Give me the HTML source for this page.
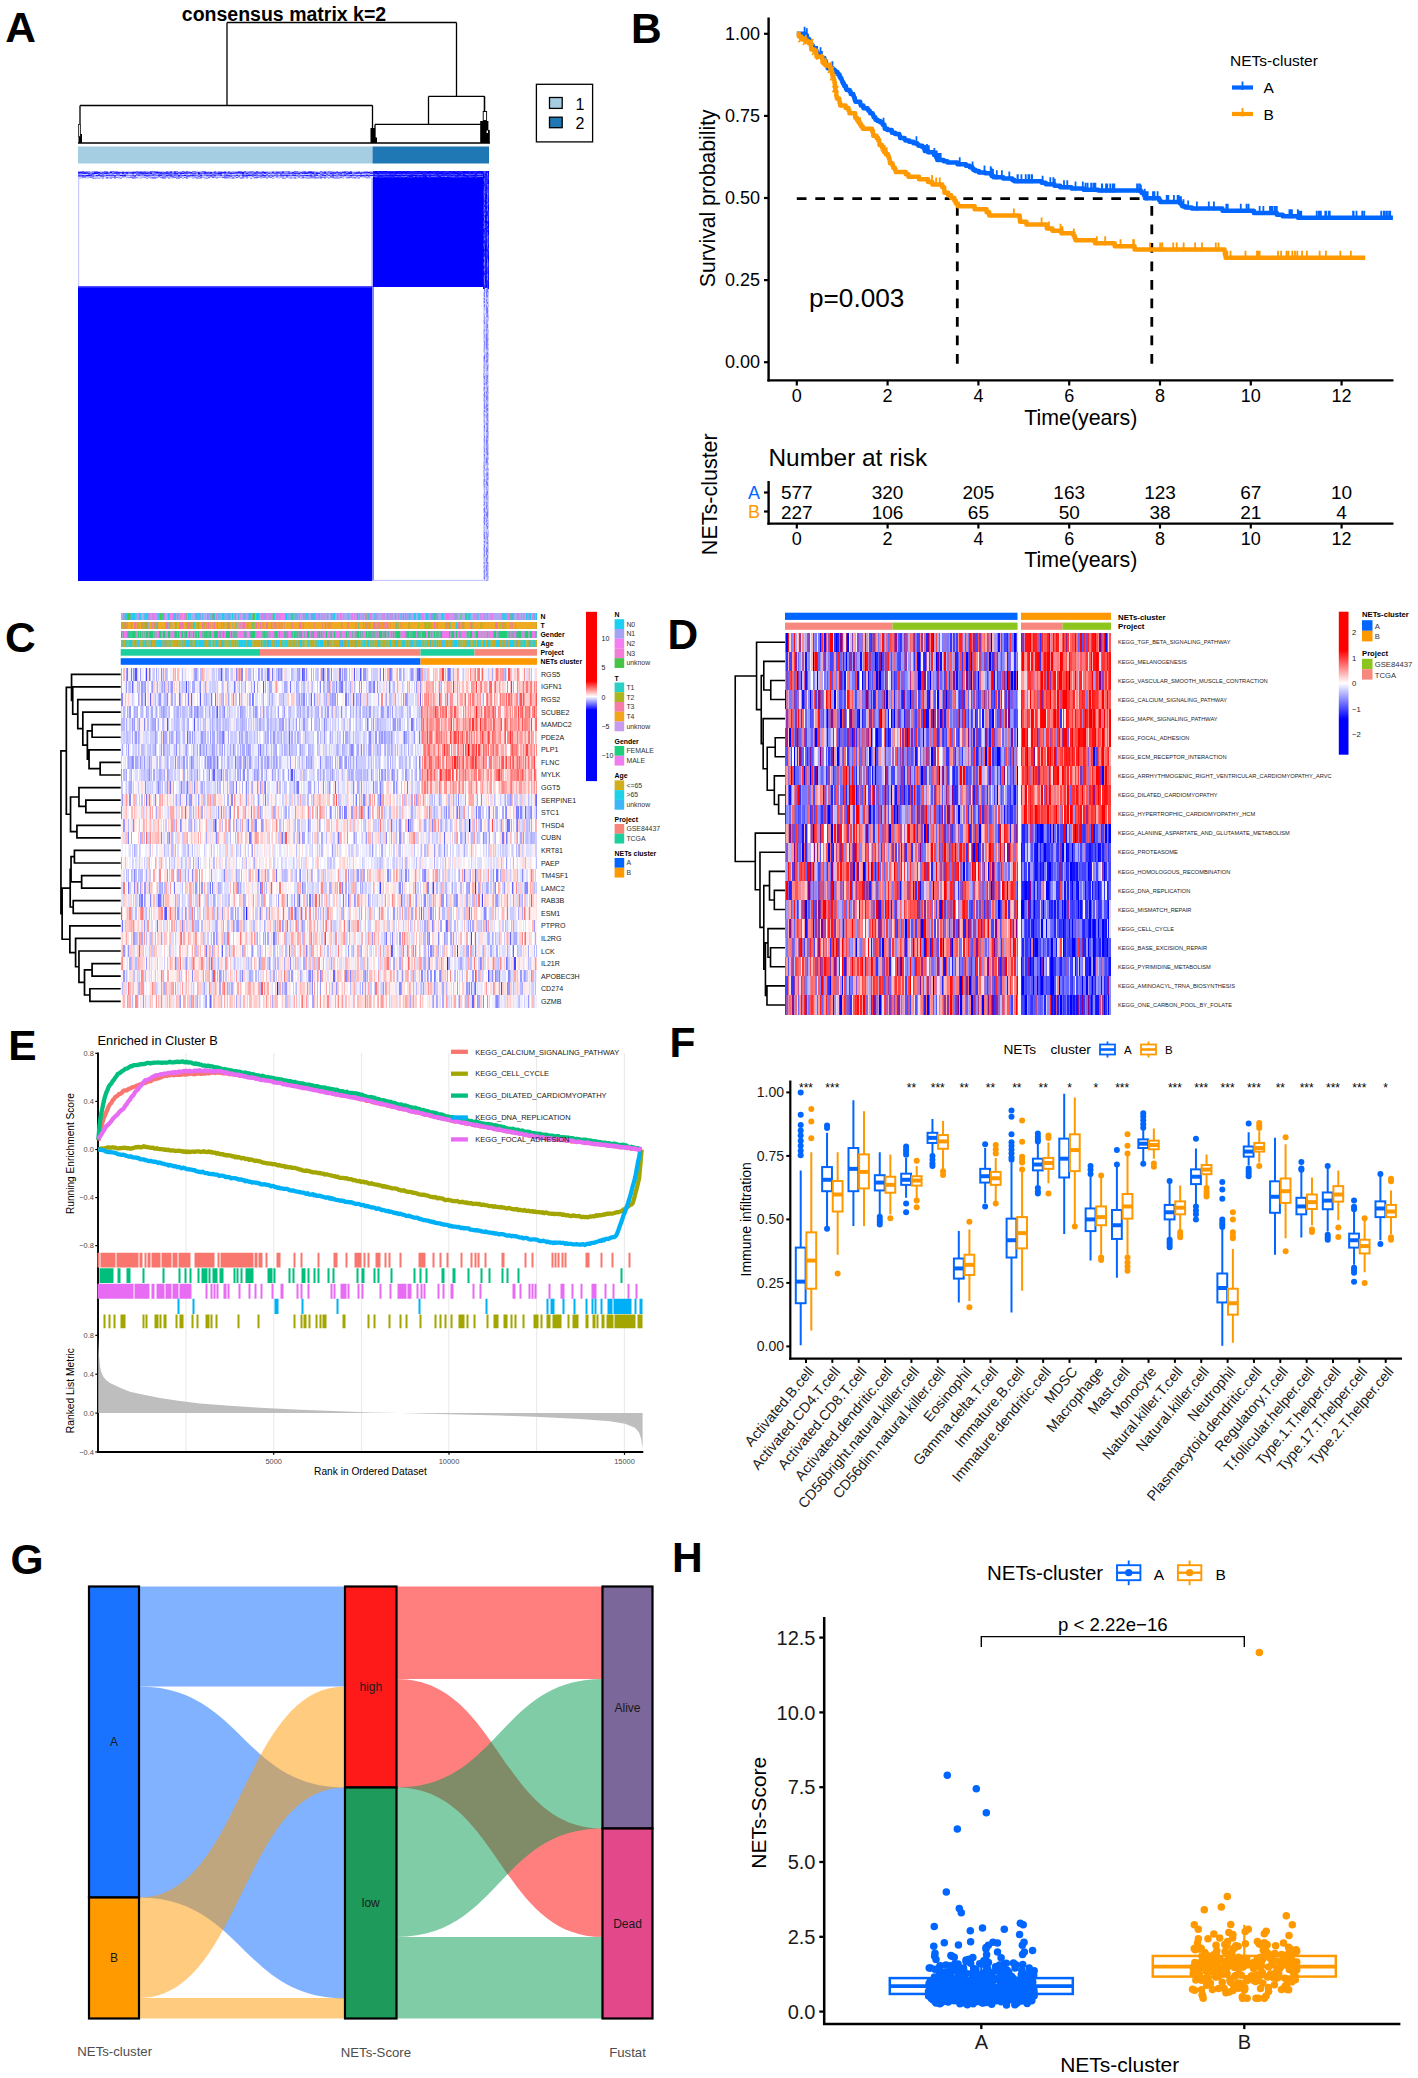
<!DOCTYPE html>
<html><head><meta charset="utf-8"><title>Figure</title><style>
html,body{margin:0;padding:0;background:#fff}
body{width:1418px;height:2078px;overflow:hidden;position:relative;font-family:"Liberation Sans",sans-serif}
.h{position:absolute}
svg{position:absolute;left:0;top:0}
</style></head><body>
<div class="h" style="left:78px;top:170.5px;width:294.5px;height:1px;background:linear-gradient(90deg,#aaf 0 2px,#99f 0 4.01px,#66f 0 6.01px,#aaf 0 8.01px,#99f 0 12.02px,#ccf 0 14.02px,#99f 0 16.03px,#88f 0 18.03px,#77f 0 20.03px,#ccf 0 22.04px,#bbf 0 24.04px,#ccf 0 26.04px,#77f 0 28.05px,#88f 0 30.05px,#ddf 0 32.05px,#66f 0 36.06px,#88f 0 40.07px,#ccf 0 42.07px,#ddf 0 44.07px,#99f 0 46.08px,#ddf 0 48.08px,#ccf 0 50.09px,#bbf 0 52.09px,#ddf 0 54.09px,#aaf 0 58.1px,#77f 0 60.1px,#99f 0 62.11px,#88f 0 64.11px,#99f 0 66.11px,#88f 0 68.12px,#aaf 0 70.12px,#bbf 0 72.12px,#66f 0 76.13px,#77f 0 78.13px,#88f 0 80.14px,#bbf 0 86.15px,#ddf 0 88.15px,#77f 0 90.15px,#aaf 0 92.16px,#77f 0 94.16px,#aaf 0 96.16px,#66f 0 98.17px,#77f 0 100.17px,#ddf 0 102.17px,#bbf 0 104.18px,#66f 0 106.18px,#aaf 0 108.18px,#66f 0 110.19px,#aaf 0 112.19px,#ddf 0 114.19px,#88f 0 116.2px,#77f 0 118.2px,#bbf 0 120.2px,#ccf 0 122.21px,#bbf 0 124.21px,#66f 0 126.21px,#77f 0 128.22px,#ccf 0 130.22px,#bbf 0 132.22px,#ccf 0 134.23px,#ddf 0 136.23px,#77f 0 138.23px,#ccf 0 140.24px,#99f 0 142.24px,#aaf 0 144.24px,#ccf 0 146.25px,#88f 0 148.25px,#ccf 0 150.26px,#88f 0 152.26px,#ccf 0 154.26px,#aaf 0 156.27px,#bbf 0 160.27px,#66f 0 162.28px,#77f 0 164.28px,#bbf 0 166.28px,#66f 0 168.29px,#bbf 0 170.29px,#aaf 0 172.29px,#77f 0 174.3px,#88f 0 176.3px,#ccf 0 178.3px,#66f 0 180.31px,#bbf 0 184.31px,#77f 0 186.32px,#bbf 0 190.32px,#ccf 0 194.33px,#99f 0 196.33px,#bbf 0 198.34px,#99f 0 200.34px,#aaf 0 204.35px,#66f 0 206.35px,#99f 0 210.36px,#77f 0 212.36px,#ccf 0 216.37px,#66f 0 218.37px,#77f 0 220.37px,#bbf 0 222.38px,#ccf 0 224.38px,#88f 0 226.38px,#66f 0 228.39px,#ccf 0 230.39px,#66f 0 234.4px,#99f 0 236.4px,#aaf 0 238.4px,#ccf 0 240.41px,#ddf 0 242.41px,#66f 0 244.41px,#bbf 0 246.42px,#88f 0 248.42px,#bbf 0 250.43px,#77f 0 252.43px,#99f 0 254.43px,#bbf 0 256.44px,#ccf 0 258.44px,#88f 0 260.44px,#ddf 0 262.45px,#bbf 0 264.45px,#99f 0 266.45px,#77f 0 268.46px,#88f 0 270.46px,#bbf 0 272.46px,#66f 0 274.47px,#ccf 0 276.47px,#ddf 0 278.47px,#bbf 0 280.48px,#aaf 0 282.48px,#ddf 0 284.48px,#ccf 0 286.49px,#aaf 0 288.49px,#99f 0 290.49px,#ccf 0 292.5px,#aaf 0 294.5px)"></div>
<div class="h" style="left:78px;top:171.5px;width:294.5px;height:1px;background:linear-gradient(90deg,#22f 0 2px,#11f 0 4.01px,#44f 0 6.01px,#33f 0 8.01px,#44f 0 10.02px,#77f 0 12.02px,#88f 0 16.03px,#22f 0 18.03px,#33f 0 20.03px,#11f 0 22.04px,#88f 0 24.04px,#44f 0 26.04px,#55f 0 28.05px,#33f 0 30.05px,#66f 0 32.05px,#11f 0 34.06px,#88f 0 36.06px,#44f 0 38.06px,#33f 0 40.07px,#22f 0 42.07px,#33f 0 48.08px,#22f 0 50.09px,#66f 0 52.09px,#33f 0 54.09px,#22f 0 58.1px,#55f 0 60.1px,#33f 0 62.11px,#22f 0 64.11px,#44f 0 68.12px,#66f 0 70.12px,#44f 0 74.13px,#88f 0 76.13px,#44f 0 78.13px,#11f 0 80.14px,#22f 0 82.14px,#33f 0 84.14px,#66f 0 86.15px,#33f 0 88.15px,#44f 0 90.15px,#55f 0 92.16px,#22f 0 94.16px,#88f 0 96.16px,#33f 0 98.17px,#88f 0 100.17px,#44f 0 102.17px,#55f 0 104.18px,#77f 0 106.18px,#33f 0 108.18px,#55f 0 110.19px,#44f 0 112.19px,#22f 0 114.19px,#77f 0 116.2px,#88f 0 118.2px,#66f 0 120.2px,#33f 0 122.21px,#77f 0 126.21px,#22f 0 128.22px,#44f 0 130.22px,#55f 0 132.22px,#22f 0 134.23px,#66f 0 136.23px,#44f 0 138.23px,#77f 0 140.24px,#55f 0 142.24px,#33f 0 144.24px,#22f 0 148.25px,#66f 0 150.26px,#44f 0 152.26px,#66f 0 154.26px,#88f 0 156.27px,#55f 0 158.27px,#22f 0 162.28px,#33f 0 164.28px,#11f 0 166.28px,#66f 0 168.29px,#77f 0 170.29px,#55f 0 172.29px,#66f 0 174.3px,#77f 0 176.3px,#55f 0 178.3px,#44f 0 180.31px,#55f 0 182.31px,#66f 0 184.31px,#22f 0 186.32px,#11f 0 188.32px,#55f 0 190.32px,#88f 0 194.33px,#22f 0 196.33px,#88f 0 198.34px,#33f 0 200.34px,#44f 0 202.34px,#66f 0 204.35px,#33f 0 206.35px,#88f 0 210.36px,#55f 0 212.36px,#88f 0 214.36px,#22f 0 216.37px,#77f 0 220.37px,#88f 0 222.38px,#44f 0 224.38px,#55f 0 226.38px,#44f 0 230.39px,#22f 0 232.39px,#11f 0 234.4px,#33f 0 236.4px,#77f 0 238.4px,#55f 0 240.41px,#77f 0 242.41px,#88f 0 244.41px,#55f 0 246.42px,#33f 0 248.42px,#77f 0 252.43px,#66f 0 254.43px,#33f 0 256.44px,#55f 0 258.44px,#44f 0 260.44px,#33f 0 262.45px,#66f 0 264.45px,#33f 0 266.45px,#22f 0 268.46px,#88f 0 270.46px,#22f 0 272.46px,#33f 0 274.47px,#88f 0 276.47px,#55f 0 278.47px,#44f 0 280.48px,#22f 0 282.48px,#66f 0 284.48px,#44f 0 286.49px,#22f 0 288.49px,#33f 0 290.49px,#11f 0 292.5px,#55f 0 294.5px)"></div>
<div class="h" style="left:78px;top:172.5px;width:294.5px;height:1px;background:linear-gradient(90deg,#44f 0 2px,#77f 0 4.01px,#33f 0 6.01px,#22f 0 8.01px,#44f 0 10.02px,#33f 0 12.02px,#77f 0 14.02px,#22f 0 16.03px,#11f 0 20.03px,#55f 0 22.04px,#33f 0 24.04px,#66f 0 26.04px,#22f 0 30.05px,#66f 0 32.05px,#88f 0 34.06px,#55f 0 36.06px,#44f 0 38.06px,#33f 0 40.07px,#55f 0 42.07px,#88f 0 44.07px,#22f 0 46.08px,#88f 0 48.08px,#33f 0 50.09px,#77f 0 52.09px,#66f 0 54.09px,#33f 0 56.1px,#77f 0 60.1px,#55f 0 62.11px,#33f 0 64.11px,#22f 0 66.11px,#33f 0 68.12px,#11f 0 70.12px,#55f 0 72.12px,#11f 0 74.13px,#88f 0 76.13px,#77f 0 78.13px,#55f 0 80.14px,#66f 0 82.14px,#33f 0 84.14px,#44f 0 86.15px,#55f 0 88.15px,#22f 0 90.15px,#44f 0 92.16px,#66f 0 96.16px,#22f 0 100.17px,#77f 0 102.17px,#22f 0 104.18px,#11f 0 106.18px,#55f 0 108.18px,#44f 0 110.19px,#77f 0 112.19px,#55f 0 116.2px,#44f 0 118.2px,#88f 0 120.2px,#11f 0 122.21px,#55f 0 124.21px,#66f 0 126.21px,#33f 0 128.22px,#44f 0 130.22px,#55f 0 132.22px,#33f 0 134.23px,#88f 0 136.23px,#55f 0 140.24px,#11f 0 142.24px,#22f 0 144.24px,#77f 0 146.25px,#55f 0 148.25px,#88f 0 150.26px,#55f 0 152.26px,#22f 0 156.27px,#55f 0 158.27px,#66f 0 160.27px,#77f 0 162.28px,#44f 0 164.28px,#22f 0 166.28px,#88f 0 168.29px,#33f 0 170.29px,#88f 0 172.29px,#77f 0 176.3px,#33f 0 178.3px,#66f 0 182.31px,#44f 0 184.31px,#88f 0 186.32px,#33f 0 188.32px,#88f 0 190.32px,#55f 0 192.33px,#77f 0 196.33px,#55f 0 200.34px,#66f 0 202.34px,#55f 0 206.35px,#77f 0 210.36px,#44f 0 214.36px,#55f 0 216.37px,#22f 0 218.37px,#44f 0 220.37px,#22f 0 222.38px,#77f 0 224.38px,#33f 0 226.38px,#22f 0 230.39px,#66f 0 234.4px,#22f 0 236.4px,#77f 0 238.4px,#11f 0 240.41px,#22f 0 242.41px,#88f 0 244.41px,#77f 0 246.42px,#33f 0 248.42px,#77f 0 250.43px,#88f 0 252.43px,#22f 0 254.43px,#55f 0 256.44px,#33f 0 258.44px,#88f 0 260.44px,#66f 0 262.45px,#33f 0 264.45px,#88f 0 266.45px,#77f 0 268.46px,#33f 0 270.46px,#22f 0 272.46px,#11f 0 274.47px,#88f 0 276.47px,#55f 0 278.47px,#33f 0 280.48px,#55f 0 282.48px,#33f 0 284.48px,#77f 0 286.49px,#88f 0 292.5px,#44f 0 294.5px)"></div>
<div class="h" style="left:78px;top:173.5px;width:294.5px;height:1px;background:linear-gradient(90deg,#99f 0 4.01px,#ccf 0 10.02px,#77f 0 12.02px,#66f 0 16.03px,#ccf 0 18.03px,#ddf 0 20.03px,#66f 0 22.04px,#aaf 0 24.04px,#77f 0 26.04px,#bbf 0 28.05px,#aaf 0 30.05px,#99f 0 32.05px,#aaf 0 34.06px,#99f 0 36.06px,#ddf 0 38.06px,#88f 0 40.07px,#77f 0 42.07px,#ccf 0 44.07px,#aaf 0 46.08px,#88f 0 48.08px,#aaf 0 50.09px,#ccf 0 54.09px,#99f 0 56.1px,#ddf 0 58.1px,#66f 0 60.1px,#77f 0 62.11px,#88f 0 64.11px,#77f 0 66.11px,#88f 0 68.12px,#aaf 0 70.12px,#99f 0 74.13px,#66f 0 76.13px,#77f 0 78.13px,#bbf 0 80.14px,#66f 0 82.14px,#77f 0 88.15px,#aaf 0 90.15px,#66f 0 94.16px,#88f 0 96.16px,#77f 0 100.17px,#aaf 0 102.17px,#88f 0 104.18px,#ddf 0 106.18px,#aaf 0 110.19px,#ddf 0 112.19px,#aaf 0 114.19px,#88f 0 118.2px,#bbf 0 120.2px,#66f 0 122.21px,#88f 0 124.21px,#bbf 0 126.21px,#88f 0 128.22px,#99f 0 132.22px,#aaf 0 134.23px,#66f 0 136.23px,#88f 0 140.24px,#77f 0 142.24px,#66f 0 144.24px,#ddf 0 146.25px,#88f 0 150.26px,#bbf 0 152.26px,#aaf 0 154.26px,#ddf 0 156.27px,#ccf 0 158.27px,#aaf 0 160.27px,#ccf 0 162.28px,#bbf 0 164.28px,#66f 0 166.28px,#99f 0 170.29px,#66f 0 172.29px,#99f 0 174.3px,#66f 0 176.3px,#88f 0 178.3px,#77f 0 180.31px,#ccf 0 182.31px,#99f 0 184.31px,#77f 0 186.32px,#ddf 0 188.32px,#66f 0 190.32px,#ccf 0 192.33px,#aaf 0 194.33px,#ccf 0 196.33px,#99f 0 198.34px,#88f 0 200.34px,#ddf 0 202.34px,#66f 0 204.35px,#aaf 0 206.35px,#99f 0 210.36px,#aaf 0 212.36px,#bbf 0 214.36px,#88f 0 216.37px,#99f 0 218.37px,#bbf 0 220.37px,#88f 0 222.38px,#bbf 0 224.38px,#ddf 0 226.38px,#bbf 0 228.39px,#ddf 0 230.39px,#ccf 0 232.39px,#77f 0 234.4px,#aaf 0 236.4px,#66f 0 238.4px,#77f 0 240.41px,#ddf 0 242.41px,#66f 0 246.42px,#ccf 0 248.42px,#66f 0 250.43px,#aaf 0 252.43px,#99f 0 254.43px,#66f 0 256.44px,#bbf 0 258.44px,#99f 0 260.44px,#66f 0 262.45px,#88f 0 264.45px,#aaf 0 266.45px,#66f 0 268.46px,#77f 0 270.46px,#99f 0 272.46px,#ccf 0 274.47px,#88f 0 276.47px,#aaf 0 278.47px,#ccf 0 280.48px,#ddf 0 282.48px,#99f 0 284.48px,#ccf 0 286.49px,#aaf 0 288.49px,#88f 0 290.49px,#aaf 0 292.5px,#bbf 0 294.5px)"></div>
<div class="h" style="left:78px;top:174.5px;width:294.5px;height:1px;background:linear-gradient(90deg,#44f 0 2px,#55f 0 4.01px,#33f 0 6.01px,#55f 0 8.01px,#11f 0 12.02px,#33f 0 14.02px,#77f 0 16.03px,#88f 0 18.03px,#22f 0 20.03px,#33f 0 22.04px,#44f 0 24.04px,#66f 0 26.04px,#77f 0 28.05px,#33f 0 30.05px,#44f 0 36.06px,#33f 0 38.06px,#77f 0 42.07px,#11f 0 44.07px,#22f 0 48.08px,#88f 0 52.09px,#77f 0 54.09px,#55f 0 56.1px,#44f 0 58.1px,#88f 0 60.1px,#44f 0 62.11px,#88f 0 66.11px,#33f 0 68.12px,#44f 0 72.12px,#66f 0 74.13px,#55f 0 76.13px,#77f 0 78.13px,#66f 0 80.14px,#33f 0 82.14px,#22f 0 84.14px,#88f 0 88.15px,#22f 0 90.15px,#44f 0 92.16px,#33f 0 94.16px,#77f 0 96.16px,#55f 0 98.17px,#77f 0 100.17px,#22f 0 102.17px,#66f 0 104.18px,#44f 0 106.18px,#11f 0 108.18px,#66f 0 110.19px,#44f 0 112.19px,#33f 0 114.19px,#22f 0 116.2px,#55f 0 118.2px,#66f 0 120.2px,#88f 0 122.21px,#22f 0 124.21px,#88f 0 128.22px,#44f 0 130.22px,#55f 0 132.22px,#33f 0 134.23px,#66f 0 136.23px,#33f 0 138.23px,#88f 0 140.24px,#77f 0 142.24px,#44f 0 144.24px,#88f 0 146.25px,#66f 0 148.25px,#33f 0 152.26px,#66f 0 154.26px,#77f 0 156.27px,#66f 0 158.27px,#33f 0 160.27px,#66f 0 162.28px,#88f 0 164.28px,#33f 0 166.28px,#44f 0 168.29px,#22f 0 174.3px,#55f 0 176.3px,#33f 0 178.3px,#66f 0 184.31px,#22f 0 188.32px,#77f 0 190.32px,#66f 0 200.34px,#77f 0 202.34px,#44f 0 204.35px,#33f 0 206.35px,#44f 0 208.35px,#22f 0 210.36px,#44f 0 212.36px,#77f 0 214.36px,#33f 0 216.37px,#22f 0 218.37px,#66f 0 220.37px,#88f 0 222.38px,#55f 0 224.38px,#44f 0 228.39px,#11f 0 230.39px,#44f 0 232.39px,#33f 0 234.4px,#88f 0 236.4px,#44f 0 238.4px,#33f 0 240.41px,#88f 0 244.41px,#33f 0 246.42px,#22f 0 248.42px,#88f 0 250.43px,#44f 0 252.43px,#77f 0 254.43px,#33f 0 256.44px,#44f 0 258.44px,#77f 0 262.45px,#33f 0 264.45px,#55f 0 266.45px,#33f 0 268.46px,#66f 0 272.46px,#11f 0 274.47px,#44f 0 276.47px,#55f 0 280.48px,#33f 0 284.48px,#22f 0 286.49px,#55f 0 288.49px,#22f 0 290.49px,#44f 0 292.5px,#22f 0 294.5px)"></div>
<div class="h" style="left:78px;top:175.5px;width:294.5px;height:1px;background:linear-gradient(90deg,#77f 0 4.01px,#66f 0 8.01px,#88f 0 10.02px,#99f 0 12.02px,#88f 0 14.02px,#77f 0 16.03px,#aaf 0 20.03px,#ccf 0 22.04px,#77f 0 24.04px,#66f 0 26.04px,#aaf 0 28.05px,#ccf 0 32.05px,#aaf 0 34.06px,#bbf 0 36.06px,#66f 0 38.06px,#ddf 0 40.07px,#bbf 0 42.07px,#ccf 0 44.07px,#88f 0 46.08px,#77f 0 48.08px,#ccf 0 50.09px,#ddf 0 52.09px,#aaf 0 54.09px,#99f 0 56.1px,#66f 0 58.1px,#ddf 0 60.1px,#ccf 0 64.11px,#bbf 0 68.12px,#88f 0 70.12px,#99f 0 72.12px,#bbf 0 74.13px,#ccf 0 76.13px,#bbf 0 78.13px,#ccf 0 80.14px,#77f 0 82.14px,#bbf 0 84.14px,#99f 0 86.15px,#77f 0 88.15px,#99f 0 90.15px,#bbf 0 92.16px,#66f 0 96.16px,#aaf 0 98.17px,#99f 0 100.17px,#66f 0 102.17px,#99f 0 104.18px,#bbf 0 106.18px,#ddf 0 108.18px,#66f 0 110.19px,#77f 0 112.19px,#aaf 0 114.19px,#99f 0 118.2px,#bbf 0 120.2px,#66f 0 122.21px,#88f 0 124.21px,#bbf 0 126.21px,#ddf 0 128.22px,#aaf 0 132.22px,#77f 0 134.23px,#88f 0 136.23px,#99f 0 138.23px,#ccf 0 142.24px,#bbf 0 146.25px,#77f 0 148.25px,#99f 0 150.26px,#88f 0 152.26px,#66f 0 154.26px,#bbf 0 156.27px,#99f 0 158.27px,#ccf 0 160.27px,#77f 0 162.28px,#ddf 0 164.28px,#77f 0 170.29px,#ccf 0 172.29px,#bbf 0 174.3px,#88f 0 176.3px,#ccf 0 178.3px,#99f 0 180.31px,#aaf 0 182.31px,#66f 0 184.31px,#99f 0 186.32px,#77f 0 188.32px,#bbf 0 190.32px,#77f 0 192.33px,#aaf 0 194.33px,#66f 0 196.33px,#ccf 0 198.34px,#77f 0 200.34px,#bbf 0 202.34px,#99f 0 206.35px,#ccf 0 208.35px,#77f 0 210.36px,#bbf 0 214.36px,#ccf 0 216.37px,#bbf 0 218.37px,#aaf 0 220.37px,#88f 0 222.38px,#aaf 0 224.38px,#88f 0 226.38px,#ccf 0 228.39px,#aaf 0 232.39px,#66f 0 234.4px,#77f 0 236.4px,#88f 0 238.4px,#ddf 0 240.41px,#aaf 0 242.41px,#88f 0 244.41px,#bbf 0 246.42px,#99f 0 248.42px,#aaf 0 250.43px,#ddf 0 252.43px,#66f 0 254.43px,#77f 0 256.44px,#bbf 0 258.44px,#88f 0 260.44px,#bbf 0 262.45px,#aaf 0 264.45px,#99f 0 266.45px,#bbf 0 270.46px,#aaf 0 272.46px,#88f 0 274.47px,#bbf 0 276.47px,#ccf 0 278.47px,#88f 0 280.48px,#bbf 0 282.48px,#66f 0 284.48px,#99f 0 286.49px,#88f 0 288.49px,#bbf 0 290.49px,#77f 0 292.5px,#ccf 0 294.5px)"></div>
<div class="h" style="left:78px;top:176.5px;width:294.5px;height:1px;background:linear-gradient(90deg,#ccf 0 4.01px,#88f 0 8.01px,#ccf 0 10.02px,#aaf 0 12.02px,#77f 0 14.02px,#99f 0 16.03px,#ccf 0 18.03px,#bbf 0 20.03px,#ccf 0 24.04px,#aaf 0 26.04px,#ddf 0 28.05px,#66f 0 30.05px,#aaf 0 32.05px,#99f 0 34.06px,#88f 0 36.06px,#77f 0 40.07px,#aaf 0 42.07px,#bbf 0 44.07px,#aaf 0 46.08px,#ddf 0 48.08px,#aaf 0 50.09px,#88f 0 52.09px,#66f 0 54.09px,#77f 0 56.1px,#88f 0 60.1px,#ddf 0 62.11px,#bbf 0 64.11px,#aaf 0 66.11px,#88f 0 68.12px,#ccf 0 70.12px,#aaf 0 72.12px,#99f 0 74.13px,#77f 0 78.13px,#88f 0 80.14px,#ccf 0 82.14px,#77f 0 84.14px,#66f 0 86.15px,#99f 0 88.15px,#aaf 0 90.15px,#99f 0 92.16px,#ccf 0 94.16px,#88f 0 96.16px,#66f 0 98.17px,#99f 0 100.17px,#88f 0 102.17px,#77f 0 104.18px,#ccf 0 106.18px,#66f 0 108.18px,#88f 0 110.19px,#ccf 0 114.19px,#bbf 0 116.2px,#99f 0 118.2px,#88f 0 120.2px,#bbf 0 122.21px,#66f 0 124.21px,#aaf 0 128.22px,#ccf 0 130.22px,#66f 0 132.22px,#ccf 0 134.23px,#66f 0 136.23px,#99f 0 142.24px,#bbf 0 144.24px,#66f 0 148.25px,#77f 0 150.26px,#99f 0 152.26px,#ccf 0 154.26px,#77f 0 156.27px,#bbf 0 158.27px,#66f 0 160.27px,#bbf 0 162.28px,#99f 0 164.28px,#77f 0 166.28px,#ccf 0 168.29px,#99f 0 170.29px,#ccf 0 172.29px,#ddf 0 174.3px,#ccf 0 176.3px,#66f 0 180.31px,#88f 0 182.31px,#bbf 0 184.31px,#88f 0 188.32px,#aaf 0 190.32px,#99f 0 192.33px,#77f 0 194.33px,#ddf 0 196.33px,#ccf 0 198.34px,#aaf 0 200.34px,#ccf 0 202.34px,#aaf 0 204.35px,#99f 0 206.35px,#ccf 0 208.35px,#99f 0 210.36px,#bbf 0 212.36px,#99f 0 214.36px,#bbf 0 216.37px,#88f 0 218.37px,#ddf 0 220.37px,#88f 0 222.38px,#ccf 0 224.38px,#66f 0 226.38px,#99f 0 228.39px,#aaf 0 232.39px,#88f 0 236.4px,#77f 0 240.41px,#99f 0 242.41px,#66f 0 244.41px,#77f 0 248.42px,#aaf 0 252.43px,#99f 0 254.43px,#66f 0 256.44px,#99f 0 260.44px,#aaf 0 262.45px,#66f 0 264.45px,#bbf 0 266.45px,#ddf 0 268.46px,#88f 0 270.46px,#66f 0 272.46px,#88f 0 274.47px,#99f 0 276.47px,#77f 0 278.47px,#bbf 0 280.48px,#99f 0 282.48px,#ddf 0 284.48px,#ccf 0 286.49px,#aaf 0 288.49px,#99f 0 290.49px,#aaf 0 292.5px,#ddf 0 294.5px)"></div>
<div class="h" style="left:78px;top:177.5px;width:294.5px;height:1px;background:linear-gradient(90deg,#bbf 0 2px,#ccf 0 4.01px,#eef 0 8.01px,#ddf 0 10.02px,#eef 0 12.02px,#fff 0 14.02px,#99f 0 18.03px,#bbf 0 20.03px,#aaf 0 22.04px,#ddf 0 24.04px,#aaf 0 26.04px,#eef 0 28.05px,#aaf 0 30.05px,#ccf 0 32.05px,#99f 0 34.06px,#fff 0 36.06px,#aaf 0 38.06px,#fff 0 40.07px,#ccf 0 42.07px,#99f 0 44.07px,#fff 0 46.08px,#eef 0 52.09px,#fff 0 54.09px,#99f 0 56.1px,#aaf 0 58.1px,#ddf 0 62.11px,#ccf 0 64.11px,#fff 0 68.12px,#99f 0 70.12px,#eef 0 72.12px,#ccf 0 74.13px,#99f 0 78.13px,#ddf 0 80.14px,#fff 0 82.14px,#eef 0 84.14px,#99f 0 88.15px,#fff 0 90.15px,#aaf 0 92.16px,#ddf 0 96.16px,#fff 0 98.17px,#99f 0 102.17px,#fff 0 104.18px,#bbf 0 106.18px,#fff 0 108.18px,#99f 0 110.19px,#fff 0 114.19px,#bbf 0 116.2px,#eef 0 118.2px,#99f 0 120.2px,#aaf 0 122.21px,#bbf 0 124.21px,#fff 0 126.21px,#bbf 0 128.22px,#99f 0 130.22px,#ddf 0 132.22px,#fff 0 134.23px,#eef 0 138.23px,#bbf 0 140.24px,#fff 0 144.24px,#eef 0 146.25px,#bbf 0 148.25px,#aaf 0 150.26px,#ddf 0 152.26px,#bbf 0 154.26px,#99f 0 156.27px,#ccf 0 158.27px,#eef 0 162.28px,#99f 0 164.28px,#bbf 0 166.28px,#eef 0 168.29px,#bbf 0 170.29px,#fff 0 172.29px,#99f 0 174.3px,#ddf 0 176.3px,#ccf 0 180.31px,#fff 0 182.31px,#ccf 0 184.31px,#eef 0 188.32px,#aaf 0 190.32px,#fff 0 192.33px,#eef 0 194.33px,#aaf 0 196.33px,#eef 0 200.34px,#ccf 0 202.34px,#fff 0 204.35px,#99f 0 208.35px,#fff 0 210.36px,#ddf 0 212.36px,#aaf 0 214.36px,#ddf 0 216.37px,#99f 0 218.37px,#ccf 0 220.37px,#fff 0 222.38px,#ccf 0 224.38px,#bbf 0 226.38px,#ddf 0 228.39px,#bbf 0 230.39px,#aaf 0 232.39px,#ccf 0 236.4px,#aaf 0 238.4px,#bbf 0 240.41px,#ccf 0 242.41px,#99f 0 244.41px,#fff 0 246.42px,#aaf 0 248.42px,#fff 0 250.43px,#bbf 0 252.43px,#eef 0 254.43px,#ddf 0 256.44px,#aaf 0 262.45px,#eef 0 264.45px,#ccf 0 266.45px,#eef 0 268.46px,#ccf 0 272.46px,#fff 0 274.47px,#ccf 0 276.47px,#bbf 0 278.47px,#ccf 0 280.48px,#aaf 0 282.48px,#fff 0 288.49px,#ccf 0 290.49px,#ddf 0 294.5px)"></div>
<div class="h" style="left:372.5px;top:170.5px;width:110.5px;height:1px;background:linear-gradient(90deg,#22f 0 2.01px,#00f 0 4.02px,#22f 0 6.03px,#00f 0 8.04px,#11f 0 12.05px,#00f 0 14.06px,#22f 0 24.11px,#11f 0 28.13px,#22f 0 30.14px,#11f 0 32.15px,#22f 0 34.15px,#00f 0 36.16px,#22f 0 42.19px,#11f 0 44.2px,#00f 0 48.22px,#22f 0 50.23px,#11f 0 54.25px,#22f 0 56.25px,#00f 0 58.26px,#22f 0 60.27px,#11f 0 64.29px,#00f 0 66.3px,#22f 0 68.31px,#11f 0 72.33px,#22f 0 76.35px,#00f 0 78.35px,#22f 0 80.36px,#11f 0 82.37px,#22f 0 84.38px,#11f 0 86.39px,#22f 0 90.41px,#00f 0 92.42px,#11f 0 96.44px,#22f 0 100.45px,#11f 0 102.46px,#22f 0 104.47px,#11f 0 106.48px,#00f 0 108.49px,#11f 0 110.5px)"></div>
<div class="h" style="left:372.5px;top:171.5px;width:110.5px;height:1px;background:linear-gradient(90deg,#11f 0 2.01px,#00f 0 4.02px,#11f 0 6.03px,#22f 0 8.04px,#11f 0 12.05px,#22f 0 14.06px,#11f 0 18.08px,#00f 0 20.09px,#11f 0 22.1px,#00f 0 24.11px,#11f 0 28.13px,#00f 0 30.14px,#11f 0 32.15px,#00f 0 34.15px,#22f 0 36.16px,#11f 0 38.17px,#22f 0 40.18px,#11f 0 42.19px,#22f 0 48.22px,#11f 0 50.23px,#22f 0 52.24px,#11f 0 54.25px,#00f 0 56.25px,#11f 0 58.26px,#00f 0 60.27px,#22f 0 62.28px,#11f 0 64.29px,#22f 0 66.3px,#11f 0 70.32px,#22f 0 78.35px,#11f 0 80.36px,#00f 0 82.37px,#11f 0 84.38px,#22f 0 86.39px,#11f 0 88.4px,#22f 0 90.41px,#00f 0 92.42px,#11f 0 98.45px,#00f 0 100.45px,#22f 0 104.47px,#11f 0 106.48px,#22f 0 108.49px,#00f 0 110.5px)"></div>
<div class="h" style="left:372.5px;top:172.5px;width:110.5px;height:1px;background:linear-gradient(90deg,#22f 0 2.01px,#11f 0 6.03px,#22f 0 8.04px,#11f 0 10.05px,#22f 0 16.07px,#11f 0 18.08px,#22f 0 22.1px,#11f 0 26.12px,#22f 0 28.13px,#11f 0 30.14px,#22f 0 32.15px,#11f 0 36.16px,#22f 0 42.19px,#11f 0 48.22px,#00f 0 50.23px,#22f 0 54.25px,#11f 0 56.25px,#22f 0 62.28px,#11f 0 66.3px,#00f 0 70.32px,#22f 0 72.33px,#11f 0 74.34px,#00f 0 76.35px,#22f 0 78.35px,#11f 0 82.37px,#00f 0 86.39px,#22f 0 88.4px,#11f 0 90.41px,#22f 0 92.42px,#11f 0 96.44px,#22f 0 98.45px,#11f 0 100.45px,#22f 0 102.46px,#11f 0 104.47px,#22f 0 108.49px,#11f 0 110.5px)"></div>
<div class="h" style="left:372.5px;top:173.5px;width:110.5px;height:1px;background:linear-gradient(90deg,#44f 0 2.01px,#66f 0 4.02px,#33f 0 6.03px,#55f 0 8.04px,#66f 0 10.05px,#55f 0 12.05px,#44f 0 14.06px,#66f 0 16.07px,#33f 0 24.11px,#77f 0 26.12px,#44f 0 28.13px,#55f 0 30.14px,#66f 0 32.15px,#44f 0 34.15px,#66f 0 36.16px,#44f 0 38.17px,#33f 0 40.18px,#44f 0 42.19px,#55f 0 46.21px,#77f 0 48.22px,#55f 0 50.23px,#11f 0 52.24px,#33f 0 54.25px,#55f 0 56.25px,#33f 0 58.26px,#66f 0 60.27px,#44f 0 62.28px,#33f 0 64.29px,#11f 0 66.3px,#55f 0 68.31px,#33f 0 70.32px,#11f 0 72.33px,#22f 0 74.34px,#33f 0 78.35px,#44f 0 82.37px,#55f 0 84.38px,#22f 0 86.39px,#11f 0 88.4px,#44f 0 90.41px,#11f 0 92.42px,#77f 0 94.43px,#66f 0 96.44px,#44f 0 98.45px,#55f 0 102.46px,#11f 0 104.47px,#66f 0 108.49px,#55f 0 110.5px)"></div>
<div class="h" style="left:372.5px;top:174.5px;width:110.5px;height:1px;background:linear-gradient(90deg,#11f 0 2.01px,#22f 0 6.03px,#11f 0 10.05px,#22f 0 12.05px,#11f 0 22.1px,#00f 0 26.12px,#11f 0 30.14px,#00f 0 32.15px,#22f 0 34.15px,#11f 0 40.18px,#00f 0 44.2px,#22f 0 46.21px,#11f 0 54.25px,#22f 0 56.25px,#11f 0 60.27px,#22f 0 68.31px,#11f 0 70.32px,#22f 0 78.35px,#11f 0 80.36px,#22f 0 82.37px,#11f 0 88.4px,#22f 0 90.41px,#00f 0 94.43px,#22f 0 98.45px,#11f 0 100.45px,#00f 0 102.46px,#11f 0 106.48px,#22f 0 108.49px,#11f 0 110.5px)"></div>
<div class="h" style="left:372.5px;top:175.5px;width:110.5px;height:1px;background:linear-gradient(90deg,#55f 0 4.02px,#22f 0 10.05px,#33f 0 12.05px,#44f 0 14.06px,#33f 0 18.08px,#22f 0 22.1px,#66f 0 24.11px,#44f 0 26.12px,#33f 0 28.13px,#55f 0 30.14px,#66f 0 32.15px,#77f 0 34.15px,#33f 0 36.16px,#11f 0 40.18px,#66f 0 42.19px,#33f 0 44.2px,#44f 0 46.21px,#33f 0 48.22px,#44f 0 50.23px,#11f 0 54.25px,#66f 0 56.25px,#22f 0 58.26px,#66f 0 62.28px,#55f 0 64.29px,#22f 0 66.3px,#11f 0 68.31px,#66f 0 70.32px,#55f 0 72.33px,#77f 0 74.34px,#33f 0 76.35px,#44f 0 78.35px,#55f 0 82.37px,#22f 0 86.39px,#55f 0 88.4px,#44f 0 90.41px,#33f 0 92.42px,#22f 0 94.43px,#11f 0 96.44px,#44f 0 98.45px,#33f 0 102.46px,#22f 0 104.47px,#66f 0 110.5px)"></div>
<div class="h" style="left:372.5px;top:176.5px;width:110.5px;height:1px;background:linear-gradient(90deg,#00f 0 2.01px,#22f 0 4.02px,#11f 0 6.03px,#22f 0 12.05px,#11f 0 14.06px,#22f 0 16.07px,#11f 0 18.08px,#22f 0 22.1px,#11f 0 26.12px,#22f 0 32.15px,#00f 0 34.15px,#22f 0 40.18px,#11f 0 42.19px,#00f 0 44.2px,#22f 0 46.21px,#00f 0 48.22px,#11f 0 52.24px,#00f 0 54.25px,#11f 0 56.25px,#22f 0 58.26px,#11f 0 64.29px,#22f 0 66.3px,#00f 0 72.33px,#11f 0 74.34px,#00f 0 76.35px,#11f 0 78.35px,#22f 0 88.4px,#11f 0 92.42px,#22f 0 94.43px,#11f 0 96.44px,#22f 0 100.45px,#00f 0 102.46px,#22f 0 104.47px,#11f 0 106.48px,#00f 0 110.5px)"></div>
<div class="h" style="left:372.5px;top:177.5px;width:110.5px;height:1px;background:linear-gradient(90deg,#11f 0 4.02px,#00f 0 8.04px,#11f 0 10.05px,#00f 0 12.05px,#22f 0 14.06px,#00f 0 16.07px,#11f 0 20.09px,#22f 0 22.1px,#00f 0 24.11px,#22f 0 26.12px,#11f 0 28.13px,#22f 0 30.14px,#11f 0 36.16px,#00f 0 38.17px,#11f 0 44.2px,#22f 0 46.21px,#00f 0 48.22px,#22f 0 52.24px,#11f 0 56.25px,#22f 0 58.26px,#11f 0 64.29px,#22f 0 70.32px,#11f 0 74.34px,#22f 0 76.35px,#11f 0 80.36px,#22f 0 82.37px,#11f 0 84.38px,#00f 0 86.39px,#22f 0 88.4px,#00f 0 90.41px,#22f 0 92.42px,#11f 0 94.43px,#22f 0 96.44px,#00f 0 98.45px,#11f 0 100.45px,#00f 0 102.46px,#22f 0 104.47px,#11f 0 108.49px,#22f 0 110.5px)"></div>
<div class="h" style="left:483px;top:170.5px;width:1px;height:410.5px;background:linear-gradient(180deg,#33f 0 2px,#00f 0 7px,#11f 0 9px,#33f 0 10px,#00f 0 13px,#22f 0 14px,#00f 0 16px,#11f 0 19px,#33f 0 20px,#22f 0 26px,#11f 0 34px,#22f 0 37px,#11f 0 38px,#33f 0 40px,#22f 0 43px,#11f 0 45px,#22f 0 47px,#00f 0 50px,#33f 0 53px,#11f 0 55px,#33f 0 58px,#00f 0 60px,#11f 0 63px,#33f 0 65px,#11f 0 68px,#22f 0 70px,#00f 0 71px,#22f 0 73px,#33f 0 75px,#11f 0 78px,#00f 0 81px,#11f 0 86px,#33f 0 88px,#00f 0 91px,#22f 0 92px,#33f 0 95px,#00f 0 98px,#33f 0 99px,#11f 0 101px,#00f 0 103px,#11f 0 105px,#22f 0 108px,#11f 0 118px,#eef 0 121px,#ddf 0 123px,#ccf 0 125px,#ddf 0 127px,#bbf 0 128px,#ccf 0 130px,#bbf 0 132px,#ddf 0 135px,#ccf 0 136px,#ddf 0 142px,#ccf 0 144px,#ddf 0 149px,#bbf 0 151px,#ccf 0 152px,#ddf 0 158px,#ccf 0 164px,#ddf 0 166px,#ccf 0 168px,#ddf 0 170px,#ccf 0 171px,#eef 0 173px,#ddf 0 179px,#ccf 0 181px,#eef 0 185px,#ccf 0 186px,#bbf 0 188px,#ccf 0 191px,#ddf 0 193px,#ccf 0 195px,#bbf 0 197px,#ccf 0 202px,#bbf 0 207px,#ccf 0 214px,#eef 0 215px,#ccf 0 217px,#bbf 0 220px,#ddf 0 221px,#eef 0 223px,#bbf 0 225px,#ddf 0 226px,#ccf 0 229px,#bbf 0 230px,#ddf 0 231px,#eef 0 232px,#ddf 0 234px,#ccf 0 235px,#ddf 0 239px,#ccf 0 246px,#ddf 0 249px,#bbf 0 250px,#ddf 0 256px,#ccf 0 257px,#ddf 0 265px,#eef 0 267px,#ccf 0 269px,#ddf 0 275px,#ccf 0 277px,#ddf 0 289px,#eef 0 290px,#ddf 0 291px,#ccf 0 294px,#bbf 0 297px,#ccf 0 298px,#ddf 0 299px,#bbf 0 302px,#ccf 0 305px,#ddf 0 307px,#eef 0 308px,#bbf 0 314px,#ccf 0 316px,#ddf 0 320px,#eef 0 322px,#ddf 0 323px,#bbf 0 325px,#ccf 0 328px,#ddf 0 330px,#ccf 0 332px,#eef 0 333px,#bbf 0 335px,#eef 0 337px,#bbf 0 339px,#ccf 0 341px,#bbf 0 342px,#eef 0 345px,#ccf 0 351px,#bbf 0 352px,#ddf 0 356px,#ccf 0 357px,#ddf 0 359px,#ccf 0 363px,#bbf 0 364px,#ccf 0 367px,#ddf 0 370px,#bbf 0 371px,#eef 0 373px,#ccf 0 375px,#ddf 0 376px,#ccf 0 378px,#bbf 0 379px,#ddf 0 382px,#ccf 0 388px,#ddf 0 391px,#bbf 0 393px,#ddf 0 395px,#bbf 0 397px,#ddf 0 399px,#ccf 0 402px,#ddf 0 405px,#ccf 0 407px,#ddf 0 413px)"></div>
<div class="h" style="left:484px;top:170.5px;width:1px;height:410.5px;background:linear-gradient(180deg,#55f 0 2px,#44f 0 5px,#22f 0 7px,#55f 0 11px,#44f 0 12px,#22f 0 15px,#55f 0 18px,#66f 0 19px,#33f 0 20px,#77f 0 22px,#44f 0 24px,#66f 0 27px,#55f 0 29px,#33f 0 31px,#66f 0 34px,#22f 0 36px,#77f 0 38px,#44f 0 40px,#33f 0 42px,#77f 0 44px,#44f 0 46px,#77f 0 50px,#33f 0 52px,#66f 0 57px,#33f 0 59px,#22f 0 61px,#33f 0 63px,#44f 0 67px,#66f 0 69px,#22f 0 72px,#44f 0 74px,#55f 0 78px,#22f 0 80px,#44f 0 82px,#22f 0 85px,#44f 0 86px,#66f 0 87px,#77f 0 88px,#66f 0 91px,#77f 0 94px,#44f 0 97px,#55f 0 98px,#77f 0 100px,#44f 0 102px,#22f 0 104px,#55f 0 105px,#66f 0 108px,#77f 0 112px,#66f 0 114px,#33f 0 116px,#22f 0 118px,#77f 0 120px,#99f 0 121px,#77f 0 123px,#88f 0 124px,#77f 0 126px,#bbf 0 127px,#77f 0 129px,#aaf 0 130px,#77f 0 132px,#ccf 0 133px,#77f 0 136px,#aaf 0 138px,#bbf 0 140px,#ccf 0 143px,#aaf 0 145px,#99f 0 151px,#77f 0 153px,#bbf 0 158px,#99f 0 161px,#bbf 0 163px,#99f 0 167px,#bbf 0 170px,#88f 0 174px,#99f 0 176px,#88f 0 177px,#99f 0 179px,#aaf 0 182px,#bbf 0 184px,#77f 0 185px,#66f 0 188px,#88f 0 191px,#aaf 0 195px,#99f 0 198px,#bbf 0 199px,#aaf 0 200px,#99f 0 201px,#bbf 0 205px,#77f 0 208px,#aaf 0 210px,#bbf 0 212px,#77f 0 214px,#aaf 0 216px,#77f 0 218px,#aaf 0 221px,#77f 0 225px,#88f 0 227px,#aaf 0 228px,#99f 0 232px,#88f 0 235px,#77f 0 237px,#88f 0 238px,#bbf 0 239px,#77f 0 241px,#bbf 0 243px,#88f 0 245px,#aaf 0 249px,#99f 0 252px,#bbf 0 254px,#77f 0 257px,#99f 0 261px,#bbf 0 263px,#aaf 0 265px,#77f 0 267px,#bbf 0 268px,#88f 0 271px,#99f 0 272px,#aaf 0 277px,#88f 0 281px,#bbf 0 283px,#77f 0 285px,#99f 0 288px,#aaf 0 294px,#99f 0 296px,#88f 0 298px,#aaf 0 300px,#bbf 0 303px,#aaf 0 305px,#88f 0 306px,#aaf 0 307px,#99f 0 308px,#88f 0 311px,#aaf 0 314px,#99f 0 317px,#bbf 0 320px,#99f 0 322px,#bbf 0 325px,#77f 0 327px,#99f 0 329px,#bbf 0 330px,#aaf 0 331px,#88f 0 334px,#bbf 0 336px,#99f 0 337px,#77f 0 341px,#aaf 0 343px,#77f 0 345px,#88f 0 347px,#77f 0 350px,#88f 0 352px,#77f 0 354px,#bbf 0 356px,#aaf 0 359px,#bbf 0 361px,#77f 0 362px,#99f 0 364px,#77f 0 368px,#bbf 0 370px,#77f 0 372px,#aaf 0 374px,#77f 0 376px,#88f 0 378px,#99f 0 379px,#88f 0 382px,#99f 0 383px,#88f 0 386px,#bbf 0 391px,#99f 0 393px,#aaf 0 395px,#88f 0 396px,#aaf 0 399px,#88f 0 402px,#aaf 0 403px,#77f 0 404px,#99f 0 406px,#77f 0 408px,#aaf 0 409px,#bbf 0 411px)"></div>
<div class="h" style="left:485px;top:170.5px;width:1px;height:410.5px;background:linear-gradient(180deg,#33f 0 3px,#00f 0 4px,#22f 0 11px,#33f 0 13px,#22f 0 18px,#11f 0 20px,#33f 0 21px,#22f 0 24px,#11f 0 29px,#00f 0 32px,#22f 0 33px,#11f 0 38px,#22f 0 40px,#11f 0 41px,#33f 0 44px,#00f 0 47px,#11f 0 48px,#22f 0 49px,#00f 0 52px,#22f 0 57px,#11f 0 59px,#33f 0 62px,#22f 0 67px,#33f 0 70px,#11f 0 73px,#22f 0 74px,#00f 0 81px,#22f 0 83px,#11f 0 86px,#22f 0 88px,#11f 0 89px,#22f 0 99px,#11f 0 101px,#22f 0 102px,#11f 0 108px,#00f 0 111px,#11f 0 112px,#22f 0 117px,#ddf 0 119px,#ccf 0 122px,#eef 0 125px,#ddf 0 137px,#ccf 0 139px,#eef 0 142px,#bbf 0 143px,#eef 0 146px,#ccf 0 148px,#ddf 0 151px,#ccf 0 154px,#ddf 0 155px,#bbf 0 157px,#ddf 0 158px,#ccf 0 160px,#ddf 0 163px,#ccf 0 166px,#bbf 0 168px,#ccf 0 178px,#ddf 0 180px,#eef 0 181px,#ccf 0 185px,#ddf 0 189px,#ccf 0 193px,#bbf 0 195px,#ddf 0 198px,#ccf 0 200px,#eef 0 202px,#ccf 0 204px,#bbf 0 206px,#ccf 0 210px,#bbf 0 214px,#eef 0 216px,#ccf 0 218px,#ddf 0 220px,#ccf 0 222px,#ddf 0 224px,#bbf 0 226px,#ddf 0 229px,#bbf 0 231px,#ccf 0 233px,#ddf 0 235px,#bbf 0 237px,#ccf 0 239px,#ddf 0 240px,#bbf 0 241px,#ccf 0 242px,#eef 0 243px,#ccf 0 247px,#eef 0 250px,#ddf 0 251px,#ccf 0 254px,#eef 0 256px,#ddf 0 259px,#eef 0 261px,#ddf 0 263px,#eef 0 264px,#ddf 0 269px,#ccf 0 270px,#ddf 0 272px,#ccf 0 275px,#ddf 0 280px,#ccf 0 282px,#ddf 0 286px,#ccf 0 290px,#bbf 0 292px,#ccf 0 295px,#eef 0 298px,#bbf 0 300px,#eef 0 302px,#ccf 0 306px,#eef 0 308px,#ccf 0 311px,#eef 0 312px,#bbf 0 314px,#ccf 0 319px,#eef 0 321px,#ccf 0 323px,#bbf 0 327px,#eef 0 328px,#ccf 0 332px,#ddf 0 334px,#bbf 0 335px,#ddf 0 337px,#ccf 0 339px,#ddf 0 340px,#bbf 0 342px,#ccf 0 346px,#bbf 0 348px,#ddf 0 350px,#ccf 0 351px,#bbf 0 352px,#ddf 0 361px,#ccf 0 363px,#ddf 0 366px,#bbf 0 370px,#ccf 0 372px,#ddf 0 376px,#eef 0 378px,#ddf 0 379px,#ccf 0 381px,#ddf 0 386px,#ccf 0 393px,#ddf 0 394px,#ccf 0 402px,#ddf 0 404px,#ccf 0 406px,#ddf 0 411px)"></div>
<div class="h" style="left:486px;top:170.5px;width:1px;height:410.5px;background:linear-gradient(180deg,#11f 0 3px,#22f 0 10px,#33f 0 12px,#22f 0 15px,#11f 0 18px,#22f 0 23px,#00f 0 28px,#22f 0 31px,#00f 0 33px,#33f 0 35px,#00f 0 38px,#22f 0 41px,#11f 0 50px,#00f 0 52px,#11f 0 55px,#22f 0 57px,#11f 0 62px,#22f 0 68px,#11f 0 71px,#22f 0 72px,#11f 0 76px,#22f 0 78px,#11f 0 80px,#33f 0 81px,#11f 0 82px,#22f 0 84px,#33f 0 85px,#11f 0 89px,#00f 0 92px,#22f 0 98px,#11f 0 101px,#00f 0 103px,#33f 0 105px,#11f 0 107px,#22f 0 110px,#11f 0 114px,#00f 0 116px,#22f 0 117px,#bbf 0 118px,#88f 0 120px,#77f 0 125px,#88f 0 126px,#99f 0 127px,#ccf 0 128px,#77f 0 130px,#99f 0 132px,#bbf 0 134px,#77f 0 136px,#88f 0 138px,#77f 0 142px,#aaf 0 144px,#88f 0 146px,#bbf 0 149px,#99f 0 159px,#66f 0 160px,#bbf 0 162px,#77f 0 174px,#66f 0 175px,#88f 0 176px,#77f 0 177px,#99f 0 179px,#bbf 0 182px,#88f 0 187px,#aaf 0 189px,#88f 0 191px,#77f 0 192px,#bbf 0 197px,#99f 0 198px,#bbf 0 203px,#aaf 0 205px,#99f 0 207px,#bbf 0 208px,#77f 0 209px,#99f 0 211px,#77f 0 213px,#99f 0 215px,#aaf 0 217px,#bbf 0 220px,#99f 0 221px,#77f 0 223px,#aaf 0 225px,#77f 0 229px,#bbf 0 231px,#aaf 0 233px,#77f 0 235px,#88f 0 239px,#99f 0 242px,#bbf 0 244px,#99f 0 247px,#aaf 0 250px,#bbf 0 252px,#77f 0 254px,#bbf 0 256px,#aaf 0 259px,#77f 0 261px,#bbf 0 263px,#aaf 0 265px,#99f 0 267px,#88f 0 269px,#77f 0 271px,#88f 0 274px,#aaf 0 275px,#99f 0 277px,#77f 0 279px,#99f 0 281px,#88f 0 282px,#99f 0 283px,#bbf 0 286px,#aaf 0 287px,#77f 0 292px,#aaf 0 294px,#ccf 0 297px,#99f 0 299px,#bbf 0 301px,#aaf 0 302px,#99f 0 305px,#aaf 0 307px,#99f 0 310px,#77f 0 312px,#88f 0 314px,#bbf 0 316px,#99f 0 317px,#aaf 0 321px,#99f 0 323px,#77f 0 325px,#88f 0 328px,#bbf 0 331px,#88f 0 333px,#99f 0 335px,#77f 0 338px,#bbf 0 341px,#88f 0 343px,#77f 0 345px,#bbf 0 347px,#99f 0 349px,#88f 0 351px,#bbf 0 353px,#77f 0 355px,#99f 0 356px,#bbf 0 361px,#88f 0 363px,#aaf 0 365px,#99f 0 367px,#aaf 0 368px,#bbf 0 371px,#99f 0 373px,#ccf 0 376px,#77f 0 378px,#88f 0 381px,#77f 0 384px,#bbf 0 387px,#77f 0 390px,#88f 0 392px,#bbf 0 394px,#77f 0 400px,#bbf 0 402px,#88f 0 404px,#99f 0 406px,#ccf 0 409px,#88f 0 411px)"></div>
<div class="h" style="left:487px;top:170.5px;width:1px;height:410.5px;background:linear-gradient(180deg,#22f 0 2px,#77f 0 4px,#44f 0 8px,#33f 0 11px,#22f 0 13px,#77f 0 14px,#55f 0 16px,#33f 0 18px,#44f 0 19px,#55f 0 22px,#77f 0 24px,#55f 0 25px,#66f 0 31px,#33f 0 32px,#77f 0 34px,#55f 0 37px,#77f 0 40px,#22f 0 45px,#66f 0 48px,#77f 0 50px,#22f 0 53px,#66f 0 55px,#22f 0 58px,#77f 0 59px,#22f 0 61px,#55f 0 64px,#44f 0 65px,#77f 0 68px,#55f 0 72px,#77f 0 75px,#66f 0 76px,#44f 0 78px,#22f 0 81px,#55f 0 83px,#33f 0 86px,#44f 0 88px,#77f 0 96px,#44f 0 99px,#55f 0 100px,#44f 0 103px,#77f 0 105px,#55f 0 106px,#77f 0 109px,#33f 0 117px,#77f 0 121px,#99f 0 122px,#aaf 0 124px,#77f 0 126px,#bbf 0 131px,#77f 0 133px,#ccf 0 136px,#77f 0 143px,#88f 0 146px,#99f 0 147px,#ccf 0 148px,#aaf 0 151px,#bbf 0 153px,#77f 0 157px,#aaf 0 159px,#bbf 0 160px,#aaf 0 163px,#99f 0 168px,#77f 0 169px,#88f 0 171px,#99f 0 176px,#88f 0 178px,#aaf 0 180px,#bbf 0 181px,#77f 0 183px,#88f 0 184px,#aaf 0 185px,#77f 0 186px,#99f 0 188px,#77f 0 191px,#bbf 0 194px,#88f 0 196px,#77f 0 198px,#88f 0 200px,#bbf 0 204px,#77f 0 208px,#99f 0 210px,#77f 0 211px,#bbf 0 212px,#99f 0 213px,#bbf 0 216px,#77f 0 219px,#88f 0 221px,#aaf 0 224px,#88f 0 228px,#99f 0 231px,#bbf 0 233px,#88f 0 236px,#bbf 0 237px,#77f 0 240px,#bbf 0 242px,#77f 0 245px,#88f 0 250px,#aaf 0 252px,#88f 0 256px,#77f 0 257px,#88f 0 258px,#77f 0 261px,#99f 0 265px,#77f 0 267px,#aaf 0 269px,#88f 0 272px,#99f 0 275px,#88f 0 276px,#99f 0 278px,#88f 0 281px,#77f 0 283px,#66f 0 284px,#aaf 0 287px,#88f 0 288px,#99f 0 289px,#88f 0 292px,#99f 0 293px,#aaf 0 297px,#99f 0 299px,#bbf 0 301px,#99f 0 302px,#77f 0 305px,#aaf 0 307px,#88f 0 309px,#bbf 0 311px,#77f 0 315px,#bbf 0 318px,#aaf 0 320px,#77f 0 323px,#88f 0 324px,#bbf 0 327px,#99f 0 329px,#bbf 0 331px,#aaf 0 334px,#88f 0 335px,#aaf 0 336px,#bbf 0 338px,#99f 0 341px,#77f 0 347px,#bbf 0 349px,#99f 0 350px,#bbf 0 352px,#77f 0 353px,#bbf 0 355px,#77f 0 358px,#ccf 0 361px,#bbf 0 363px,#77f 0 364px,#aaf 0 365px,#88f 0 369px,#aaf 0 371px,#77f 0 373px,#aaf 0 378px,#77f 0 381px,#bbf 0 384px,#77f 0 386px,#88f 0 388px,#aaf 0 390px,#bbf 0 391px,#77f 0 393px,#99f 0 395px,#aaf 0 400px,#99f 0 405px,#aaf 0 410px,#99f 0 412px)"></div>
<div class="h" style="left:488px;top:170.5px;width:1px;height:410.5px;background:linear-gradient(180deg,#00f 0 3px,#11f 0 6px,#33f 0 8px,#11f 0 10px,#00f 0 13px,#33f 0 15px,#22f 0 18px,#33f 0 25px,#22f 0 28px,#11f 0 31px,#33f 0 33px,#11f 0 36px,#00f 0 39px,#22f 0 42px,#33f 0 44px,#22f 0 46px,#11f 0 47px,#22f 0 49px,#11f 0 50px,#00f 0 57px,#22f 0 59px,#00f 0 64px,#33f 0 66px,#22f 0 70px,#33f 0 73px,#11f 0 77px,#33f 0 80px,#11f 0 85px,#00f 0 90px,#22f 0 92px,#33f 0 94px,#22f 0 99px,#11f 0 104px,#22f 0 106px,#00f 0 107px,#11f 0 109px,#22f 0 110px,#11f 0 114px,#00f 0 115px,#11f 0 118px,#bbf 0 119px,#ccf 0 120px,#bbf 0 123px,#ccf 0 126px,#ddf 0 128px,#ccf 0 129px,#ddf 0 130px,#ccf 0 134px,#bbf 0 136px,#eef 0 137px,#ddf 0 139px,#ccf 0 141px,#ddf 0 143px,#ccf 0 145px,#bbf 0 148px,#ccf 0 150px,#eef 0 153px,#ddf 0 159px,#bbf 0 161px,#ccf 0 163px,#ddf 0 167px,#bbf 0 169px,#ddf 0 173px,#bbf 0 174px,#ddf 0 177px,#bbf 0 179px,#ddf 0 182px,#bbf 0 185px,#ccf 0 189px,#ddf 0 193px,#bbf 0 196px,#ccf 0 198px,#ddf 0 203px,#ccf 0 206px,#ddf 0 211px,#bbf 0 212px,#eef 0 214px,#ccf 0 221px,#bbf 0 223px,#ddf 0 225px,#ccf 0 230px,#ddf 0 232px,#ccf 0 235px,#ddf 0 237px,#ccf 0 240px,#ddf 0 242px,#ccf 0 247px,#ddf 0 249px,#bbf 0 251px,#ccf 0 259px,#eef 0 260px,#bbf 0 265px,#ccf 0 270px,#eef 0 272px,#ddf 0 273px,#ccf 0 279px,#ddf 0 281px,#bbf 0 284px,#ddf 0 286px,#bbf 0 288px,#ccf 0 289px,#eef 0 292px,#bbf 0 294px,#eef 0 297px,#bbf 0 300px,#ddf 0 302px,#bbf 0 304px,#ccf 0 305px,#bbf 0 309px,#ddf 0 314px,#bbf 0 315px,#ccf 0 319px,#ddf 0 325px,#ccf 0 332px,#ddf 0 336px,#ccf 0 344px,#ddf 0 349px,#ccf 0 357px,#ddf 0 358px,#eef 0 359px,#bbf 0 366px,#eef 0 368px,#ddf 0 369px,#ccf 0 379px,#ddf 0 380px,#ccf 0 383px,#ddf 0 388px,#eef 0 391px,#ccf 0 393px,#ddf 0 394px,#ccf 0 396px,#ddf 0 397px,#ccf 0 400px,#ddf 0 402px,#bbf 0 403px,#eef 0 404px,#ddf 0 405px,#bbf 0 407px,#ddf 0 410px,#ccf 0 413px)"></div>
<div class="h" style="left:120.7px;top:613.1px;width:416.3px;height:6.6px;background:linear-gradient(90deg,#aae 0 2.4px,#7b9 0 3.2px,#8ac 0 4px,#2ce 0 6.4px,#3c9 0 7.2px,#4c4 0 8.8px,#7aa 0 10.4px,#8ac 0 11.2px,#2ce 0 14.4px,#6be 0 16px,#aae 0 16.8px,#c8e 0 17.6px,#6ae 0 18.4px,#2ce 0 20px,#aae 0 23.2px,#5be 0 24px,#3ce 0 25.6px,#7be 0 26.4px,#4be 0 27.2px,#a9d 0 28px,#a9e 0 28.8px,#c8e 0 29.6px,#e7e 0 30.4px,#aae 0 31.2px,#c8d 0 32px,#e7e 0 33.6px,#7ae 0 34.4px,#b9e 0 36px,#6be 0 36.8px,#4be 0 37.6px,#3ce 0 39.2px,#4c4 0 40px,#3ca 0 41.6px,#2cc 0 43.2px,#e7e 0 44px,#aae 0 47.2px,#2ce 0 48px,#e7e 0 49.6px,#c9e 0 50.4px,#d8d 0 51.2px,#e7e 0 52px,#7ae 0 52.8px,#4be 0 53.6px,#3ce 0 54.4px,#2ce 0 55.2px,#aae 0 56px,#2ce 0 56.8px,#9ae 0 58.4px,#c8e 0 59.2px,#d8d 0 60.8px,#e8d 0 61.6px,#e7e 0 62.4px,#aae 0 63.2px,#e7e 0 64px,#9a9 0 65.6px,#aae 0 67.2px,#2ce 0 68px,#6be 0 68.8px,#4ce 0 70.4px,#aae 0 74.4px,#5be 0 76px,#3ce 0 77.6px,#99e 0 80px,#aae 0 80.8px,#5be 0 81.6px,#e7e 0 82.4px,#aae 0 86.4px,#5be 0 87.2px,#a9e 0 88.8px,#6be 0 89.6px,#a9e 0 91.2px,#7a9 0 92px,#4bc 0 93.6px,#aae 0 95.2px,#c8d 0 96px,#b9e 0 96.8px,#6be 0 98.4px,#8ae 0 100px,#b9e 0 100.8px,#2ce 0 103.2px,#6be 0 104px,#8ae 0 105.6px,#4be 0 106.4px,#7ae 0 108px,#2ce 0 108.8px,#6be 0 110.4px,#aae 0 111.2px,#2ce 0 112px,#9ad 0 113.6px,#2ce 0 115.2px,#aae 0 116.8px,#5be 0 117.6px,#8ae 0 118.4px,#b9e 0 119.2px,#d8e 0 120px,#b9e 0 120.8px,#aae 0 122.4px,#5be 0 124px,#8ae 0 124.8px,#b9e 0 125.6px,#a9e 0 126.4px,#d8e 0 127.2px,#7ae 0 128px,#2ce 0 129.6px,#9ad 0 130.4px,#c8e 0 131.2px,#8a9 0 132px,#4c4 0 133.6px,#a99 0 134.4px,#aae 0 135.2px,#2ce 0 137.6px,#e7e 0 138.4px,#e7d 0 139.2px,#c9e 0 139.3px,#aae 0 140.1px,#e7d 0 141.7px,#e7e 0 142.5px,#e7d 0 143.3px,#7ae 0 144.1px,#e7e 0 145.7px,#c9e 0 146.5px,#b9e 0 148.1px,#a9e 0 148.9px,#c8e 0 149.7px,#e7e 0 151.3px,#9a9 0 152.1px,#2ce 0 153.7px,#aae 0 155.3px,#c8e 0 156.9px,#b9e 0 157.7px,#a9e 0 159.3px,#e7d 0 160.1px,#aae 0 160.9px,#e7e 0 162.5px,#c9e 0 163.3px,#d8e 0 164.1px,#2ce 0 165.7px,#6be 0 166.5px,#8ae 0 168.1px,#b9d 0 168.9px,#6be 0 169.7px,#aae 0 170.5px,#2ce 0 171.3px,#3c9 0 172.1px,#7bc 0 173.7px,#8ad 0 174.5px,#5be 0 175.3px,#7ae 0 176.9px,#9ae 0 177.7px,#e7d 0 179.3px,#c9e 0 180.1px,#d8e 0 180.9px,#aae 0 181.7px,#5be 0 183.3px,#a9d 0 184.1px,#5be 0 184.9px,#3ce 0 186.5px,#7ae 0 187.3px,#8ae 0 188.1px,#9ae 0 188.9px,#aae 0 189.7px,#c8d 0 190.5px,#6ae 0 192.1px,#2ce 0 193.7px,#9ae 0 194.5px,#c8e 0 196.1px,#b9e 0 196.9px,#a9e 0 198.5px,#5be 0 199.3px,#aae 0 200.1px,#c8e 0 200.9px,#b9e 0 201.7px,#d8d 0 203.3px,#b9e 0 204.9px,#aae 0 206.5px,#5be 0 207.3px,#aae 0 209.7px,#2ce 0 210.5px,#6be 0 212.1px,#2ce 0 213.7px,#9ae 0 214.5px,#aae 0 216.1px,#c8d 0 216.9px,#b9e 0 217.7px,#d8e 0 218.5px,#e8d 0 219.3px,#e7e 0 220.9px,#c9e 0 222.5px,#d8d 0 223.3px,#aae 0 225.7px,#c8e 0 226.5px,#d8e 0 227.3px,#7ae 0 228.1px,#aae 0 230.5px,#e7e 0 232.1px,#aae 0 232.9px,#c8d 0 233.7px,#b9e 0 234.5px,#aae 0 235.3px,#c8e 0 236.1px,#2ce 0 236.9px,#6be 0 237.7px,#4ce 0 238.5px,#e7d 0 239.3px,#c9e 0 240.1px,#d8d 0 240.9px,#aae 0 241.7px,#e7e 0 243.3px,#c9e 0 244.1px,#e7e 0 244.9px,#9a9 0 245.7px,#9ac 0 247.3px,#5bd 0 248.1px,#e7d 0 249.7px,#e7e 0 251.3px,#aae 0 252.9px,#5be 0 254.5px,#a9e 0 256.1px,#6be 0 256.9px,#aae 0 257.7px,#5be 0 258.5px,#aae 0 260.9px,#c8d 0 261.7px,#b9e 0 262.5px,#a9e 0 263.3px,#c8e 0 264.1px,#aae 0 266.5px,#2ce 0 267.3px,#9ae 0 268.9px,#c8d 0 269.7px,#b9e 0 270.5px,#a9e 0 272.1px,#aae 0 273.7px,#2ce 0 275.3px,#aae 0 276.9px,#c8d 0 277.7px,#b9e 0 279.3px,#6be 0 280.1px,#a9d 0 280.9px,#a9e 0 281.7px,#c8d 0 282.5px,#6ae 0 283.3px,#aae 0 284.1px,#5be 0 284.9px,#a9e 0 286.5px,#6be 0 287.3px,#8ae 0 288.1px,#2ce 0 288.9px,#6be 0 290.5px,#b9e 0 292.1px,#d8e 0 292.9px,#2ce 0 294.5px,#aae 0 296.9px,#2ce 0 299.3px,#6be 0 299.8px,#8ae 0 301.4px,#e7e 0 303px,#c9e 0 303.8px,#e7e 0 304.6px,#c9e 0 305.4px,#2ce 0 307px,#6be 0 308.6px,#aae 0 309.4px,#c8e 0 310.2px,#6ae 0 311.8px,#4be 0 312.6px,#4b9 0 314.2px,#7ac 0 315.8px,#2ce 0 316.6px,#aae 0 319.8px,#5be 0 320.6px,#2ce 0 322.2px,#6be 0 323px,#8ae 0 323.8px,#9ae 0 324.6px,#aae 0 325.4px,#e7d 0 327px,#e7e 0 327.8px,#e7d 0 328.6px,#c9e 0 330.2px,#d8e 0 331.8px,#b9e 0 332.6px,#a9e 0 334.2px,#7b9 0 335px,#8ac 0 335.8px,#9ad 0 336.6px,#c8e 0 337.4px,#aae 0 339px,#7b9 0 339.8px,#b9c 0 340.6px,#aae 0 343.8px,#2ce 0 344.6px,#3c9 0 346.2px,#7bc 0 347px,#4bd 0 347.8px,#2ce 0 348.6px,#6be 0 349.4px,#4ce 0 350.2px,#aae 0 353.4px,#c8d 0 353.8px,#d8d 0 354.6px,#b9e 0 355.4px,#a9e 0 357px,#6be 0 357.8px,#aae 0 359.4px,#c8e 0 360.2px,#d8e 0 361.8px,#b9e 0 362.6px,#a9e 0 365px,#aae 0 365.8px,#5be 0 366.6px,#aae 0 369px,#c8e 0 369.8px,#d8e 0 370.6px,#b9e 0 371.4px,#e7e 0 372.2px,#aae 0 378.6px,#e7e 0 379.4px,#c9e 0 380.2px,#6be 0 381.8px,#4be 0 383.4px,#3ce 0 385px,#6be 0 386.6px,#e7e 0 388.2px,#7ae 0 389px,#6b9 0 389.8px,#3cc 0 390.6px,#7ad 0 391.4px,#4be 0 393px,#aae 0 396.2px,#c8d 0 397.8px,#b9e 0 398.6px,#a9e 0 399.4px,#aae 0 400.2px,#c8d 0 401px,#aae 0 401.8px,#e7d 0 402.6px,#e7e 0 403.4px,#c9e 0 405px,#2ce 0 405.8px,#6be 0 406.6px,#8ae 0 408.2px,#2ce 0 409.8px,#aae 0 411.4px,#c8d 0 413px,#6ae 0 413.8px,#b9d 0 415.4px,#2ce 0 416.3px)"></div>
<div class="h" style="left:120.7px;top:622px;width:416.3px;height:6.6px;background:linear-gradient(90deg,#ab2 0 0.8px,#ca2 0 2.4px,#ab2 0 3.2px,#c96 0 4.8px,#d94 0 5.6px,#ea2 0 6.4px,#ca2 0 7.2px,#ea2 0 9.6px,#3cc 0 11.2px,#ea2 0 12.8px,#e7a 0 15.2px,#e95 0 16px,#ab2 0 16.8px,#ca2 0 17.6px,#da2 0 19.2px,#ea2 0 20px,#e7a 0 20.8px,#c95 0 22.4px,#ba3 0 24px,#aa3 0 25.6px,#d97 0 26.4px,#3cc 0 27.2px,#9ab 0 28px,#ea2 0 29.6px,#e86 0 30.4px,#e88 0 31.2px,#e89 0 32.8px,#c95 0 33.6px,#d93 0 34.4px,#e87 0 35.2px,#8a9 0 36px,#3cc 0 36.8px,#ea2 0 44px,#ca2 0 44.8px,#e7a 0 45.6px,#3cc 0 47.2px,#9ab 0 48px,#aa6 0 48.8px,#ca3 0 50.4px,#c99 0 51.2px,#da5 0 52.8px,#ea3 0 53.6px,#3cc 0 55.2px,#ab2 0 56px,#ea2 0 57.6px,#ca2 0 58.4px,#e7a 0 61.6px,#ea2 0 62.4px,#e86 0 63.2px,#ea2 0 64.8px,#ca2 0 65.6px,#da2 0 66.4px,#e7a 0 68px,#c95 0 68.8px,#d93 0 70.4px,#e87 0 71.2px,#ca4 0 72px,#3cc 0 73.6px,#7b6 0 74.4px,#ea2 0 75.2px,#ca2 0 76.8px,#ba2 0 77.6px,#da2 0 79.2px,#ea2 0 80.8px,#e7a 0 81.6px,#ab2 0 83.2px,#ca2 0 84px,#da2 0 84.8px,#e86 0 85.6px,#e94 0 87.2px,#e7a 0 88px,#e95 0 89.6px,#d9a 0 91.2px,#e95 0 92.8px,#e7a 0 93.6px,#ea2 0 96px,#8b7 0 96.8px,#ea2 0 100px,#e7a 0 100.8px,#ea2 0 102.4px,#e86 0 103.2px,#ca4 0 104px,#da3 0 105.6px,#ea2 0 106.4px,#e7a 0 107.2px,#c95 0 108px,#d93 0 108.8px,#ea2 0 110.4px,#c9e 0 111.2px,#ba7 0 112px,#ea2 0 113.6px,#e86 0 114.4px,#e94 0 115.2px,#8b8 0 116px,#ea2 0 116.8px,#d98 0 117.6px,#c9c 0 119.2px,#d8b 0 120px,#e8a 0 121.6px,#e95 0 122.4px,#e7a 0 124px,#e95 0 125.6px,#ea2 0 126.4px,#ca2 0 127.2px,#da2 0 128.8px,#ea2 0 129.6px,#ab2 0 130.4px,#ca2 0 131.2px,#7b7 0 132px,#9b4 0 133.6px,#ca3 0 135.2px,#e7a 0 136px,#e95 0 136.8px,#e93 0 137.6px,#e92 0 138.4px,#ea2 0 139.3px,#e7a 0 140.1px,#e95 0 141.7px,#e93 0 142.5px,#e92 0 143.3px,#ea2 0 144.9px,#e7a 0 147.3px,#ea2 0 149.7px,#e7a 0 150.5px,#e95 0 152.1px,#e88 0 153.7px,#e94 0 154.5px,#e7a 0 155.3px,#e95 0 156.9px,#e93 0 158.5px,#e87 0 159.3px,#e94 0 160.1px,#e93 0 161.7px,#c9e 0 163.3px,#d97 0 164.1px,#ea4 0 164.9px,#ea2 0 169.7px,#c9e 0 170.5px,#d97 0 171.3px,#e89 0 172.1px,#e95 0 172.9px,#ea2 0 178.5px,#e7a 0 180.1px,#e95 0 180.9px,#e93 0 182.5px,#e92 0 183.3px,#ea2 0 188.1px,#d98 0 188.9px,#ea2 0 192.9px,#e86 0 193.7px,#d9b 0 195.3px,#ea2 0 200.9px,#e86 0 201.7px,#ca4 0 202.5px,#ea2 0 204.1px,#e7a 0 204.9px,#e95 0 205.7px,#e93 0 207.3px,#e92 0 208.1px,#e86 0 208.9px,#e94 0 209.7px,#e93 0 210.5px,#ea2 0 220.1px,#e86 0 220.9px,#e94 0 221.7px,#ea2 0 226.5px,#e86 0 228.1px,#ea2 0 233.7px,#e86 0 234.5px,#e94 0 235.3px,#e92 0 236.1px,#ea2 0 236.9px,#8b7 0 237.7px,#ba4 0 238.5px,#da3 0 239.3px,#ea2 0 241.7px,#e7a 0 243.3px,#ea2 0 244.1px,#ab2 0 244.9px,#c96 0 245.7px,#d94 0 247.3px,#e92 0 248.1px,#ca2 0 249.7px,#ea2 0 252.1px,#e7a 0 253.7px,#ea2 0 254.5px,#ca2 0 255.3px,#d96 0 256.9px,#e88 0 257.7px,#e7a 0 259.3px,#e95 0 260.1px,#e93 0 260.9px,#e92 0 262.5px,#e86 0 263.3px,#e88 0 264.9px,#e89 0 266.5px,#e7a 0 267.3px,#e95 0 268.9px,#e93 0 269.7px,#ea2 0 274.5px,#8b7 0 276.1px,#ba4 0 277.7px,#da3 0 278.5px,#e97 0 279.3px,#e94 0 280.9px,#ea2 0 287.3px,#ca2 0 288.9px,#da2 0 289.7px,#ea2 0 296.9px,#ab2 0 298.5px,#ea2 0 303px,#ca2 0 303.8px,#ba2 0 304.6px,#ea2 0 305.4px,#ab2 0 307.8px,#c96 0 308.6px,#ea2 0 309.4px,#ca2 0 310.2px,#d96 0 311px,#ea2 0 311.8px,#d98 0 312.6px,#e7a 0 314.2px,#e95 0 315px,#e93 0 315.8px,#e87 0 316.6px,#e89 0 317.4px,#ea2 0 323.8px,#ab2 0 325.4px,#c96 0 326.2px,#d94 0 327px,#e92 0 327.8px,#e7a 0 328.6px,#ea2 0 329.4px,#8b7 0 330.2px,#ea2 0 335px,#3cc 0 335.8px,#9ab 0 336.6px,#aa6 0 337.4px,#e7a 0 339px,#e95 0 340.6px,#e88 0 341.4px,#c94 0 342.2px,#ba3 0 343px,#da2 0 343.8px,#ea2 0 349.4px,#e86 0 350.2px,#8a9 0 351px,#ba5 0 351.8px,#d98 0 352.6px,#ea2 0 356.2px,#d98 0 357px,#ea2 0 358.6px,#ab2 0 359.4px,#ca2 0 361px,#da2 0 362.6px,#ea2 0 373.8px,#e86 0 375.4px,#e7a 0 377px,#ea2 0 379.4px,#ab2 0 380.2px,#ea2 0 381px,#e86 0 381.8px,#ab2 0 382.6px,#ca2 0 384.2px,#da2 0 385.8px,#ea2 0 389px,#e86 0 389.8px,#e94 0 391.4px,#e87 0 392.2px,#ea2 0 393.8px,#ca2 0 394.6px,#ea2 0 402.6px,#e86 0 403.4px,#ea2 0 406.6px,#ca2 0 407.4px,#ea2 0 415.4px,#ca2 0 416.2px,#da2 0 416.3px)"></div>
<div class="h" style="left:120.7px;top:631.1px;width:416.3px;height:6.6px;background:linear-gradient(90deg,#2c7 0 0.8px,#9ab 0 1.6px,#e7e 0 2.4px,#7aa 0 3.2px,#e7e 0 5.6px,#7aa 0 7.2px,#4b9 0 8.8px,#3c8 0 10.4px,#99b 0 11.2px,#2c7 0 13.6px,#e7e 0 14.4px,#7aa 0 15.2px,#b9c 0 16.8px,#2c7 0 18.4px,#9ab 0 19.2px,#2c7 0 20px,#e7e 0 20.8px,#7aa 0 21.6px,#e7e 0 23.2px,#7aa 0 24px,#b9c 0 24.8px,#2c7 0 27.2px,#9ab 0 28px,#2c7 0 29.6px,#e7e 0 30.4px,#2c7 0 32px,#e7e 0 32.8px,#7aa 0 34.4px,#b9c 0 36px,#d8d 0 36.8px,#e7e 0 37.6px,#7aa 0 38.4px,#2c7 0 40px,#9ab 0 41.6px,#c8d 0 42.4px,#2c7 0 44px,#9ab 0 44.8px,#c8d 0 45.6px,#d8d 0 47.2px,#2c7 0 48.8px,#9ab 0 50.4px,#e7e 0 52.8px,#7aa 0 53.6px,#b9c 0 54.4px,#2c7 0 56px,#9ab 0 56.8px,#2c7 0 57.6px,#9ab 0 58.4px,#e7e 0 60px,#7aa 0 60.8px,#2c7 0 62.4px,#e7e 0 63.2px,#7aa 0 64px,#4b9 0 64.8px,#2c7 0 65.6px,#e7e 0 68px,#2c7 0 68.8px,#9ab 0 69.6px,#c8d 0 71.2px,#d8d 0 72px,#2c7 0 72.8px,#9ab 0 74.4px,#5b9 0 75.2px,#3c8 0 76px,#e7e 0 76.8px,#2c7 0 77.6px,#9ab 0 79.2px,#e7e 0 80.8px,#7aa 0 81.6px,#b9c 0 82.4px,#6ba 0 83.2px,#4b8 0 84px,#3c8 0 84.8px,#2c7 0 85.6px,#99b 0 86.4px,#5b9 0 88px,#3c8 0 88.8px,#2c7 0 89.6px,#e7e 0 92.8px,#2c7 0 96.8px,#e7e 0 98.4px,#7aa 0 100px,#e7e 0 101.6px,#7aa 0 102.4px,#4b9 0 103.2px,#e7e 0 104.8px,#2c7 0 108.8px,#e7e 0 110.4px,#2c7 0 111.2px,#9ab 0 112px,#5b9 0 113.6px,#e7e 0 114.4px,#7aa 0 116px,#b9c 0 116.8px,#d8d 0 117.6px,#d8e 0 119.2px,#e7e 0 123.2px,#7aa 0 124px,#4b9 0 124.8px,#a9c 0 125.6px,#c8d 0 126.4px,#d8e 0 127.2px,#e8e 0 128px,#e7e 0 128.8px,#7aa 0 129.6px,#2c7 0 134.4px,#9ab 0 135.2px,#c8d 0 136.8px,#e7e 0 137.6px,#7aa 0 138.4px,#b9c 0 139.3px,#d8d 0 140.1px,#d8e 0 140.9px,#7aa 0 141.7px,#4b9 0 142.5px,#3c8 0 143.3px,#2c7 0 144.1px,#99b 0 144.9px,#5b9 0 145.7px,#a9c 0 146.5px,#5b9 0 147.3px,#a9c 0 148.9px,#c8d 0 149.7px,#d8e 0 150.5px,#e7e 0 152.9px,#7aa 0 153.7px,#4b9 0 154.5px,#3c8 0 155.3px,#2c7 0 156.1px,#99b 0 156.9px,#c8d 0 157.7px,#6aa 0 159.3px,#e7e 0 161.7px,#2c7 0 162.5px,#9ab 0 163.3px,#5b9 0 164.1px,#3c8 0 164.9px,#99b 0 165.7px,#5b9 0 167.3px,#e7e 0 170.5px,#7aa 0 171.3px,#4b9 0 172.1px,#e7e 0 172.9px,#2c7 0 173.7px,#9ab 0 174.5px,#5b9 0 176.1px,#3c8 0 176.9px,#99b 0 177.7px,#c8d 0 178.5px,#6aa 0 180.1px,#4b8 0 180.9px,#e7e 0 183.3px,#7aa 0 184.1px,#e7e 0 186.5px,#2c7 0 188.1px,#9ab 0 188.9px,#c8d 0 189.7px,#d8d 0 190.5px,#7aa 0 192.1px,#4b8 0 192.9px,#e7e 0 196.1px,#7aa 0 197.7px,#b9c 0 198.5px,#2c7 0 199.3px,#9ab 0 200.1px,#5b9 0 200.9px,#a9c 0 201.7px,#e7e 0 204.9px,#2c7 0 205.7px,#e7e 0 208.9px,#7aa 0 210.5px,#b9c 0 211.3px,#d8d 0 212.1px,#e7e 0 212.9px,#2c7 0 214.5px,#e7e 0 219.3px,#7aa 0 220.1px,#b9c 0 220.9px,#d8d 0 222.5px,#d8e 0 223.3px,#e7e 0 224.9px,#2c7 0 225.7px,#9ab 0 226.5px,#e7e 0 227.3px,#7aa 0 228.1px,#e7e 0 231.3px,#7aa 0 232.1px,#b9c 0 233.7px,#d8d 0 234.5px,#7aa 0 236.1px,#2c7 0 237.7px,#9ab 0 238.5px,#c8d 0 239.3px,#6aa 0 240.1px,#e7e 0 240.9px,#7aa 0 241.7px,#b9c 0 243.3px,#e7e 0 244.9px,#2c7 0 245.7px,#9ab 0 247.3px,#5b9 0 248.9px,#3c8 0 250.5px,#99b 0 252.1px,#5b9 0 253.7px,#a9c 0 255.3px,#c8d 0 256.1px,#7aa 0 256.9px,#b9c 0 257.7px,#2c7 0 260.9px,#9ab 0 261.7px,#5b9 0 262.5px,#e7e 0 263.3px,#7aa 0 264.1px,#2c7 0 264.9px,#9ab 0 265.7px,#c8d 0 267.3px,#6aa 0 268.1px,#b9c 0 268.9px,#d8d 0 270.5px,#7aa 0 271.3px,#b9c 0 272.1px,#2c7 0 272.9px,#9ab 0 273.7px,#c8d 0 274.5px,#6aa 0 275.3px,#2c7 0 279.3px,#9ab 0 280.9px,#e7e 0 284.1px,#7aa 0 285.7px,#4b9 0 286.5px,#2c7 0 288.1px,#9ab 0 288.9px,#5b9 0 290.5px,#3c8 0 292.1px,#2c7 0 294.5px,#9ab 0 295.3px,#c8d 0 296.1px,#6aa 0 296.9px,#4b8 0 297.7px,#99b 0 299.3px,#5b9 0 299.8px,#a9c 0 300.6px,#6b9 0 301.4px,#2c7 0 304.6px,#e7e 0 307px,#2c7 0 308.6px,#9ab 0 310.2px,#5b9 0 311px,#a9c 0 311.8px,#c8d 0 312.6px,#2c7 0 314.2px,#9ab 0 315px,#5b9 0 315.8px,#3c8 0 316.6px,#99b 0 317.4px,#5b9 0 318.2px,#a9c 0 319px,#5b9 0 319.8px,#2c7 0 321.4px,#e7e 0 327.8px,#2c7 0 329.4px,#9ab 0 330.2px,#5b9 0 331px,#2c7 0 332.6px,#9ab 0 333.4px,#c8d 0 334.2px,#d8d 0 335px,#2c7 0 335.8px,#e7e 0 338.2px,#7aa 0 339.8px,#e7e 0 344.6px,#2c7 0 345.4px,#9ab 0 346.2px,#5b9 0 347.8px,#a9c 0 348.6px,#2c7 0 351px,#e7e 0 352.6px,#2c7 0 353.4px,#9ab 0 353.8px,#c8d 0 354.6px,#2c7 0 357px,#e7e 0 358.6px,#7aa 0 359.4px,#b9c 0 361px,#d8d 0 362.6px,#7aa 0 363.4px,#b9c 0 364.2px,#d8d 0 365.8px,#7aa 0 366.6px,#b9c 0 368.2px,#e7e 0 372.2px,#7aa 0 373px,#2c7 0 374.6px,#9ab 0 376.2px,#c8d 0 377px,#6aa 0 378.6px,#2c7 0 385.8px,#e7e 0 387.4px,#7aa 0 389px,#b9c 0 389.8px,#6ba 0 390.6px,#4b8 0 391.4px,#99b 0 393px,#c8d 0 394.6px,#6aa 0 396.2px,#4b8 0 397.8px,#2c7 0 400.2px,#9ab 0 401px,#c8d 0 402.6px,#2c7 0 403.4px,#9ab 0 404.2px,#2c7 0 407.4px,#9ab 0 408.2px,#c8d 0 409px,#2c7 0 411.4px,#e7e 0 413.8px,#7aa 0 414.6px,#b9c 0 415.4px,#6ba 0 416.2px,#4b8 0 416.3px)"></div>
<div class="h" style="left:120.7px;top:640.2px;width:416.3px;height:6.6px;background:linear-gradient(90deg,#ca2 0 0.8px,#7b8 0 1.6px,#ca2 0 4px,#7b8 0 4.8px,#4cb 0 5.6px,#9b6 0 6.4px,#5ca 0 8px,#3cc 0 8.8px,#2cd 0 11.2px,#8b7 0 12px,#ab4 0 12.8px,#ba3 0 13.6px,#6b9 0 14.4px,#4cb 0 15.2px,#8b6 0 16px,#ca2 0 16.8px,#4be 0 17.6px,#2ce 0 18.4px,#8b7 0 19.2px,#ab4 0 20px,#6c9 0 20.8px,#9b5 0 21.6px,#bb3 0 22.4px,#6b9 0 23.2px,#4cc 0 24px,#4bd 0 24.8px,#8b7 0 25.6px,#5cb 0 27.2px,#9b6 0 28.8px,#6bb 0 30.4px,#2ce 0 31.2px,#ca2 0 33.6px,#7b8 0 34.4px,#4cb 0 36px,#3cd 0 36.8px,#2ce 0 40.8px,#8b7 0 41.6px,#ca2 0 43.2px,#8a9 0 44px,#aa5 0 45.6px,#6ba 0 46.4px,#9b5 0 48px,#ca2 0 48.8px,#7b8 0 49.6px,#4cb 0 50.4px,#9b6 0 51.2px,#bb4 0 52px,#ca2 0 56px,#7b8 0 56.8px,#ab5 0 57.6px,#5ca 0 59.2px,#9b5 0 60px,#bb3 0 60.8px,#6b9 0 61.6px,#9b5 0 63.2px,#ba3 0 64.8px,#2ce 0 68.8px,#8b7 0 69.6px,#ab4 0 70.4px,#2ce 0 71.2px,#8b7 0 72px,#ab4 0 73.6px,#2ce 0 76px,#8b7 0 76.8px,#4cb 0 77.6px,#3cc 0 79.2px,#2ce 0 83.2px,#8b7 0 84px,#4cb 0 84.8px,#ca2 0 85.6px,#8a9 0 86.4px,#ca2 0 87.2px,#7b8 0 88px,#4cb 0 89.6px,#9b6 0 90.4px,#bb4 0 91.2px,#6c9 0 92px,#5bc 0 92.8px,#9b6 0 93.6px,#ba4 0 94.4px,#7ba 0 95.2px,#2ce 0 96.8px,#8b7 0 97.6px,#ca2 0 100px,#8a9 0 100.8px,#4bb 0 102.4px,#3cd 0 103.2px,#8b7 0 104px,#ab4 0 105.6px,#6c9 0 107.2px,#9b5 0 108.8px,#5ca 0 110.4px,#9b5 0 111.2px,#ca2 0 112px,#7b8 0 112.8px,#ab5 0 113.6px,#ba3 0 114.4px,#6b9 0 115.2px,#9b5 0 116.8px,#5ca 0 117.6px,#9b5 0 118.4px,#2ce 0 121.6px,#4be 0 122.4px,#3ce 0 123.2px,#2ce 0 124.8px,#8b7 0 125.6px,#2ce 0 129.6px,#ca2 0 130.4px,#7b8 0 131.2px,#ab5 0 132.8px,#ba3 0 133.6px,#2ce 0 134.4px,#8b7 0 135.2px,#ca2 0 139.2px,#7b8 0 139.3px,#ab5 0 140.1px,#2ce 0 140.9px,#8b7 0 142.5px,#4cb 0 143.3px,#3cc 0 144.1px,#2cd 0 144.9px,#8b7 0 145.7px,#2ce 0 146.5px,#3be 0 148.1px,#2ce 0 149.7px,#8b7 0 150.5px,#4cb 0 151.3px,#ca2 0 152.9px,#7b8 0 153.7px,#2ce 0 154.5px,#8b7 0 155.3px,#4be 0 156.1px,#3ce 0 156.9px,#2ce 0 158.5px,#ca2 0 160.1px,#7b8 0 160.9px,#4cb 0 162.5px,#9b6 0 163.3px,#5ca 0 164.1px,#ca2 0 164.9px,#2ce 0 165.7px,#8b7 0 167.3px,#ab4 0 168.1px,#ba3 0 169.7px,#6b9 0 170.5px,#9b5 0 172.1px,#ba3 0 173.7px,#ca2 0 175.3px,#7b8 0 176.1px,#ab5 0 176.9px,#ba3 0 177.7px,#6b9 0 178.5px,#2ce 0 180.9px,#8b7 0 182.5px,#4cb 0 183.3px,#9b6 0 184.1px,#bb4 0 185.7px,#6c9 0 186.5px,#4cc 0 187.3px,#3cd 0 188.1px,#8b7 0 188.9px,#ab4 0 189.7px,#6c9 0 190.5px,#5bc 0 191.3px,#ca2 0 192.1px,#7b8 0 192.9px,#ab5 0 193.7px,#ba3 0 194.5px,#ca2 0 195.3px,#6b9 0 196.1px,#4cb 0 196.9px,#3cd 0 197.7px,#8b7 0 199.3px,#2ce 0 201.7px,#ca2 0 204.1px,#7b8 0 204.9px,#ab5 0 205.7px,#4be 0 206.5px,#8a7 0 208.1px,#ba4 0 209.7px,#ca3 0 210.5px,#6b9 0 211.3px,#ab5 0 212.9px,#ba3 0 214.5px,#ca2 0 217.7px,#6b8 0 219.3px,#4be 0 220.1px,#2ce 0 220.9px,#3be 0 222.5px,#8b7 0 223.3px,#aa4 0 224.9px,#ba3 0 226.5px,#ca2 0 227.3px,#2ce 0 228.1px,#8b7 0 228.9px,#ca2 0 229.7px,#8a9 0 230.5px,#aa5 0 231.3px,#ba3 0 232.9px,#ca2 0 234.5px,#6b8 0 236.1px,#4cb 0 236.9px,#ca2 0 238.5px,#7b8 0 239.3px,#ab5 0 240.1px,#5ca 0 241.7px,#9b5 0 242.5px,#bb3 0 243.3px,#2ce 0 244.1px,#8b7 0 244.9px,#ab4 0 245.7px,#2ce 0 248.1px,#8b7 0 249.7px,#ca2 0 251.3px,#7b8 0 252.9px,#ab5 0 254.5px,#ba3 0 255.3px,#ca2 0 256.1px,#7b8 0 256.9px,#2ce 0 259.3px,#8b7 0 260.9px,#ab4 0 261.7px,#ba3 0 262.5px,#ca2 0 264.9px,#7b8 0 265.7px,#2ce 0 266.5px,#8b7 0 267.3px,#ab4 0 268.1px,#ba3 0 268.9px,#2ce 0 270.5px,#8b7 0 271.3px,#ab4 0 272.1px,#ba3 0 272.9px,#ca2 0 273.7px,#2ce 0 276.9px,#ca2 0 277.7px,#2ce 0 278.5px,#8b7 0 279.3px,#ab4 0 280.1px,#6c9 0 280.9px,#3cc 0 282.5px,#4bd 0 283.3px,#3cd 0 284.1px,#8b7 0 284.9px,#ab4 0 285.7px,#ba3 0 286.5px,#6b9 0 287.3px,#ab5 0 288.1px,#6ba 0 289.7px,#2ce 0 292.1px,#8b7 0 293.7px,#ab4 0 294.5px,#ba3 0 295.3px,#6b9 0 296.9px,#2ce 0 299.8px,#8b7 0 300.6px,#2ce 0 301.4px,#8b7 0 302.2px,#4cb 0 303px,#9b6 0 304.6px,#5ca 0 306.2px,#3cc 0 307px,#ca2 0 308.6px,#8a9 0 309.4px,#4bb 0 310.2px,#9b6 0 311px,#ba4 0 312.6px,#6b9 0 313.4px,#4cc 0 314.2px,#3cd 0 315px,#8b7 0 315.8px,#2ce 0 316.6px,#8b7 0 317.4px,#ab4 0 318.2px,#ba3 0 319px,#ca2 0 320.6px,#4be 0 322.2px,#3ce 0 323.8px,#8b7 0 324.6px,#ca2 0 326.2px,#7b8 0 327px,#ab5 0 327.8px,#ca2 0 331px,#7b8 0 332.6px,#ca2 0 333.4px,#2ce 0 335.8px,#ca2 0 337.4px,#7b8 0 338.2px,#4cb 0 339px,#9b6 0 339.8px,#ca2 0 340.6px,#7b8 0 341.4px,#ab5 0 342.2px,#5ca 0 343px,#ca2 0 345.4px,#7b8 0 346.2px,#4cb 0 347px,#3cd 0 347.8px,#2ce 0 348.6px,#8b7 0 350.2px,#ab4 0 351.8px,#ba3 0 352.6px,#6b9 0 353.4px,#4cb 0 353.8px,#8b6 0 354.6px,#bb4 0 356.2px,#2ce 0 357.8px,#8b7 0 358.6px,#4cb 0 360.2px,#9b6 0 361px,#bb4 0 361.8px,#2ce 0 362.6px,#8b7 0 363.4px,#2ce 0 364.2px,#ca2 0 365.8px,#7b8 0 366.6px,#ca2 0 367.4px,#2ce 0 368.2px,#ca2 0 369px,#7b8 0 369.8px,#ab5 0 370.6px,#ca2 0 374.6px,#7b8 0 375.4px,#2ce 0 378.6px,#ca2 0 381px,#7b8 0 382.6px,#ab5 0 383.4px,#ba3 0 384.2px,#ca2 0 385px,#4be 0 386.6px,#8a7 0 387.4px,#ba4 0 388.2px,#ca2 0 389px,#2ce 0 393px,#8b7 0 393.8px,#ca2 0 395.4px,#8a9 0 397px,#ca2 0 399.4px,#7b8 0 401px,#4cb 0 402.6px,#3cd 0 403.4px,#2cd 0 404.2px,#8b7 0 405px,#ab4 0 406.6px,#7ba 0 407.4px,#aa5 0 409px,#5ba 0 409.8px,#9b5 0 411.4px,#5ca 0 412.2px,#3cc 0 413.8px,#ca2 0 416.3px)"></div>
<div class="h" style="left:120.7px;top:668.1px;width:416.3px;height:12.62px;background:linear-gradient(90deg,#aaf 0 1.2px,#fff 0 2.4px,#fbb 0 3.6px,#eef 0 4.8px,#99f 0 6px,#77f 0 7.2px,#eef 0 9.6px,#77f 0 10.8px,#eef 0 12px,#99f 0 13.2px,#aaf 0 14.4px,#55f 0 15.6px,#ccf 0 16.8px,#eef 0 18px,#fff 0 19.2px,#99f 0 20.4px,#eef 0 22.8px,#fff 0 24px,#ccf 0 25.2px,#44f 0 26.4px,#fdd 0 27.6px,#77f 0 28.8px,#bbf 0 30px,#fff 0 31.2px,#ddf 0 32.4px,#ccf 0 33.6px,#fff 0 34.8px,#aaf 0 36px,#fee 0 37.2px,#ccf 0 38.4px,#fee 0 39.6px,#88f 0 40.8px,#ddf 0 42px,#aaf 0 43.2px,#fdd 0 44.4px,#bbf 0 45.6px,#fbb 0 46.8px,#fff 0 49.2px,#eef 0 50.4px,#fee 0 51.6px,#bbf 0 52.8px,#fcc 0 54px,#bbf 0 55.2px,#fff 0 56.4px,#fbb 0 57.6px,#eef 0 58.8px,#fff 0 60px,#eef 0 61.2px,#bbf 0 62.4px,#eef 0 63.6px,#ddf 0 64.8px,#fee 0 66px,#fff 0 67.2px,#eef 0 68.4px,#fff 0 69.6px,#fee 0 72px,#fcc 0 73.2px,#aaf 0 74.4px,#99f 0 75.6px,#ccf 0 76.8px,#ddf 0 78px,#fff 0 79.2px,#bbf 0 80.4px,#faa 0 81.6px,#ccf 0 82.8px,#fcc 0 84px,#fee 0 85.2px,#ddf 0 86.4px,#fdd 0 87.6px,#eef 0 90px,#fdd 0 91.2px,#ccf 0 93.6px,#eef 0 94.8px,#ccf 0 96px,#fee 0 97.2px,#bbf 0 99.6px,#55f 0 100.8px,#bbf 0 102px,#fdd 0 103.2px,#eef 0 104.4px,#aaf 0 105.6px,#faa 0 106.8px,#bbf 0 108px,#fff 0 109.2px,#ddf 0 110.4px,#ccf 0 111.6px,#fee 0 112.8px,#fdd 0 114px,#eef 0 115.2px,#88f 0 116.4px,#faa 0 117.6px,#99f 0 118.8px,#faa 0 120px,#88f 0 122.4px,#fff 0 123.6px,#ccf 0 124.8px,#fbb 0 126px,#ddf 0 127.2px,#bbf 0 129.6px,#ddf 0 130.8px,#eef 0 132px,#f99 0 133.2px,#fff 0 134.4px,#eef 0 135.6px,#fff 0 136.8px,#99f 0 138px,#aaf 0 139.2px,#eef 0 140.4px,#aaf 0 141.6px,#eef 0 142.8px,#ddf 0 144px,#ccf 0 145.2px,#ddf 0 146.4px,#66f 0 147.6px,#99f 0 148.8px,#fdd 0 150px,#fee 0 151.2px,#77f 0 152.4px,#ddf 0 153.6px,#eef 0 154.8px,#bbf 0 156px,#ccf 0 157.2px,#88f 0 158.4px,#aaf 0 159.6px,#88f 0 160.8px,#ccf 0 162px,#fee 0 163.2px,#fdd 0 164.4px,#ddf 0 165.6px,#eef 0 168px,#fee 0 169.2px,#fff 0 170.4px,#bbf 0 171.6px,#ccf 0 172.8px,#ddf 0 176.4px,#aaf 0 177.6px,#99f 0 178.8px,#ddf 0 180px,#eef 0 181.2px,#55f 0 182.4px,#77f 0 183.6px,#fdd 0 184.8px,#99f 0 186px,#fdd 0 187.2px,#fee 0 188.4px,#fff 0 189.6px,#aaf 0 190.8px,#fff 0 192px,#bbf 0 193.2px,#fff 0 194.4px,#ccf 0 195.6px,#faa 0 196.8px,#ccf 0 198px,#fff 0 199.2px,#fcc 0 200.4px,#99f 0 201.6px,#55f 0 202.8px,#bbf 0 204px,#fcc 0 205.2px,#fee 0 206.4px,#88f 0 207.6px,#bbf 0 208.8px,#eef 0 210px,#88f 0 211.2px,#fff 0 212.4px,#ddf 0 213.6px,#fcc 0 214.8px,#ddf 0 217.2px,#fdd 0 218.4px,#77f 0 219.6px,#fdd 0 220.8px,#99f 0 222px,#ddf 0 223.2px,#99f 0 224.4px,#aaf 0 225.6px,#fdd 0 226.8px,#fff 0 228px,#bbf 0 229.2px,#fff 0 230.4px,#fdd 0 232.8px,#55f 0 234px,#fff 0 235.2px,#ccf 0 236.4px,#ddf 0 237.6px,#fdd 0 238.8px,#55f 0 240px,#aaf 0 241.2px,#fff 0 242.4px,#99f 0 244.8px,#ccf 0 247.2px,#fee 0 248.4px,#fff 0 249.6px,#ccf 0 250.8px,#ddf 0 252px,#ccf 0 256.8px,#fee 0 258px,#fcc 0 259.2px,#88f 0 260.4px,#fff 0 261.6px,#66f 0 262.8px,#fee 0 264px,#fcc 0 265.2px,#fee 0 266.4px,#faa 0 267.6px,#99f 0 268.8px,#77f 0 270px,#99f 0 271.2px,#ccf 0 272.4px,#fee 0 274.8px,#fcc 0 276px,#bbf 0 277.2px,#fff 0 278.4px,#aaf 0 279.6px,#ccf 0 280.8px,#fff 0 282px,#aaf 0 283.2px,#ccf 0 284.4px,#eef 0 286.8px,#fff 0 288px,#fdd 0 289.2px,#bbf 0 290.4px,#99f 0 291.6px,#bbf 0 292.8px,#eef 0 294px,#ddf 0 295.2px,#ccf 0 296.4px,#77f 0 297.6px,#55f 0 298.8px,#99f 0 299.8px,#f99 0 302.2px,#fcc 0 303.4px,#ccf 0 304.6px,#ddf 0 305.8px,#fbb 0 308.2px,#fdd 0 309.4px,#fff 0 311.8px,#fbb 0 313px,#fdd 0 314.2px,#ccf 0 315.4px,#fcc 0 316.6px,#fff 0 317.8px,#fbb 0 319px,#faa 0 321.4px,#f44 0 322.6px,#fee 0 323.8px,#faa 0 325px,#fee 0 326.2px,#f99 0 327.4px,#77f 0 328.6px,#99f 0 329.8px,#fdd 0 331px,#ddf 0 332.2px,#f99 0 333.4px,#fdd 0 335.8px,#f99 0 337px,#faa 0 338.2px,#fee 0 339.4px,#fff 0 340.6px,#ddf 0 341.8px,#fbb 0 343px,#eef 0 344.2px,#fdd 0 346.6px,#fcc 0 347.8px,#fff 0 349px,#f88 0 350.2px,#fcc 0 352.6px,#faa 0 353.8px,#99f 0 355px,#fee 0 356.2px,#aaf 0 357.4px,#f77 0 358.6px,#fff 0 359.8px,#ccf 0 361px,#f66 0 362.2px,#ddf 0 363.4px,#fee 0 364.6px,#eef 0 367px,#ccf 0 368.2px,#fdd 0 370.6px,#aaf 0 371.8px,#fdd 0 373px,#fee 0 374.2px,#ccf 0 375.4px,#f77 0 376.6px,#faa 0 377.8px,#fcc 0 379px,#f99 0 380.2px,#faa 0 381.4px,#f99 0 382.6px,#bbf 0 383.8px,#f88 0 385px,#ddf 0 386.2px,#fee 0 387.4px,#f55 0 388.6px,#faa 0 389.8px,#fbb 0 391px,#eef 0 393.4px,#fcc 0 394.6px,#fdd 0 395.8px,#f88 0 397px,#f99 0 398.2px,#ddf 0 399.4px,#fff 0 400.6px,#fee 0 403px,#f88 0 404.2px,#fee 0 405.4px,#ddf 0 406.6px,#fcc 0 407.8px,#faa 0 409px,#eef 0 410.2px,#faa 0 411.4px,#fff 0 412.6px,#eef 0 413.8px,#fdd 0 416.2px,#fcc 0 416.3px)"></div>
<div class="h" style="left:120.7px;top:680.67px;width:416.3px;height:12.62px;background:linear-gradient(90deg,#aaf 0 1.2px,#fff 0 2.4px,#fee 0 3.6px,#fdd 0 4.8px,#99f 0 6px,#fee 0 7.2px,#ccf 0 8.4px,#bbf 0 9.6px,#fdd 0 10.8px,#66f 0 12px,#bbf 0 13.2px,#eef 0 14.4px,#fee 0 15.6px,#bbf 0 16.8px,#ccf 0 18px,#bbf 0 19.2px,#eef 0 20.4px,#99f 0 21.6px,#bbf 0 22.8px,#aaf 0 24px,#99f 0 25.2px,#fee 0 26.4px,#ddf 0 27.6px,#fff 0 30px,#faa 0 31.2px,#99f 0 32.4px,#fcc 0 33.6px,#fee 0 34.8px,#ddf 0 36px,#aaf 0 37.2px,#fee 0 38.4px,#ddf 0 39.6px,#bbf 0 40.8px,#aaf 0 42px,#ccf 0 43.2px,#99f 0 44.4px,#fcc 0 45.6px,#ddf 0 46.8px,#aaf 0 48px,#fdd 0 49.2px,#bbf 0 50.4px,#99f 0 51.6px,#eef 0 52.8px,#fcc 0 54px,#fff 0 55.2px,#fdd 0 56.4px,#fee 0 57.6px,#aaf 0 58.8px,#ddf 0 60px,#fcc 0 61.2px,#bbf 0 62.4px,#ccf 0 64.8px,#55f 0 66px,#fdd 0 67.2px,#aaf 0 68.4px,#ddf 0 69.6px,#fff 0 70.8px,#aaf 0 74.4px,#eef 0 75.6px,#fdd 0 76.8px,#eef 0 78px,#bbf 0 79.2px,#88f 0 80.4px,#fee 0 81.6px,#ddf 0 84px,#aaf 0 85.2px,#fcc 0 86.4px,#eef 0 87.6px,#fcc 0 88.8px,#ccf 0 90px,#ddf 0 91.2px,#ccf 0 94.8px,#ddf 0 96px,#ccf 0 97.2px,#fee 0 98.4px,#fff 0 99.6px,#ddf 0 100.8px,#bbf 0 102px,#ccf 0 103.2px,#fee 0 105.6px,#f99 0 106.8px,#ccf 0 108px,#fdd 0 109.2px,#eef 0 111.6px,#fdd 0 112.8px,#77f 0 114px,#bbf 0 115.2px,#fee 0 116.4px,#ddf 0 117.6px,#faa 0 118.8px,#fff 0 120px,#bbf 0 121.2px,#ddf 0 123.6px,#aaf 0 124.8px,#fff 0 127.2px,#fee 0 128.4px,#eef 0 129.6px,#bbf 0 130.8px,#eef 0 132px,#ddf 0 133.2px,#77f 0 134.4px,#fff 0 135.6px,#f99 0 136.8px,#eef 0 138px,#fee 0 140.4px,#fff 0 141.6px,#55f 0 142.8px,#eef 0 144px,#aaf 0 145.2px,#fff 0 146.4px,#ddf 0 147.6px,#aaf 0 150px,#f99 0 151.2px,#eef 0 152.4px,#fee 0 153.6px,#ccf 0 154.8px,#f99 0 156px,#ddf 0 157.2px,#eef 0 158.4px,#fff 0 159.6px,#fee 0 160.8px,#ddf 0 162px,#eef 0 163.2px,#aaf 0 165.6px,#ccf 0 166.8px,#fee 0 169.2px,#77f 0 170.4px,#eef 0 171.6px,#fee 0 172.8px,#ddf 0 174px,#fee 0 175.2px,#aaf 0 176.4px,#bbf 0 177.6px,#fdd 0 178.8px,#fff 0 180px,#ccf 0 181.2px,#ddf 0 182.4px,#bbf 0 183.6px,#ddf 0 184.8px,#fee 0 186px,#ddf 0 187.2px,#ccf 0 188.4px,#fee 0 189.6px,#ccf 0 190.8px,#bbf 0 192px,#eef 0 194.4px,#fff 0 195.6px,#ccf 0 196.8px,#fff 0 198px,#ddf 0 199.2px,#88f 0 200.4px,#fff 0 201.6px,#aaf 0 202.8px,#bbf 0 204px,#ddf 0 206.4px,#aaf 0 207.6px,#99f 0 208.8px,#fbb 0 210px,#eef 0 211.2px,#bbf 0 213.6px,#fdd 0 214.8px,#88f 0 216px,#ddf 0 218.4px,#99f 0 219.6px,#77f 0 222px,#ddf 0 223.2px,#eef 0 224.4px,#bbf 0 225.6px,#fee 0 226.8px,#ddf 0 229.2px,#aaf 0 230.4px,#fcc 0 231.6px,#eef 0 232.8px,#bbf 0 234px,#fdd 0 235.2px,#fff 0 237.6px,#99f 0 238.8px,#fee 0 240px,#99f 0 241.2px,#fff 0 242.4px,#fee 0 243.6px,#fff 0 244.8px,#ccf 0 246px,#eef 0 247.2px,#ccf 0 248.4px,#99f 0 249.6px,#bbf 0 250.8px,#ccf 0 252px,#88f 0 253.2px,#77f 0 254.4px,#fee 0 255.6px,#99f 0 256.8px,#eef 0 258px,#ddf 0 260.4px,#eef 0 261.6px,#ddf 0 262.8px,#fdd 0 264px,#fee 0 265.2px,#ccf 0 266.4px,#eef 0 267.6px,#77f 0 268.8px,#ccf 0 270px,#fee 0 271.2px,#ddf 0 272.4px,#bbf 0 273.6px,#fee 0 276px,#bbf 0 277.2px,#fdd 0 278.4px,#fee 0 279.6px,#eef 0 280.8px,#ccf 0 282px,#ddf 0 283.2px,#eef 0 284.4px,#fff 0 285.6px,#bbf 0 286.8px,#fdd 0 288px,#faa 0 289.2px,#fff 0 290.4px,#eef 0 291.6px,#fff 0 292.8px,#ccf 0 294px,#fee 0 295.2px,#99f 0 296.4px,#fcc 0 297.6px,#fdd 0 298.8px,#99f 0 299.8px,#ccf 0 301px,#fdd 0 302.2px,#fee 0 303.4px,#fdd 0 304.6px,#f99 0 305.8px,#faa 0 309.4px,#fbb 0 310.6px,#faa 0 311.8px,#f99 0 313px,#fff 0 314.2px,#fbb 0 315.4px,#fee 0 316.6px,#fcc 0 317.8px,#f88 0 319px,#ccf 0 320.2px,#f99 0 321.4px,#fff 0 322.6px,#fcc 0 323.8px,#eef 0 325px,#fcc 0 326.2px,#f99 0 327.4px,#faa 0 328.6px,#fbb 0 331px,#fee 0 332.2px,#f33 0 333.4px,#fcc 0 334.6px,#fdd 0 335.8px,#f99 0 337px,#fdd 0 338.2px,#fbb 0 339.4px,#fee 0 340.6px,#fbb 0 343px,#fee 0 345.4px,#fbb 0 346.6px,#fdd 0 347.8px,#eef 0 349px,#fff 0 350.2px,#aaf 0 351.4px,#f99 0 352.6px,#faa 0 353.8px,#ccf 0 355px,#f44 0 356.2px,#eef 0 357.4px,#fcc 0 358.6px,#f88 0 359.8px,#f77 0 361px,#fdd 0 363.4px,#faa 0 365.8px,#fcc 0 367px,#eef 0 368.2px,#f77 0 369.4px,#f66 0 370.6px,#fee 0 371.8px,#eef 0 373px,#f99 0 374.2px,#f66 0 375.4px,#fcc 0 376.6px,#fdd 0 377.8px,#f99 0 379px,#fcc 0 380.2px,#eef 0 381.4px,#fcc 0 382.6px,#fdd 0 385px,#fff 0 386.2px,#f77 0 387.4px,#fff 0 388.6px,#fbb 0 389.8px,#f33 0 391px,#eef 0 392.2px,#f99 0 393.4px,#fff 0 394.6px,#fee 0 395.8px,#f88 0 397px,#fcc 0 398.2px,#fbb 0 399.4px,#fcc 0 400.6px,#fbb 0 401.8px,#f77 0 403px,#fcc 0 404.2px,#fbb 0 405.4px,#f77 0 406.6px,#fbb 0 407.8px,#ccf 0 409px,#f88 0 410.2px,#f77 0 411.4px,#fdd 0 412.6px,#f88 0 413.8px,#ccf 0 415px,#f88 0 416.2px,#fdd 0 416.3px)"></div>
<div class="h" style="left:120.7px;top:693.25px;width:416.3px;height:12.62px;background:linear-gradient(90deg,#88f 0 2.4px,#fee 0 3.6px,#ccf 0 4.8px,#fee 0 7.2px,#fcc 0 8.4px,#eef 0 10.8px,#ccf 0 12px,#ddf 0 13.2px,#eef 0 14.4px,#fff 0 16.8px,#aaf 0 18px,#fbb 0 19.2px,#fee 0 20.4px,#99f 0 21.6px,#ddf 0 22.8px,#ccf 0 24px,#66f 0 25.2px,#fff 0 26.4px,#fdd 0 27.6px,#fee 0 28.8px,#66f 0 30px,#ddf 0 31.2px,#fdd 0 32.4px,#ddf 0 33.6px,#bbf 0 34.8px,#eef 0 36px,#fdd 0 37.2px,#bbf 0 38.4px,#99f 0 39.6px,#ddf 0 40.8px,#eef 0 42px,#ddf 0 43.2px,#bbf 0 45.6px,#88f 0 46.8px,#eef 0 48px,#fff 0 49.2px,#fdd 0 50.4px,#aaf 0 51.6px,#fee 0 52.8px,#ccf 0 54px,#bbf 0 55.2px,#fff 0 56.4px,#fee 0 57.6px,#77f 0 58.8px,#aaf 0 60px,#ddf 0 61.2px,#fdd 0 62.4px,#fff 0 63.6px,#bbf 0 64.8px,#fee 0 66px,#ddf 0 67.2px,#77f 0 68.4px,#fdd 0 69.6px,#66f 0 70.8px,#ddf 0 72px,#eef 0 73.2px,#fee 0 74.4px,#fff 0 75.6px,#ddf 0 76.8px,#fff 0 78px,#ddf 0 79.2px,#55f 0 80.4px,#fee 0 81.6px,#ddf 0 82.8px,#bbf 0 84px,#ccf 0 85.2px,#aaf 0 86.4px,#ccf 0 87.6px,#fcc 0 88.8px,#ddf 0 90px,#77f 0 91.2px,#ddf 0 92.4px,#fff 0 93.6px,#77f 0 94.8px,#fdd 0 96px,#ccf 0 97.2px,#eef 0 98.4px,#fcc 0 99.6px,#bbf 0 102px,#aaf 0 103.2px,#fff 0 104.4px,#fcc 0 105.6px,#ddf 0 106.8px,#aaf 0 108px,#fcc 0 109.2px,#fff 0 110.4px,#fcc 0 111.6px,#99f 0 112.8px,#fdd 0 114px,#ccf 0 116.4px,#fff 0 117.6px,#88f 0 118.8px,#fdd 0 120px,#faa 0 121.2px,#ddf 0 122.4px,#fee 0 123.6px,#eef 0 124.8px,#fee 0 126px,#ccf 0 127.2px,#eef 0 128.4px,#aaf 0 129.6px,#fff 0 130.8px,#77f 0 132px,#88f 0 133.2px,#fff 0 134.4px,#ddf 0 136.8px,#fff 0 138px,#eef 0 139.2px,#fff 0 140.4px,#ddf 0 141.6px,#aaf 0 142.8px,#fff 0 144px,#fee 0 145.2px,#fff 0 146.4px,#ddf 0 147.6px,#aaf 0 148.8px,#ddf 0 150px,#ccf 0 151.2px,#aaf 0 152.4px,#ddf 0 153.6px,#eef 0 156px,#fff 0 157.2px,#fee 0 158.4px,#ccf 0 159.6px,#fbb 0 160.8px,#ccf 0 162px,#aaf 0 163.2px,#ddf 0 166.8px,#fcc 0 168px,#fff 0 170.4px,#fcc 0 172.8px,#fdd 0 174px,#fee 0 175.2px,#bbf 0 177.6px,#99f 0 178.8px,#ddf 0 180px,#aaf 0 181.2px,#bbf 0 182.4px,#88f 0 183.6px,#eef 0 184.8px,#bbf 0 186px,#fff 0 187.2px,#ddf 0 188.4px,#ccf 0 189.6px,#66f 0 190.8px,#fff 0 192px,#eef 0 193.2px,#88f 0 194.4px,#ddf 0 195.6px,#ccf 0 196.8px,#fdd 0 198px,#ccf 0 199.2px,#ddf 0 200.4px,#fee 0 201.6px,#ddf 0 202.8px,#bbf 0 204px,#ccf 0 205.2px,#aaf 0 206.4px,#fcc 0 207.6px,#ccf 0 208.8px,#aaf 0 210px,#faa 0 211.2px,#99f 0 212.4px,#aaf 0 213.6px,#99f 0 214.8px,#fee 0 216px,#aaf 0 217.2px,#fff 0 220.8px,#fee 0 223.2px,#fff 0 224.4px,#77f 0 225.6px,#ddf 0 226.8px,#aaf 0 228px,#fdd 0 229.2px,#ccf 0 230.4px,#fdd 0 231.6px,#66f 0 232.8px,#ccf 0 234px,#eef 0 235.2px,#99f 0 236.4px,#bbf 0 237.6px,#ccf 0 238.8px,#88f 0 240px,#ddf 0 241.2px,#fdd 0 242.4px,#ddf 0 244.8px,#fcc 0 246px,#aaf 0 247.2px,#ddf 0 249.6px,#fee 0 250.8px,#fff 0 252px,#eef 0 254.4px,#fee 0 256.8px,#aaf 0 258px,#eef 0 259.2px,#fff 0 260.4px,#f88 0 261.6px,#fff 0 262.8px,#fee 0 264px,#ccf 0 265.2px,#aaf 0 266.4px,#fee 0 267.6px,#bbf 0 270px,#ccf 0 271.2px,#ddf 0 272.4px,#fcc 0 273.6px,#aaf 0 274.8px,#eef 0 277.2px,#ddf 0 278.4px,#fee 0 279.6px,#ccf 0 280.8px,#fff 0 282px,#99f 0 283.2px,#fdd 0 284.4px,#99f 0 285.6px,#aaf 0 286.8px,#ddf 0 292.8px,#fff 0 294px,#fcc 0 295.2px,#ddf 0 296.4px,#fbb 0 297.6px,#fdd 0 298.8px,#66f 0 299.8px,#fff 0 301px,#fbb 0 302.2px,#fff 0 303.4px,#f99 0 304.6px,#f88 0 305.8px,#faa 0 307px,#f77 0 308.2px,#fcc 0 309.4px,#faa 0 310.6px,#fcc 0 311.8px,#f99 0 313px,#faa 0 314.2px,#fcc 0 315.4px,#fdd 0 316.6px,#eef 0 317.8px,#f44 0 319px,#f88 0 320.2px,#f99 0 321.4px,#fee 0 322.6px,#eef 0 323.8px,#f99 0 325px,#fbb 0 326.2px,#f66 0 327.4px,#ddf 0 328.6px,#f88 0 329.8px,#f99 0 332.2px,#fdd 0 333.4px,#eef 0 334.6px,#fee 0 335.8px,#f99 0 337px,#fdd 0 338.2px,#fcc 0 339.4px,#faa 0 341.8px,#fdd 0 343px,#faa 0 344.2px,#f66 0 345.4px,#fee 0 346.6px,#f99 0 347.8px,#fbb 0 349px,#f77 0 350.2px,#fdd 0 351.4px,#f77 0 352.6px,#faa 0 353.8px,#fcc 0 356.2px,#f99 0 357.4px,#fbb 0 358.6px,#f99 0 359.8px,#fee 0 361px,#ddf 0 362.2px,#f99 0 363.4px,#fff 0 364.6px,#f88 0 365.8px,#88f 0 367px,#fbb 0 369.4px,#f88 0 370.6px,#fdd 0 371.8px,#fff 0 373px,#f99 0 374.2px,#fcc 0 376.6px,#fff 0 377.8px,#fcc 0 379px,#f77 0 380.2px,#fbb 0 381.4px,#f99 0 383.8px,#fbb 0 385px,#f66 0 386.2px,#fcc 0 387.4px,#f66 0 388.6px,#f99 0 389.8px,#f77 0 391px,#fbb 0 392.2px,#fdd 0 393.4px,#fbb 0 394.6px,#f88 0 397px,#ddf 0 398.2px,#f99 0 399.4px,#f55 0 400.6px,#fbb 0 401.8px,#f55 0 403px,#f99 0 404.2px,#fcc 0 407.8px,#fbb 0 409px,#f66 0 410.2px,#f88 0 411.4px,#fbb 0 413.8px,#f99 0 415px,#f55 0 416.2px,#ddf 0 416.3px)"></div>
<div class="h" style="left:120.7px;top:705.82px;width:416.3px;height:12.62px;background:linear-gradient(90deg,#ccf 0 1.2px,#eef 0 2.4px,#bbf 0 3.6px,#ddf 0 4.8px,#fff 0 6px,#aaf 0 7.2px,#ddf 0 8.4px,#99f 0 9.6px,#fff 0 12px,#ddf 0 13.2px,#aaf 0 14.4px,#bbf 0 15.6px,#aaf 0 16.8px,#fff 0 19.2px,#ccf 0 20.4px,#bbf 0 21.6px,#ddf 0 22.8px,#fff 0 24px,#eef 0 25.2px,#aaf 0 26.4px,#bbf 0 27.6px,#eef 0 28.8px,#ddf 0 30px,#aaf 0 32.4px,#eef 0 33.6px,#ccf 0 34.8px,#aaf 0 36px,#ddf 0 37.2px,#fff 0 38.4px,#ccf 0 39.6px,#aaf 0 40.8px,#bbf 0 42px,#99f 0 43.2px,#aaf 0 44.4px,#bbf 0 45.6px,#ddf 0 46.8px,#ccf 0 48px,#bbf 0 49.2px,#fff 0 51.6px,#ddf 0 52.8px,#bbf 0 54px,#ccf 0 55.2px,#bbf 0 56.4px,#aaf 0 57.6px,#ddf 0 58.8px,#bbf 0 60px,#ddf 0 61.2px,#bbf 0 63.6px,#ccf 0 67.2px,#eef 0 68.4px,#bbf 0 69.6px,#99f 0 70.8px,#ccf 0 72px,#eef 0 73.2px,#99f 0 74.4px,#aaf 0 75.6px,#88f 0 76.8px,#aaf 0 78px,#ccf 0 79.2px,#bbf 0 81.6px,#ddf 0 82.8px,#fff 0 84px,#bbf 0 85.2px,#ddf 0 87.6px,#aaf 0 88.8px,#ccf 0 90px,#eef 0 91.2px,#aaf 0 92.4px,#bbf 0 93.6px,#ddf 0 94.8px,#99f 0 96px,#55f 0 97.2px,#eef 0 98.4px,#bbf 0 99.6px,#ddf 0 100.8px,#bbf 0 102px,#aaf 0 103.2px,#88f 0 104.4px,#eef 0 105.6px,#ccf 0 106.8px,#ddf 0 108px,#bbf 0 109.2px,#ddf 0 111.6px,#eef 0 112.8px,#ddf 0 115.2px,#fff 0 116.4px,#ccf 0 117.6px,#fee 0 118.8px,#99f 0 120px,#aaf 0 122.4px,#bbf 0 123.6px,#ccf 0 124.8px,#eef 0 126px,#ddf 0 127.2px,#fff 0 128.4px,#ccf 0 129.6px,#fdd 0 130.8px,#eef 0 132px,#aaf 0 133.2px,#ccf 0 134.4px,#99f 0 135.6px,#bbf 0 136.8px,#eef 0 138px,#fff 0 139.2px,#bbf 0 140.4px,#fdd 0 141.6px,#99f 0 142.8px,#ccf 0 144px,#eef 0 145.2px,#bbf 0 147.6px,#eef 0 148.8px,#ccf 0 150px,#bbf 0 151.2px,#ddf 0 153.6px,#ccf 0 154.8px,#fff 0 156px,#ddf 0 157.2px,#99f 0 158.4px,#fff 0 160.8px,#ccf 0 163.2px,#99f 0 164.4px,#eef 0 165.6px,#fff 0 166.8px,#ccf 0 168px,#bbf 0 170.4px,#ddf 0 174px,#fff 0 175.2px,#ddf 0 176.4px,#bbf 0 177.6px,#ccf 0 178.8px,#aaf 0 180px,#ddf 0 181.2px,#ccf 0 182.4px,#bbf 0 183.6px,#ddf 0 186px,#aaf 0 188.4px,#ddf 0 189.6px,#bbf 0 190.8px,#ccf 0 192px,#eef 0 193.2px,#ddf 0 194.4px,#bbf 0 196.8px,#aaf 0 198px,#eef 0 199.2px,#fee 0 200.4px,#bbf 0 201.6px,#eef 0 202.8px,#ddf 0 204px,#aaf 0 205.2px,#ddf 0 206.4px,#99f 0 207.6px,#eef 0 210px,#ccf 0 211.2px,#aaf 0 212.4px,#fdd 0 213.6px,#ccf 0 214.8px,#bbf 0 216px,#ddf 0 217.2px,#ccf 0 218.4px,#eef 0 219.6px,#88f 0 220.8px,#ddf 0 222px,#fee 0 223.2px,#eef 0 224.4px,#ccf 0 225.6px,#fff 0 229.2px,#aaf 0 230.4px,#ddf 0 231.6px,#bbf 0 232.8px,#eef 0 234px,#ddf 0 235.2px,#aaf 0 236.4px,#ddf 0 237.6px,#bbf 0 238.8px,#aaf 0 240px,#fff 0 241.2px,#ccf 0 242.4px,#bbf 0 243.6px,#ccf 0 244.8px,#aaf 0 246px,#ccf 0 248.4px,#99f 0 249.6px,#fdd 0 250.8px,#eef 0 252px,#bbf 0 253.2px,#ccf 0 254.4px,#ddf 0 255.6px,#ccf 0 256.8px,#ddf 0 258px,#fff 0 259.2px,#ddf 0 260.4px,#99f 0 261.6px,#aaf 0 262.8px,#ddf 0 266.4px,#99f 0 267.6px,#ddf 0 268.8px,#bbf 0 270px,#eef 0 271.2px,#99f 0 272.4px,#eef 0 273.6px,#ccf 0 276px,#ddf 0 278.4px,#ccf 0 279.6px,#bbf 0 282px,#ddf 0 283.2px,#eef 0 285.6px,#bbf 0 286.8px,#ddf 0 288px,#bbf 0 290.4px,#fff 0 291.6px,#eef 0 294px,#fee 0 295.2px,#eef 0 296.4px,#ccf 0 297.6px,#bbf 0 298.8px,#ccf 0 299.8px,#f66 0 301px,#f88 0 302.2px,#fbb 0 303.4px,#faa 0 305.8px,#f77 0 307px,#fbb 0 308.2px,#faa 0 309.4px,#f99 0 310.6px,#faa 0 311.8px,#f88 0 313px,#f99 0 314.2px,#f44 0 315.4px,#f77 0 316.6px,#faa 0 317.8px,#fcc 0 319px,#f77 0 320.2px,#faa 0 321.4px,#f77 0 322.6px,#f99 0 323.8px,#f77 0 325px,#f55 0 326.2px,#fee 0 327.4px,#fcc 0 328.6px,#f77 0 331px,#f99 0 332.2px,#fcc 0 333.4px,#f55 0 334.6px,#faa 0 337px,#fbb 0 338.2px,#fee 0 339.4px,#fdd 0 340.6px,#fff 0 341.8px,#f88 0 343px,#fdd 0 344.2px,#f88 0 345.4px,#fcc 0 346.6px,#f99 0 347.8px,#fcc 0 349px,#f99 0 350.2px,#fcc 0 352.6px,#f99 0 355px,#f22 0 356.2px,#f99 0 357.4px,#faa 0 358.6px,#fbb 0 359.8px,#f77 0 361px,#fcc 0 362.2px,#fee 0 363.4px,#f66 0 364.6px,#f99 0 365.8px,#f88 0 367px,#f77 0 369.4px,#faa 0 370.6px,#f77 0 371.8px,#f55 0 373px,#f99 0 374.2px,#f77 0 375.4px,#eef 0 376.6px,#f88 0 377.8px,#f99 0 380.2px,#fff 0 381.4px,#eef 0 382.6px,#fbb 0 383.8px,#faa 0 385px,#f88 0 386.2px,#f99 0 387.4px,#fbb 0 388.6px,#f88 0 389.8px,#fdd 0 391px,#f99 0 392.2px,#fee 0 393.4px,#f88 0 395.8px,#fcc 0 397px,#f44 0 398.2px,#fbb 0 399.4px,#f77 0 400.6px,#f55 0 401.8px,#fbb 0 403px,#fcc 0 404.2px,#f77 0 405.4px,#f88 0 407.8px,#f66 0 409px,#fbb 0 410.2px,#fee 0 411.4px,#f88 0 412.6px,#f55 0 413.8px,#faa 0 415px,#f88 0 416.2px,#f66 0 416.3px)"></div>
<div class="h" style="left:120.7px;top:718.4px;width:416.3px;height:12.62px;background:linear-gradient(90deg,#bbf 0 3.6px,#eef 0 4.8px,#aaf 0 6px,#fdd 0 7.2px,#eef 0 8.4px,#ccf 0 9.6px,#ddf 0 10.8px,#99f 0 12px,#bbf 0 13.2px,#99f 0 14.4px,#fee 0 15.6px,#ccf 0 18px,#99f 0 19.2px,#fee 0 21.6px,#eef 0 22.8px,#88f 0 24px,#ddf 0 25.2px,#fee 0 26.4px,#bbf 0 27.6px,#eef 0 28.8px,#ccf 0 30px,#bbf 0 31.2px,#aaf 0 33.6px,#99f 0 34.8px,#fff 0 36px,#ddf 0 37.2px,#aaf 0 38.4px,#fee 0 39.6px,#fff 0 40.8px,#bbf 0 43.2px,#ddf 0 44.4px,#fee 0 45.6px,#55f 0 46.8px,#bbf 0 48px,#fee 0 49.2px,#fff 0 50.4px,#ddf 0 52.8px,#bbf 0 54px,#ccf 0 55.2px,#bbf 0 57.6px,#ccf 0 58.8px,#eef 0 60px,#ddf 0 61.2px,#ccf 0 62.4px,#bbf 0 63.6px,#eef 0 64.8px,#ddf 0 66px,#bbf 0 67.2px,#aaf 0 68.4px,#fff 0 70.8px,#eef 0 72px,#ddf 0 73.2px,#55f 0 74.4px,#eef 0 75.6px,#ccf 0 76.8px,#bbf 0 78px,#eef 0 79.2px,#ccf 0 80.4px,#eef 0 81.6px,#bbf 0 82.8px,#ccf 0 84px,#bbf 0 85.2px,#fee 0 86.4px,#eef 0 87.6px,#ddf 0 88.8px,#bbf 0 90px,#ddf 0 91.2px,#aaf 0 92.4px,#ccf 0 93.6px,#ddf 0 94.8px,#bbf 0 96px,#aaf 0 97.2px,#ccf 0 98.4px,#bbf 0 99.6px,#eef 0 100.8px,#ccf 0 102px,#bbf 0 103.2px,#ccf 0 104.4px,#bbf 0 105.6px,#ccf 0 106.8px,#bbf 0 108px,#ddf 0 110.4px,#fee 0 111.6px,#eef 0 112.8px,#ddf 0 114px,#eef 0 115.2px,#bbf 0 116.4px,#ccf 0 117.6px,#ddf 0 118.8px,#bbf 0 121.2px,#aaf 0 122.4px,#bbf 0 123.6px,#ccf 0 124.8px,#bbf 0 126px,#fff 0 127.2px,#ccf 0 128.4px,#ddf 0 129.6px,#ccf 0 130.8px,#fee 0 132px,#ccf 0 133.2px,#eef 0 134.4px,#ccf 0 135.6px,#bbf 0 136.8px,#ddf 0 138px,#aaf 0 140.4px,#ccf 0 141.6px,#bbf 0 142.8px,#ccf 0 144px,#fee 0 145.2px,#ddf 0 146.4px,#aaf 0 147.6px,#ddf 0 148.8px,#bbf 0 151.2px,#ccf 0 153.6px,#bbf 0 154.8px,#ccf 0 156px,#ddf 0 158.4px,#aaf 0 159.6px,#bbf 0 160.8px,#99f 0 163.2px,#fee 0 164.4px,#ccf 0 165.6px,#fee 0 166.8px,#ccf 0 168px,#99f 0 169.2px,#ddf 0 171.6px,#bbf 0 172.8px,#eef 0 174px,#ddf 0 175.2px,#99f 0 176.4px,#fff 0 177.6px,#aaf 0 178.8px,#eef 0 180px,#ddf 0 182.4px,#99f 0 183.6px,#ccf 0 187.2px,#eef 0 188.4px,#fff 0 189.6px,#99f 0 190.8px,#fff 0 193.2px,#ccf 0 194.4px,#bbf 0 195.6px,#ccf 0 198px,#aaf 0 199.2px,#fff 0 200.4px,#ddf 0 202.8px,#88f 0 204px,#ccf 0 205.2px,#aaf 0 206.4px,#ddf 0 207.6px,#eef 0 208.8px,#ccf 0 210px,#fff 0 211.2px,#ccf 0 212.4px,#ddf 0 213.6px,#ccf 0 214.8px,#eef 0 217.2px,#ccf 0 218.4px,#fff 0 219.6px,#ddf 0 222px,#ccf 0 223.2px,#bbf 0 224.4px,#eef 0 225.6px,#ddf 0 226.8px,#fee 0 228px,#bbf 0 230.4px,#fff 0 231.6px,#ddf 0 232.8px,#fff 0 234px,#ddf 0 235.2px,#bbf 0 236.4px,#ddf 0 237.6px,#ccf 0 238.8px,#bbf 0 240px,#ddf 0 242.4px,#fff 0 243.6px,#ccf 0 244.8px,#ddf 0 246px,#77f 0 247.2px,#bbf 0 248.4px,#fff 0 249.6px,#bbf 0 250.8px,#ddf 0 252px,#99f 0 253.2px,#fee 0 254.4px,#ccf 0 255.6px,#aaf 0 256.8px,#bbf 0 258px,#ccf 0 259.2px,#bbf 0 260.4px,#ccf 0 265.2px,#ddf 0 267.6px,#eef 0 268.8px,#ccf 0 270px,#fff 0 271.2px,#ccf 0 272.4px,#99f 0 274.8px,#eef 0 276px,#aaf 0 277.2px,#ccf 0 278.4px,#aaf 0 279.6px,#fee 0 280.8px,#ddf 0 282px,#eef 0 283.2px,#ddf 0 284.4px,#fff 0 285.6px,#bbf 0 286.8px,#ccf 0 288px,#eef 0 290.4px,#77f 0 291.6px,#aaf 0 292.8px,#ddf 0 294px,#fff 0 295.2px,#bbf 0 296.4px,#ddf 0 297.6px,#ccf 0 298.8px,#ddf 0 299.8px,#f77 0 301px,#f99 0 302.2px,#f66 0 303.4px,#fbb 0 304.6px,#f99 0 305.8px,#f66 0 307px,#fbb 0 308.2px,#f99 0 309.4px,#f88 0 310.6px,#f99 0 313px,#fbb 0 314.2px,#faa 0 315.4px,#f77 0 317.8px,#f88 0 319px,#fdd 0 320.2px,#f99 0 321.4px,#fbb 0 322.6px,#faa 0 323.8px,#f99 0 325px,#faa 0 326.2px,#fdd 0 327.4px,#f99 0 328.6px,#f88 0 329.8px,#f44 0 331px,#fee 0 332.2px,#f88 0 333.4px,#fcc 0 334.6px,#f88 0 335.8px,#f77 0 337px,#faa 0 339.4px,#fcc 0 340.6px,#fbb 0 341.8px,#f88 0 343px,#faa 0 344.2px,#f88 0 345.4px,#faa 0 347.8px,#f66 0 349px,#f77 0 350.2px,#fcc 0 351.4px,#f33 0 352.6px,#faa 0 353.8px,#f88 0 355px,#f55 0 356.2px,#f99 0 357.4px,#fcc 0 358.6px,#f33 0 359.8px,#f99 0 363.4px,#f66 0 364.6px,#f88 0 365.8px,#fbb 0 367px,#f99 0 368.2px,#faa 0 369.4px,#f88 0 370.6px,#fcc 0 371.8px,#f55 0 373px,#f66 0 374.2px,#faa 0 375.4px,#fbb 0 376.6px,#faa 0 379px,#f88 0 380.2px,#f55 0 381.4px,#fee 0 382.6px,#f88 0 383.8px,#f55 0 385px,#f88 0 387.4px,#fcc 0 388.6px,#f77 0 389.8px,#f99 0 392.2px,#faa 0 393.4px,#f99 0 395.8px,#fbb 0 397px,#f66 0 398.2px,#f99 0 399.4px,#fbb 0 400.6px,#f55 0 401.8px,#faa 0 403px,#f88 0 404.2px,#f77 0 405.4px,#f88 0 406.6px,#f99 0 409px,#fdd 0 410.2px,#f44 0 411.4px,#fee 0 412.6px,#fdd 0 413.8px,#f77 0 415px,#f66 0 416.2px,#f44 0 416.3px)"></div>
<div class="h" style="left:120.7px;top:730.97px;width:416.3px;height:12.62px;background:linear-gradient(90deg,#ccf 0 1.2px,#ddf 0 2.4px,#ccf 0 3.6px,#ddf 0 4.8px,#bbf 0 7.2px,#ccf 0 9.6px,#fee 0 10.8px,#aaf 0 12px,#eef 0 13.2px,#ccf 0 14.4px,#99f 0 15.6px,#ddf 0 16.8px,#aaf 0 18px,#bbf 0 19.2px,#eef 0 20.4px,#fee 0 21.6px,#ddf 0 25.2px,#ccf 0 26.4px,#ddf 0 27.6px,#eef 0 28.8px,#ccf 0 33.6px,#99f 0 34.8px,#bbf 0 36px,#ccf 0 37.2px,#fff 0 38.4px,#eef 0 39.6px,#aaf 0 40.8px,#fdd 0 42px,#88f 0 43.2px,#aaf 0 45.6px,#ddf 0 46.8px,#fee 0 48px,#aaf 0 49.2px,#ccf 0 50.4px,#aaf 0 51.6px,#ccf 0 52.8px,#eef 0 55.2px,#99f 0 56.4px,#bbf 0 58.8px,#ddf 0 60px,#fee 0 61.2px,#ddf 0 62.4px,#bbf 0 63.6px,#eef 0 64.8px,#fee 0 66px,#66f 0 67.2px,#ccf 0 68.4px,#aaf 0 69.6px,#eef 0 70.8px,#99f 0 72px,#fdd 0 73.2px,#aaf 0 74.4px,#ddf 0 75.6px,#eef 0 76.8px,#ddf 0 78px,#eef 0 79.2px,#ccf 0 80.4px,#99f 0 81.6px,#bbf 0 84px,#aaf 0 85.2px,#eef 0 86.4px,#ccf 0 87.6px,#fff 0 88.8px,#99f 0 90px,#eef 0 91.2px,#aaf 0 93.6px,#fee 0 94.8px,#ddf 0 96px,#aaf 0 97.2px,#ccf 0 98.4px,#aaf 0 99.6px,#bbf 0 100.8px,#88f 0 102px,#77f 0 103.2px,#bbf 0 104.4px,#fee 0 105.6px,#eef 0 106.8px,#aaf 0 108px,#fff 0 109.2px,#ccf 0 111.6px,#ddf 0 112.8px,#ccf 0 116.4px,#eef 0 117.6px,#99f 0 118.8px,#ccf 0 120px,#aaf 0 122.4px,#ddf 0 123.6px,#bbf 0 124.8px,#aaf 0 127.2px,#ddf 0 128.4px,#ccf 0 130.8px,#ddf 0 133.2px,#bbf 0 134.4px,#ddf 0 135.6px,#bbf 0 136.8px,#fff 0 138px,#ddf 0 139.2px,#eef 0 140.4px,#fff 0 141.6px,#ddf 0 142.8px,#ccf 0 144px,#aaf 0 145.2px,#ccf 0 146.4px,#aaf 0 147.6px,#fff 0 148.8px,#aaf 0 150px,#ccf 0 151.2px,#ddf 0 152.4px,#99f 0 153.6px,#ccf 0 154.8px,#ddf 0 156px,#bbf 0 158.4px,#ccf 0 159.6px,#aaf 0 160.8px,#eef 0 162px,#ccf 0 163.2px,#bbf 0 164.4px,#ccf 0 165.6px,#ddf 0 166.8px,#ccf 0 168px,#66f 0 169.2px,#ddf 0 170.4px,#aaf 0 171.6px,#eef 0 172.8px,#ccf 0 174px,#bbf 0 175.2px,#eef 0 176.4px,#aaf 0 177.6px,#ccf 0 180px,#fff 0 181.2px,#fee 0 182.4px,#ddf 0 183.6px,#aaf 0 184.8px,#ccf 0 188.4px,#ddf 0 192px,#ccf 0 193.2px,#fff 0 195.6px,#aaf 0 196.8px,#bbf 0 198px,#fee 0 199.2px,#bbf 0 200.4px,#ddf 0 201.6px,#fdd 0 202.8px,#99f 0 204px,#ddf 0 206.4px,#fff 0 207.6px,#ddf 0 208.8px,#aaf 0 210px,#ddf 0 211.2px,#bbf 0 212.4px,#eef 0 213.6px,#ddf 0 214.8px,#eef 0 216px,#bbf 0 217.2px,#ddf 0 218.4px,#ccf 0 219.6px,#fff 0 220.8px,#eef 0 222px,#99f 0 223.2px,#fff 0 224.4px,#aaf 0 226.8px,#ccf 0 228px,#bbf 0 229.2px,#ddf 0 230.4px,#eef 0 231.6px,#bbf 0 232.8px,#eef 0 234px,#ccf 0 237.6px,#ddf 0 240px,#eef 0 242.4px,#ccf 0 243.6px,#ddf 0 246px,#fff 0 247.2px,#ccf 0 248.4px,#88f 0 249.6px,#ccf 0 250.8px,#ddf 0 252px,#fcc 0 253.2px,#eef 0 254.4px,#99f 0 255.6px,#fff 0 256.8px,#ddf 0 258px,#99f 0 259.2px,#bbf 0 260.4px,#99f 0 261.6px,#ccf 0 262.8px,#99f 0 264px,#aaf 0 265.2px,#bbf 0 267.6px,#aaf 0 268.8px,#ccf 0 270px,#99f 0 271.2px,#bbf 0 272.4px,#ddf 0 273.6px,#fff 0 274.8px,#ddf 0 278.4px,#fee 0 280.8px,#eef 0 282px,#bbf 0 283.2px,#77f 0 284.4px,#aaf 0 285.6px,#ccf 0 286.8px,#bbf 0 288px,#ddf 0 289.2px,#eef 0 290.4px,#ddf 0 291.6px,#ccf 0 292.8px,#99f 0 294px,#eef 0 295.2px,#fff 0 296.4px,#eef 0 297.6px,#77f 0 298.8px,#ddf 0 299.8px,#faa 0 301px,#f77 0 302.2px,#f88 0 303.4px,#f99 0 304.6px,#faa 0 305.8px,#f44 0 307px,#fbb 0 308.2px,#f77 0 309.4px,#f66 0 310.6px,#faa 0 311.8px,#eef 0 313px,#fcc 0 314.2px,#faa 0 315.4px,#f66 0 316.6px,#f88 0 317.8px,#f77 0 319px,#f99 0 320.2px,#f77 0 321.4px,#faa 0 322.6px,#f99 0 323.8px,#fbb 0 325px,#f88 0 326.2px,#fcc 0 327.4px,#fdd 0 328.6px,#f44 0 329.8px,#f88 0 331px,#fbb 0 332.2px,#f88 0 333.4px,#f44 0 334.6px,#f66 0 335.8px,#f99 0 337px,#f44 0 338.2px,#fbb 0 339.4px,#f88 0 340.6px,#f55 0 341.8px,#faa 0 344.2px,#fcc 0 345.4px,#f66 0 346.6px,#fbb 0 347.8px,#f77 0 349px,#fbb 0 350.2px,#f77 0 351.4px,#fbb 0 352.6px,#f88 0 353.8px,#eef 0 355px,#f88 0 356.2px,#faa 0 357.4px,#fcc 0 358.6px,#f77 0 359.8px,#f99 0 361px,#f44 0 362.2px,#f88 0 363.4px,#faa 0 364.6px,#fbb 0 365.8px,#f88 0 367px,#f44 0 368.2px,#f66 0 369.4px,#fcc 0 370.6px,#f66 0 371.8px,#f77 0 373px,#f88 0 375.4px,#fbb 0 376.6px,#faa 0 377.8px,#f99 0 379px,#f88 0 380.2px,#fdd 0 382.6px,#f88 0 383.8px,#f55 0 385px,#fff 0 386.2px,#f88 0 388.6px,#f33 0 389.8px,#f88 0 391px,#f66 0 392.2px,#fbb 0 395.8px,#f77 0 397px,#fbb 0 398.2px,#faa 0 399.4px,#f99 0 400.6px,#faa 0 401.8px,#ddf 0 403px,#fbb 0 404.2px,#f99 0 405.4px,#fcc 0 406.6px,#f77 0 407.8px,#f66 0 409px,#fdd 0 410.2px,#f88 0 411.4px,#faa 0 412.6px,#fff 0 413.8px,#fbb 0 415px,#fcc 0 416.2px,#faa 0 416.3px)"></div>
<div class="h" style="left:120.7px;top:743.54px;width:416.3px;height:12.62px;background:linear-gradient(90deg,#ddf 0 1.2px,#aaf 0 2.4px,#eef 0 3.6px,#fff 0 4.8px,#bbf 0 6px,#eef 0 7.2px,#99f 0 8.4px,#eef 0 9.6px,#fff 0 10.8px,#ddf 0 12px,#ccf 0 13.2px,#ddf 0 14.4px,#ccf 0 15.6px,#fee 0 16.8px,#bbf 0 18px,#fcc 0 19.2px,#fee 0 20.4px,#bbf 0 22.8px,#ccf 0 24px,#ddf 0 25.2px,#eef 0 26.4px,#ccf 0 28.8px,#bbf 0 30px,#ddf 0 31.2px,#ccf 0 32.4px,#bbf 0 33.6px,#99f 0 34.8px,#ddf 0 36px,#fff 0 38.4px,#ddf 0 39.6px,#99f 0 40.8px,#fee 0 42px,#99f 0 43.2px,#aaf 0 44.4px,#ccf 0 45.6px,#bbf 0 46.8px,#ccf 0 48px,#bbf 0 49.2px,#eef 0 51.6px,#ddf 0 52.8px,#bbf 0 54px,#ccf 0 55.2px,#88f 0 56.4px,#eef 0 57.6px,#bbf 0 58.8px,#ddf 0 60px,#eef 0 61.2px,#fee 0 62.4px,#ddf 0 63.6px,#bbf 0 64.8px,#99f 0 66px,#ccf 0 67.2px,#ddf 0 68.4px,#fff 0 69.6px,#ddf 0 70.8px,#eef 0 72px,#aaf 0 73.2px,#ccf 0 74.4px,#ddf 0 75.6px,#aaf 0 76.8px,#fff 0 78px,#bbf 0 79.2px,#88f 0 80.4px,#ccf 0 81.6px,#aaf 0 82.8px,#bbf 0 84px,#ddf 0 85.2px,#99f 0 86.4px,#ddf 0 87.6px,#ccf 0 91.2px,#99f 0 92.4px,#aaf 0 93.6px,#ddf 0 94.8px,#bbf 0 96px,#ddf 0 97.2px,#eef 0 98.4px,#bbf 0 99.6px,#ccf 0 100.8px,#99f 0 102px,#fff 0 103.2px,#aaf 0 104.4px,#eef 0 105.6px,#ccf 0 106.8px,#ddf 0 109.2px,#aaf 0 110.4px,#ddf 0 111.6px,#99f 0 112.8px,#bbf 0 114px,#ccf 0 115.2px,#fff 0 116.4px,#ccf 0 117.6px,#eef 0 118.8px,#aaf 0 120px,#ddf 0 121.2px,#aaf 0 123.6px,#eef 0 124.8px,#aaf 0 126px,#bbf 0 127.2px,#99f 0 128.4px,#aaf 0 129.6px,#eef 0 130.8px,#ddf 0 133.2px,#eef 0 135.6px,#fee 0 136.8px,#99f 0 138px,#ccf 0 139.2px,#77f 0 140.4px,#ccf 0 141.6px,#bbf 0 142.8px,#ddf 0 144px,#eef 0 145.2px,#aaf 0 146.4px,#ddf 0 147.6px,#eef 0 150px,#bbf 0 151.2px,#eef 0 152.4px,#bbf 0 153.6px,#aaf 0 156px,#fff 0 158.4px,#ddf 0 159.6px,#ccf 0 160.8px,#bbf 0 162px,#eef 0 163.2px,#aaf 0 164.4px,#bbf 0 165.6px,#ccf 0 166.8px,#ddf 0 168px,#88f 0 169.2px,#ccf 0 170.4px,#bbf 0 171.6px,#ccf 0 175.2px,#bbf 0 176.4px,#fff 0 177.6px,#ccf 0 178.8px,#99f 0 180px,#ccf 0 181.2px,#bbf 0 182.4px,#ccf 0 183.6px,#eef 0 186px,#fff 0 187.2px,#aaf 0 188.4px,#bbf 0 189.6px,#ccf 0 190.8px,#bbf 0 192px,#ccf 0 193.2px,#eef 0 194.4px,#fff 0 195.6px,#bbf 0 196.8px,#ccf 0 199.2px,#eef 0 200.4px,#fee 0 201.6px,#ccf 0 202.8px,#ddf 0 204px,#ccf 0 206.4px,#eef 0 207.6px,#ccf 0 208.8px,#eef 0 210px,#ddf 0 211.2px,#eef 0 212.4px,#ddf 0 214.8px,#bbf 0 216px,#aaf 0 217.2px,#bbf 0 218.4px,#ddf 0 219.6px,#eef 0 220.8px,#aaf 0 222px,#bbf 0 224.4px,#ccf 0 225.6px,#ddf 0 226.8px,#eef 0 228px,#bbf 0 229.2px,#aaf 0 230.4px,#88f 0 231.6px,#aaf 0 232.8px,#eef 0 234px,#fff 0 235.2px,#ccf 0 236.4px,#aaf 0 237.6px,#eef 0 238.8px,#ddf 0 240px,#88f 0 241.2px,#fee 0 242.4px,#bbf 0 243.6px,#eef 0 244.8px,#ccf 0 246px,#eef 0 247.2px,#aaf 0 248.4px,#99f 0 249.6px,#ccf 0 250.8px,#fee 0 252px,#ccf 0 253.2px,#ddf 0 254.4px,#ccf 0 255.6px,#aaf 0 256.8px,#bbf 0 258px,#ccf 0 259.2px,#aaf 0 260.4px,#fee 0 261.6px,#fff 0 262.8px,#bbf 0 264px,#aaf 0 265.2px,#eef 0 266.4px,#bbf 0 268.8px,#ddf 0 270px,#aaf 0 271.2px,#bbf 0 272.4px,#ddf 0 273.6px,#bbf 0 274.8px,#fee 0 276px,#bbf 0 277.2px,#eef 0 278.4px,#ddf 0 279.6px,#bbf 0 280.8px,#ddf 0 282px,#eef 0 283.2px,#bbf 0 284.4px,#ddf 0 285.6px,#fff 0 286.8px,#aaf 0 288px,#eef 0 289.2px,#ddf 0 290.4px,#ccf 0 291.6px,#fee 0 292.8px,#fff 0 294px,#ccf 0 295.2px,#eef 0 296.4px,#ddf 0 297.6px,#fee 0 298.8px,#ddf 0 299.8px,#eef 0 301px,#fee 0 302.2px,#f99 0 303.4px,#f77 0 304.6px,#faa 0 305.8px,#f88 0 307px,#f66 0 309.4px,#faa 0 310.6px,#fbb 0 311.8px,#f99 0 313px,#f88 0 314.2px,#fbb 0 315.4px,#fcc 0 316.6px,#f66 0 317.8px,#fbb 0 320.2px,#fdd 0 321.4px,#f88 0 322.6px,#f33 0 323.8px,#f99 0 325px,#f77 0 326.2px,#f66 0 327.4px,#f88 0 328.6px,#fff 0 329.8px,#f88 0 331px,#fdd 0 332.2px,#faa 0 334.6px,#eef 0 335.8px,#f88 0 337px,#f77 0 338.2px,#fcc 0 339.4px,#faa 0 341.8px,#f55 0 343px,#fee 0 344.2px,#f55 0 345.4px,#f88 0 346.6px,#f00 0 347.8px,#f66 0 349px,#fbb 0 350.2px,#f99 0 351.4px,#f55 0 352.6px,#f77 0 353.8px,#f88 0 355px,#f33 0 356.2px,#fcc 0 357.4px,#f44 0 358.6px,#f99 0 359.8px,#fbb 0 361px,#fcc 0 362.2px,#f66 0 363.4px,#f88 0 364.6px,#f77 0 365.8px,#fbb 0 367px,#f66 0 368.2px,#eef 0 369.4px,#f99 0 370.6px,#f88 0 371.8px,#f66 0 373px,#fbb 0 374.2px,#f99 0 375.4px,#f77 0 376.6px,#faa 0 377.8px,#fdd 0 379px,#fcc 0 380.2px,#faa 0 382.6px,#fdd 0 383.8px,#faa 0 385px,#fbb 0 386.2px,#fff 0 388.6px,#faa 0 389.8px,#f77 0 391px,#f55 0 392.2px,#f88 0 394.6px,#f77 0 395.8px,#f88 0 397px,#fbb 0 398.2px,#eef 0 399.4px,#faa 0 400.6px,#fcc 0 401.8px,#f88 0 403px,#fbb 0 404.2px,#f99 0 405.4px,#f44 0 406.6px,#faa 0 407.8px,#fbb 0 409px,#f99 0 410.2px,#f88 0 411.4px,#fbb 0 412.6px,#f88 0 413.8px,#fee 0 415px,#f88 0 416.2px,#fcc 0 416.3px)"></div>
<div class="h" style="left:120.7px;top:756.12px;width:416.3px;height:12.62px;background:linear-gradient(90deg,#ccf 0 1.2px,#fff 0 2.4px,#eef 0 3.6px,#ddf 0 4.8px,#fff 0 6px,#ccf 0 7.2px,#aaf 0 8.4px,#bbf 0 9.6px,#aaf 0 10.8px,#88f 0 12px,#99f 0 13.2px,#eef 0 14.4px,#aaf 0 16.8px,#ccf 0 18px,#ddf 0 19.2px,#99f 0 20.4px,#ccf 0 21.6px,#ddf 0 22.8px,#99f 0 24px,#ddf 0 26.4px,#ccf 0 27.6px,#99f 0 28.8px,#ccf 0 30px,#bbf 0 31.2px,#fee 0 32.4px,#eef 0 34.8px,#ccf 0 36px,#bbf 0 37.2px,#fff 0 38.4px,#bbf 0 39.6px,#ddf 0 40.8px,#fee 0 42px,#eef 0 43.2px,#ddf 0 44.4px,#ccf 0 45.6px,#aaf 0 46.8px,#ccf 0 48px,#fff 0 49.2px,#ccf 0 52.8px,#eef 0 54px,#88f 0 55.2px,#fee 0 56.4px,#bbf 0 57.6px,#aaf 0 58.8px,#ddf 0 60px,#ccf 0 62.4px,#99f 0 63.6px,#fee 0 64.8px,#bbf 0 66px,#aaf 0 67.2px,#fff 0 68.4px,#ccf 0 69.6px,#88f 0 70.8px,#aaf 0 73.2px,#ddf 0 75.6px,#fbb 0 76.8px,#eef 0 78px,#ccf 0 79.2px,#fff 0 80.4px,#eef 0 81.6px,#fff 0 82.8px,#ccf 0 84px,#99f 0 85.2px,#ddf 0 86.4px,#99f 0 87.6px,#aaf 0 88.8px,#88f 0 90px,#aaf 0 91.2px,#ccf 0 92.4px,#99f 0 93.6px,#bbf 0 94.8px,#ccf 0 96px,#77f 0 97.2px,#ccf 0 98.4px,#fff 0 99.6px,#bbf 0 100.8px,#ccf 0 102px,#eef 0 103.2px,#ccf 0 104.4px,#eef 0 105.6px,#bbf 0 106.8px,#aaf 0 108px,#ccf 0 109.2px,#ddf 0 110.4px,#ccf 0 111.6px,#eef 0 114px,#77f 0 115.2px,#ccf 0 116.4px,#bbf 0 117.6px,#aaf 0 118.8px,#99f 0 120px,#bbf 0 121.2px,#fee 0 122.4px,#aaf 0 123.6px,#88f 0 124.8px,#ddf 0 126px,#bbf 0 127.2px,#ddf 0 128.4px,#99f 0 129.6px,#ccf 0 130.8px,#ddf 0 132px,#eef 0 133.2px,#ddf 0 134.4px,#ccf 0 135.6px,#ddf 0 136.8px,#99f 0 138px,#eef 0 139.2px,#ddf 0 140.4px,#aaf 0 141.6px,#eef 0 142.8px,#bbf 0 144px,#aaf 0 145.2px,#ccf 0 146.4px,#99f 0 147.6px,#ccf 0 148.8px,#ddf 0 150px,#bbf 0 151.2px,#ddf 0 152.4px,#aaf 0 153.6px,#ccf 0 154.8px,#99f 0 156px,#bbf 0 157.2px,#eef 0 158.4px,#bbf 0 159.6px,#ddf 0 160.8px,#eef 0 165.6px,#ccf 0 166.8px,#eef 0 168px,#fee 0 169.2px,#99f 0 170.4px,#fee 0 174px,#bbf 0 175.2px,#fff 0 176.4px,#ddf 0 177.6px,#bbf 0 178.8px,#eef 0 180px,#ddf 0 181.2px,#bbf 0 182.4px,#ddf 0 183.6px,#fee 0 184.8px,#99f 0 186px,#ccf 0 187.2px,#aaf 0 188.4px,#bbf 0 189.6px,#99f 0 190.8px,#ccf 0 193.2px,#eef 0 194.4px,#fee 0 195.6px,#fff 0 196.8px,#eef 0 199.2px,#88f 0 200.4px,#ddf 0 201.6px,#fdd 0 202.8px,#ddf 0 204px,#bbf 0 205.2px,#aaf 0 206.4px,#bbf 0 207.6px,#ccf 0 208.8px,#aaf 0 210px,#ddf 0 211.2px,#bbf 0 212.4px,#fff 0 213.6px,#aaf 0 214.8px,#eef 0 216px,#ccf 0 217.2px,#fee 0 218.4px,#99f 0 219.6px,#aaf 0 220.8px,#ccf 0 222px,#fff 0 223.2px,#bbf 0 224.4px,#99f 0 225.6px,#fee 0 226.8px,#aaf 0 228px,#ddf 0 229.2px,#aaf 0 230.4px,#ddf 0 231.6px,#aaf 0 232.8px,#ddf 0 234px,#eef 0 235.2px,#99f 0 236.4px,#ccf 0 244.8px,#eef 0 247.2px,#bbf 0 248.4px,#ddf 0 249.6px,#bbf 0 250.8px,#eef 0 252px,#ccf 0 253.2px,#fff 0 254.4px,#ccf 0 255.6px,#ddf 0 256.8px,#ccf 0 258px,#bbf 0 259.2px,#ddf 0 260.4px,#fff 0 261.6px,#fee 0 262.8px,#ddf 0 265.2px,#eef 0 266.4px,#bbf 0 267.6px,#fff 0 268.8px,#aaf 0 270px,#fee 0 271.2px,#bbf 0 272.4px,#ddf 0 273.6px,#ccf 0 274.8px,#fff 0 277.2px,#eef 0 278.4px,#bbf 0 279.6px,#ccf 0 280.8px,#bbf 0 282px,#ddf 0 284.4px,#bbf 0 285.6px,#eef 0 288px,#bbf 0 289.2px,#ccf 0 290.4px,#fff 0 291.6px,#ddf 0 294px,#ccf 0 295.2px,#aaf 0 296.4px,#fff 0 297.6px,#77f 0 298.8px,#bbf 0 299.8px,#fee 0 301px,#f88 0 302.2px,#fdd 0 303.4px,#f66 0 304.6px,#f99 0 305.8px,#faa 0 308.2px,#f55 0 309.4px,#f66 0 310.6px,#faa 0 313px,#fbb 0 314.2px,#f88 0 316.6px,#f55 0 317.8px,#f99 0 320.2px,#fee 0 321.4px,#f88 0 322.6px,#fcc 0 323.8px,#fee 0 325px,#f66 0 326.2px,#faa 0 327.4px,#f99 0 331px,#f55 0 332.2px,#f99 0 333.4px,#f22 0 334.6px,#f77 0 335.8px,#f44 0 337px,#f99 0 338.2px,#f66 0 339.4px,#faa 0 340.6px,#f77 0 341.8px,#f55 0 343px,#fcc 0 344.2px,#fbb 0 345.4px,#f77 0 346.6px,#faa 0 349px,#f77 0 350.2px,#f66 0 351.4px,#f44 0 352.6px,#f99 0 353.8px,#f33 0 355px,#f55 0 356.2px,#faa 0 357.4px,#f99 0 358.6px,#fbb 0 359.8px,#faa 0 362.2px,#f55 0 363.4px,#f99 0 364.6px,#f88 0 365.8px,#fff 0 367px,#ddf 0 368.2px,#f77 0 370.6px,#fdd 0 371.8px,#faa 0 374.2px,#f99 0 375.4px,#faa 0 376.6px,#fcc 0 377.8px,#f88 0 379px,#fcc 0 380.2px,#f77 0 381.4px,#f55 0 382.6px,#fcc 0 383.8px,#f88 0 385px,#f44 0 386.2px,#fcc 0 387.4px,#faa 0 388.6px,#f55 0 389.8px,#fcc 0 391px,#f77 0 392.2px,#f55 0 393.4px,#fbb 0 394.6px,#f99 0 395.8px,#f66 0 397px,#f99 0 398.2px,#f66 0 399.4px,#f99 0 400.6px,#fbb 0 401.8px,#f88 0 403px,#fcc 0 404.2px,#f66 0 405.4px,#fbb 0 406.6px,#f66 0 407.8px,#faa 0 409px,#fdd 0 410.2px,#f99 0 412.6px,#f44 0 413.8px,#fdd 0 415px,#fee 0 416.2px,#f77 0 416.3px)"></div>
<div class="h" style="left:120.7px;top:768.69px;width:416.3px;height:12.62px;background:linear-gradient(90deg,#99f 0 1.2px,#fff 0 2.4px,#bbf 0 3.6px,#ccf 0 4.8px,#aaf 0 6px,#fff 0 8.4px,#ccf 0 9.6px,#aaf 0 10.8px,#fff 0 12px,#eef 0 14.4px,#ddf 0 16.8px,#fff 0 18px,#ddf 0 20.4px,#ccf 0 22.8px,#bbf 0 24px,#ccf 0 26.4px,#bbf 0 27.6px,#88f 0 28.8px,#ccf 0 30px,#bbf 0 31.2px,#fff 0 32.4px,#aaf 0 33.6px,#eef 0 34.8px,#ccf 0 38.4px,#aaf 0 39.6px,#bbf 0 40.8px,#ccf 0 43.2px,#aaf 0 44.4px,#fee 0 45.6px,#99f 0 46.8px,#aaf 0 48px,#ccf 0 51.6px,#eef 0 52.8px,#ccf 0 55.2px,#eef 0 56.4px,#ddf 0 57.6px,#ccf 0 58.8px,#fff 0 61.2px,#fdd 0 62.4px,#aaf 0 63.6px,#eef 0 64.8px,#fff 0 66px,#bbf 0 67.2px,#eef 0 68.4px,#ccf 0 69.6px,#aaf 0 70.8px,#ccf 0 72px,#ddf 0 73.2px,#bbf 0 74.4px,#ccf 0 75.6px,#99f 0 76.8px,#eef 0 78px,#ccf 0 79.2px,#eef 0 80.4px,#fff 0 81.6px,#bbf 0 82.8px,#eef 0 84px,#fff 0 85.2px,#ddf 0 86.4px,#ccf 0 87.6px,#88f 0 88.8px,#fff 0 90px,#ddf 0 91.2px,#aaf 0 92.4px,#66f 0 93.6px,#ddf 0 96px,#bbf 0 99.6px,#77f 0 100.8px,#ddf 0 102px,#bbf 0 103.2px,#fee 0 104.4px,#bbf 0 105.6px,#aaf 0 106.8px,#eef 0 108px,#ccf 0 110.4px,#eef 0 111.6px,#ddf 0 114px,#bbf 0 115.2px,#fff 0 116.4px,#aaf 0 117.6px,#ccf 0 118.8px,#99f 0 120px,#fff 0 121.2px,#ddf 0 122.4px,#88f 0 123.6px,#fff 0 124.8px,#eef 0 126px,#aaf 0 127.2px,#bbf 0 128.4px,#eef 0 129.6px,#fee 0 130.8px,#ddf 0 133.2px,#99f 0 134.4px,#bbf 0 135.6px,#99f 0 136.8px,#aaf 0 138px,#ddf 0 139.2px,#eef 0 140.4px,#aaf 0 141.6px,#fff 0 142.8px,#ddf 0 145.2px,#aaf 0 146.4px,#eef 0 147.6px,#fff 0 148.8px,#fee 0 150px,#eef 0 151.2px,#99f 0 152.4px,#ccf 0 153.6px,#bbf 0 154.8px,#fff 0 156px,#ddf 0 157.2px,#aaf 0 158.4px,#ddf 0 159.6px,#fff 0 160.8px,#ccf 0 162px,#aaf 0 163.2px,#ddf 0 164.4px,#fff 0 165.6px,#eef 0 166.8px,#99f 0 168px,#eef 0 169.2px,#bbf 0 170.4px,#55f 0 171.6px,#ddf 0 172.8px,#99f 0 174px,#eef 0 175.2px,#ddf 0 176.4px,#eef 0 177.6px,#fdd 0 178.8px,#ccf 0 181.2px,#fdd 0 182.4px,#bbf 0 183.6px,#ccf 0 186px,#eef 0 187.2px,#fff 0 188.4px,#ddf 0 192px,#ccf 0 193.2px,#ddf 0 194.4px,#fff 0 195.6px,#bbf 0 198px,#ddf 0 199.2px,#aaf 0 200.4px,#ddf 0 201.6px,#aaf 0 202.8px,#bbf 0 204px,#fee 0 205.2px,#ccf 0 207.6px,#ddf 0 208.8px,#aaf 0 210px,#ccf 0 211.2px,#99f 0 212.4px,#ccf 0 213.6px,#fee 0 214.8px,#ccf 0 216px,#ddf 0 217.2px,#ccf 0 218.4px,#fee 0 219.6px,#ddf 0 220.8px,#bbf 0 222px,#ddf 0 224.4px,#fee 0 225.6px,#ccf 0 226.8px,#bbf 0 228px,#aaf 0 229.2px,#ccf 0 230.4px,#aaf 0 231.6px,#bbf 0 232.8px,#eef 0 234px,#ccf 0 235.2px,#bbf 0 240px,#aaf 0 241.2px,#ddf 0 242.4px,#bbf 0 244.8px,#ccf 0 246px,#aaf 0 247.2px,#ddf 0 248.4px,#eef 0 249.6px,#99f 0 250.8px,#ccf 0 253.2px,#fff 0 254.4px,#ddf 0 255.6px,#ccf 0 256.8px,#fff 0 258px,#99f 0 259.2px,#eef 0 260.4px,#99f 0 261.6px,#ccf 0 262.8px,#bbf 0 264px,#99f 0 265.2px,#eef 0 266.4px,#bbf 0 267.6px,#ccf 0 268.8px,#fee 0 270px,#bbf 0 271.2px,#88f 0 272.4px,#aaf 0 273.6px,#eef 0 274.8px,#ddf 0 276px,#aaf 0 277.2px,#eef 0 278.4px,#fff 0 279.6px,#eef 0 280.8px,#ccf 0 283.2px,#fff 0 284.4px,#99f 0 285.6px,#ccf 0 288px,#ddf 0 289.2px,#fff 0 290.4px,#ccf 0 291.6px,#fff 0 292.8px,#ddf 0 294px,#bbf 0 295.2px,#aaf 0 296.4px,#fff 0 297.6px,#aaf 0 299.8px,#fbb 0 301px,#f77 0 302.2px,#fbb 0 303.4px,#faa 0 305.8px,#f44 0 307px,#f88 0 308.2px,#faa 0 309.4px,#f66 0 310.6px,#faa 0 313px,#f66 0 314.2px,#faa 0 315.4px,#fbb 0 316.6px,#eef 0 317.8px,#f99 0 319px,#f33 0 320.2px,#f55 0 321.4px,#f99 0 323.8px,#f77 0 325px,#f44 0 326.2px,#f88 0 327.4px,#f55 0 328.6px,#f66 0 329.8px,#fee 0 331px,#f44 0 332.2px,#f77 0 333.4px,#fee 0 334.6px,#f55 0 335.8px,#f99 0 337px,#fdd 0 338.2px,#f77 0 339.4px,#faa 0 340.6px,#f99 0 341.8px,#f77 0 343px,#faa 0 344.2px,#f66 0 345.4px,#faa 0 346.6px,#f99 0 347.8px,#fbb 0 349px,#fcc 0 350.2px,#f99 0 351.4px,#faa 0 352.6px,#f77 0 353.8px,#f88 0 355px,#f77 0 356.2px,#fff 0 357.4px,#f77 0 358.6px,#f88 0 359.8px,#faa 0 361px,#fbb 0 362.2px,#f99 0 363.4px,#fdd 0 364.6px,#fbb 0 365.8px,#f99 0 367px,#f88 0 368.2px,#fdd 0 369.4px,#f99 0 370.6px,#fee 0 371.8px,#fdd 0 373px,#faa 0 374.2px,#f99 0 375.4px,#f77 0 376.6px,#f44 0 377.8px,#f33 0 379px,#f99 0 380.2px,#f77 0 381.4px,#faa 0 382.6px,#fee 0 383.8px,#fcc 0 385px,#fdd 0 386.2px,#fbb 0 387.4px,#fcc 0 388.6px,#f99 0 389.8px,#f77 0 391px,#f88 0 392.2px,#f99 0 393.4px,#f88 0 395.8px,#f66 0 398.2px,#faa 0 399.4px,#f88 0 400.6px,#f55 0 401.8px,#f88 0 403px,#fbb 0 404.2px,#f99 0 405.4px,#fdd 0 406.6px,#faa 0 407.8px,#f99 0 409px,#faa 0 410.2px,#f88 0 411.4px,#fdd 0 412.6px,#f55 0 413.8px,#f77 0 415px,#fcc 0 416.2px,#f88 0 416.3px)"></div>
<div class="h" style="left:120.7px;top:781.27px;width:416.3px;height:12.62px;background:linear-gradient(90deg,#bbf 0 1.2px,#ccf 0 2.4px,#fff 0 3.6px,#fdd 0 4.8px,#ccf 0 6px,#eef 0 7.2px,#ccf 0 8.4px,#aaf 0 10.8px,#eef 0 12px,#ccf 0 13.2px,#fff 0 14.4px,#fee 0 16.8px,#ccf 0 18px,#fee 0 20.4px,#fdd 0 21.6px,#fee 0 22.8px,#eef 0 24px,#88f 0 25.2px,#ddf 0 26.4px,#ccf 0 27.6px,#ddf 0 28.8px,#ccf 0 30px,#ddf 0 31.2px,#ccf 0 32.4px,#eef 0 34.8px,#ccf 0 36px,#bbf 0 37.2px,#88f 0 38.4px,#bbf 0 39.6px,#ddf 0 40.8px,#bbf 0 42px,#fff 0 43.2px,#ddf 0 44.4px,#ccf 0 45.6px,#99f 0 46.8px,#fcc 0 48px,#bbf 0 49.2px,#77f 0 50.4px,#fdd 0 51.6px,#bbf 0 52.8px,#fff 0 55.2px,#eef 0 57.6px,#ccf 0 60px,#88f 0 61.2px,#ccf 0 62.4px,#bbf 0 63.6px,#ddf 0 64.8px,#bbf 0 66px,#77f 0 67.2px,#ccf 0 68.4px,#fcc 0 69.6px,#ddf 0 70.8px,#ccf 0 72px,#fee 0 73.2px,#88f 0 74.4px,#fcc 0 75.6px,#ccf 0 76.8px,#fee 0 78px,#eef 0 79.2px,#ccf 0 80.4px,#aaf 0 81.6px,#ddf 0 82.8px,#bbf 0 84px,#fee 0 85.2px,#ddf 0 86.4px,#ccf 0 88.8px,#ddf 0 91.2px,#eef 0 92.4px,#ddf 0 93.6px,#ccf 0 94.8px,#eef 0 96px,#aaf 0 97.2px,#ddf 0 98.4px,#bbf 0 99.6px,#fff 0 102px,#bbf 0 103.2px,#fee 0 104.4px,#eef 0 105.6px,#bbf 0 106.8px,#fee 0 108px,#fbb 0 109.2px,#bbf 0 111.6px,#99f 0 112.8px,#fee 0 114px,#eef 0 115.2px,#77f 0 116.4px,#fff 0 117.6px,#fcc 0 118.8px,#fee 0 120px,#fff 0 121.2px,#aaf 0 122.4px,#fff 0 123.6px,#ddf 0 124.8px,#88f 0 126px,#ddf 0 127.2px,#bbf 0 128.4px,#fee 0 129.6px,#bbf 0 130.8px,#aaf 0 132px,#eef 0 133.2px,#fee 0 135.6px,#99f 0 136.8px,#fcc 0 138px,#eef 0 139.2px,#99f 0 140.4px,#fbb 0 141.6px,#ddf 0 142.8px,#99f 0 144px,#77f 0 145.2px,#fff 0 146.4px,#ddf 0 148.8px,#fff 0 150px,#fee 0 151.2px,#eef 0 153.6px,#fee 0 154.8px,#ccf 0 156px,#99f 0 157.2px,#fdd 0 158.4px,#bbf 0 159.6px,#fff 0 160.8px,#ddf 0 162px,#eef 0 163.2px,#bbf 0 164.4px,#ccf 0 165.6px,#fff 0 168px,#fcc 0 169.2px,#ccf 0 170.4px,#ddf 0 171.6px,#ccf 0 172.8px,#aaf 0 174px,#ddf 0 175.2px,#aaf 0 176.4px,#77f 0 177.6px,#eef 0 178.8px,#fff 0 180px,#ddf 0 181.2px,#fff 0 182.4px,#ddf 0 183.6px,#fee 0 184.8px,#eef 0 186px,#fdd 0 187.2px,#aaf 0 189.6px,#ddf 0 190.8px,#fff 0 192px,#fee 0 193.2px,#aaf 0 194.4px,#eef 0 195.6px,#fff 0 196.8px,#aaf 0 198px,#fff 0 199.2px,#fee 0 200.4px,#eef 0 201.6px,#88f 0 202.8px,#fff 0 204px,#fcc 0 205.2px,#eef 0 206.4px,#ccf 0 207.6px,#99f 0 208.8px,#ccf 0 210px,#fff 0 212.4px,#fdd 0 213.6px,#66f 0 214.8px,#eef 0 217.2px,#bbf 0 218.4px,#eef 0 219.6px,#fee 0 220.8px,#ddf 0 224.4px,#fee 0 225.6px,#ccf 0 226.8px,#fdd 0 228px,#fee 0 229.2px,#eef 0 230.4px,#ddf 0 231.6px,#88f 0 232.8px,#ddf 0 234px,#fff 0 235.2px,#fee 0 236.4px,#aaf 0 237.6px,#fbb 0 238.8px,#eef 0 240px,#99f 0 241.2px,#fee 0 242.4px,#ddf 0 243.6px,#eef 0 244.8px,#ccf 0 246px,#eef 0 247.2px,#ddf 0 248.4px,#eef 0 249.6px,#fee 0 250.8px,#eef 0 252px,#88f 0 253.2px,#ddf 0 254.4px,#bbf 0 256.8px,#fff 0 258px,#ccf 0 259.2px,#88f 0 260.4px,#bbf 0 261.6px,#fcc 0 262.8px,#fff 0 265.2px,#fdd 0 266.4px,#fcc 0 267.6px,#eef 0 270px,#fee 0 271.2px,#fff 0 272.4px,#99f 0 273.6px,#eef 0 274.8px,#99f 0 276px,#ccf 0 277.2px,#fee 0 278.4px,#fff 0 279.6px,#bbf 0 280.8px,#fff 0 283.2px,#fcc 0 284.4px,#fee 0 285.6px,#77f 0 286.8px,#eef 0 289.2px,#fee 0 290.4px,#ccf 0 291.6px,#eef 0 294px,#ddf 0 296.4px,#ccf 0 298.8px,#fff 0 299.8px,#fbb 0 301px,#f99 0 302.2px,#fbb 0 303.4px,#f77 0 304.6px,#fbb 0 305.8px,#f77 0 307px,#fcc 0 308.2px,#fdd 0 309.4px,#f88 0 310.6px,#fdd 0 311.8px,#ddf 0 313px,#fdd 0 314.2px,#fbb 0 316.6px,#fdd 0 317.8px,#f77 0 319px,#f99 0 320.2px,#fbb 0 321.4px,#fee 0 322.6px,#f99 0 325px,#f88 0 326.2px,#eef 0 327.4px,#fdd 0 328.6px,#f99 0 329.8px,#fcc 0 331px,#faa 0 332.2px,#f88 0 333.4px,#faa 0 335.8px,#fee 0 337px,#faa 0 338.2px,#f77 0 339.4px,#fcc 0 340.6px,#f99 0 341.8px,#f88 0 343px,#fee 0 344.2px,#fbb 0 345.4px,#fee 0 346.6px,#fbb 0 347.8px,#f99 0 349px,#faa 0 350.2px,#f88 0 351.4px,#fcc 0 352.6px,#fdd 0 353.8px,#fcc 0 355px,#f77 0 356.2px,#fcc 0 357.4px,#fff 0 358.6px,#fbb 0 361px,#f99 0 362.2px,#fcc 0 363.4px,#fdd 0 365.8px,#faa 0 367px,#fdd 0 368.2px,#fbb 0 369.4px,#f99 0 370.6px,#fff 0 371.8px,#fcc 0 374.2px,#fdd 0 375.4px,#fff 0 376.6px,#fdd 0 377.8px,#fbb 0 379px,#fcc 0 380.2px,#faa 0 381.4px,#f88 0 382.6px,#f99 0 383.8px,#faa 0 386.2px,#fcc 0 388.6px,#f88 0 389.8px,#f77 0 391px,#fbb 0 393.4px,#fdd 0 394.6px,#faa 0 395.8px,#fdd 0 397px,#fcc 0 398.2px,#f99 0 400.6px,#fcc 0 401.8px,#fbb 0 405.4px,#fdd 0 406.6px,#faa 0 407.8px,#fcc 0 409px,#fee 0 410.2px,#faa 0 411.4px,#fcc 0 412.6px,#f99 0 413.8px,#fdd 0 415px,#f99 0 416.2px,#faa 0 416.3px)"></div>
<div class="h" style="left:120.7px;top:793.84px;width:416.3px;height:12.62px;background:linear-gradient(90deg,#ccf 0 1.2px,#99f 0 2.4px,#fdd 0 3.6px,#fcc 0 4.8px,#f99 0 6px,#fcc 0 7.2px,#fee 0 8.4px,#88f 0 9.6px,#fff 0 10.8px,#fee 0 12px,#ccf 0 13.2px,#faa 0 14.4px,#ccf 0 15.6px,#fee 0 16.8px,#fff 0 18px,#fbb 0 19.2px,#fff 0 20.4px,#bbf 0 21.6px,#fff 0 22.8px,#fbb 0 24px,#fee 0 25.2px,#77f 0 26.4px,#fcc 0 27.6px,#88f 0 28.8px,#fcc 0 30px,#fdd 0 31.2px,#fff 0 32.4px,#ddf 0 33.6px,#88f 0 34.8px,#fdd 0 36px,#fff 0 38.4px,#faa 0 39.6px,#fcc 0 40.8px,#faa 0 42px,#eef 0 43.2px,#fdd 0 44.4px,#fee 0 45.6px,#fbb 0 46.8px,#fee 0 49.2px,#fdd 0 50.4px,#eef 0 51.6px,#ccf 0 52.8px,#fee 0 54px,#fcc 0 55.2px,#aaf 0 56.4px,#ddf 0 57.6px,#ccf 0 58.8px,#99f 0 60px,#eef 0 61.2px,#fdd 0 62.4px,#eef 0 64.8px,#88f 0 66px,#fcc 0 67.2px,#ddf 0 68.4px,#99f 0 69.6px,#f77 0 70.8px,#fdd 0 72px,#fee 0 73.2px,#eef 0 74.4px,#ddf 0 75.6px,#fff 0 76.8px,#99f 0 78px,#ddf 0 79.2px,#fee 0 80.4px,#fcc 0 81.6px,#faa 0 82.8px,#bbf 0 84px,#fcc 0 85.2px,#eef 0 86.4px,#faa 0 87.6px,#fcc 0 88.8px,#f99 0 90px,#fcc 0 91.2px,#ccf 0 92.4px,#faa 0 94.8px,#fee 0 97.2px,#fdd 0 100.8px,#fee 0 103.2px,#ccf 0 104.4px,#fff 0 105.6px,#f99 0 106.8px,#aaf 0 108px,#fee 0 109.2px,#fdd 0 110.4px,#88f 0 111.6px,#fee 0 112.8px,#f99 0 114px,#fcc 0 115.2px,#fee 0 116.4px,#eef 0 117.6px,#fdd 0 118.8px,#faa 0 120px,#fdd 0 122.4px,#fee 0 123.6px,#ddf 0 124.8px,#99f 0 126px,#ddf 0 127.2px,#fbb 0 128.4px,#eef 0 129.6px,#fcc 0 130.8px,#fdd 0 132px,#ccf 0 133.2px,#ddf 0 134.4px,#fff 0 135.6px,#ddf 0 136.8px,#99f 0 138px,#fcc 0 139.2px,#eef 0 140.4px,#fee 0 141.6px,#fbb 0 142.8px,#eef 0 144px,#77f 0 145.2px,#eef 0 146.4px,#ccf 0 147.6px,#fee 0 150px,#ddf 0 151.2px,#fee 0 153.6px,#ccf 0 154.8px,#ddf 0 156px,#fff 0 158.4px,#eef 0 159.6px,#fff 0 160.8px,#ccf 0 162px,#fcc 0 163.2px,#eef 0 164.4px,#fcc 0 165.6px,#fee 0 166.8px,#eef 0 168px,#ccf 0 170.4px,#fcc 0 171.6px,#fee 0 172.8px,#ccf 0 174px,#fdd 0 175.2px,#fee 0 176.4px,#ccf 0 177.6px,#fdd 0 178.8px,#faa 0 180px,#ddf 0 181.2px,#ccf 0 183.6px,#fcc 0 184.8px,#fee 0 186px,#bbf 0 188.4px,#fff 0 189.6px,#ccf 0 190.8px,#ddf 0 192px,#f99 0 193.2px,#fcc 0 194.4px,#fdd 0 195.6px,#fcc 0 198px,#bbf 0 199.2px,#fbb 0 200.4px,#fdd 0 201.6px,#fcc 0 202.8px,#fdd 0 205.2px,#fee 0 206.4px,#fcc 0 207.6px,#ccf 0 208.8px,#fff 0 211.2px,#eef 0 212.4px,#f99 0 213.6px,#eef 0 214.8px,#f55 0 216px,#fee 0 217.2px,#bbf 0 218.4px,#ccf 0 219.6px,#ddf 0 220.8px,#fee 0 222px,#fdd 0 223.2px,#eef 0 224.4px,#ddf 0 225.6px,#fcc 0 226.8px,#fdd 0 228px,#fff 0 229.2px,#fee 0 230.4px,#eef 0 231.6px,#f99 0 232.8px,#fff 0 234px,#ccf 0 235.2px,#77f 0 236.4px,#fff 0 237.6px,#aaf 0 238.8px,#fdd 0 240px,#faa 0 241.2px,#ddf 0 242.4px,#88f 0 243.6px,#bbf 0 244.8px,#fcc 0 246px,#eef 0 247.2px,#ddf 0 248.4px,#f99 0 249.6px,#fee 0 250.8px,#fbb 0 252px,#fee 0 253.2px,#f99 0 254.4px,#fff 0 255.6px,#ccf 0 256.8px,#aaf 0 258px,#f99 0 259.2px,#66f 0 260.4px,#faa 0 261.6px,#aaf 0 262.8px,#fee 0 264px,#fdd 0 267.6px,#ddf 0 268.8px,#fbb 0 270px,#fff 0 271.2px,#fee 0 272.4px,#fdd 0 273.6px,#fff 0 274.8px,#ddf 0 276px,#fcc 0 277.2px,#fee 0 278.4px,#ddf 0 279.6px,#fff 0 280.8px,#faa 0 282px,#ccf 0 283.2px,#bbf 0 284.4px,#fbb 0 285.6px,#fee 0 286.8px,#ddf 0 289.2px,#fdd 0 290.4px,#aaf 0 291.6px,#fff 0 292.8px,#f99 0 294px,#ccf 0 295.2px,#99f 0 296.4px,#faa 0 297.6px,#fdd 0 298.8px,#fbb 0 299.8px,#fee 0 301px,#fdd 0 302.2px,#aaf 0 303.4px,#fcc 0 304.6px,#fff 0 305.8px,#fdd 0 307px,#fee 0 308.2px,#ccf 0 310.6px,#bbf 0 311.8px,#fee 0 313px,#bbf 0 314.2px,#fee 0 315.4px,#eef 0 316.6px,#ddf 0 317.8px,#aaf 0 319px,#bbf 0 320.2px,#ccf 0 321.4px,#fee 0 322.6px,#fff 0 323.8px,#fee 0 325px,#fcc 0 326.2px,#ddf 0 327.4px,#bbf 0 328.6px,#fdd 0 329.8px,#fcc 0 331px,#fdd 0 332.2px,#f99 0 333.4px,#ddf 0 334.6px,#bbf 0 335.8px,#fee 0 337px,#88f 0 338.2px,#fee 0 339.4px,#ddf 0 340.6px,#eef 0 341.8px,#fdd 0 343px,#eef 0 344.2px,#aaf 0 345.4px,#fff 0 346.6px,#fcc 0 347.8px,#bbf 0 349px,#faa 0 350.2px,#bbf 0 351.4px,#faa 0 352.6px,#fee 0 355px,#ddf 0 356.2px,#aaf 0 357.4px,#fff 0 358.6px,#fee 0 359.8px,#88f 0 361px,#eef 0 364.6px,#fdd 0 365.8px,#fee 0 367px,#fcc 0 368.2px,#fff 0 369.4px,#ddf 0 370.6px,#fdd 0 371.8px,#fee 0 373px,#bbf 0 374.2px,#ddf 0 375.4px,#fff 0 376.6px,#fee 0 379px,#ccf 0 380.2px,#fdd 0 381.4px,#eef 0 382.6px,#ccf 0 383.8px,#aaf 0 385px,#eef 0 386.2px,#bbf 0 388.6px,#99f 0 389.8px,#aaf 0 391px,#fbb 0 392.2px,#fff 0 393.4px,#ccf 0 397px,#fee 0 398.2px,#ddf 0 399.4px,#ccf 0 400.6px,#fcc 0 401.8px,#ddf 0 404.2px,#fdd 0 405.4px,#fee 0 406.6px,#bbf 0 407.8px,#ddf 0 409px,#eef 0 410.2px,#ccf 0 411.4px,#eef 0 412.6px,#fdd 0 413.8px,#88f 0 415px,#66f 0 416.2px,#fff 0 416.3px)"></div>
<div class="h" style="left:120.7px;top:806.41px;width:416.3px;height:12.62px;background:linear-gradient(90deg,#88f 0 1.2px,#eef 0 2.4px,#fdd 0 3.6px,#ddf 0 4.8px,#fbb 0 6px,#eef 0 8.4px,#fff 0 9.6px,#fbb 0 12px,#eef 0 13.2px,#fbb 0 14.4px,#fdd 0 15.6px,#eef 0 16.8px,#fee 0 19.2px,#eef 0 20.4px,#fcc 0 21.6px,#fbb 0 22.8px,#ddf 0 24px,#eef 0 25.2px,#fbb 0 26.4px,#eef 0 27.6px,#ddf 0 28.8px,#f99 0 30px,#eef 0 31.2px,#faa 0 32.4px,#fff 0 33.6px,#fdd 0 34.8px,#aaf 0 36px,#ddf 0 37.2px,#fcc 0 38.4px,#fbb 0 39.6px,#fee 0 40.8px,#fdd 0 42px,#fff 0 43.2px,#eef 0 45.6px,#ddf 0 46.8px,#ccf 0 48px,#fdd 0 49.2px,#faa 0 52.8px,#fdd 0 54px,#fee 0 55.2px,#ccf 0 56.4px,#fdd 0 57.6px,#fcc 0 58.8px,#fff 0 60px,#bbf 0 61.2px,#fbb 0 62.4px,#fdd 0 63.6px,#77f 0 64.8px,#fcc 0 66px,#fee 0 68.4px,#bbf 0 69.6px,#fbb 0 70.8px,#eef 0 72px,#f99 0 73.2px,#eef 0 74.4px,#fcc 0 75.6px,#eef 0 76.8px,#f99 0 78px,#fdd 0 79.2px,#fcc 0 80.4px,#aaf 0 81.6px,#fff 0 82.8px,#fcc 0 84px,#eef 0 85.2px,#ddf 0 86.4px,#fdd 0 88.8px,#fbb 0 90px,#ddf 0 93.6px,#eef 0 94.8px,#ccf 0 96px,#eef 0 97.2px,#99f 0 98.4px,#fdd 0 99.6px,#88f 0 100.8px,#fee 0 102px,#bbf 0 103.2px,#fcc 0 104.4px,#ccf 0 105.6px,#eef 0 106.8px,#ddf 0 108px,#f99 0 109.2px,#77f 0 110.4px,#fff 0 111.6px,#ddf 0 112.8px,#f99 0 114px,#fff 0 116.4px,#f99 0 117.6px,#fee 0 118.8px,#eef 0 120px,#fee 0 121.2px,#fdd 0 122.4px,#fbb 0 123.6px,#aaf 0 124.8px,#eef 0 126px,#fee 0 127.2px,#fdd 0 128.4px,#fee 0 129.6px,#f66 0 130.8px,#fee 0 132px,#ccf 0 133.2px,#faa 0 134.4px,#ddf 0 135.6px,#bbf 0 136.8px,#f99 0 138px,#ccf 0 139.2px,#99f 0 140.4px,#ccf 0 141.6px,#fff 0 142.8px,#fee 0 144px,#fdd 0 145.2px,#fee 0 146.4px,#eef 0 147.6px,#fee 0 148.8px,#eef 0 150px,#fcc 0 151.2px,#fbb 0 152.4px,#aaf 0 153.6px,#bbf 0 154.8px,#fdd 0 156px,#eef 0 157.2px,#fbb 0 158.4px,#eef 0 159.6px,#fcc 0 160.8px,#fff 0 162px,#fcc 0 163.2px,#ccf 0 164.4px,#aaf 0 165.6px,#fff 0 166.8px,#bbf 0 168px,#ccf 0 169.2px,#fff 0 170.4px,#eef 0 172.8px,#fee 0 174px,#f88 0 175.2px,#fdd 0 177.6px,#eef 0 178.8px,#fdd 0 181.2px,#fbb 0 182.4px,#fdd 0 183.6px,#fff 0 186px,#fdd 0 187.2px,#f88 0 188.4px,#ccf 0 189.6px,#fee 0 190.8px,#f99 0 192px,#fcc 0 193.2px,#fff 0 194.4px,#fcc 0 195.6px,#99f 0 196.8px,#fff 0 198px,#bbf 0 199.2px,#f88 0 200.4px,#fbb 0 201.6px,#ccf 0 202.8px,#fcc 0 204px,#eef 0 205.2px,#ccf 0 206.4px,#fff 0 207.6px,#fcc 0 208.8px,#88f 0 210px,#aaf 0 211.2px,#fff 0 212.4px,#eef 0 213.6px,#bbf 0 214.8px,#fff 0 216px,#faa 0 217.2px,#fee 0 218.4px,#99f 0 219.6px,#eef 0 220.8px,#aaf 0 222px,#fff 0 223.2px,#77f 0 224.4px,#88f 0 225.6px,#eef 0 226.8px,#fdd 0 228px,#eef 0 229.2px,#fee 0 230.4px,#99f 0 231.6px,#ccf 0 232.8px,#fbb 0 235.2px,#f99 0 236.4px,#ddf 0 237.6px,#aaf 0 238.8px,#faa 0 240px,#f55 0 241.2px,#f88 0 242.4px,#bbf 0 243.6px,#eef 0 244.8px,#fee 0 246px,#fcc 0 247.2px,#77f 0 248.4px,#ccf 0 249.6px,#fff 0 250.8px,#faa 0 252px,#fbb 0 253.2px,#fff 0 254.4px,#fee 0 255.6px,#bbf 0 256.8px,#fbb 0 258px,#99f 0 259.2px,#fee 0 260.4px,#f99 0 261.6px,#ddf 0 262.8px,#bbf 0 264px,#ddf 0 266.4px,#eef 0 267.6px,#bbf 0 270px,#fdd 0 272.4px,#fcc 0 273.6px,#fee 0 274.8px,#fbb 0 276px,#ccf 0 277.2px,#eef 0 278.4px,#ccf 0 279.6px,#ddf 0 280.8px,#fbb 0 282px,#ddf 0 283.2px,#fee 0 284.4px,#eef 0 285.6px,#fff 0 286.8px,#fee 0 288px,#eef 0 289.2px,#ddf 0 290.4px,#aaf 0 291.6px,#ddf 0 294px,#ccf 0 295.2px,#fee 0 296.4px,#fdd 0 297.6px,#fcc 0 298.8px,#fee 0 299.8px,#eef 0 301px,#fff 0 302.2px,#fee 0 303.4px,#fcc 0 304.6px,#fbb 0 305.8px,#bbf 0 307px,#eef 0 308.2px,#88f 0 309.4px,#fbb 0 310.6px,#ddf 0 311.8px,#fbb 0 313px,#aaf 0 314.2px,#fcc 0 315.4px,#ccf 0 316.6px,#eef 0 317.8px,#fee 0 319px,#fdd 0 320.2px,#bbf 0 321.4px,#ddf 0 322.6px,#aaf 0 323.8px,#ccf 0 325px,#88f 0 326.2px,#eef 0 327.4px,#aaf 0 328.6px,#fdd 0 331px,#fee 0 332.2px,#bbf 0 333.4px,#fee 0 334.6px,#aaf 0 335.8px,#77f 0 337px,#fdd 0 338.2px,#88f 0 339.4px,#ccf 0 341.8px,#faa 0 343px,#f99 0 344.2px,#eef 0 346.6px,#bbf 0 347.8px,#fff 0 350.2px,#fcc 0 352.6px,#ddf 0 353.8px,#fdd 0 355px,#77f 0 356.2px,#fee 0 357.4px,#99f 0 359.8px,#fdd 0 361px,#ccf 0 363.4px,#fff 0 364.6px,#ccf 0 365.8px,#fee 0 367px,#aaf 0 368.2px,#77f 0 369.4px,#fee 0 371.8px,#aaf 0 373px,#fee 0 374.2px,#bbf 0 375.4px,#aaf 0 376.6px,#fff 0 377.8px,#eef 0 379px,#fff 0 381.4px,#aaf 0 382.6px,#fff 0 383.8px,#99f 0 385px,#88f 0 386.2px,#fee 0 388.6px,#fdd 0 389.8px,#fff 0 392.2px,#ccf 0 393.4px,#fdd 0 394.6px,#77f 0 395.8px,#88f 0 397px,#77f 0 398.2px,#ddf 0 399.4px,#88f 0 400.6px,#ccf 0 401.8px,#fdd 0 403px,#eef 0 404.2px,#66f 0 405.4px,#ccf 0 406.6px,#bbf 0 409px,#99f 0 410.2px,#88f 0 411.4px,#fee 0 412.6px,#ddf 0 413.8px,#fcc 0 415px,#88f 0 416.2px,#bbf 0 416.3px)"></div>
<div class="h" style="left:120.7px;top:818.99px;width:416.3px;height:12.62px;background:linear-gradient(90deg,#fee 0 2.4px,#99f 0 3.6px,#eef 0 4.8px,#fdd 0 6px,#eef 0 7.2px,#bbf 0 8.4px,#fee 0 9.6px,#fdd 0 10.8px,#ddf 0 12px,#88f 0 13.2px,#fcc 0 14.4px,#fee 0 15.6px,#fff 0 16.8px,#fee 0 18px,#ccf 0 19.2px,#fff 0 20.4px,#fee 0 21.6px,#faa 0 22.8px,#fbb 0 24px,#eef 0 25.2px,#fbb 0 26.4px,#fee 0 27.6px,#ddf 0 28.8px,#fbb 0 30px,#fdd 0 31.2px,#eef 0 32.4px,#fcc 0 33.6px,#ddf 0 34.8px,#fdd 0 36px,#ddf 0 37.2px,#faa 0 38.4px,#fee 0 39.6px,#ddf 0 40.8px,#fff 0 42px,#fcc 0 43.2px,#fee 0 44.4px,#ccf 0 45.6px,#fff 0 46.8px,#fcc 0 48px,#eef 0 49.2px,#fdd 0 50.4px,#f99 0 51.6px,#faa 0 52.8px,#bbf 0 54px,#ddf 0 55.2px,#f99 0 56.4px,#fee 0 58.8px,#88f 0 60px,#aaf 0 61.2px,#fee 0 63.6px,#fdd 0 64.8px,#fee 0 66px,#fff 0 67.2px,#ccf 0 68.4px,#bbf 0 69.6px,#aaf 0 70.8px,#fdd 0 72px,#fff 0 73.2px,#aaf 0 74.4px,#ddf 0 75.6px,#eef 0 76.8px,#fff 0 78px,#faa 0 79.2px,#fdd 0 80.4px,#fee 0 81.6px,#fff 0 84px,#fdd 0 85.2px,#faa 0 86.4px,#ddf 0 90px,#fcc 0 91.2px,#fdd 0 92.4px,#aaf 0 93.6px,#55f 0 94.8px,#aaf 0 96px,#fff 0 97.2px,#fee 0 98.4px,#fbb 0 99.6px,#fdd 0 100.8px,#bbf 0 102px,#fff 0 103.2px,#fee 0 104.4px,#faa 0 105.6px,#fff 0 106.8px,#faa 0 108px,#f88 0 109.2px,#bbf 0 110.4px,#fff 0 111.6px,#aaf 0 112.8px,#fcc 0 114px,#fee 0 115.2px,#99f 0 116.4px,#ddf 0 117.6px,#eef 0 118.8px,#bbf 0 120px,#fdd 0 121.2px,#f99 0 122.4px,#fee 0 123.6px,#fdd 0 124.8px,#ccf 0 126px,#faa 0 127.2px,#77f 0 128.4px,#eef 0 129.6px,#bbf 0 130.8px,#faa 0 132px,#fbb 0 133.2px,#bbf 0 134.4px,#88f 0 135.6px,#fff 0 136.8px,#fee 0 138px,#fff 0 139.2px,#fee 0 140.4px,#99f 0 141.6px,#bbf 0 142.8px,#fee 0 144px,#ddf 0 145.2px,#fbb 0 146.4px,#fdd 0 148.8px,#eef 0 150px,#fff 0 151.2px,#fcc 0 152.4px,#fdd 0 154.8px,#f88 0 156px,#fcc 0 157.2px,#fff 0 158.4px,#bbf 0 159.6px,#fdd 0 160.8px,#fee 0 162px,#bbf 0 163.2px,#fff 0 164.4px,#fee 0 165.6px,#ddf 0 166.8px,#fdd 0 168px,#fbb 0 169.2px,#fee 0 171.6px,#ddf 0 172.8px,#ccf 0 174px,#bbf 0 175.2px,#fff 0 176.4px,#bbf 0 178.8px,#fee 0 180px,#fcc 0 181.2px,#ddf 0 184.8px,#fff 0 186px,#fdd 0 187.2px,#88f 0 188.4px,#bbf 0 189.6px,#fff 0 190.8px,#eef 0 192px,#fee 0 193.2px,#eef 0 194.4px,#fee 0 195.6px,#fbb 0 196.8px,#fdd 0 198px,#f88 0 199.2px,#ccf 0 200.4px,#fff 0 202.8px,#ddf 0 204px,#fee 0 205.2px,#fcc 0 206.4px,#fbb 0 207.6px,#ccf 0 208.8px,#fff 0 210px,#fbb 0 211.2px,#fee 0 212.4px,#eef 0 213.6px,#fee 0 214.8px,#fbb 0 217.2px,#fdd 0 218.4px,#eef 0 219.6px,#fdd 0 220.8px,#fee 0 222px,#ddf 0 223.2px,#fcc 0 224.4px,#fdd 0 225.6px,#faa 0 226.8px,#eef 0 228px,#fdd 0 229.2px,#fbb 0 230.4px,#ddf 0 231.6px,#fbb 0 234px,#fdd 0 235.2px,#eef 0 236.4px,#fdd 0 237.6px,#fff 0 240px,#fcc 0 241.2px,#fff 0 242.4px,#ccf 0 243.6px,#bbf 0 244.8px,#eef 0 246px,#fee 0 247.2px,#fcc 0 248.4px,#fdd 0 249.6px,#fff 0 250.8px,#fee 0 252px,#ccf 0 255.6px,#fdd 0 256.8px,#bbf 0 258px,#ddf 0 259.2px,#f77 0 260.4px,#fdd 0 261.6px,#ccf 0 262.8px,#ddf 0 265.2px,#fff 0 266.4px,#ccf 0 267.6px,#fdd 0 268.8px,#fcc 0 270px,#77f 0 271.2px,#ccf 0 272.4px,#ddf 0 273.6px,#eef 0 274.8px,#aaf 0 276px,#fee 0 277.2px,#ddf 0 278.4px,#99f 0 279.6px,#fcc 0 280.8px,#fee 0 282px,#fff 0 284.4px,#fbb 0 285.6px,#fcc 0 286.8px,#44f 0 288px,#bbf 0 289.2px,#99f 0 290.4px,#bbf 0 291.6px,#fcc 0 292.8px,#fee 0 294px,#fff 0 296.4px,#fee 0 297.6px,#fbb 0 299.8px,#fdd 0 301px,#eef 0 302.2px,#ddf 0 303.4px,#aaf 0 304.6px,#ccf 0 305.8px,#fee 0 307px,#ddf 0 308.2px,#faa 0 309.4px,#fcc 0 310.6px,#88f 0 311.8px,#bbf 0 313px,#f99 0 315.4px,#fdd 0 316.6px,#f99 0 317.8px,#fee 0 319px,#bbf 0 320.2px,#aaf 0 321.4px,#ddf 0 322.6px,#eef 0 323.8px,#faa 0 325px,#bbf 0 326.2px,#fcc 0 327.4px,#eef 0 328.6px,#bbf 0 329.8px,#ccf 0 331px,#ddf 0 332.2px,#fff 0 333.4px,#fdd 0 334.6px,#fbb 0 335.8px,#fee 0 337px,#fff 0 338.2px,#fbb 0 339.4px,#ccf 0 340.6px,#fdd 0 343px,#ccf 0 344.2px,#bbf 0 345.4px,#ddf 0 347.8px,#00f 0 349px,#aaf 0 350.2px,#eef 0 351.4px,#fbb 0 352.6px,#bbf 0 353.8px,#eef 0 355px,#f99 0 356.2px,#fff 0 357.4px,#ccf 0 358.6px,#99f 0 361px,#fff 0 362.2px,#fee 0 363.4px,#fdd 0 364.6px,#fee 0 365.8px,#fcc 0 367px,#99f 0 368.2px,#bbf 0 369.4px,#fee 0 370.6px,#f44 0 371.8px,#ddf 0 373px,#ccf 0 374.2px,#eef 0 375.4px,#ccf 0 376.6px,#fee 0 377.8px,#fdd 0 379px,#ccf 0 380.2px,#99f 0 381.4px,#fcc 0 382.6px,#fff 0 383.8px,#ddf 0 385px,#ccf 0 386.2px,#66f 0 387.4px,#77f 0 388.6px,#eef 0 389.8px,#aaf 0 391px,#fff 0 392.2px,#fcc 0 393.4px,#fee 0 394.6px,#99f 0 395.8px,#77f 0 397px,#fcc 0 398.2px,#ccf 0 399.4px,#ddf 0 400.6px,#ccf 0 401.8px,#fbb 0 404.2px,#ddf 0 405.4px,#bbf 0 406.6px,#ccf 0 407.8px,#f99 0 409px,#eef 0 410.2px,#f99 0 411.4px,#fee 0 412.6px,#fff 0 413.8px,#bbf 0 415px,#fbb 0 416.2px,#fcc 0 416.3px)"></div>
<div class="h" style="left:120.7px;top:831.56px;width:416.3px;height:12.62px;background:linear-gradient(90deg,#fee 0 1.2px,#fdd 0 2.4px,#ddf 0 3.6px,#fcc 0 4.8px,#fbb 0 6px,#ccf 0 7.2px,#88f 0 8.4px,#fff 0 9.6px,#aaf 0 10.8px,#fff 0 16.8px,#fcc 0 18px,#fee 0 19.2px,#aaf 0 20.4px,#faa 0 21.6px,#fcc 0 22.8px,#bbf 0 24px,#fff 0 25.2px,#f66 0 26.4px,#ccf 0 28.8px,#f88 0 30px,#fee 0 31.2px,#fcc 0 33.6px,#ccf 0 34.8px,#fbb 0 37.2px,#faa 0 38.4px,#fdd 0 39.6px,#88f 0 40.8px,#eef 0 42px,#ddf 0 44.4px,#fee 0 45.6px,#aaf 0 46.8px,#bbf 0 48px,#88f 0 49.2px,#fdd 0 50.4px,#bbf 0 51.6px,#ddf 0 52.8px,#fff 0 54px,#ddf 0 56.4px,#fcc 0 57.6px,#ddf 0 58.8px,#fee 0 61.2px,#ccf 0 62.4px,#fbb 0 63.6px,#fcc 0 64.8px,#fbb 0 66px,#bbf 0 67.2px,#fff 0 68.4px,#fee 0 69.6px,#ccf 0 70.8px,#fdd 0 72px,#fee 0 73.2px,#fcc 0 74.4px,#fdd 0 75.6px,#eef 0 76.8px,#faa 0 78px,#fff 0 79.2px,#fbb 0 80.4px,#fee 0 81.6px,#fff 0 82.8px,#fee 0 84px,#ddf 0 85.2px,#aaf 0 86.4px,#fdd 0 87.6px,#eef 0 88.8px,#ddf 0 90px,#eef 0 91.2px,#fdd 0 92.4px,#eef 0 93.6px,#fcc 0 94.8px,#88f 0 96px,#faa 0 98.4px,#fee 0 102px,#fdd 0 103.2px,#fbb 0 104.4px,#ccf 0 105.6px,#fbb 0 106.8px,#eef 0 109.2px,#bbf 0 110.4px,#fff 0 111.6px,#eef 0 112.8px,#fff 0 114px,#bbf 0 115.2px,#eef 0 116.4px,#faa 0 117.6px,#eef 0 118.8px,#fdd 0 120px,#ccf 0 121.2px,#fdd 0 122.4px,#fff 0 123.6px,#ccf 0 124.8px,#fcc 0 126px,#fdd 0 127.2px,#fee 0 128.4px,#77f 0 129.6px,#aaf 0 130.8px,#fdd 0 132px,#fee 0 133.2px,#fcc 0 134.4px,#f99 0 135.6px,#faa 0 136.8px,#fbb 0 138px,#fff 0 139.2px,#fdd 0 140.4px,#fcc 0 141.6px,#eef 0 142.8px,#fdd 0 144px,#eef 0 146.4px,#fcc 0 147.6px,#ccf 0 148.8px,#fff 0 150px,#fdd 0 151.2px,#fcc 0 152.4px,#fff 0 153.6px,#fdd 0 154.8px,#fcc 0 156px,#fdd 0 157.2px,#ccf 0 158.4px,#fbb 0 159.6px,#aaf 0 160.8px,#77f 0 162px,#fcc 0 163.2px,#ccf 0 164.4px,#f55 0 165.6px,#eef 0 166.8px,#fdd 0 169.2px,#fee 0 171.6px,#fbb 0 172.8px,#bbf 0 174px,#fee 0 175.2px,#fdd 0 176.4px,#ccf 0 177.6px,#88f 0 178.8px,#fdd 0 180px,#fee 0 181.2px,#99f 0 182.4px,#aaf 0 183.6px,#fff 0 186px,#fdd 0 187.2px,#bbf 0 188.4px,#ddf 0 189.6px,#fff 0 190.8px,#ccf 0 192px,#fee 0 193.2px,#fcc 0 195.6px,#bbf 0 196.8px,#ccf 0 198px,#fee 0 199.2px,#fff 0 200.4px,#aaf 0 201.6px,#eef 0 204px,#fee 0 205.2px,#bbf 0 206.4px,#fee 0 207.6px,#eef 0 208.8px,#fdd 0 210px,#ddf 0 212.4px,#ccf 0 213.6px,#fee 0 216px,#fbb 0 217.2px,#77f 0 218.4px,#faa 0 219.6px,#fbb 0 220.8px,#fff 0 222px,#eef 0 223.2px,#fcc 0 224.4px,#fee 0 225.6px,#f88 0 226.8px,#fff 0 231.6px,#fbb 0 232.8px,#99f 0 234px,#fcc 0 235.2px,#bbf 0 236.4px,#fff 0 237.6px,#fee 0 238.8px,#fff 0 240px,#ddf 0 241.2px,#ccf 0 242.4px,#eef 0 243.6px,#fcc 0 244.8px,#99f 0 246px,#fdd 0 247.2px,#faa 0 248.4px,#fbb 0 249.6px,#fdd 0 250.8px,#bbf 0 252px,#eef 0 253.2px,#fee 0 254.4px,#fdd 0 256.8px,#fcc 0 258px,#ddf 0 259.2px,#bbf 0 260.4px,#ddf 0 261.6px,#fcc 0 264px,#ccf 0 265.2px,#88f 0 266.4px,#fff 0 267.6px,#fdd 0 268.8px,#fee 0 270px,#aaf 0 271.2px,#fee 0 272.4px,#fcc 0 274.8px,#bbf 0 276px,#fee 0 277.2px,#fff 0 278.4px,#88f 0 279.6px,#ccf 0 280.8px,#fdd 0 282px,#fbb 0 283.2px,#ccf 0 284.4px,#fff 0 285.6px,#eef 0 286.8px,#fee 0 288px,#ccf 0 289.2px,#fcc 0 290.4px,#fbb 0 291.6px,#aaf 0 292.8px,#f88 0 294px,#fcc 0 295.2px,#ccf 0 296.4px,#fcc 0 297.6px,#fff 0 298.8px,#eef 0 299.8px,#ddf 0 301px,#eef 0 302.2px,#fdd 0 303.4px,#fee 0 304.6px,#ddf 0 305.8px,#fdd 0 307px,#ccf 0 309.4px,#fee 0 310.6px,#ccf 0 311.8px,#ddf 0 314.2px,#fdd 0 315.4px,#ccf 0 316.6px,#eef 0 317.8px,#ddf 0 319px,#fcc 0 320.2px,#fee 0 322.6px,#66f 0 323.8px,#fee 0 328.6px,#ddf 0 329.8px,#fff 0 331px,#fcc 0 332.2px,#fff 0 333.4px,#ccf 0 334.6px,#faa 0 335.8px,#aaf 0 337px,#fff 0 339.4px,#aaf 0 340.6px,#ccf 0 341.8px,#ddf 0 343px,#ccf 0 344.2px,#88f 0 345.4px,#eef 0 346.6px,#fcc 0 347.8px,#fff 0 349px,#ddf 0 350.2px,#bbf 0 352.6px,#f99 0 353.8px,#fee 0 355px,#ddf 0 356.2px,#bbf 0 357.4px,#ccf 0 358.6px,#eef 0 359.8px,#fff 0 361px,#eef 0 362.2px,#88f 0 363.4px,#bbf 0 364.6px,#aaf 0 365.8px,#fee 0 367px,#ddf 0 368.2px,#99f 0 369.4px,#fff 0 370.6px,#fee 0 371.8px,#fdd 0 373px,#ccf 0 374.2px,#bbf 0 375.4px,#fff 0 377.8px,#fee 0 379px,#fdd 0 380.2px,#ddf 0 381.4px,#77f 0 382.6px,#fcc 0 383.8px,#fee 0 385px,#77f 0 386.2px,#bbf 0 387.4px,#eef 0 388.6px,#fbb 0 389.8px,#fcc 0 391px,#fff 0 393.4px,#ddf 0 394.6px,#fbb 0 395.8px,#aaf 0 397px,#fff 0 398.2px,#fdd 0 399.4px,#aaf 0 400.6px,#fcc 0 401.8px,#99f 0 403px,#eef 0 404.2px,#ccf 0 405.4px,#bbf 0 406.6px,#ccf 0 407.8px,#fcc 0 409px,#bbf 0 410.2px,#aaf 0 411.4px,#bbf 0 413.8px,#ccf 0 416.2px,#bbf 0 416.3px)"></div>
<div class="h" style="left:120.7px;top:844.14px;width:416.3px;height:12.62px;background:linear-gradient(90deg,#fee 0 1.2px,#eef 0 2.4px,#fff 0 3.6px,#eef 0 4.8px,#fff 0 7.2px,#eef 0 8.4px,#ddf 0 9.6px,#fff 0 10.8px,#ccf 0 12px,#fee 0 13.2px,#aaf 0 14.4px,#ccf 0 15.6px,#fdd 0 16.8px,#fff 0 18px,#ccf 0 19.2px,#ddf 0 20.4px,#fff 0 24px,#eef 0 26.4px,#fee 0 27.6px,#ddf 0 28.8px,#bbf 0 30px,#fff 0 31.2px,#fdd 0 32.4px,#fff 0 34.8px,#ddf 0 36px,#fdd 0 37.2px,#fff 0 38.4px,#fee 0 39.6px,#eef 0 40.8px,#fee 0 42px,#eef 0 43.2px,#bbf 0 44.4px,#ddf 0 46.8px,#ccf 0 48px,#eef 0 49.2px,#fee 0 50.4px,#bbf 0 51.6px,#ccf 0 52.8px,#fdd 0 54px,#bbf 0 55.2px,#fff 0 56.4px,#ddf 0 57.6px,#fff 0 60px,#eef 0 61.2px,#ddf 0 62.4px,#ccf 0 64.8px,#eef 0 66px,#ccf 0 67.2px,#aaf 0 68.4px,#eef 0 70.8px,#bbf 0 72px,#fff 0 73.2px,#ddf 0 74.4px,#eef 0 75.6px,#ddf 0 76.8px,#fee 0 78px,#fdd 0 79.2px,#fff 0 82.8px,#ccf 0 84px,#eef 0 86.4px,#fff 0 87.6px,#eef 0 88.8px,#fee 0 90px,#bbf 0 91.2px,#fff 0 92.4px,#ddf 0 93.6px,#fff 0 96px,#ddf 0 97.2px,#fff 0 98.4px,#ddf 0 99.6px,#fee 0 100.8px,#eef 0 102px,#fdd 0 103.2px,#eef 0 104.4px,#fcc 0 105.6px,#ccf 0 106.8px,#eef 0 108px,#fee 0 109.2px,#ddf 0 110.4px,#fcc 0 111.6px,#eef 0 114px,#fff 0 115.2px,#bbf 0 116.4px,#ddf 0 117.6px,#eef 0 118.8px,#bbf 0 120px,#fee 0 121.2px,#fff 0 122.4px,#fee 0 123.6px,#ccf 0 124.8px,#fff 0 126px,#fee 0 127.2px,#ccf 0 128.4px,#fff 0 129.6px,#ccf 0 130.8px,#99f 0 132px,#fff 0 133.2px,#fcc 0 134.4px,#eef 0 135.6px,#ddf 0 136.8px,#eef 0 138px,#fee 0 139.2px,#eef 0 140.4px,#fee 0 141.6px,#fff 0 142.8px,#fdd 0 144px,#eef 0 146.4px,#fee 0 147.6px,#fdd 0 148.8px,#eef 0 150px,#fff 0 151.2px,#fdd 0 152.4px,#ddf 0 153.6px,#eef 0 154.8px,#fff 0 156px,#fee 0 157.2px,#fff 0 158.4px,#ddf 0 159.6px,#eef 0 160.8px,#fff 0 162px,#fee 0 163.2px,#eef 0 164.4px,#fee 0 165.6px,#ddf 0 166.8px,#fff 0 168px,#eef 0 169.2px,#fee 0 171.6px,#fff 0 172.8px,#fee 0 174px,#fff 0 175.2px,#bbf 0 176.4px,#fee 0 177.6px,#ddf 0 178.8px,#fff 0 181.2px,#fdd 0 182.4px,#fff 0 183.6px,#eef 0 184.8px,#ddf 0 186px,#eef 0 187.2px,#fff 0 188.4px,#ddf 0 189.6px,#fdd 0 190.8px,#ccf 0 192px,#fff 0 194.4px,#fee 0 195.6px,#ccf 0 196.8px,#eef 0 198px,#fbb 0 199.2px,#eef 0 200.4px,#bbf 0 201.6px,#eef 0 202.8px,#fff 0 205.2px,#fee 0 206.4px,#eef 0 207.6px,#fff 0 210px,#eef 0 211.2px,#99f 0 212.4px,#ddf 0 213.6px,#ccf 0 214.8px,#fee 0 216px,#ccf 0 217.2px,#fee 0 218.4px,#ddf 0 219.6px,#eef 0 220.8px,#fff 0 224.4px,#fee 0 225.6px,#fff 0 226.8px,#ddf 0 228px,#ccf 0 229.2px,#eef 0 230.4px,#ccf 0 231.6px,#ddf 0 232.8px,#fee 0 234px,#eef 0 235.2px,#ccf 0 236.4px,#ddf 0 237.6px,#fff 0 238.8px,#eef 0 240px,#fff 0 241.2px,#eef 0 243.6px,#fee 0 244.8px,#ddf 0 246px,#eef 0 248.4px,#ccf 0 249.6px,#eef 0 250.8px,#99f 0 252px,#ddf 0 253.2px,#fff 0 254.4px,#ddf 0 255.6px,#fff 0 258px,#ddf 0 259.2px,#fff 0 260.4px,#aaf 0 261.6px,#eef 0 264px,#ddf 0 265.2px,#fff 0 267.6px,#fcc 0 268.8px,#fff 0 270px,#fdd 0 271.2px,#fff 0 272.4px,#ccf 0 273.6px,#fff 0 274.8px,#fdd 0 276px,#eef 0 277.2px,#ccf 0 278.4px,#bbf 0 279.6px,#fff 0 280.8px,#ddf 0 282px,#fff 0 283.2px,#fee 0 284.4px,#eef 0 285.6px,#fee 0 286.8px,#eef 0 290.4px,#fdd 0 291.6px,#eef 0 292.8px,#bbf 0 294px,#fff 0 296.4px,#eef 0 297.6px,#fff 0 298.8px,#ddf 0 299.8px,#bbf 0 301px,#fee 0 302.2px,#fff 0 303.4px,#bbf 0 304.6px,#ddf 0 305.8px,#bbf 0 307px,#fcc 0 308.2px,#fee 0 313px,#99f 0 314.2px,#ddf 0 315.4px,#fee 0 316.6px,#ccf 0 317.8px,#bbf 0 319px,#ccf 0 320.2px,#ddf 0 321.4px,#eef 0 322.6px,#88f 0 323.8px,#eef 0 325px,#ddf 0 326.2px,#ccf 0 327.4px,#fff 0 328.6px,#ccf 0 329.8px,#fff 0 331px,#ddf 0 333.4px,#fff 0 334.6px,#ddf 0 335.8px,#fdd 0 337px,#ccf 0 338.2px,#ddf 0 339.4px,#fee 0 340.6px,#eef 0 341.8px,#ddf 0 343px,#aaf 0 344.2px,#fdd 0 345.4px,#ddf 0 346.6px,#fff 0 347.8px,#fee 0 350.2px,#bbf 0 351.4px,#fdd 0 352.6px,#fff 0 353.8px,#ddf 0 355px,#fee 0 356.2px,#fff 0 358.6px,#eef 0 359.8px,#fff 0 362.2px,#fcc 0 363.4px,#eef 0 364.6px,#ccf 0 365.8px,#fff 0 367px,#ccf 0 369.4px,#fcc 0 370.6px,#fee 0 371.8px,#ccf 0 373px,#fdd 0 374.2px,#ccf 0 375.4px,#eef 0 376.6px,#ddf 0 377.8px,#eef 0 379px,#ccf 0 380.2px,#eef 0 381.4px,#ccf 0 382.6px,#ddf 0 383.8px,#ccf 0 386.2px,#fcc 0 387.4px,#eef 0 388.6px,#fff 0 389.8px,#ddf 0 391px,#ccf 0 392.2px,#ddf 0 393.4px,#fff 0 394.6px,#bbf 0 395.8px,#fdd 0 397px,#bbf 0 398.2px,#aaf 0 399.4px,#fdd 0 400.6px,#ccf 0 401.8px,#ddf 0 403px,#fee 0 405.4px,#ddf 0 407.8px,#fdd 0 409px,#ddf 0 410.2px,#fdd 0 411.4px,#eef 0 412.6px,#fee 0 413.8px,#ccf 0 416.2px,#fee 0 416.3px)"></div>
<div class="h" style="left:120.7px;top:856.71px;width:416.3px;height:12.62px;background:linear-gradient(90deg,#aaf 0 1.2px,#fff 0 2.4px,#fee 0 3.6px,#ccf 0 4.8px,#fee 0 7.2px,#fff 0 8.4px,#eef 0 9.6px,#fff 0 10.8px,#ccf 0 12px,#ddf 0 13.2px,#fff 0 14.4px,#ddf 0 15.6px,#eef 0 18px,#ccf 0 19.2px,#fee 0 20.4px,#eef 0 21.6px,#fff 0 22.8px,#ccf 0 24px,#fee 0 25.2px,#ddf 0 26.4px,#fcc 0 27.6px,#bbf 0 28.8px,#fff 0 30px,#eef 0 31.2px,#fff 0 33.6px,#bbf 0 34.8px,#fcc 0 36px,#fff 0 37.2px,#eef 0 38.4px,#fcc 0 39.6px,#bbf 0 40.8px,#fdd 0 42px,#eef 0 43.2px,#fff 0 44.4px,#ddf 0 45.6px,#fff 0 48px,#bbf 0 49.2px,#eef 0 50.4px,#ddf 0 51.6px,#fdd 0 52.8px,#bbf 0 54px,#fee 0 56.4px,#fdd 0 57.6px,#eef 0 60px,#bbf 0 61.2px,#ddf 0 62.4px,#eef 0 63.6px,#ccf 0 66px,#eef 0 67.2px,#fdd 0 68.4px,#ccf 0 69.6px,#fff 0 72px,#aaf 0 73.2px,#fee 0 74.4px,#ddf 0 76.8px,#99f 0 78px,#fff 0 79.2px,#ddf 0 80.4px,#fff 0 81.6px,#eef 0 84px,#fdd 0 85.2px,#fee 0 86.4px,#fff 0 87.6px,#ccf 0 88.8px,#fee 0 91.2px,#eef 0 92.4px,#bbf 0 93.6px,#fff 0 94.8px,#fcc 0 96px,#fee 0 98.4px,#ddf 0 99.6px,#fee 0 100.8px,#fdd 0 102px,#fff 0 104.4px,#ccf 0 105.6px,#fee 0 106.8px,#fdd 0 108px,#ddf 0 109.2px,#eef 0 110.4px,#fee 0 111.6px,#fdd 0 112.8px,#fee 0 115.2px,#ccf 0 116.4px,#fff 0 117.6px,#fee 0 118.8px,#fff 0 120px,#fee 0 121.2px,#ccf 0 122.4px,#fdd 0 123.6px,#ddf 0 124.8px,#bbf 0 126px,#fff 0 127.2px,#fee 0 128.4px,#eef 0 129.6px,#fff 0 130.8px,#fee 0 132px,#ccf 0 133.2px,#aaf 0 134.4px,#fdd 0 135.6px,#fee 0 136.8px,#fff 0 138px,#ddf 0 139.2px,#fee 0 140.4px,#eef 0 142.8px,#fff 0 144px,#eef 0 145.2px,#fdd 0 146.4px,#fff 0 147.6px,#ddf 0 148.8px,#fdd 0 150px,#eef 0 151.2px,#fff 0 152.4px,#ccf 0 153.6px,#eef 0 154.8px,#fff 0 156px,#fdd 0 157.2px,#eef 0 158.4px,#fff 0 159.6px,#ccf 0 160.8px,#ddf 0 162px,#fee 0 163.2px,#eef 0 164.4px,#ddf 0 165.6px,#fff 0 166.8px,#eef 0 168px,#fee 0 169.2px,#eef 0 171.6px,#fbb 0 172.8px,#ddf 0 174px,#fff 0 175.2px,#ddf 0 176.4px,#fdd 0 177.6px,#ddf 0 178.8px,#fff 0 180px,#ccf 0 181.2px,#eef 0 182.4px,#ddf 0 183.6px,#fcc 0 186px,#fee 0 188.4px,#fff 0 190.8px,#ddf 0 193.2px,#fff 0 194.4px,#fdd 0 195.6px,#ccf 0 196.8px,#fcc 0 198px,#fff 0 199.2px,#eef 0 200.4px,#fff 0 202.8px,#eef 0 204px,#fee 0 205.2px,#fff 0 206.4px,#ccf 0 207.6px,#ddf 0 208.8px,#bbf 0 210px,#ccf 0 211.2px,#eef 0 212.4px,#ccf 0 213.6px,#eef 0 214.8px,#fff 0 218.4px,#fdd 0 219.6px,#eef 0 220.8px,#fdd 0 222px,#ddf 0 223.2px,#fcc 0 224.4px,#fee 0 225.6px,#fcc 0 226.8px,#fff 0 228px,#ddf 0 229.2px,#eef 0 230.4px,#fee 0 231.6px,#ccf 0 232.8px,#fff 0 234px,#fee 0 236.4px,#fff 0 237.6px,#fee 0 238.8px,#eef 0 240px,#fff 0 241.2px,#ccf 0 242.4px,#ddf 0 243.6px,#fff 0 244.8px,#eef 0 246px,#fff 0 247.2px,#eef 0 248.4px,#fff 0 249.6px,#ddf 0 250.8px,#eef 0 252px,#fee 0 253.2px,#ddf 0 255.6px,#ccf 0 256.8px,#ddf 0 258px,#ccf 0 259.2px,#bbf 0 260.4px,#ccf 0 261.6px,#fdd 0 262.8px,#fee 0 264px,#fff 0 265.2px,#eef 0 266.4px,#ddf 0 267.6px,#fff 0 268.8px,#eef 0 270px,#fff 0 271.2px,#ddf 0 272.4px,#ccf 0 273.6px,#eef 0 274.8px,#ccf 0 276px,#ddf 0 277.2px,#fee 0 278.4px,#ddf 0 279.6px,#eef 0 280.8px,#bbf 0 282px,#fff 0 283.2px,#fdd 0 284.4px,#bbf 0 285.6px,#fcc 0 286.8px,#fee 0 288px,#eef 0 289.2px,#fff 0 290.4px,#eef 0 291.6px,#fdd 0 292.8px,#ddf 0 294px,#fee 0 295.2px,#bbf 0 296.4px,#fee 0 297.6px,#ddf 0 298.8px,#ccf 0 299.8px,#eef 0 301px,#fdd 0 302.2px,#fee 0 303.4px,#eef 0 305.8px,#fff 0 308.2px,#eef 0 310.6px,#fee 0 311.8px,#fff 0 313px,#aaf 0 314.2px,#fff 0 315.4px,#ddf 0 316.6px,#eef 0 317.8px,#fff 0 319px,#ddf 0 320.2px,#fee 0 321.4px,#ddf 0 322.6px,#fee 0 323.8px,#bbf 0 325px,#fee 0 326.2px,#fff 0 327.4px,#fdd 0 328.6px,#ddf 0 329.8px,#fff 0 331px,#ddf 0 332.2px,#eef 0 333.4px,#fdd 0 334.6px,#eef 0 337px,#fdd 0 338.2px,#eef 0 340.6px,#fff 0 341.8px,#eef 0 343px,#fee 0 344.2px,#fff 0 346.6px,#eef 0 349px,#fff 0 350.2px,#ccf 0 351.4px,#eef 0 353.8px,#ddf 0 355px,#fff 0 356.2px,#fdd 0 357.4px,#ddf 0 361px,#fff 0 363.4px,#fee 0 364.6px,#eef 0 367px,#ddf 0 368.2px,#eef 0 369.4px,#ddf 0 370.6px,#fee 0 371.8px,#ddf 0 374.2px,#fee 0 375.4px,#ddf 0 376.6px,#fdd 0 377.8px,#eef 0 379px,#fee 0 380.2px,#bbf 0 381.4px,#fdd 0 382.6px,#fff 0 385px,#99f 0 386.2px,#eef 0 387.4px,#fff 0 388.6px,#ddf 0 389.8px,#fff 0 391px,#fee 0 392.2px,#bbf 0 393.4px,#fff 0 394.6px,#fee 0 395.8px,#ddf 0 397px,#fff 0 398.2px,#fee 0 399.4px,#eef 0 400.6px,#fdd 0 401.8px,#ddf 0 403px,#fdd 0 404.2px,#bbf 0 405.4px,#fee 0 406.6px,#eef 0 409px,#fdd 0 410.2px,#eef 0 411.4px,#fff 0 413.8px,#fee 0 415px,#bbf 0 416.3px)"></div>
<div class="h" style="left:120.7px;top:869.28px;width:416.3px;height:12.62px;background:linear-gradient(90deg,#fdd 0 1.2px,#fee 0 2.4px,#ddf 0 3.6px,#fff 0 4.8px,#bbf 0 6px,#ddf 0 7.2px,#bbf 0 8.4px,#fff 0 9.6px,#faa 0 10.8px,#ccf 0 12px,#ddf 0 13.2px,#88f 0 14.4px,#bbf 0 15.6px,#fff 0 16.8px,#bbf 0 18px,#fbb 0 19.2px,#bbf 0 21.6px,#fff 0 22.8px,#eef 0 24px,#fdd 0 25.2px,#aaf 0 26.4px,#fdd 0 27.6px,#fbb 0 28.8px,#ccf 0 30px,#fff 0 32.4px,#faa 0 33.6px,#eef 0 34.8px,#fee 0 36px,#fff 0 37.2px,#eef 0 38.4px,#f88 0 39.6px,#fff 0 43.2px,#fdd 0 45.6px,#99f 0 46.8px,#fff 0 48px,#ccf 0 49.2px,#fee 0 50.4px,#faa 0 51.6px,#f99 0 52.8px,#eef 0 54px,#fff 0 55.2px,#fdd 0 56.4px,#aaf 0 57.6px,#bbf 0 58.8px,#f88 0 60px,#fdd 0 61.2px,#ddf 0 63.6px,#aaf 0 64.8px,#eef 0 66px,#fdd 0 67.2px,#aaf 0 68.4px,#fee 0 69.6px,#eef 0 70.8px,#88f 0 72px,#fcc 0 73.2px,#fdd 0 74.4px,#faa 0 75.6px,#bbf 0 76.8px,#fff 0 78px,#99f 0 79.2px,#fff 0 80.4px,#fbb 0 81.6px,#fff 0 84px,#eef 0 85.2px,#fff 0 87.6px,#ddf 0 88.8px,#fee 0 90px,#99f 0 91.2px,#eef 0 93.6px,#fdd 0 94.8px,#eef 0 96px,#fee 0 97.2px,#fff 0 98.4px,#eef 0 99.6px,#ddf 0 102px,#ccf 0 103.2px,#88f 0 104.4px,#fcc 0 105.6px,#ddf 0 108px,#fcc 0 109.2px,#ddf 0 110.4px,#fdd 0 111.6px,#fee 0 114px,#ddf 0 115.2px,#aaf 0 116.4px,#ccf 0 117.6px,#fbb 0 118.8px,#fff 0 120px,#bbf 0 121.2px,#fff 0 122.4px,#fee 0 124.8px,#fdd 0 126px,#fff 0 127.2px,#ddf 0 128.4px,#faa 0 129.6px,#fee 0 130.8px,#fcc 0 132px,#ddf 0 133.2px,#fff 0 134.4px,#fcc 0 135.6px,#ccf 0 136.8px,#55f 0 138px,#faa 0 139.2px,#eef 0 140.4px,#fcc 0 141.6px,#fdd 0 142.8px,#fcc 0 144px,#f88 0 145.2px,#fdd 0 146.4px,#bbf 0 147.6px,#fdd 0 148.8px,#fff 0 151.2px,#fcc 0 152.4px,#fbb 0 153.6px,#ddf 0 154.8px,#77f 0 156px,#fee 0 157.2px,#fff 0 158.4px,#fee 0 159.6px,#ddf 0 160.8px,#bbf 0 162px,#fbb 0 163.2px,#bbf 0 165.6px,#ccf 0 166.8px,#fee 0 168px,#fff 0 169.2px,#fdd 0 170.4px,#ccf 0 171.6px,#eef 0 172.8px,#ddf 0 174px,#fbb 0 175.2px,#aaf 0 176.4px,#fff 0 177.6px,#f99 0 178.8px,#88f 0 180px,#fff 0 181.2px,#ddf 0 184.8px,#fee 0 186px,#aaf 0 187.2px,#eef 0 188.4px,#fdd 0 189.6px,#aaf 0 190.8px,#bbf 0 192px,#fff 0 193.2px,#fee 0 194.4px,#fff 0 195.6px,#ccf 0 196.8px,#bbf 0 198px,#fcc 0 199.2px,#eef 0 200.4px,#fcc 0 201.6px,#bbf 0 202.8px,#ddf 0 204px,#fbb 0 205.2px,#fee 0 206.4px,#ddf 0 207.6px,#fdd 0 210px,#ddf 0 211.2px,#fee 0 212.4px,#eef 0 213.6px,#fee 0 214.8px,#fff 0 216px,#eef 0 217.2px,#f99 0 218.4px,#ddf 0 219.6px,#eef 0 222px,#fdd 0 223.2px,#fee 0 224.4px,#f99 0 225.6px,#fff 0 226.8px,#99f 0 228px,#fee 0 229.2px,#ccf 0 231.6px,#faa 0 232.8px,#fcc 0 234px,#fdd 0 235.2px,#ccf 0 236.4px,#99f 0 237.6px,#eef 0 238.8px,#bbf 0 240px,#f99 0 241.2px,#fbb 0 242.4px,#aaf 0 243.6px,#fff 0 246px,#bbf 0 247.2px,#fdd 0 248.4px,#fbb 0 249.6px,#eef 0 250.8px,#fee 0 252px,#fdd 0 253.2px,#eef 0 254.4px,#fdd 0 255.6px,#fcc 0 256.8px,#fbb 0 258px,#faa 0 259.2px,#fbb 0 260.4px,#fdd 0 261.6px,#ddf 0 262.8px,#fee 0 264px,#eef 0 265.2px,#fff 0 266.4px,#88f 0 267.6px,#fcc 0 268.8px,#bbf 0 270px,#eef 0 271.2px,#fff 0 272.4px,#fbb 0 273.6px,#fee 0 274.8px,#f99 0 276px,#fbb 0 277.2px,#fee 0 278.4px,#ccf 0 279.6px,#99f 0 280.8px,#ddf 0 282px,#fdd 0 283.2px,#eef 0 284.4px,#88f 0 285.6px,#eef 0 286.8px,#aaf 0 288px,#fdd 0 289.2px,#fff 0 290.4px,#fee 0 292.8px,#fdd 0 294px,#aaf 0 295.2px,#fcc 0 296.4px,#fee 0 297.6px,#fcc 0 298.8px,#eef 0 299.8px,#fff 0 301px,#aaf 0 303.4px,#88f 0 304.6px,#ddf 0 305.8px,#fdd 0 307px,#fcc 0 308.2px,#fee 0 309.4px,#fff 0 310.6px,#fdd 0 311.8px,#faa 0 313px,#fdd 0 314.2px,#bbf 0 315.4px,#f99 0 316.6px,#ddf 0 317.8px,#bbf 0 319px,#eef 0 320.2px,#fff 0 321.4px,#ccf 0 322.6px,#fdd 0 323.8px,#ccf 0 325px,#fdd 0 326.2px,#ddf 0 327.4px,#ccf 0 328.6px,#eef 0 331px,#ddf 0 332.2px,#fee 0 333.4px,#ddf 0 334.6px,#fff 0 337px,#ccf 0 338.2px,#f99 0 339.4px,#eef 0 340.6px,#f99 0 341.8px,#ddf 0 343px,#77f 0 344.2px,#fcc 0 345.4px,#fdd 0 346.6px,#ddf 0 347.8px,#fcc 0 349px,#aaf 0 350.2px,#fff 0 351.4px,#fcc 0 352.6px,#fdd 0 353.8px,#66f 0 355px,#bbf 0 356.2px,#fbb 0 357.4px,#fcc 0 358.6px,#faa 0 359.8px,#fdd 0 361px,#fff 0 362.2px,#fcc 0 363.4px,#fdd 0 364.6px,#ddf 0 367px,#f99 0 368.2px,#fff 0 369.4px,#ccf 0 370.6px,#ddf 0 371.8px,#99f 0 373px,#eef 0 374.2px,#fff 0 375.4px,#77f 0 376.6px,#ccf 0 377.8px,#fff 0 379px,#aaf 0 380.2px,#ccf 0 381.4px,#fbb 0 383.8px,#ddf 0 385px,#ccf 0 386.2px,#ddf 0 387.4px,#fdd 0 388.6px,#ccf 0 389.8px,#fdd 0 391px,#fee 0 392.2px,#ddf 0 393.4px,#fcc 0 394.6px,#fdd 0 395.8px,#bbf 0 397px,#eef 0 398.2px,#fee 0 399.4px,#ddf 0 400.6px,#88f 0 401.8px,#fcc 0 403px,#eef 0 404.2px,#fee 0 405.4px,#ddf 0 406.6px,#fff 0 407.8px,#fee 0 409px,#fcc 0 410.2px,#99f 0 411.4px,#fbb 0 412.6px,#fee 0 413.8px,#ccf 0 415px,#fff 0 416.2px,#eef 0 416.3px)"></div>
<div class="h" style="left:120.7px;top:881.86px;width:416.3px;height:12.62px;background:linear-gradient(90deg,#fcc 0 1.2px,#ddf 0 2.4px,#f77 0 3.6px,#fff 0 4.8px,#fee 0 6px,#fff 0 7.2px,#77f 0 8.4px,#ccf 0 9.6px,#eef 0 10.8px,#fee 0 13.2px,#88f 0 14.4px,#fcc 0 15.6px,#99f 0 16.8px,#ccf 0 18px,#fff 0 19.2px,#99f 0 20.4px,#fcc 0 21.6px,#fff 0 22.8px,#99f 0 25.2px,#fdd 0 26.4px,#ddf 0 27.6px,#99f 0 28.8px,#fcc 0 30px,#ccf 0 31.2px,#fdd 0 32.4px,#fff 0 34.8px,#fdd 0 36px,#fbb 0 37.2px,#ddf 0 38.4px,#aaf 0 39.6px,#faa 0 40.8px,#aaf 0 42px,#eef 0 43.2px,#bbf 0 44.4px,#faa 0 45.6px,#ddf 0 48px,#fee 0 49.2px,#f99 0 50.4px,#fff 0 51.6px,#eef 0 52.8px,#77f 0 54px,#fee 0 56.4px,#eef 0 57.6px,#fee 0 58.8px,#ddf 0 60px,#fee 0 61.2px,#bbf 0 62.4px,#fff 0 63.6px,#ccf 0 64.8px,#fcc 0 67.2px,#fee 0 68.4px,#faa 0 69.6px,#ccf 0 70.8px,#fdd 0 72px,#fbb 0 73.2px,#eef 0 74.4px,#99f 0 75.6px,#fcc 0 76.8px,#fff 0 78px,#99f 0 79.2px,#fee 0 80.4px,#99f 0 81.6px,#fee 0 82.8px,#faa 0 84px,#fee 0 86.4px,#ccf 0 88.8px,#77f 0 90px,#fff 0 91.2px,#77f 0 92.4px,#ddf 0 93.6px,#eef 0 94.8px,#fdd 0 96px,#ddf 0 97.2px,#aaf 0 98.4px,#bbf 0 99.6px,#ccf 0 100.8px,#ddf 0 102px,#fff 0 103.2px,#ddf 0 108px,#fee 0 109.2px,#fbb 0 110.4px,#fff 0 111.6px,#aaf 0 112.8px,#fcc 0 115.2px,#f99 0 116.4px,#99f 0 117.6px,#ccf 0 118.8px,#aaf 0 120px,#fcc 0 121.2px,#eef 0 122.4px,#ddf 0 123.6px,#fff 0 124.8px,#fdd 0 126px,#eef 0 127.2px,#fdd 0 128.4px,#fee 0 130.8px,#ddf 0 132px,#fee 0 135.6px,#fbb 0 136.8px,#ccf 0 138px,#fee 0 139.2px,#77f 0 140.4px,#f77 0 141.6px,#eef 0 142.8px,#bbf 0 144px,#eef 0 145.2px,#bbf 0 146.4px,#fee 0 147.6px,#fdd 0 148.8px,#fcc 0 150px,#77f 0 151.2px,#fdd 0 152.4px,#fff 0 154.8px,#fee 0 156px,#eef 0 157.2px,#fff 0 158.4px,#f77 0 159.6px,#fee 0 160.8px,#fdd 0 162px,#eef 0 163.2px,#fee 0 164.4px,#eef 0 165.6px,#fff 0 166.8px,#fee 0 168px,#fff 0 169.2px,#fee 0 170.4px,#fff 0 172.8px,#ddf 0 176.4px,#faa 0 177.6px,#fcc 0 178.8px,#faa 0 180px,#fee 0 181.2px,#88f 0 182.4px,#bbf 0 184.8px,#fff 0 186px,#fcc 0 187.2px,#ddf 0 190.8px,#ccf 0 193.2px,#eef 0 194.4px,#ddf 0 195.6px,#fcc 0 196.8px,#ccf 0 198px,#fff 0 199.2px,#fdd 0 200.4px,#f88 0 201.6px,#ccf 0 206.4px,#fee 0 207.6px,#f99 0 208.8px,#aaf 0 210px,#faa 0 211.2px,#fdd 0 213.6px,#bbf 0 214.8px,#fcc 0 216px,#bbf 0 217.2px,#fff 0 218.4px,#f77 0 219.6px,#bbf 0 220.8px,#88f 0 222px,#fdd 0 223.2px,#fee 0 224.4px,#aaf 0 225.6px,#fff 0 226.8px,#bbf 0 228px,#fcc 0 229.2px,#ddf 0 230.4px,#fbb 0 231.6px,#faa 0 232.8px,#fbb 0 234px,#faa 0 235.2px,#ccf 0 236.4px,#eef 0 237.6px,#fff 0 238.8px,#aaf 0 240px,#fcc 0 241.2px,#aaf 0 242.4px,#ddf 0 243.6px,#ccf 0 246px,#fee 0 247.2px,#ddf 0 249.6px,#fee 0 250.8px,#fff 0 252px,#faa 0 253.2px,#fcc 0 254.4px,#fff 0 255.6px,#eef 0 258px,#aaf 0 259.2px,#44f 0 260.4px,#fdd 0 261.6px,#ccf 0 262.8px,#fff 0 264px,#eef 0 265.2px,#fdd 0 267.6px,#fff 0 268.8px,#fee 0 272.4px,#fdd 0 274.8px,#eef 0 276px,#fee 0 277.2px,#ccf 0 278.4px,#88f 0 279.6px,#fee 0 280.8px,#99f 0 282px,#eef 0 283.2px,#fcc 0 284.4px,#eef 0 285.6px,#fff 0 288px,#fdd 0 289.2px,#fee 0 291.6px,#fbb 0 292.8px,#fcc 0 294px,#88f 0 295.2px,#ddf 0 296.4px,#ccf 0 297.6px,#fff 0 298.8px,#ccf 0 299.8px,#fff 0 302.2px,#fcc 0 303.4px,#fdd 0 304.6px,#faa 0 305.8px,#88f 0 308.2px,#eef 0 310.6px,#aaf 0 311.8px,#44f 0 313px,#fdd 0 314.2px,#fee 0 315.4px,#bbf 0 316.6px,#eef 0 317.8px,#ddf 0 319px,#ccf 0 320.2px,#bbf 0 321.4px,#fbb 0 322.6px,#ddf 0 323.8px,#bbf 0 326.2px,#fdd 0 327.4px,#eef 0 328.6px,#fff 0 329.8px,#fcc 0 331px,#aaf 0 332.2px,#eef 0 333.4px,#ccf 0 335.8px,#fff 0 337px,#fee 0 339.4px,#bbf 0 340.6px,#fee 0 341.8px,#ddf 0 343px,#fff 0 345.4px,#aaf 0 347.8px,#99f 0 349px,#fee 0 351.4px,#faa 0 352.6px,#fcc 0 353.8px,#33f 0 355px,#fdd 0 356.2px,#fee 0 357.4px,#aaf 0 358.6px,#fbb 0 359.8px,#fee 0 361px,#bbf 0 362.2px,#fdd 0 363.4px,#ddf 0 364.6px,#aaf 0 367px,#bbf 0 368.2px,#fee 0 369.4px,#ccf 0 370.6px,#fee 0 371.8px,#bbf 0 374.2px,#88f 0 375.4px,#fff 0 376.6px,#faa 0 377.8px,#ccf 0 379px,#fdd 0 380.2px,#fff 0 381.4px,#ccf 0 382.6px,#99f 0 383.8px,#fdd 0 385px,#fee 0 386.2px,#ddf 0 387.4px,#fdd 0 388.6px,#fff 0 389.8px,#eef 0 391px,#66f 0 392.2px,#bbf 0 393.4px,#fee 0 394.6px,#f88 0 395.8px,#fdd 0 397px,#ccf 0 398.2px,#ddf 0 399.4px,#fcc 0 400.6px,#ddf 0 401.8px,#fdd 0 403px,#bbf 0 404.2px,#88f 0 406.6px,#fee 0 409px,#faa 0 410.2px,#ddf 0 411.4px,#fbb 0 412.6px,#bbf 0 413.8px,#ddf 0 415px,#ccf 0 416.2px,#fdd 0 416.3px)"></div>
<div class="h" style="left:120.7px;top:894.43px;width:416.3px;height:12.62px;background:linear-gradient(90deg,#fdd 0 1.2px,#ddf 0 2.4px,#fcc 0 3.6px,#fdd 0 6px,#eef 0 7.2px,#ddf 0 8.4px,#fdd 0 9.6px,#fcc 0 10.8px,#fff 0 12px,#ccf 0 13.2px,#fee 0 14.4px,#ccf 0 15.6px,#fcc 0 16.8px,#eef 0 18px,#88f 0 19.2px,#aaf 0 20.4px,#77f 0 21.6px,#fee 0 22.8px,#99f 0 24px,#bbf 0 25.2px,#fee 0 26.4px,#eef 0 27.6px,#fee 0 28.8px,#88f 0 30px,#ddf 0 31.2px,#fee 0 32.4px,#fbb 0 33.6px,#eef 0 34.8px,#ccf 0 37.2px,#66f 0 38.4px,#77f 0 39.6px,#bbf 0 40.8px,#ddf 0 42px,#99f 0 43.2px,#fdd 0 44.4px,#fbb 0 48px,#fdd 0 49.2px,#fee 0 51.6px,#eef 0 54px,#aaf 0 55.2px,#fcc 0 56.4px,#ccf 0 57.6px,#bbf 0 58.8px,#fff 0 60px,#fee 0 61.2px,#ccf 0 62.4px,#ddf 0 63.6px,#fdd 0 64.8px,#fff 0 66px,#fdd 0 67.2px,#ccf 0 68.4px,#faa 0 69.6px,#bbf 0 70.8px,#eef 0 72px,#ddf 0 73.2px,#fee 0 74.4px,#ccf 0 76.8px,#fcc 0 78px,#88f 0 79.2px,#fcc 0 80.4px,#fff 0 81.6px,#eef 0 82.8px,#ddf 0 84px,#ccf 0 85.2px,#fbb 0 86.4px,#bbf 0 87.6px,#fee 0 88.8px,#ddf 0 91.2px,#eef 0 92.4px,#aaf 0 93.6px,#ccf 0 94.8px,#fff 0 96px,#fcc 0 97.2px,#ddf 0 98.4px,#fdd 0 99.6px,#fff 0 100.8px,#ccf 0 102px,#fdd 0 103.2px,#ddf 0 104.4px,#ccf 0 105.6px,#fdd 0 106.8px,#bbf 0 109.2px,#fff 0 110.4px,#fee 0 111.6px,#fcc 0 112.8px,#faa 0 114px,#fee 0 115.2px,#eef 0 116.4px,#fff 0 117.6px,#ccf 0 118.8px,#fcc 0 120px,#ddf 0 121.2px,#fdd 0 122.4px,#aaf 0 123.6px,#faa 0 124.8px,#fee 0 126px,#fff 0 127.2px,#fdd 0 128.4px,#fee 0 129.6px,#eef 0 130.8px,#fdd 0 132px,#aaf 0 133.2px,#fff 0 134.4px,#fdd 0 135.6px,#ccf 0 138px,#fcc 0 139.2px,#fee 0 140.4px,#bbf 0 142.8px,#f99 0 144px,#ccf 0 145.2px,#fff 0 147.6px,#ccf 0 151.2px,#eef 0 152.4px,#fee 0 153.6px,#fff 0 154.8px,#ccf 0 156px,#fff 0 157.2px,#99f 0 158.4px,#fee 0 159.6px,#fcc 0 160.8px,#f99 0 162px,#faa 0 163.2px,#fbb 0 164.4px,#ddf 0 165.6px,#88f 0 166.8px,#fff 0 168px,#fee 0 169.2px,#eef 0 170.4px,#ccf 0 171.6px,#fee 0 172.8px,#99f 0 174px,#fee 0 176.4px,#aaf 0 177.6px,#66f 0 178.8px,#ddf 0 180px,#eef 0 181.2px,#fff 0 182.4px,#fbb 0 183.6px,#fdd 0 184.8px,#ccf 0 186px,#aaf 0 187.2px,#fff 0 188.4px,#77f 0 189.6px,#fdd 0 190.8px,#aaf 0 192px,#ccf 0 193.2px,#fcc 0 194.4px,#f66 0 195.6px,#fee 0 196.8px,#fdd 0 198px,#88f 0 199.2px,#fee 0 200.4px,#ccf 0 201.6px,#fff 0 202.8px,#fcc 0 204px,#fdd 0 205.2px,#faa 0 206.4px,#ddf 0 207.6px,#fbb 0 208.8px,#fee 0 210px,#fff 0 211.2px,#eef 0 212.4px,#fcc 0 213.6px,#fff 0 214.8px,#fcc 0 216px,#fdd 0 217.2px,#eef 0 218.4px,#ddf 0 219.6px,#fff 0 220.8px,#eef 0 222px,#77f 0 223.2px,#fee 0 224.4px,#ccf 0 225.6px,#fff 0 226.8px,#77f 0 228px,#bbf 0 229.2px,#fbb 0 230.4px,#fee 0 232.8px,#99f 0 234px,#aaf 0 235.2px,#eef 0 236.4px,#f99 0 237.6px,#ccf 0 238.8px,#fdd 0 240px,#fbb 0 241.2px,#fdd 0 242.4px,#fee 0 243.6px,#fcc 0 244.8px,#fee 0 247.2px,#99f 0 248.4px,#ccf 0 249.6px,#fff 0 250.8px,#ccf 0 252px,#fdd 0 253.2px,#ddf 0 255.6px,#ccf 0 256.8px,#eef 0 258px,#fdd 0 259.2px,#fee 0 260.4px,#ddf 0 261.6px,#fee 0 262.8px,#fdd 0 264px,#aaf 0 265.2px,#fff 0 266.4px,#fdd 0 267.6px,#ddf 0 268.8px,#fff 0 270px,#eef 0 271.2px,#f88 0 272.4px,#fbb 0 273.6px,#eef 0 274.8px,#fff 0 276px,#fdd 0 278.4px,#fcc 0 279.6px,#77f 0 280.8px,#bbf 0 282px,#fcc 0 283.2px,#bbf 0 284.4px,#fdd 0 285.6px,#ccf 0 286.8px,#ddf 0 288px,#aaf 0 289.2px,#f88 0 290.4px,#fee 0 291.6px,#ddf 0 292.8px,#fff 0 294px,#bbf 0 295.2px,#99f 0 296.4px,#fdd 0 298.8px,#eef 0 299.8px,#ccf 0 301px,#fff 0 302.2px,#ccf 0 303.4px,#88f 0 304.6px,#fee 0 305.8px,#ccf 0 307px,#ddf 0 308.2px,#bbf 0 309.4px,#ccf 0 310.6px,#fdd 0 311.8px,#aaf 0 313px,#fcc 0 314.2px,#fbb 0 315.4px,#fee 0 317.8px,#ddf 0 319px,#fbb 0 320.2px,#99f 0 322.6px,#fff 0 325px,#99f 0 326.2px,#fbb 0 327.4px,#ddf 0 328.6px,#fcc 0 329.8px,#ddf 0 331px,#fee 0 332.2px,#ccf 0 333.4px,#aaf 0 334.6px,#88f 0 335.8px,#99f 0 337px,#fee 0 339.4px,#fdd 0 340.6px,#ddf 0 341.8px,#eef 0 343px,#fdd 0 344.2px,#ddf 0 345.4px,#aaf 0 346.6px,#fdd 0 347.8px,#fcc 0 349px,#ddf 0 350.2px,#fee 0 351.4px,#bbf 0 352.6px,#faa 0 353.8px,#fcc 0 355px,#bbf 0 356.2px,#ddf 0 357.4px,#f77 0 358.6px,#eef 0 359.8px,#ddf 0 361px,#44f 0 362.2px,#fff 0 363.4px,#fcc 0 364.6px,#fdd 0 365.8px,#ddf 0 367px,#fdd 0 368.2px,#fee 0 369.4px,#eef 0 370.6px,#fbb 0 371.8px,#f99 0 373px,#fee 0 374.2px,#aaf 0 375.4px,#99f 0 376.6px,#ccf 0 377.8px,#ddf 0 379px,#fee 0 380.2px,#ccf 0 381.4px,#fee 0 382.6px,#fcc 0 383.8px,#ddf 0 385px,#fcc 0 386.2px,#f88 0 387.4px,#fee 0 388.6px,#ddf 0 389.8px,#fee 0 392.2px,#aaf 0 393.4px,#fdd 0 394.6px,#ddf 0 395.8px,#fcc 0 398.2px,#99f 0 399.4px,#ccf 0 400.6px,#aaf 0 401.8px,#fff 0 403px,#fbb 0 404.2px,#ccf 0 405.4px,#ddf 0 406.6px,#fff 0 407.8px,#ccf 0 409px,#fdd 0 410.2px,#77f 0 411.4px,#fcc 0 412.6px,#fee 0 415px,#fdd 0 416.2px,#ccf 0 416.3px)"></div>
<div class="h" style="left:120.7px;top:907.01px;width:416.3px;height:12.62px;background:linear-gradient(90deg,#77f 0 1.2px,#fdd 0 2.4px,#fff 0 3.6px,#fee 0 4.8px,#fdd 0 6px,#fbb 0 7.2px,#fcc 0 8.4px,#f88 0 9.6px,#bbf 0 10.8px,#ccf 0 12px,#eef 0 14.4px,#bbf 0 15.6px,#fff 0 16.8px,#fdd 0 18px,#eef 0 19.2px,#f99 0 20.4px,#f77 0 21.6px,#faa 0 22.8px,#ddf 0 24px,#ccf 0 25.2px,#bbf 0 26.4px,#fee 0 27.6px,#bbf 0 28.8px,#fff 0 30px,#ccf 0 31.2px,#fff 0 32.4px,#fdd 0 33.6px,#eef 0 37.2px,#fbb 0 38.4px,#faa 0 39.6px,#f88 0 42px,#fee 0 43.2px,#88f 0 44.4px,#55f 0 45.6px,#fee 0 46.8px,#fdd 0 48px,#ccf 0 49.2px,#f77 0 50.4px,#fcc 0 51.6px,#ddf 0 52.8px,#fcc 0 54px,#f88 0 55.2px,#eef 0 56.4px,#99f 0 57.6px,#ccf 0 58.8px,#eef 0 60px,#ddf 0 61.2px,#bbf 0 62.4px,#fee 0 63.6px,#f77 0 64.8px,#bbf 0 66px,#fee 0 67.2px,#fcc 0 68.4px,#bbf 0 70.8px,#f77 0 72px,#fdd 0 73.2px,#aaf 0 74.4px,#fff 0 75.6px,#fbb 0 76.8px,#ddf 0 78px,#ccf 0 79.2px,#fcc 0 80.4px,#fff 0 81.6px,#bbf 0 82.8px,#ddf 0 84px,#fcc 0 86.4px,#faa 0 87.6px,#ddf 0 88.8px,#fdd 0 90px,#ddf 0 91.2px,#faa 0 92.4px,#bbf 0 93.6px,#fdd 0 96px,#f88 0 97.2px,#ccf 0 98.4px,#fdd 0 100.8px,#99f 0 102px,#ddf 0 103.2px,#fcc 0 104.4px,#fee 0 105.6px,#fcc 0 106.8px,#fbb 0 108px,#fff 0 109.2px,#ccf 0 110.4px,#aaf 0 111.6px,#ccf 0 112.8px,#fff 0 114px,#99f 0 115.2px,#eef 0 116.4px,#bbf 0 117.6px,#fee 0 120px,#ddf 0 121.2px,#fee 0 122.4px,#99f 0 123.6px,#fdd 0 124.8px,#22f 0 126px,#bbf 0 127.2px,#fdd 0 128.4px,#fee 0 129.6px,#fff 0 130.8px,#fdd 0 132px,#ccf 0 133.2px,#fff 0 134.4px,#ccf 0 136.8px,#fee 0 138px,#ccf 0 139.2px,#88f 0 140.4px,#fcc 0 141.6px,#fff 0 142.8px,#fee 0 145.2px,#aaf 0 146.4px,#fcc 0 147.6px,#99f 0 148.8px,#eef 0 150px,#fcc 0 152.4px,#fdd 0 153.6px,#eef 0 154.8px,#fee 0 156px,#ccf 0 157.2px,#fbb 0 158.4px,#eef 0 159.6px,#fff 0 160.8px,#fdd 0 162px,#88f 0 163.2px,#fdd 0 164.4px,#fee 0 166.8px,#bbf 0 168px,#aaf 0 169.2px,#fbb 0 170.4px,#f77 0 171.6px,#fee 0 172.8px,#aaf 0 174px,#77f 0 175.2px,#aaf 0 176.4px,#ccf 0 177.6px,#fdd 0 178.8px,#fbb 0 180px,#77f 0 181.2px,#ccf 0 182.4px,#fee 0 183.6px,#99f 0 184.8px,#faa 0 186px,#fff 0 187.2px,#eef 0 188.4px,#f88 0 189.6px,#fff 0 190.8px,#eef 0 192px,#fbb 0 193.2px,#eef 0 194.4px,#faa 0 195.6px,#fee 0 196.8px,#bbf 0 198px,#fee 0 199.2px,#bbf 0 200.4px,#fdd 0 201.6px,#aaf 0 202.8px,#eef 0 204px,#fcc 0 205.2px,#ccf 0 206.4px,#f88 0 207.6px,#fdd 0 208.8px,#fbb 0 210px,#ddf 0 211.2px,#fcc 0 212.4px,#fff 0 214.8px,#eef 0 216px,#ddf 0 217.2px,#eef 0 218.4px,#fdd 0 219.6px,#faa 0 220.8px,#bbf 0 222px,#aaf 0 223.2px,#fdd 0 224.4px,#fff 0 225.6px,#fee 0 226.8px,#ddf 0 228px,#ccf 0 229.2px,#fcc 0 230.4px,#fff 0 231.6px,#eef 0 232.8px,#fee 0 234px,#fdd 0 236.4px,#eef 0 237.6px,#bbf 0 238.8px,#eef 0 240px,#aaf 0 241.2px,#fee 0 242.4px,#fff 0 243.6px,#bbf 0 244.8px,#fee 0 246px,#fdd 0 247.2px,#ddf 0 248.4px,#faa 0 249.6px,#fcc 0 250.8px,#fdd 0 253.2px,#ccf 0 254.4px,#fff 0 255.6px,#fee 0 256.8px,#eef 0 258px,#99f 0 259.2px,#fdd 0 260.4px,#f99 0 261.6px,#ccf 0 262.8px,#fee 0 264px,#eef 0 265.2px,#fff 0 266.4px,#ccf 0 267.6px,#fff 0 268.8px,#eef 0 270px,#fff 0 271.2px,#fee 0 272.4px,#99f 0 273.6px,#fee 0 274.8px,#eef 0 276px,#faa 0 277.2px,#fee 0 278.4px,#ccf 0 279.6px,#fee 0 280.8px,#f99 0 282px,#fee 0 283.2px,#ccf 0 284.4px,#bbf 0 285.6px,#fcc 0 286.8px,#faa 0 288px,#fcc 0 289.2px,#fdd 0 290.4px,#aaf 0 291.6px,#ddf 0 292.8px,#fee 0 294px,#aaf 0 295.2px,#faa 0 296.4px,#fee 0 297.6px,#aaf 0 298.8px,#fee 0 299.8px,#66f 0 301px,#fee 0 302.2px,#99f 0 303.4px,#ddf 0 305.8px,#fdd 0 307px,#fbb 0 308.2px,#ccf 0 309.4px,#88f 0 310.6px,#ccf 0 311.8px,#f99 0 313px,#fff 0 314.2px,#bbf 0 315.4px,#fff 0 316.6px,#fdd 0 317.8px,#aaf 0 319px,#fee 0 320.2px,#eef 0 321.4px,#bbf 0 323.8px,#fdd 0 325px,#ddf 0 326.2px,#fbb 0 328.6px,#ccf 0 329.8px,#faa 0 331px,#fff 0 332.2px,#fcc 0 333.4px,#fff 0 334.6px,#fcc 0 335.8px,#ddf 0 337px,#ccf 0 338.2px,#ddf 0 339.4px,#eef 0 340.6px,#fdd 0 341.8px,#ddf 0 343px,#bbf 0 344.2px,#ccf 0 345.4px,#fbb 0 347.8px,#66f 0 349px,#eef 0 350.2px,#f88 0 351.4px,#fee 0 352.6px,#fbb 0 353.8px,#ddf 0 355px,#fbb 0 356.2px,#eef 0 357.4px,#fff 0 358.6px,#fee 0 359.8px,#fdd 0 361px,#eef 0 362.2px,#fbb 0 363.4px,#88f 0 364.6px,#bbf 0 365.8px,#fff 0 367px,#eef 0 368.2px,#fcc 0 369.4px,#ccf 0 370.6px,#fbb 0 371.8px,#ccf 0 373px,#eef 0 374.2px,#bbf 0 375.4px,#fee 0 376.6px,#ddf 0 377.8px,#fff 0 380.2px,#fdd 0 381.4px,#fbb 0 382.6px,#fdd 0 383.8px,#fff 0 385px,#fdd 0 386.2px,#88f 0 387.4px,#eef 0 388.6px,#ccf 0 393.4px,#ddf 0 394.6px,#fee 0 395.8px,#fff 0 397px,#aaf 0 398.2px,#fdd 0 400.6px,#aaf 0 401.8px,#fdd 0 403px,#f77 0 404.2px,#fbb 0 405.4px,#fee 0 406.6px,#fdd 0 407.8px,#99f 0 409px,#fdd 0 410.2px,#fee 0 415px,#fdd 0 416.2px,#fee 0 416.3px)"></div>
<div class="h" style="left:120.7px;top:919.58px;width:416.3px;height:12.62px;background:linear-gradient(90deg,#fcc 0 1.2px,#77f 0 2.4px,#eef 0 3.6px,#fbb 0 4.8px,#fcc 0 8.4px,#fbb 0 9.6px,#faa 0 10.8px,#fbb 0 12px,#aaf 0 13.2px,#fcc 0 14.4px,#fee 0 15.6px,#fdd 0 16.8px,#fcc 0 18px,#fee 0 19.2px,#eef 0 20.4px,#fcc 0 21.6px,#eef 0 22.8px,#99f 0 24px,#fdd 0 25.2px,#ddf 0 26.4px,#f99 0 27.6px,#fee 0 30px,#ddf 0 32.4px,#fff 0 33.6px,#fdd 0 34.8px,#ddf 0 36px,#77f 0 37.2px,#fee 0 38.4px,#fdd 0 39.6px,#ddf 0 40.8px,#fff 0 42px,#fcc 0 43.2px,#ddf 0 44.4px,#fdd 0 45.6px,#ccf 0 46.8px,#fff 0 48px,#ddf 0 49.2px,#fff 0 50.4px,#faa 0 51.6px,#ddf 0 52.8px,#faa 0 54px,#fdd 0 55.2px,#bbf 0 56.4px,#eef 0 57.6px,#ddf 0 58.8px,#fbb 0 60px,#fcc 0 61.2px,#88f 0 62.4px,#fbb 0 63.6px,#eef 0 64.8px,#ccf 0 66px,#fcc 0 67.2px,#fdd 0 68.4px,#ddf 0 69.6px,#fcc 0 70.8px,#f88 0 72px,#aaf 0 73.2px,#ccf 0 74.4px,#bbf 0 75.6px,#faa 0 76.8px,#aaf 0 78px,#eef 0 79.2px,#fff 0 80.4px,#bbf 0 81.6px,#fee 0 82.8px,#fdd 0 84px,#ddf 0 85.2px,#fee 0 86.4px,#fdd 0 87.6px,#fbb 0 88.8px,#fee 0 90px,#eef 0 91.2px,#ddf 0 93.6px,#bbf 0 94.8px,#aaf 0 96px,#bbf 0 97.2px,#fee 0 99.6px,#fcc 0 100.8px,#fdd 0 102px,#f99 0 103.2px,#fff 0 104.4px,#fee 0 105.6px,#faa 0 106.8px,#bbf 0 108px,#ddf 0 109.2px,#fee 0 110.4px,#fcc 0 111.6px,#99f 0 112.8px,#bbf 0 114px,#fdd 0 115.2px,#aaf 0 116.4px,#99f 0 117.6px,#fcc 0 118.8px,#fbb 0 121.2px,#fdd 0 122.4px,#bbf 0 123.6px,#ddf 0 126px,#fee 0 127.2px,#fff 0 128.4px,#fdd 0 129.6px,#fcc 0 130.8px,#ddf 0 132px,#bbf 0 134.4px,#fdd 0 135.6px,#eef 0 136.8px,#fff 0 138px,#fdd 0 139.2px,#ddf 0 140.4px,#fee 0 141.6px,#fff 0 142.8px,#aaf 0 144px,#fcc 0 145.2px,#fee 0 146.4px,#fdd 0 148.8px,#fbb 0 150px,#fee 0 152.4px,#ccf 0 153.6px,#aaf 0 154.8px,#fdd 0 156px,#bbf 0 157.2px,#fcc 0 158.4px,#f88 0 159.6px,#fee 0 160.8px,#99f 0 162px,#bbf 0 163.2px,#eef 0 164.4px,#fbb 0 165.6px,#88f 0 166.8px,#fee 0 168px,#fdd 0 169.2px,#bbf 0 170.4px,#fdd 0 172.8px,#fff 0 174px,#fbb 0 175.2px,#f88 0 176.4px,#bbf 0 177.6px,#eef 0 178.8px,#fdd 0 180px,#bbf 0 181.2px,#99f 0 182.4px,#bbf 0 183.6px,#eef 0 184.8px,#fff 0 186px,#fcc 0 187.2px,#fee 0 188.4px,#faa 0 189.6px,#ccf 0 190.8px,#fee 0 192px,#ddf 0 193.2px,#faa 0 194.4px,#eef 0 195.6px,#bbf 0 196.8px,#fee 0 199.2px,#ddf 0 200.4px,#fdd 0 201.6px,#aaf 0 202.8px,#fff 0 204px,#faa 0 205.2px,#f77 0 206.4px,#ddf 0 207.6px,#fee 0 208.8px,#fbb 0 210px,#aaf 0 211.2px,#ddf 0 212.4px,#ccf 0 213.6px,#fbb 0 214.8px,#ddf 0 216px,#fdd 0 217.2px,#eef 0 218.4px,#fcc 0 219.6px,#fdd 0 220.8px,#fff 0 222px,#fdd 0 223.2px,#f77 0 224.4px,#fee 0 225.6px,#fcc 0 226.8px,#bbf 0 228px,#f66 0 229.2px,#eef 0 230.4px,#fcc 0 231.6px,#fbb 0 232.8px,#fcc 0 234px,#ccf 0 235.2px,#fcc 0 236.4px,#f88 0 237.6px,#ddf 0 238.8px,#ccf 0 240px,#eef 0 241.2px,#fff 0 242.4px,#fee 0 243.6px,#fbb 0 244.8px,#fff 0 246px,#eef 0 247.2px,#ccf 0 249.6px,#fee 0 250.8px,#fff 0 252px,#fee 0 254.4px,#fbb 0 255.6px,#fdd 0 256.8px,#fcc 0 259.2px,#fee 0 260.4px,#eef 0 261.6px,#ddf 0 262.8px,#fcc 0 264px,#eef 0 265.2px,#fdd 0 266.4px,#ccf 0 267.6px,#fbb 0 268.8px,#fee 0 271.2px,#fdd 0 272.4px,#ccf 0 273.6px,#fff 0 274.8px,#ddf 0 276px,#fff 0 277.2px,#fcc 0 278.4px,#fee 0 280.8px,#eef 0 282px,#ccf 0 283.2px,#eef 0 284.4px,#fdd 0 285.6px,#fee 0 286.8px,#fbb 0 288px,#fff 0 289.2px,#bbf 0 290.4px,#ddf 0 291.6px,#fee 0 292.8px,#fbb 0 294px,#fee 0 295.2px,#fff 0 296.4px,#fcc 0 297.6px,#eef 0 298.8px,#ccf 0 299.8px,#eef 0 301px,#ccf 0 302.2px,#eef 0 303.4px,#aaf 0 304.6px,#ccf 0 305.8px,#aaf 0 307px,#fbb 0 308.2px,#ddf 0 309.4px,#eef 0 310.6px,#88f 0 311.8px,#f99 0 313px,#fcc 0 314.2px,#fff 0 315.4px,#eef 0 316.6px,#fcc 0 317.8px,#fee 0 319px,#aaf 0 321.4px,#fff 0 323.8px,#ccf 0 325px,#66f 0 326.2px,#77f 0 327.4px,#fbb 0 328.6px,#bbf 0 329.8px,#ccf 0 331px,#fff 0 332.2px,#fee 0 333.4px,#bbf 0 334.6px,#fee 0 335.8px,#ccf 0 337px,#eef 0 338.2px,#fff 0 339.4px,#eef 0 340.6px,#ddf 0 341.8px,#fff 0 343px,#fbb 0 344.2px,#fff 0 345.4px,#ddf 0 346.6px,#aaf 0 347.8px,#fdd 0 349px,#99f 0 350.2px,#fee 0 351.4px,#aaf 0 352.6px,#fdd 0 353.8px,#fee 0 355px,#fcc 0 356.2px,#ccf 0 359.8px,#faa 0 361px,#eef 0 362.2px,#bbf 0 363.4px,#fbb 0 364.6px,#88f 0 365.8px,#fcc 0 367px,#f99 0 368.2px,#fee 0 369.4px,#ddf 0 370.6px,#fdd 0 371.8px,#eef 0 373px,#ddf 0 374.2px,#fff 0 376.6px,#eef 0 377.8px,#fcc 0 379px,#fdd 0 380.2px,#eef 0 381.4px,#ccf 0 382.6px,#fff 0 383.8px,#bbf 0 385px,#ddf 0 386.2px,#ccf 0 387.4px,#eef 0 388.6px,#fff 0 389.8px,#bbf 0 391px,#fdd 0 392.2px,#aaf 0 393.4px,#ddf 0 395.8px,#eef 0 397px,#fff 0 398.2px,#fee 0 400.6px,#fff 0 401.8px,#fdd 0 403px,#fff 0 404.2px,#ddf 0 405.4px,#fff 0 406.6px,#fee 0 410.2px,#fff 0 411.4px,#fbb 0 412.6px,#99f 0 413.8px,#fee 0 416.2px,#eef 0 416.3px)"></div>
<div class="h" style="left:120.7px;top:932.15px;width:416.3px;height:12.62px;background:linear-gradient(90deg,#fdd 0 1.2px,#fcc 0 2.4px,#fee 0 3.6px,#fdd 0 4.8px,#faa 0 6px,#fdd 0 8.4px,#fff 0 9.6px,#ccf 0 10.8px,#fdd 0 12px,#99f 0 14.4px,#bbf 0 15.6px,#fbb 0 16.8px,#fdd 0 18px,#aaf 0 19.2px,#faa 0 20.4px,#aaf 0 21.6px,#fdd 0 22.8px,#f99 0 24px,#fee 0 25.2px,#bbf 0 26.4px,#fee 0 27.6px,#fcc 0 28.8px,#bbf 0 30px,#faa 0 31.2px,#fbb 0 32.4px,#eef 0 33.6px,#bbf 0 34.8px,#fff 0 36px,#fcc 0 38.4px,#fdd 0 39.6px,#f88 0 40.8px,#ddf 0 42px,#eef 0 43.2px,#fbb 0 44.4px,#fcc 0 45.6px,#fee 0 46.8px,#fff 0 48px,#fcc 0 49.2px,#fbb 0 50.4px,#ddf 0 52.8px,#fff 0 54px,#fbb 0 55.2px,#eef 0 56.4px,#fee 0 57.6px,#fdd 0 58.8px,#f88 0 60px,#88f 0 61.2px,#eef 0 62.4px,#faa 0 63.6px,#fdd 0 64.8px,#fee 0 66px,#eef 0 67.2px,#faa 0 68.4px,#fcc 0 69.6px,#eef 0 70.8px,#fee 0 72px,#fcc 0 74.4px,#f99 0 75.6px,#fee 0 78px,#fff 0 79.2px,#fdd 0 80.4px,#fcc 0 81.6px,#faa 0 82.8px,#ccf 0 84px,#ddf 0 85.2px,#fee 0 86.4px,#ccf 0 87.6px,#fff 0 88.8px,#eef 0 90px,#bbf 0 91.2px,#fff 0 92.4px,#99f 0 93.6px,#fee 0 94.8px,#99f 0 96px,#bbf 0 97.2px,#fdd 0 98.4px,#fee 0 99.6px,#fcc 0 100.8px,#fbb 0 102px,#ccf 0 103.2px,#aaf 0 104.4px,#ccf 0 105.6px,#99f 0 106.8px,#f77 0 108px,#fbb 0 109.2px,#eef 0 110.4px,#fff 0 111.6px,#fbb 0 112.8px,#fff 0 115.2px,#fee 0 117.6px,#eef 0 118.8px,#f77 0 120px,#ccf 0 121.2px,#fee 0 123.6px,#fcc 0 124.8px,#fbb 0 126px,#fdd 0 127.2px,#eef 0 128.4px,#fdd 0 129.6px,#bbf 0 130.8px,#fbb 0 132px,#fff 0 133.2px,#f99 0 134.4px,#ccf 0 135.6px,#aaf 0 136.8px,#fff 0 138px,#fcc 0 139.2px,#eef 0 140.4px,#fff 0 141.6px,#aaf 0 142.8px,#ddf 0 144px,#f88 0 145.2px,#fff 0 146.4px,#aaf 0 147.6px,#eef 0 148.8px,#fee 0 150px,#ddf 0 151.2px,#eef 0 152.4px,#77f 0 153.6px,#faa 0 154.8px,#bbf 0 156px,#fdd 0 157.2px,#fbb 0 158.4px,#fee 0 159.6px,#fff 0 160.8px,#fee 0 163.2px,#faa 0 164.4px,#bbf 0 165.6px,#ddf 0 169.2px,#fdd 0 170.4px,#faa 0 171.6px,#ccf 0 172.8px,#fdd 0 175.2px,#fee 0 176.4px,#faa 0 177.6px,#ccf 0 178.8px,#fbb 0 180px,#fee 0 181.2px,#bbf 0 182.4px,#faa 0 183.6px,#eef 0 186px,#fee 0 188.4px,#faa 0 189.6px,#99f 0 190.8px,#eef 0 192px,#ccf 0 193.2px,#fcc 0 194.4px,#fbb 0 195.6px,#ddf 0 196.8px,#fee 0 198px,#ddf 0 199.2px,#fee 0 200.4px,#ccf 0 201.6px,#fdd 0 202.8px,#f99 0 204px,#66f 0 205.2px,#fff 0 206.4px,#fee 0 207.6px,#ddf 0 208.8px,#fcc 0 210px,#fbb 0 211.2px,#fee 0 212.4px,#ddf 0 213.6px,#aaf 0 214.8px,#f99 0 216px,#fff 0 217.2px,#ddf 0 218.4px,#fdd 0 219.6px,#fcc 0 222px,#faa 0 223.2px,#f99 0 224.4px,#ccf 0 225.6px,#ddf 0 226.8px,#fff 0 228px,#faa 0 229.2px,#fee 0 230.4px,#eef 0 231.6px,#fdd 0 232.8px,#fcc 0 234px,#ddf 0 235.2px,#fff 0 236.4px,#eef 0 237.6px,#fdd 0 238.8px,#eef 0 240px,#fbb 0 241.2px,#faa 0 242.4px,#fff 0 243.6px,#fcc 0 244.8px,#ddf 0 247.2px,#f99 0 248.4px,#fcc 0 250.8px,#99f 0 252px,#ddf 0 253.2px,#f99 0 254.4px,#fdd 0 256.8px,#fbb 0 258px,#fee 0 259.2px,#eef 0 260.4px,#ddf 0 261.6px,#fdd 0 262.8px,#bbf 0 265.2px,#77f 0 266.4px,#fee 0 267.6px,#eef 0 268.8px,#bbf 0 270px,#fee 0 271.2px,#88f 0 272.4px,#fdd 0 273.6px,#fee 0 274.8px,#ddf 0 276px,#fcc 0 277.2px,#fff 0 278.4px,#99f 0 279.6px,#fee 0 280.8px,#f88 0 282px,#fcc 0 283.2px,#f88 0 284.4px,#fcc 0 285.6px,#ccf 0 286.8px,#fdd 0 288px,#ddf 0 289.2px,#eef 0 290.4px,#ddf 0 291.6px,#fcc 0 292.8px,#fdd 0 294px,#fff 0 295.2px,#fbb 0 296.4px,#fff 0 297.6px,#ccf 0 298.8px,#fdd 0 299.8px,#fcc 0 301px,#fee 0 302.2px,#bbf 0 304.6px,#fee 0 305.8px,#99f 0 307px,#aaf 0 308.2px,#88f 0 309.4px,#fff 0 310.6px,#fcc 0 311.8px,#ddf 0 313px,#eef 0 315.4px,#fee 0 316.6px,#88f 0 317.8px,#fcc 0 319px,#fff 0 321.4px,#fee 0 322.6px,#99f 0 323.8px,#bbf 0 327.4px,#fff 0 328.6px,#aaf 0 329.8px,#f88 0 331px,#fdd 0 332.2px,#f88 0 333.4px,#eef 0 334.6px,#ccf 0 335.8px,#fff 0 337px,#fdd 0 338.2px,#eef 0 339.4px,#fbb 0 340.6px,#fff 0 343px,#eef 0 345.4px,#faa 0 346.6px,#fff 0 347.8px,#fee 0 349px,#ddf 0 350.2px,#44f 0 351.4px,#fff 0 352.6px,#fdd 0 353.8px,#77f 0 355px,#eef 0 356.2px,#fee 0 357.4px,#ddf 0 358.6px,#fdd 0 362.2px,#fee 0 363.4px,#eef 0 365.8px,#faa 0 367px,#aaf 0 368.2px,#faa 0 369.4px,#eef 0 370.6px,#aaf 0 371.8px,#fbb 0 373px,#fff 0 374.2px,#faa 0 375.4px,#ddf 0 377.8px,#bbf 0 379px,#fcc 0 380.2px,#ddf 0 381.4px,#fff 0 382.6px,#ccf 0 383.8px,#eef 0 385px,#fcc 0 386.2px,#bbf 0 387.4px,#fcc 0 388.6px,#66f 0 389.8px,#fcc 0 391px,#ddf 0 392.2px,#bbf 0 393.4px,#aaf 0 395.8px,#ddf 0 397px,#eef 0 398.2px,#ddf 0 399.4px,#fcc 0 400.6px,#f88 0 401.8px,#fff 0 403px,#faa 0 404.2px,#88f 0 405.4px,#fee 0 407.8px,#fcc 0 409px,#fdd 0 411.4px,#fff 0 412.6px,#eef 0 413.8px,#aaf 0 415px,#fee 0 416.2px,#ddf 0 416.3px)"></div>
<div class="h" style="left:120.7px;top:944.73px;width:416.3px;height:12.62px;background:linear-gradient(90deg,#ddf 0 1.2px,#fbb 0 2.4px,#99f 0 3.6px,#ddf 0 4.8px,#fff 0 6px,#ddf 0 7.2px,#99f 0 8.4px,#fcc 0 10.8px,#fdd 0 12px,#fcc 0 13.2px,#ddf 0 14.4px,#fee 0 15.6px,#ddf 0 16.8px,#fcc 0 18px,#77f 0 19.2px,#fcc 0 21.6px,#fbb 0 22.8px,#fff 0 24px,#ddf 0 25.2px,#eef 0 27.6px,#ccf 0 28.8px,#fcc 0 30px,#fbb 0 31.2px,#ccf 0 32.4px,#fbb 0 33.6px,#ddf 0 34.8px,#fcc 0 36px,#fee 0 38.4px,#eef 0 40.8px,#fff 0 43.2px,#fcc 0 44.4px,#fff 0 45.6px,#fee 0 48px,#bbf 0 49.2px,#ccf 0 50.4px,#fdd 0 52.8px,#eef 0 54px,#fdd 0 55.2px,#eef 0 56.4px,#fff 0 57.6px,#bbf 0 58.8px,#faa 0 60px,#fff 0 61.2px,#fdd 0 62.4px,#fee 0 64.8px,#fdd 0 66px,#fbb 0 67.2px,#eef 0 68.4px,#fff 0 69.6px,#fee 0 70.8px,#faa 0 72px,#fff 0 73.2px,#fbb 0 74.4px,#bbf 0 75.6px,#ccf 0 76.8px,#fbb 0 78px,#fee 0 79.2px,#fbb 0 80.4px,#fee 0 81.6px,#fff 0 82.8px,#fbb 0 84px,#faa 0 85.2px,#77f 0 86.4px,#fdd 0 87.6px,#bbf 0 88.8px,#fbb 0 90px,#fdd 0 91.2px,#aaf 0 92.4px,#fbb 0 93.6px,#fee 0 96px,#fdd 0 97.2px,#fbb 0 98.4px,#fff 0 99.6px,#fbb 0 100.8px,#66f 0 102px,#fff 0 104.4px,#ccf 0 105.6px,#fcc 0 106.8px,#fdd 0 108px,#aaf 0 109.2px,#ddf 0 110.4px,#fcc 0 111.6px,#f99 0 112.8px,#faa 0 114px,#fff 0 115.2px,#fdd 0 116.4px,#fee 0 118.8px,#fdd 0 120px,#fee 0 121.2px,#aaf 0 122.4px,#faa 0 123.6px,#ccf 0 124.8px,#fff 0 126px,#fdd 0 127.2px,#fff 0 129.6px,#faa 0 130.8px,#99f 0 132px,#fcc 0 133.2px,#fff 0 135.6px,#fbb 0 136.8px,#ccf 0 138px,#fcc 0 139.2px,#aaf 0 140.4px,#fdd 0 141.6px,#fff 0 144px,#faa 0 145.2px,#fff 0 146.4px,#fee 0 147.6px,#fdd 0 151.2px,#fff 0 152.4px,#bbf 0 153.6px,#ddf 0 154.8px,#fff 0 156px,#ccf 0 157.2px,#fff 0 158.4px,#ddf 0 160.8px,#fcc 0 162px,#eef 0 163.2px,#fff 0 164.4px,#bbf 0 165.6px,#fdd 0 166.8px,#fee 0 168px,#f55 0 169.2px,#fdd 0 170.4px,#ccf 0 172.8px,#fbb 0 174px,#ccf 0 175.2px,#fff 0 176.4px,#eef 0 177.6px,#ddf 0 178.8px,#f99 0 180px,#fdd 0 181.2px,#eef 0 182.4px,#fbb 0 183.6px,#fcc 0 184.8px,#88f 0 186px,#fbb 0 187.2px,#fee 0 188.4px,#ccf 0 189.6px,#f99 0 190.8px,#faa 0 192px,#bbf 0 193.2px,#fee 0 195.6px,#fcc 0 196.8px,#fff 0 198px,#fee 0 199.2px,#f99 0 200.4px,#fdd 0 201.6px,#eef 0 202.8px,#ccf 0 204px,#fee 0 205.2px,#eef 0 206.4px,#bbf 0 207.6px,#fee 0 208.8px,#fbb 0 210px,#fee 0 211.2px,#ddf 0 212.4px,#eef 0 213.6px,#ddf 0 216px,#eef 0 217.2px,#f77 0 218.4px,#fee 0 219.6px,#ddf 0 220.8px,#fee 0 222px,#fff 0 224.4px,#ddf 0 225.6px,#fff 0 226.8px,#99f 0 228px,#fee 0 229.2px,#fff 0 230.4px,#ccf 0 231.6px,#f99 0 232.8px,#eef 0 234px,#fee 0 236.4px,#faa 0 237.6px,#ccf 0 238.8px,#bbf 0 240px,#aaf 0 241.2px,#fff 0 242.4px,#fee 0 243.6px,#fdd 0 246px,#fbb 0 247.2px,#fff 0 248.4px,#ddf 0 249.6px,#ccf 0 250.8px,#fff 0 252px,#ddf 0 253.2px,#fff 0 254.4px,#fcc 0 255.6px,#fee 0 256.8px,#ddf 0 258px,#fdd 0 259.2px,#f99 0 260.4px,#eef 0 261.6px,#faa 0 262.8px,#ddf 0 265.2px,#fcc 0 266.4px,#fbb 0 267.6px,#eef 0 268.8px,#fcc 0 270px,#55f 0 271.2px,#66f 0 272.4px,#ddf 0 273.6px,#fff 0 276px,#fdd 0 277.2px,#eef 0 278.4px,#ccf 0 279.6px,#fbb 0 282px,#99f 0 283.2px,#eef 0 285.6px,#99f 0 286.8px,#faa 0 288px,#fdd 0 289.2px,#fff 0 290.4px,#fbb 0 291.6px,#99f 0 292.8px,#eef 0 294px,#99f 0 295.2px,#fdd 0 296.4px,#fff 0 297.6px,#bbf 0 298.8px,#fdd 0 299.8px,#fff 0 302.2px,#fdd 0 303.4px,#bbf 0 304.6px,#fdd 0 305.8px,#fee 0 307px,#99f 0 308.2px,#fff 0 309.4px,#88f 0 310.6px,#bbf 0 311.8px,#f99 0 313px,#fdd 0 315.4px,#fbb 0 316.6px,#aaf 0 317.8px,#fee 0 319px,#ddf 0 320.2px,#fff 0 321.4px,#ccf 0 322.6px,#fbb 0 323.8px,#eef 0 325px,#fcc 0 326.2px,#fdd 0 327.4px,#fff 0 328.6px,#ddf 0 331px,#bbf 0 332.2px,#fdd 0 333.4px,#fbb 0 334.6px,#fff 0 335.8px,#44f 0 337px,#fee 0 338.2px,#eef 0 339.4px,#ddf 0 341.8px,#ccf 0 343px,#fcc 0 344.2px,#ddf 0 345.4px,#aaf 0 346.6px,#99f 0 347.8px,#fff 0 349px,#f99 0 351.4px,#ccf 0 352.6px,#eef 0 353.8px,#88f 0 355px,#ddf 0 356.2px,#eef 0 357.4px,#fdd 0 358.6px,#eef 0 361px,#ccf 0 362.2px,#f99 0 363.4px,#fcc 0 364.6px,#eef 0 367px,#ddf 0 368.2px,#fee 0 369.4px,#aaf 0 370.6px,#ddf 0 371.8px,#fcc 0 373px,#eef 0 374.2px,#fee 0 375.4px,#aaf 0 376.6px,#fff 0 377.8px,#fcc 0 379px,#eef 0 381.4px,#ddf 0 383.8px,#fdd 0 385px,#fee 0 386.2px,#aaf 0 387.4px,#ddf 0 388.6px,#eef 0 389.8px,#fff 0 391px,#ccf 0 392.2px,#66f 0 393.4px,#fff 0 395.8px,#bbf 0 397px,#ccf 0 398.2px,#fcc 0 399.4px,#ccf 0 400.6px,#fee 0 401.8px,#ddf 0 403px,#fee 0 404.2px,#fdd 0 405.4px,#fee 0 406.6px,#aaf 0 407.8px,#fff 0 409px,#fee 0 410.2px,#eef 0 412.6px,#bbf 0 413.8px,#fff 0 415px,#bbf 0 416.2px,#ccf 0 416.3px)"></div>
<div class="h" style="left:120.7px;top:957.3px;width:416.3px;height:12.62px;background:linear-gradient(90deg,#bbf 0 1.2px,#f88 0 2.4px,#fee 0 3.6px,#fff 0 4.8px,#eef 0 6px,#fdd 0 7.2px,#fff 0 8.4px,#aaf 0 9.6px,#faa 0 10.8px,#fcc 0 12px,#ddf 0 14.4px,#bbf 0 15.6px,#ccf 0 16.8px,#faa 0 18px,#ccf 0 19.2px,#fcc 0 21.6px,#fdd 0 24px,#fff 0 25.2px,#99f 0 26.4px,#fee 0 27.6px,#fbb 0 28.8px,#fee 0 30px,#ddf 0 31.2px,#eef 0 32.4px,#fee 0 33.6px,#fdd 0 34.8px,#fee 0 36px,#fbb 0 37.2px,#fff 0 38.4px,#fee 0 40.8px,#eef 0 42px,#fff 0 43.2px,#ccf 0 44.4px,#fff 0 45.6px,#fbb 0 46.8px,#fee 0 48px,#fdd 0 49.2px,#faa 0 50.4px,#fcc 0 51.6px,#fee 0 52.8px,#fdd 0 54px,#88f 0 55.2px,#bbf 0 56.4px,#fbb 0 57.6px,#fcc 0 58.8px,#f77 0 60px,#fff 0 61.2px,#fdd 0 62.4px,#ddf 0 63.6px,#faa 0 64.8px,#99f 0 66px,#fbb 0 67.2px,#fee 0 68.4px,#ddf 0 69.6px,#ccf 0 70.8px,#faa 0 72px,#f77 0 73.2px,#faa 0 74.4px,#fee 0 76.8px,#fdd 0 78px,#fcc 0 80.4px,#f88 0 81.6px,#ccf 0 82.8px,#fdd 0 84px,#fee 0 85.2px,#ccf 0 86.4px,#fcc 0 87.6px,#99f 0 88.8px,#ddf 0 90px,#77f 0 91.2px,#f99 0 92.4px,#ccf 0 93.6px,#fcc 0 94.8px,#eef 0 96px,#fcc 0 97.2px,#bbf 0 98.4px,#fdd 0 99.6px,#fcc 0 100.8px,#fdd 0 102px,#fee 0 103.2px,#eef 0 104.4px,#f99 0 105.6px,#ccf 0 106.8px,#eef 0 108px,#fff 0 109.2px,#fcc 0 110.4px,#eef 0 111.6px,#fdd 0 112.8px,#bbf 0 114px,#fcc 0 115.2px,#eef 0 116.4px,#ddf 0 117.6px,#fee 0 118.8px,#ddf 0 120px,#eef 0 122.4px,#fdd 0 124.8px,#ccf 0 126px,#ddf 0 127.2px,#bbf 0 128.4px,#ddf 0 129.6px,#bbf 0 130.8px,#fee 0 132px,#fff 0 133.2px,#fbb 0 134.4px,#fdd 0 135.6px,#fff 0 136.8px,#ddf 0 138px,#99f 0 139.2px,#bbf 0 140.4px,#faa 0 144px,#fcc 0 145.2px,#eef 0 146.4px,#ccf 0 147.6px,#99f 0 148.8px,#ccf 0 150px,#fff 0 151.2px,#eef 0 152.4px,#ccf 0 153.6px,#aaf 0 154.8px,#fee 0 156px,#bbf 0 158.4px,#fdd 0 159.6px,#fee 0 160.8px,#fdd 0 162px,#fee 0 163.2px,#aaf 0 164.4px,#fdd 0 166.8px,#fcc 0 168px,#fdd 0 169.2px,#88f 0 170.4px,#fee 0 171.6px,#fcc 0 172.8px,#eef 0 174px,#faa 0 175.2px,#fcc 0 176.4px,#ccf 0 177.6px,#ddf 0 180px,#fee 0 181.2px,#fff 0 182.4px,#aaf 0 183.6px,#bbf 0 184.8px,#faa 0 186px,#fee 0 187.2px,#ddf 0 188.4px,#fbb 0 189.6px,#fdd 0 190.8px,#ccf 0 192px,#fbb 0 193.2px,#faa 0 194.4px,#ccf 0 196.8px,#f99 0 198px,#f88 0 199.2px,#fff 0 200.4px,#fee 0 201.6px,#faa 0 202.8px,#fff 0 204px,#fee 0 205.2px,#ddf 0 206.4px,#fdd 0 207.6px,#fcc 0 208.8px,#ddf 0 210px,#aaf 0 211.2px,#ddf 0 212.4px,#fbb 0 213.6px,#fee 0 214.8px,#fff 0 216px,#ddf 0 217.2px,#fee 0 218.4px,#ddf 0 219.6px,#fcc 0 220.8px,#fee 0 222px,#fdd 0 223.2px,#eef 0 224.4px,#fbb 0 225.6px,#ccf 0 226.8px,#fdd 0 229.2px,#fee 0 230.4px,#eef 0 232.8px,#fee 0 234px,#ddf 0 235.2px,#fee 0 236.4px,#fbb 0 237.6px,#fee 0 238.8px,#ccf 0 242.4px,#fbb 0 243.6px,#fdd 0 244.8px,#fee 0 246px,#f99 0 247.2px,#ddf 0 248.4px,#fee 0 249.6px,#eef 0 250.8px,#fff 0 252px,#fdd 0 254.4px,#fff 0 256.8px,#ccf 0 258px,#fdd 0 259.2px,#fbb 0 260.4px,#ddf 0 261.6px,#fdd 0 262.8px,#fbb 0 265.2px,#faa 0 266.4px,#f77 0 267.6px,#fcc 0 268.8px,#ccf 0 270px,#fff 0 272.4px,#aaf 0 273.6px,#eef 0 274.8px,#fcc 0 276px,#eef 0 278.4px,#aaf 0 279.6px,#fbb 0 280.8px,#faa 0 282px,#fee 0 283.2px,#fff 0 284.4px,#fee 0 285.6px,#fdd 0 286.8px,#f66 0 288px,#faa 0 289.2px,#fee 0 290.4px,#fcc 0 291.6px,#fee 0 292.8px,#faa 0 294px,#ddf 0 296.4px,#fcc 0 297.6px,#faa 0 298.8px,#f99 0 299.8px,#bbf 0 301px,#ddf 0 302.2px,#faa 0 303.4px,#aaf 0 304.6px,#fdd 0 305.8px,#ddf 0 307px,#aaf 0 308.2px,#f66 0 309.4px,#fdd 0 311.8px,#fff 0 313px,#fee 0 314.2px,#ddf 0 315.4px,#bbf 0 316.6px,#fdd 0 317.8px,#fcc 0 319px,#fdd 0 320.2px,#aaf 0 321.4px,#fcc 0 322.6px,#fee 0 326.2px,#22f 0 327.4px,#aaf 0 328.6px,#eef 0 331px,#fee 0 332.2px,#fff 0 333.4px,#ddf 0 334.6px,#eef 0 337px,#ccf 0 338.2px,#fbb 0 339.4px,#aaf 0 340.6px,#ccf 0 341.8px,#ddf 0 343px,#eef 0 344.2px,#ddf 0 345.4px,#ccf 0 346.6px,#faa 0 347.8px,#ccf 0 349px,#bbf 0 350.2px,#faa 0 351.4px,#eef 0 352.6px,#f77 0 353.8px,#eef 0 355px,#fdd 0 356.2px,#fff 0 357.4px,#ccf 0 358.6px,#88f 0 359.8px,#99f 0 361px,#fcc 0 362.2px,#bbf 0 363.4px,#ddf 0 364.6px,#fff 0 365.8px,#ddf 0 367px,#fcc 0 368.2px,#fee 0 369.4px,#eef 0 370.6px,#fcc 0 371.8px,#99f 0 373px,#fbb 0 374.2px,#ccf 0 376.6px,#bbf 0 377.8px,#fcc 0 379px,#f88 0 380.2px,#ccf 0 381.4px,#eef 0 382.6px,#fcc 0 383.8px,#eef 0 385px,#77f 0 386.2px,#99f 0 387.4px,#ccf 0 388.6px,#eef 0 389.8px,#ddf 0 391px,#fdd 0 392.2px,#fbb 0 393.4px,#44f 0 394.6px,#fff 0 395.8px,#eef 0 397px,#fdd 0 398.2px,#ddf 0 399.4px,#fee 0 401.8px,#ddf 0 403px,#eef 0 404.2px,#fff 0 405.4px,#fee 0 406.6px,#bbf 0 407.8px,#ddf 0 409px,#ccf 0 410.2px,#fdd 0 411.4px,#fee 0 412.6px,#fdd 0 413.8px,#aaf 0 415px,#fcc 0 416.2px,#ddf 0 416.3px)"></div>
<div class="h" style="left:120.7px;top:969.88px;width:416.3px;height:12.62px;background:linear-gradient(90deg,#fee 0 2.4px,#99f 0 3.6px,#eef 0 4.8px,#bbf 0 6px,#fdd 0 7.2px,#fff 0 8.4px,#fdd 0 12px,#fbb 0 13.2px,#bbf 0 14.4px,#fee 0 15.6px,#fbb 0 16.8px,#ddf 0 18px,#ccf 0 19.2px,#fee 0 20.4px,#f88 0 21.6px,#faa 0 22.8px,#ddf 0 24px,#faa 0 25.2px,#fee 0 27.6px,#ddf 0 28.8px,#eef 0 30px,#fcc 0 31.2px,#fff 0 32.4px,#fee 0 33.6px,#fbb 0 34.8px,#fff 0 36px,#fdd 0 37.2px,#fee 0 39.6px,#99f 0 40.8px,#fbb 0 42px,#faa 0 43.2px,#eef 0 44.4px,#fff 0 45.6px,#faa 0 48px,#fff 0 49.2px,#fee 0 55.2px,#fdd 0 56.4px,#fcc 0 57.6px,#bbf 0 58.8px,#ddf 0 60px,#fbb 0 61.2px,#fee 0 62.4px,#fff 0 63.6px,#fdd 0 64.8px,#f99 0 66px,#fff 0 67.2px,#fcc 0 68.4px,#fee 0 70.8px,#88f 0 72px,#eef 0 73.2px,#fcc 0 78px,#fee 0 80.4px,#fdd 0 81.6px,#aaf 0 82.8px,#fff 0 84px,#fbb 0 85.2px,#fcc 0 86.4px,#fbb 0 87.6px,#bbf 0 88.8px,#fff 0 90px,#ddf 0 91.2px,#aaf 0 92.4px,#f55 0 93.6px,#fbb 0 94.8px,#fff 0 96px,#bbf 0 97.2px,#fee 0 98.4px,#99f 0 99.6px,#faa 0 100.8px,#eef 0 102px,#aaf 0 103.2px,#fee 0 104.4px,#ccf 0 105.6px,#fee 0 106.8px,#fdd 0 108px,#fff 0 109.2px,#fbb 0 110.4px,#fdd 0 111.6px,#fee 0 112.8px,#ddf 0 114px,#fee 0 115.2px,#f99 0 116.4px,#eef 0 117.6px,#fcc 0 118.8px,#aaf 0 120px,#fcc 0 121.2px,#88f 0 122.4px,#fcc 0 123.6px,#fee 0 124.8px,#eef 0 126px,#fdd 0 127.2px,#ddf 0 128.4px,#aaf 0 129.6px,#faa 0 130.8px,#bbf 0 132px,#fdd 0 133.2px,#fff 0 134.4px,#bbf 0 135.6px,#fee 0 136.8px,#bbf 0 138px,#eef 0 139.2px,#ddf 0 140.4px,#fdd 0 141.6px,#fcc 0 142.8px,#fff 0 145.2px,#fbb 0 146.4px,#fee 0 147.6px,#fdd 0 148.8px,#bbf 0 150px,#fdd 0 152.4px,#aaf 0 153.6px,#eef 0 154.8px,#ccf 0 156px,#fff 0 157.2px,#fcc 0 158.4px,#fdd 0 159.6px,#ccf 0 160.8px,#eef 0 162px,#fee 0 163.2px,#f77 0 164.4px,#fcc 0 165.6px,#ccf 0 166.8px,#bbf 0 168px,#aaf 0 169.2px,#fee 0 170.4px,#99f 0 171.6px,#fdd 0 172.8px,#fff 0 174px,#fee 0 175.2px,#fff 0 176.4px,#fdd 0 177.6px,#eef 0 178.8px,#aaf 0 180px,#fbb 0 181.2px,#ddf 0 182.4px,#fee 0 183.6px,#fff 0 184.8px,#ddf 0 186px,#eef 0 187.2px,#aaf 0 188.4px,#88f 0 189.6px,#fcc 0 190.8px,#88f 0 192px,#ddf 0 193.2px,#fcc 0 194.4px,#fee 0 195.6px,#aaf 0 196.8px,#fbb 0 198px,#eef 0 199.2px,#88f 0 200.4px,#f99 0 201.6px,#fee 0 204px,#fdd 0 205.2px,#fee 0 206.4px,#ddf 0 207.6px,#fff 0 208.8px,#fdd 0 210px,#fee 0 212.4px,#66f 0 213.6px,#fcc 0 214.8px,#fee 0 216px,#ccf 0 217.2px,#fbb 0 218.4px,#fcc 0 219.6px,#fdd 0 220.8px,#fee 0 222px,#fff 0 223.2px,#faa 0 224.4px,#88f 0 225.6px,#f99 0 226.8px,#faa 0 228px,#fcc 0 229.2px,#88f 0 230.4px,#fbb 0 232.8px,#ccf 0 234px,#fbb 0 235.2px,#fcc 0 236.4px,#fbb 0 237.6px,#fdd 0 240px,#ddf 0 241.2px,#fee 0 242.4px,#aaf 0 243.6px,#f77 0 244.8px,#ccf 0 246px,#f99 0 247.2px,#fee 0 248.4px,#fbb 0 250.8px,#fdd 0 252px,#fee 0 253.2px,#fbb 0 254.4px,#eef 0 255.6px,#fff 0 256.8px,#f99 0 258px,#ddf 0 260.4px,#fee 0 261.6px,#ddf 0 262.8px,#fbb 0 265.2px,#fdd 0 266.4px,#fee 0 267.6px,#fdd 0 268.8px,#faa 0 270px,#fbb 0 271.2px,#fee 0 272.4px,#fbb 0 273.6px,#fff 0 274.8px,#ddf 0 276px,#aaf 0 277.2px,#ddf 0 278.4px,#fee 0 279.6px,#fcc 0 280.8px,#99f 0 282px,#ddf 0 283.2px,#fee 0 284.4px,#fbb 0 285.6px,#faa 0 286.8px,#fbb 0 288px,#fff 0 289.2px,#ddf 0 290.4px,#fbb 0 291.6px,#aaf 0 292.8px,#ccf 0 295.2px,#fee 0 297.6px,#fbb 0 298.8px,#fee 0 299.8px,#88f 0 302.2px,#eef 0 303.4px,#ccf 0 304.6px,#fee 0 305.8px,#f77 0 307px,#bbf 0 308.2px,#fff 0 309.4px,#99f 0 310.6px,#fff 0 313px,#77f 0 314.2px,#99f 0 315.4px,#eef 0 316.6px,#fff 0 317.8px,#99f 0 319px,#88f 0 320.2px,#faa 0 321.4px,#fcc 0 322.6px,#fdd 0 323.8px,#ccf 0 325px,#fee 0 326.2px,#aaf 0 327.4px,#fff 0 328.6px,#f88 0 329.8px,#eef 0 332.2px,#fff 0 333.4px,#bbf 0 334.6px,#fff 0 335.8px,#bbf 0 337px,#fff 0 338.2px,#fcc 0 339.4px,#fee 0 340.6px,#bbf 0 341.8px,#fff 0 343px,#eef 0 344.2px,#fee 0 345.4px,#faa 0 346.6px,#fff 0 347.8px,#eef 0 350.2px,#fee 0 351.4px,#99f 0 352.6px,#fee 0 353.8px,#77f 0 355px,#f88 0 356.2px,#fee 0 357.4px,#bbf 0 358.6px,#fbb 0 359.8px,#ddf 0 361px,#ccf 0 362.2px,#ddf 0 363.4px,#fff 0 364.6px,#fee 0 365.8px,#fff 0 367px,#55f 0 368.2px,#aaf 0 369.4px,#ccf 0 370.6px,#88f 0 371.8px,#ddf 0 373px,#fee 0 374.2px,#88f 0 375.4px,#aaf 0 376.6px,#bbf 0 377.8px,#88f 0 379px,#ddf 0 380.2px,#eef 0 381.4px,#ddf 0 385px,#fff 0 386.2px,#fee 0 387.4px,#88f 0 388.6px,#bbf 0 389.8px,#ddf 0 392.2px,#ccf 0 393.4px,#faa 0 394.6px,#fdd 0 395.8px,#ccf 0 397px,#fee 0 399.4px,#99f 0 400.6px,#eef 0 401.8px,#ccf 0 403px,#99f 0 404.2px,#f99 0 405.4px,#ccf 0 406.6px,#fee 0 407.8px,#fdd 0 409px,#eef 0 410.2px,#99f 0 411.4px,#faa 0 412.6px,#ddf 0 413.8px,#fbb 0 415px,#eef 0 416.2px,#fee 0 416.3px)"></div>
<div class="h" style="left:120.7px;top:982.45px;width:416.3px;height:12.62px;background:linear-gradient(90deg,#fee 0 1.2px,#bbf 0 2.4px,#fcc 0 3.6px,#ddf 0 6px,#eef 0 7.2px,#f77 0 8.4px,#fbb 0 9.6px,#fdd 0 10.8px,#fcc 0 12px,#fbb 0 13.2px,#fee 0 15.6px,#ddf 0 16.8px,#bbf 0 18px,#f99 0 19.2px,#fbb 0 20.4px,#f99 0 21.6px,#aaf 0 22.8px,#eef 0 24px,#fff 0 25.2px,#eef 0 26.4px,#fff 0 27.6px,#eef 0 28.8px,#fdd 0 31.2px,#f88 0 32.4px,#fbb 0 34.8px,#ccf 0 36px,#ddf 0 37.2px,#eef 0 38.4px,#fee 0 39.6px,#f99 0 40.8px,#fdd 0 42px,#bbf 0 43.2px,#aaf 0 44.4px,#faa 0 45.6px,#fdd 0 48px,#fcc 0 50.4px,#faa 0 51.6px,#f99 0 52.8px,#fff 0 54px,#aaf 0 55.2px,#fee 0 56.4px,#ddf 0 57.6px,#eef 0 58.8px,#fcc 0 60px,#fff 0 61.2px,#f99 0 62.4px,#eef 0 63.6px,#ddf 0 64.8px,#fbb 0 66px,#fee 0 67.2px,#fcc 0 68.4px,#fee 0 69.6px,#fcc 0 70.8px,#eef 0 72px,#fbb 0 73.2px,#eef 0 74.4px,#fff 0 75.6px,#bbf 0 76.8px,#fbb 0 78px,#ddf 0 79.2px,#fcc 0 80.4px,#ddf 0 81.6px,#fbb 0 82.8px,#aaf 0 84px,#fdd 0 85.2px,#ddf 0 86.4px,#fee 0 87.6px,#f88 0 88.8px,#fbb 0 90px,#fcc 0 91.2px,#ddf 0 92.4px,#fcc 0 93.6px,#faa 0 94.8px,#fcc 0 96px,#fee 0 98.4px,#aaf 0 99.6px,#fee 0 100.8px,#faa 0 102px,#aaf 0 103.2px,#f77 0 104.4px,#fdd 0 105.6px,#aaf 0 106.8px,#ccf 0 108px,#faa 0 109.2px,#ddf 0 110.4px,#aaf 0 111.6px,#fcc 0 112.8px,#fee 0 114px,#fff 0 115.2px,#fee 0 116.4px,#faa 0 117.6px,#eef 0 118.8px,#fbb 0 120px,#fdd 0 121.2px,#fff 0 123.6px,#fcc 0 124.8px,#fdd 0 126px,#fcc 0 127.2px,#faa 0 129.6px,#fdd 0 132px,#fbb 0 133.2px,#fcc 0 134.4px,#fee 0 135.6px,#eef 0 136.8px,#faa 0 138px,#bbf 0 140.4px,#f55 0 141.6px,#fee 0 142.8px,#f99 0 144px,#fdd 0 146.4px,#faa 0 147.6px,#fff 0 148.8px,#fee 0 150px,#eef 0 151.2px,#ddf 0 152.4px,#fff 0 153.6px,#ccf 0 154.8px,#fdd 0 156px,#22f 0 157.2px,#bbf 0 158.4px,#faa 0 159.6px,#fee 0 160.8px,#aaf 0 162px,#fcc 0 163.2px,#bbf 0 164.4px,#99f 0 165.6px,#fdd 0 166.8px,#fee 0 168px,#fdd 0 169.2px,#fee 0 170.4px,#fff 0 171.6px,#fbb 0 172.8px,#fff 0 174px,#fcc 0 175.2px,#bbf 0 176.4px,#fee 0 177.6px,#fdd 0 178.8px,#fbb 0 180px,#fcc 0 183.6px,#fee 0 186px,#f88 0 187.2px,#fdd 0 188.4px,#ccf 0 189.6px,#ddf 0 190.8px,#88f 0 192px,#fff 0 193.2px,#f99 0 194.4px,#fff 0 195.6px,#bbf 0 196.8px,#fff 0 198px,#fee 0 199.2px,#99f 0 200.4px,#fff 0 202.8px,#fee 0 204px,#eef 0 205.2px,#faa 0 206.4px,#fff 0 207.6px,#fbb 0 208.8px,#fee 0 210px,#fcc 0 211.2px,#aaf 0 212.4px,#fdd 0 214.8px,#99f 0 216px,#fbb 0 217.2px,#fcc 0 218.4px,#fff 0 219.6px,#eef 0 220.8px,#fcc 0 222px,#fee 0 223.2px,#fbb 0 224.4px,#fee 0 226.8px,#fff 0 229.2px,#bbf 0 230.4px,#fdd 0 231.6px,#fcc 0 232.8px,#faa 0 234px,#fcc 0 235.2px,#ddf 0 236.4px,#eef 0 237.6px,#fdd 0 238.8px,#bbf 0 240px,#fff 0 241.2px,#99f 0 242.4px,#fdd 0 243.6px,#aaf 0 244.8px,#eef 0 246px,#fdd 0 247.2px,#faa 0 248.4px,#ccf 0 249.6px,#fbb 0 250.8px,#fff 0 253.2px,#ccf 0 254.4px,#f77 0 255.6px,#fcc 0 258px,#fee 0 259.2px,#ddf 0 260.4px,#ccf 0 261.6px,#f77 0 262.8px,#eef 0 264px,#f99 0 265.2px,#faa 0 266.4px,#fdd 0 267.6px,#fbb 0 268.8px,#fee 0 273.6px,#fdd 0 274.8px,#ddf 0 276px,#fee 0 277.2px,#eef 0 278.4px,#88f 0 279.6px,#f88 0 280.8px,#fdd 0 282px,#eef 0 283.2px,#fdd 0 284.4px,#fff 0 285.6px,#fdd 0 288px,#faa 0 289.2px,#fbb 0 290.4px,#fee 0 291.6px,#faa 0 292.8px,#eef 0 295.2px,#bbf 0 296.4px,#fdd 0 297.6px,#fee 0 298.8px,#ccf 0 299.8px,#faa 0 301px,#ddf 0 302.2px,#f88 0 303.4px,#ddf 0 304.6px,#fdd 0 307px,#f99 0 308.2px,#ddf 0 309.4px,#fbb 0 310.6px,#fdd 0 311.8px,#ddf 0 313px,#99f 0 314.2px,#ccf 0 316.6px,#fee 0 317.8px,#eef 0 319px,#fee 0 320.2px,#ddf 0 321.4px,#aaf 0 322.6px,#fdd 0 325px,#bbf 0 326.2px,#ddf 0 327.4px,#fee 0 329.8px,#fdd 0 331px,#fff 0 332.2px,#ccf 0 333.4px,#fee 0 334.6px,#fff 0 335.8px,#99f 0 337px,#fff 0 338.2px,#ddf 0 339.4px,#fff 0 340.6px,#fcc 0 343px,#fee 0 345.4px,#99f 0 346.6px,#bbf 0 347.8px,#88f 0 349px,#eef 0 350.2px,#88f 0 351.4px,#ddf 0 352.6px,#99f 0 353.8px,#66f 0 355px,#eef 0 356.2px,#ddf 0 357.4px,#eef 0 359.8px,#fdd 0 361px,#eef 0 362.2px,#fff 0 363.4px,#fdd 0 364.6px,#f99 0 365.8px,#fee 0 367px,#eef 0 368.2px,#fff 0 369.4px,#fdd 0 370.6px,#eef 0 371.8px,#aaf 0 373px,#faa 0 374.2px,#ddf 0 375.4px,#fee 0 376.6px,#fdd 0 377.8px,#aaf 0 379px,#eef 0 380.2px,#44f 0 381.4px,#fcc 0 382.6px,#fdd 0 385px,#fee 0 386.2px,#88f 0 387.4px,#99f 0 388.6px,#fcc 0 391px,#eef 0 392.2px,#bbf 0 393.4px,#ddf 0 394.6px,#fdd 0 395.8px,#fcc 0 397px,#fdd 0 399.4px,#bbf 0 400.6px,#aaf 0 401.8px,#fee 0 403px,#fdd 0 404.2px,#fee 0 407.8px,#ddf 0 409px,#eef 0 410.2px,#fcc 0 411.4px,#ccf 0 412.6px,#eef 0 413.8px,#faa 0 415px,#fff 0 416.2px,#eef 0 416.3px)"></div>
<div class="h" style="left:120.7px;top:995.02px;width:416.3px;height:12.62px;background:linear-gradient(90deg,#fff 0 1.2px,#fdd 0 2.4px,#fbb 0 3.6px,#fee 0 4.8px,#fff 0 6px,#aaf 0 7.2px,#fbb 0 8.4px,#faa 0 9.6px,#eef 0 10.8px,#bbf 0 12px,#fee 0 13.2px,#fff 0 14.4px,#f88 0 15.6px,#aaf 0 16.8px,#ddf 0 18px,#fff 0 19.2px,#fdd 0 20.4px,#eef 0 21.6px,#99f 0 22.8px,#fee 0 24px,#ccf 0 25.2px,#eef 0 27.6px,#fdd 0 28.8px,#fbb 0 30px,#fdd 0 31.2px,#fcc 0 32.4px,#fff 0 33.6px,#eef 0 34.8px,#f99 0 36px,#fee 0 37.2px,#fbb 0 38.4px,#fdd 0 39.6px,#f88 0 40.8px,#fdd 0 42px,#eef 0 44.4px,#fdd 0 45.6px,#fbb 0 46.8px,#fee 0 48px,#faa 0 49.2px,#fcc 0 50.4px,#fdd 0 52.8px,#eef 0 54px,#fee 0 55.2px,#fbb 0 56.4px,#fcc 0 57.6px,#faa 0 58.8px,#99f 0 60px,#fff 0 62.4px,#faa 0 63.6px,#fbb 0 64.8px,#fff 0 66px,#ccf 0 67.2px,#fcc 0 68.4px,#ccf 0 69.6px,#aaf 0 70.8px,#faa 0 72px,#aaf 0 73.2px,#fdd 0 74.4px,#ccf 0 75.6px,#aaf 0 76.8px,#fee 0 78px,#fcc 0 79.2px,#ddf 0 80.4px,#fff 0 81.6px,#fdd 0 82.8px,#ddf 0 84px,#aaf 0 85.2px,#99f 0 86.4px,#fff 0 87.6px,#faa 0 88.8px,#66f 0 90px,#f99 0 91.2px,#fff 0 92.4px,#fbb 0 93.6px,#fdd 0 97.2px,#fcc 0 99.6px,#bbf 0 100.8px,#eef 0 102px,#fff 0 103.2px,#faa 0 104.4px,#fee 0 105.6px,#fbb 0 106.8px,#fff 0 108px,#ddf 0 109.2px,#fbb 0 110.4px,#fcc 0 111.6px,#eef 0 112.8px,#fcc 0 114px,#fff 0 115.2px,#aaf 0 116.4px,#fdd 0 117.6px,#ddf 0 118.8px,#bbf 0 120px,#eef 0 121.2px,#fee 0 122.4px,#fbb 0 123.6px,#eef 0 124.8px,#fee 0 126px,#fcc 0 127.2px,#fff 0 128.4px,#fbb 0 129.6px,#ccf 0 130.8px,#fee 0 132px,#fdd 0 133.2px,#fcc 0 135.6px,#fdd 0 138px,#fbb 0 139.2px,#eef 0 140.4px,#fff 0 141.6px,#fcc 0 142.8px,#fdd 0 144px,#eef 0 145.2px,#f99 0 146.4px,#fdd 0 147.6px,#fff 0 148.8px,#fbb 0 150px,#eef 0 151.2px,#aaf 0 152.4px,#fcc 0 153.6px,#fbb 0 157.2px,#fff 0 159.6px,#fee 0 160.8px,#fcc 0 162px,#eef 0 163.2px,#fee 0 164.4px,#bbf 0 165.6px,#fbb 0 166.8px,#fcc 0 169.2px,#ddf 0 170.4px,#eef 0 171.6px,#ddf 0 172.8px,#faa 0 174px,#fff 0 175.2px,#fbb 0 176.4px,#eef 0 177.6px,#ddf 0 178.8px,#fff 0 180px,#faa 0 181.2px,#f77 0 182.4px,#fdd 0 183.6px,#fee 0 184.8px,#f99 0 186px,#fcc 0 187.2px,#ddf 0 188.4px,#fff 0 190.8px,#aaf 0 192px,#f88 0 193.2px,#fbb 0 194.4px,#fee 0 195.6px,#faa 0 196.8px,#fff 0 198px,#fee 0 199.2px,#f88 0 200.4px,#fff 0 201.6px,#fcc 0 204px,#eef 0 205.2px,#fdd 0 206.4px,#f88 0 207.6px,#ddf 0 210px,#eef 0 211.2px,#fee 0 213.6px,#bbf 0 214.8px,#fee 0 216px,#ddf 0 217.2px,#f88 0 218.4px,#fee 0 219.6px,#fcc 0 220.8px,#f99 0 222px,#fdd 0 223.2px,#eef 0 224.4px,#fbb 0 225.6px,#fff 0 226.8px,#fdd 0 229.2px,#fee 0 230.4px,#eef 0 231.6px,#fbb 0 234px,#fff 0 236.4px,#fbb 0 237.6px,#ddf 0 238.8px,#fcc 0 240px,#ddf 0 241.2px,#fdd 0 243.6px,#99f 0 244.8px,#fcc 0 246px,#faa 0 247.2px,#fdd 0 248.4px,#faa 0 249.6px,#ddf 0 250.8px,#fff 0 252px,#ddf 0 253.2px,#fcc 0 254.4px,#fff 0 255.6px,#ccf 0 256.8px,#faa 0 258px,#fff 0 259.2px,#fcc 0 260.4px,#f99 0 261.6px,#fbb 0 262.8px,#fee 0 264px,#eef 0 265.2px,#fbb 0 266.4px,#fff 0 267.6px,#fbb 0 268.8px,#eef 0 270px,#fcc 0 271.2px,#fdd 0 274.8px,#fcc 0 276px,#fdd 0 277.2px,#eef 0 278.4px,#fcc 0 279.6px,#fff 0 280.8px,#fee 0 282px,#ccf 0 283.2px,#fdd 0 284.4px,#faa 0 285.6px,#fbb 0 286.8px,#fcc 0 288px,#ccf 0 289.2px,#aaf 0 290.4px,#fcc 0 291.6px,#f99 0 292.8px,#fdd 0 294px,#fcc 0 296.4px,#fff 0 297.6px,#fee 0 298.8px,#faa 0 299.8px,#fee 0 301px,#fcc 0 302.2px,#eef 0 303.4px,#fff 0 305.8px,#eef 0 307px,#fee 0 308.2px,#fdd 0 309.4px,#fee 0 310.6px,#bbf 0 311.8px,#f88 0 313px,#fee 0 314.2px,#eef 0 315.4px,#aaf 0 316.6px,#fee 0 317.8px,#fdd 0 319px,#ddf 0 320.2px,#fff 0 321.4px,#aaf 0 322.6px,#fee 0 325px,#f99 0 326.2px,#fbb 0 327.4px,#ddf 0 328.6px,#eef 0 329.8px,#ccf 0 331px,#fee 0 332.2px,#ddf 0 333.4px,#faa 0 334.6px,#eef 0 335.8px,#fff 0 337px,#ccf 0 338.2px,#99f 0 339.4px,#fcc 0 340.6px,#eef 0 341.8px,#fff 0 343px,#fdd 0 344.2px,#bbf 0 346.6px,#f99 0 347.8px,#ddf 0 351.4px,#66f 0 352.6px,#fbb 0 353.8px,#fee 0 355px,#fff 0 356.2px,#99f 0 357.4px,#aaf 0 358.6px,#fcc 0 361px,#eef 0 362.2px,#88f 0 363.4px,#fff 0 365.8px,#99f 0 367px,#fee 0 368.2px,#fcc 0 369.4px,#fff 0 370.6px,#eef 0 371.8px,#fee 0 373px,#eef 0 374.2px,#f99 0 375.4px,#88f 0 376.6px,#aaf 0 377.8px,#fbb 0 379px,#eef 0 380.2px,#fdd 0 381.4px,#eef 0 382.6px,#ddf 0 385px,#fdd 0 386.2px,#ccf 0 387.4px,#fdd 0 388.6px,#fcc 0 389.8px,#eef 0 391px,#fee 0 392.2px,#fdd 0 393.4px,#eef 0 395.8px,#fdd 0 397px,#ccf 0 398.2px,#bbf 0 399.4px,#eef 0 401.8px,#fff 0 403px,#ccf 0 404.2px,#fee 0 405.4px,#eef 0 406.6px,#99f 0 407.8px,#fdd 0 409px,#fff 0 410.2px,#ddf 0 411.4px,#fbb 0 412.6px,#ddf 0 413.8px,#fee 0 415px,#eef 0 416.2px,#ccf 0 416.3px)"></div>
<div class="h" style="left:785px;top:632.7px;width:232.5px;height:19.14px;background:linear-gradient(90deg,#77f 0 1.45px,#00f 0 2.9px,#f11 0 4.35px,#fdd 0 5.8px,#f55 0 7.25px,#88f 0 8.7px,#f11 0 10.15px,#aaf 0 11.6px,#fdd 0 13.05px,#fbb 0 14.5px,#a38 0 15.95px,#ddf 0 17.4px,#f88 0 18.85px,#cbf 0 20.3px,#bad 0 21.75px,#f33 0 23.2px,#84b 0 24.65px,#eef 0 26.1px,#fbb 0 27.55px,#44f 0 29px,#98e 0 30.45px,#77f 0 31.9px,#eef 0 33.35px,#77f 0 34.8px,#11f 0 36.25px,#f33 0 37.7px,#c8b 0 39.15px,#11f 0 40.6px,#d58 0 42.05px,#baf 0 43.5px,#95b 0 44.95px,#f00 0 47.85px,#edf 0 49.3px,#33f 0 50.75px,#00f 0 52.2px,#22f 0 53.65px,#77f 0 55.1px,#808 0 56.55px,#a38 0 58px,#faa 0 59.45px,#fdd 0 60.9px,#928 0 62.35px,#00f 0 63.8px,#fee 0 65.25px,#dbd 0 66.7px,#84b 0 68.15px,#faa 0 69.6px,#aaf 0 71.05px,#eef 0 72.5px,#84c 0 73.95px,#77f 0 76.85px,#a6b 0 78.3px,#faa 0 79.75px,#33f 0 81.2px,#c9b 0 82.65px,#dcd 0 84.1px,#44f 0 85.55px,#33f 0 87px,#85b 0 88.45px,#a38 0 89.9px,#77f 0 91.35px,#f99 0 92.8px,#77f 0 94.25px,#d8a 0 95.7px,#bbf 0 97.15px,#f11 0 98.6px,#a7c 0 100.05px,#aaf 0 101.5px,#d69 0 102.95px,#66f 0 104.4px,#f44 0 105.85px,#77f 0 107.3px,#f66 0 108.75px,#b38 0 110.2px,#918 0 111.65px,#f88 0 113.1px,#55f 0 114.55px,#33f 0 116px,#82a 0 117.45px,#99f 0 118.9px,#939 0 120.35px,#a4a 0 121.8px,#c58 0 123.25px,#bae 0 124.7px,#f66 0 126.15px,#e78 0 127.6px,#55f 0 129.05px,#a28 0 130.5px,#77f 0 131.95px,#929 0 133.4px,#44f 0 134.85px,#f88 0 136.3px,#a38 0 137.75px,#ccf 0 139.2px,#c69 0 140.65px,#22f 0 142.1px,#808 0 143.55px,#c48 0 145px,#f77 0 146.45px,#f00 0 147.9px,#808 0 149.35px,#b9d 0 150.8px,#f44 0 152.25px,#aaf 0 153.7px,#66f 0 155.15px,#ddf 0 156.6px,#77f 0 158.05px,#d69 0 159.5px,#97d 0 160.95px,#87e 0 162.4px,#77f 0 163.85px,#99f 0 165.3px,#33f 0 166.75px,#cad 0 168.2px,#44f 0 169.65px,#b8b 0 171.1px,#44f 0 172.55px,#f88 0 174px,#55f 0 175.45px,#f22 0 176.9px,#d58 0 178.35px,#aaf 0 179.8px,#94a 0 181.25px,#d8a 0 182.7px,#77f 0 184.15px,#f11 0 185.6px,#84b 0 187.05px,#e68 0 188.5px,#928 0 189.95px,#44f 0 192.85px,#f55 0 194.3px,#83b 0 195.75px,#d68 0 197.2px,#f88 0 198.65px,#f66 0 200.1px,#faa 0 201.55px,#f33 0 203px,#c58 0 204.45px,#c7a 0 205.9px,#00f 0 207.35px,#ebb 0 208.8px,#b9d 0 210.25px,#a9f 0 211.7px,#77f 0 213.15px,#11f 0 214.6px,#d9b 0 216.05px,#84a 0 217.5px,#88f 0 218.95px,#44f 0 221.85px,#818 0 223.3px,#77f 0 224.75px,#f33 0 226.2px,#77f 0 227.65px,#f55 0 229.1px,#00f 0 230.55px,#44f 0 232px,#fcc 0 232.5px)"></div>
<div class="h" style="left:1021px;top:632.7px;width:90px;height:19.14px;background:linear-gradient(90deg,#f00 0 1.45px,#83a 0 2.9px,#c7b 0 4.35px,#f11 0 5.8px,#44f 0 7.25px,#f11 0 8.7px,#f00 0 10.15px,#f66 0 11.6px,#44f 0 13.05px,#f22 0 15.95px,#f44 0 17.4px,#b59 0 18.85px,#33f 0 20.3px,#f22 0 21.75px,#f77 0 23.2px,#f55 0 26.1px,#f22 0 27.55px,#819 0 29px,#d9b 0 30.45px,#f77 0 31.9px,#f11 0 33.35px,#f55 0 34.8px,#f11 0 36.25px,#f22 0 37.7px,#fcc 0 39.15px,#faa 0 40.6px,#f55 0 42.05px,#928 0 43.5px,#f44 0 44.95px,#928 0 46.4px,#f33 0 47.85px,#fdd 0 49.3px,#f66 0 50.75px,#f44 0 52.2px,#f55 0 53.65px,#f00 0 55.1px,#f66 0 56.55px,#66f 0 58px,#f44 0 59.45px,#f00 0 60.9px,#55f 0 62.35px,#f22 0 63.8px,#66f 0 65.25px,#84c 0 66.7px,#f22 0 68.15px,#e78 0 69.6px,#85c 0 71.05px,#f11 0 73.95px,#f00 0 75.4px,#f55 0 76.85px,#f88 0 78.3px,#808 0 79.75px,#f22 0 81.2px,#c58 0 82.65px,#f11 0 84.1px,#11f 0 85.55px,#a49 0 87px,#fcc 0 88.45px,#f55 0 89.9px,#f99 0 90px)"></div>
<div class="h" style="left:785px;top:651.79px;width:232.5px;height:19.14px;background:linear-gradient(90deg,#f77 0 1.45px,#33f 0 2.9px,#faa 0 4.35px,#44f 0 5.8px,#a28 0 7.25px,#f99 0 8.7px,#f33 0 10.15px,#82a 0 11.6px,#faa 0 13.05px,#66f 0 14.5px,#99f 0 15.95px,#fbb 0 17.4px,#a5a 0 18.85px,#dbd 0 20.3px,#11f 0 21.75px,#f88 0 23.2px,#88f 0 24.65px,#eef 0 26.1px,#fbb 0 27.55px,#00f 0 29px,#f44 0 30.45px,#f00 0 31.9px,#44f 0 33.35px,#66f 0 34.8px,#99f 0 36.25px,#eab 0 37.7px,#66f 0 39.15px,#83b 0 40.6px,#aaf 0 42.05px,#f99 0 43.5px,#97d 0 44.95px,#44f 0 47.85px,#f33 0 49.3px,#f99 0 50.75px,#55f 0 52.2px,#f22 0 53.65px,#a38 0 55.1px,#66f 0 56.55px,#a7c 0 58px,#819 0 59.45px,#77f 0 60.9px,#00f 0 62.35px,#88f 0 63.8px,#44f 0 65.25px,#83a 0 66.7px,#99f 0 68.15px,#818 0 69.6px,#c7a 0 71.05px,#86e 0 72.5px,#99f 0 73.95px,#c9c 0 75.4px,#11f 0 76.85px,#bbf 0 78.3px,#f66 0 79.75px,#818 0 81.2px,#f11 0 82.65px,#a7c 0 84.1px,#b38 0 85.55px,#c58 0 87px,#66f 0 89.9px,#00f 0 91.35px,#22f 0 92.8px,#66f 0 94.25px,#918 0 95.7px,#00f 0 97.15px,#44f 0 98.6px,#a6c 0 100.05px,#55f 0 101.5px,#a49 0 102.95px,#f22 0 104.4px,#88f 0 105.85px,#84b 0 107.3px,#a8d 0 108.75px,#d68 0 110.2px,#88f 0 111.65px,#84c 0 113.1px,#44f 0 116px,#f88 0 117.45px,#99f 0 118.9px,#95b 0 120.35px,#83b 0 121.8px,#fcc 0 123.25px,#99f 0 124.7px,#a7b 0 126.15px,#ccf 0 127.6px,#a7b 0 129.05px,#33f 0 130.5px,#f66 0 131.95px,#11f 0 133.4px,#00f 0 134.85px,#44f 0 136.3px,#fee 0 137.75px,#33f 0 139.2px,#22f 0 140.65px,#95b 0 142.1px,#fcc 0 143.55px,#83a 0 145px,#b9d 0 146.45px,#f22 0 147.9px,#ccf 0 149.35px,#aaf 0 150.8px,#00f 0 152.25px,#808 0 153.7px,#c58 0 155.15px,#11f 0 156.6px,#ccf 0 158.05px,#a9d 0 159.5px,#f00 0 160.95px,#aaf 0 162.4px,#a6b 0 163.85px,#f66 0 165.3px,#f55 0 166.75px,#aaf 0 168.2px,#d8a 0 169.65px,#22f 0 172.55px,#66f 0 174px,#88f 0 175.45px,#f44 0 176.9px,#33f 0 178.35px,#f55 0 179.8px,#96c 0 181.25px,#00f 0 182.7px,#55f 0 184.15px,#f11 0 185.6px,#00f 0 187.05px,#a5b 0 188.5px,#f44 0 189.95px,#86d 0 191.4px,#f88 0 192.85px,#fee 0 194.3px,#b48 0 195.75px,#77f 0 197.2px,#88f 0 198.65px,#94a 0 200.1px,#55f 0 201.55px,#66f 0 203px,#b7b 0 204.45px,#00f 0 205.9px,#77f 0 207.35px,#33f 0 208.8px,#a39 0 210.25px,#b6a 0 211.7px,#44f 0 213.15px,#aaf 0 214.6px,#88f 0 216.05px,#55f 0 217.5px,#88f 0 218.95px,#99f 0 220.4px,#fbb 0 221.85px,#22f 0 223.3px,#66f 0 224.75px,#86e 0 226.2px,#ddf 0 227.65px,#ccf 0 229.1px,#33f 0 230.55px,#98e 0 232px,#77f 0 232.5px)"></div>
<div class="h" style="left:1021px;top:651.79px;width:90px;height:19.14px;background:linear-gradient(90deg,#f44 0 1.45px,#f00 0 2.9px,#f88 0 4.35px,#f99 0 5.8px,#f33 0 7.25px,#f11 0 8.7px,#fcc 0 10.15px,#f11 0 11.6px,#a8d 0 13.05px,#e9a 0 14.5px,#f11 0 15.95px,#928 0 17.4px,#f00 0 18.85px,#33f 0 20.3px,#f77 0 21.75px,#f44 0 23.2px,#f11 0 24.65px,#f33 0 26.1px,#f00 0 29px,#f89 0 30.45px,#f00 0 31.9px,#b8c 0 33.35px,#f89 0 34.8px,#f88 0 36.25px,#f78 0 37.7px,#f99 0 39.15px,#f00 0 40.6px,#f11 0 42.05px,#f66 0 43.5px,#f77 0 44.95px,#f55 0 46.4px,#fbb 0 47.85px,#f11 0 49.3px,#f44 0 50.75px,#f66 0 53.65px,#f55 0 55.1px,#f88 0 56.55px,#d8a 0 58px,#e9a 0 59.45px,#f55 0 60.9px,#f78 0 62.35px,#f77 0 63.8px,#f55 0 65.25px,#f33 0 66.7px,#fdd 0 68.15px,#f55 0 69.6px,#f00 0 71.05px,#faa 0 72.5px,#f11 0 75.4px,#f00 0 76.85px,#f11 0 78.3px,#ddf 0 79.75px,#f55 0 81.2px,#f33 0 84.1px,#f55 0 85.55px,#f11 0 87px,#f44 0 88.45px,#f11 0 89.9px,#f00 0 90px)"></div>
<div class="h" style="left:785px;top:670.88px;width:232.5px;height:19.14px;background:linear-gradient(90deg,#e89 0 1.45px,#84b 0 2.9px,#66f 0 4.35px,#f44 0 5.8px,#84c 0 7.25px,#f66 0 8.7px,#85c 0 10.15px,#f44 0 11.6px,#11f 0 13.05px,#83b 0 14.5px,#77f 0 15.95px,#11f 0 17.4px,#cbf 0 18.85px,#d58 0 20.3px,#11f 0 21.75px,#f22 0 23.2px,#aaf 0 24.65px,#ccf 0 26.1px,#fff 0 27.55px,#77f 0 29px,#88f 0 30.45px,#ccf 0 31.9px,#00f 0 33.35px,#bbf 0 34.8px,#e9a 0 36.25px,#aaf 0 37.7px,#fff 0 39.15px,#77f 0 40.6px,#99f 0 42.05px,#55f 0 43.5px,#88f 0 44.95px,#f22 0 46.4px,#55f 0 47.85px,#a8d 0 49.3px,#f77 0 50.75px,#77f 0 52.2px,#f88 0 53.65px,#44f 0 55.1px,#918 0 56.55px,#55f 0 58px,#77f 0 59.45px,#11f 0 60.9px,#eef 0 62.35px,#f77 0 63.8px,#97d 0 65.25px,#aaf 0 66.7px,#77f 0 69.6px,#55f 0 71.05px,#f44 0 72.5px,#11f 0 73.95px,#f99 0 75.4px,#fff 0 76.85px,#00f 0 78.3px,#66f 0 79.75px,#83a 0 81.2px,#faa 0 82.65px,#11f 0 84.1px,#66f 0 85.55px,#f66 0 87px,#55f 0 88.45px,#d68 0 89.9px,#b6a 0 91.35px,#00f 0 92.8px,#84b 0 94.25px,#00f 0 95.7px,#66f 0 98.6px,#aaf 0 100.05px,#f11 0 101.5px,#95a 0 102.95px,#fff 0 104.4px,#ddf 0 105.85px,#33f 0 107.3px,#97d 0 108.75px,#33f 0 110.2px,#55f 0 111.65px,#f44 0 113.1px,#f33 0 114.55px,#99f 0 116px,#a5b 0 117.45px,#95c 0 118.9px,#66f 0 120.35px,#88f 0 121.8px,#c8b 0 123.25px,#bbf 0 124.7px,#b38 0 126.15px,#f99 0 127.6px,#bad 0 129.05px,#b8c 0 130.5px,#c7b 0 131.95px,#f55 0 133.4px,#00f 0 136.3px,#f22 0 137.75px,#44f 0 139.2px,#818 0 140.65px,#eee 0 142.1px,#55f 0 143.55px,#b59 0 145px,#00f 0 146.45px,#c9c 0 147.9px,#88f 0 149.35px,#99f 0 150.8px,#66f 0 152.25px,#a28 0 153.7px,#a8d 0 155.15px,#66f 0 156.6px,#98d 0 158.05px,#f88 0 159.5px,#44f 0 160.95px,#f33 0 162.4px,#88f 0 163.85px,#f00 0 165.3px,#c69 0 166.75px,#d8a 0 168.2px,#819 0 169.65px,#f55 0 171.1px,#11f 0 172.55px,#88f 0 174px,#66f 0 176.9px,#928 0 178.35px,#f66 0 179.8px,#fdd 0 181.25px,#808 0 182.7px,#86d 0 184.15px,#83a 0 185.6px,#00f 0 187.05px,#f88 0 188.5px,#83b 0 189.95px,#a38 0 191.4px,#77f 0 192.85px,#00f 0 194.3px,#d68 0 195.75px,#bbf 0 197.2px,#fbb 0 198.65px,#ccf 0 200.1px,#99f 0 201.55px,#f11 0 203px,#77f 0 204.45px,#d9b 0 205.9px,#f11 0 207.35px,#f00 0 208.8px,#11f 0 210.25px,#bbf 0 211.7px,#829 0 213.15px,#66f 0 214.6px,#55f 0 216.05px,#d68 0 217.5px,#c48 0 218.95px,#928 0 220.4px,#66f 0 221.85px,#00f 0 223.3px,#f00 0 224.75px,#84b 0 226.2px,#00f 0 227.65px,#66f 0 229.1px,#00f 0 230.55px,#c58 0 232px,#00f 0 232.5px)"></div>
<div class="h" style="left:1021px;top:670.88px;width:90px;height:19.14px;background:linear-gradient(90deg,#f99 0 2.9px,#fcc 0 4.35px,#dde 0 5.8px,#f66 0 7.25px,#f33 0 10.15px,#f55 0 11.6px,#a7c 0 13.05px,#d7a 0 14.5px,#f88 0 15.95px,#f55 0 17.4px,#f88 0 18.85px,#f33 0 20.3px,#f00 0 21.75px,#c8b 0 23.2px,#f22 0 24.65px,#a6b 0 26.1px,#f00 0 27.55px,#f33 0 29px,#83b 0 30.45px,#f55 0 31.9px,#f22 0 33.35px,#f11 0 34.8px,#fdd 0 36.25px,#f33 0 37.7px,#f00 0 40.6px,#f66 0 42.05px,#f44 0 44.95px,#f00 0 46.4px,#f33 0 47.85px,#00f 0 49.3px,#f66 0 50.75px,#fbb 0 52.2px,#f77 0 53.65px,#f00 0 55.1px,#f77 0 56.55px,#dbd 0 58px,#f33 0 59.45px,#f22 0 60.9px,#fee 0 62.35px,#f77 0 63.8px,#f55 0 65.25px,#f88 0 66.7px,#f66 0 68.15px,#f55 0 69.6px,#f44 0 71.05px,#f00 0 72.5px,#99f 0 73.95px,#f66 0 75.4px,#f22 0 76.85px,#f55 0 78.3px,#808 0 79.75px,#d58 0 81.2px,#84c 0 82.65px,#f77 0 84.1px,#f33 0 85.55px,#f99 0 87px,#f44 0 88.45px,#f11 0 89.9px,#f55 0 90px)"></div>
<div class="h" style="left:785px;top:689.97px;width:232.5px;height:19.14px;background:linear-gradient(90deg,#00f 0 1.45px,#c79 0 2.9px,#dad 0 4.35px,#77f 0 5.8px,#f55 0 7.25px,#c7a 0 8.7px,#83a 0 10.15px,#55f 0 11.6px,#a6a 0 13.05px,#a6b 0 14.5px,#fdd 0 15.95px,#99f 0 17.4px,#11f 0 18.85px,#55f 0 20.3px,#a6b 0 21.75px,#fdd 0 23.2px,#88f 0 24.65px,#00f 0 26.1px,#87e 0 27.55px,#f99 0 29px,#f44 0 30.45px,#44f 0 31.9px,#99f 0 33.35px,#818 0 34.8px,#939 0 36.25px,#85c 0 37.7px,#f55 0 39.15px,#edd 0 40.6px,#f11 0 42.05px,#85d 0 43.5px,#f66 0 44.95px,#f00 0 46.4px,#99f 0 47.85px,#aaf 0 49.3px,#00f 0 50.75px,#fdd 0 52.2px,#99f 0 53.65px,#55f 0 56.55px,#77f 0 58px,#88f 0 59.45px,#44f 0 60.9px,#fcc 0 62.35px,#f11 0 63.8px,#86d 0 65.25px,#f88 0 66.7px,#f55 0 68.15px,#99f 0 69.6px,#83b 0 71.05px,#55f 0 72.5px,#b9d 0 73.95px,#d8a 0 75.4px,#e9b 0 76.85px,#86d 0 78.3px,#77f 0 79.75px,#55f 0 81.2px,#808 0 82.65px,#94a 0 84.1px,#88f 0 85.55px,#82a 0 87px,#99f 0 88.45px,#22f 0 89.9px,#f00 0 91.35px,#f88 0 92.8px,#66f 0 94.25px,#77f 0 97.15px,#a59 0 98.6px,#818 0 100.05px,#77f 0 101.5px,#00f 0 102.95px,#d9b 0 104.4px,#99f 0 105.85px,#77f 0 107.3px,#f88 0 108.75px,#22f 0 110.2px,#a8d 0 111.65px,#aaf 0 113.1px,#b6a 0 114.55px,#99f 0 116px,#82a 0 117.45px,#22f 0 118.9px,#918 0 120.35px,#88f 0 121.8px,#a5a 0 123.25px,#66f 0 124.7px,#00f 0 126.15px,#b48 0 127.6px,#f33 0 129.05px,#87e 0 130.5px,#c69 0 131.95px,#ddf 0 133.4px,#44f 0 134.85px,#66f 0 136.3px,#f55 0 137.75px,#55f 0 139.2px,#d9b 0 140.65px,#b9d 0 142.1px,#22f 0 143.55px,#11f 0 145px,#c7a 0 146.45px,#fbb 0 147.9px,#77f 0 149.35px,#55f 0 150.8px,#eef 0 152.25px,#00f 0 153.7px,#aaf 0 155.15px,#faa 0 156.6px,#88f 0 158.05px,#f00 0 159.5px,#83a 0 160.95px,#00f 0 162.4px,#84b 0 163.85px,#55f 0 165.3px,#66f 0 166.75px,#c8b 0 168.2px,#f66 0 169.65px,#d58 0 171.1px,#ccf 0 172.55px,#66f 0 174px,#33f 0 175.45px,#44f 0 176.9px,#a28 0 178.35px,#33f 0 179.8px,#f77 0 181.25px,#f88 0 182.7px,#66f 0 184.15px,#fcc 0 185.6px,#84b 0 187.05px,#88f 0 188.5px,#b48 0 189.95px,#99f 0 191.4px,#85d 0 192.85px,#33f 0 194.3px,#55f 0 195.75px,#e88 0 197.2px,#d68 0 198.65px,#938 0 200.1px,#a6b 0 201.55px,#f99 0 203px,#a49 0 204.45px,#e9a 0 205.9px,#83a 0 207.35px,#55f 0 208.8px,#33f 0 210.25px,#f33 0 211.7px,#aaf 0 213.15px,#33f 0 214.6px,#f88 0 216.05px,#44f 0 217.5px,#fee 0 218.95px,#a6b 0 220.4px,#44f 0 221.85px,#a8d 0 223.3px,#819 0 224.75px,#66f 0 226.2px,#85d 0 227.65px,#77f 0 230.55px,#66f 0 232px,#f88 0 232.5px)"></div>
<div class="h" style="left:1021px;top:689.97px;width:90px;height:19.14px;background:linear-gradient(90deg,#f22 0 1.45px,#f33 0 2.9px,#f66 0 4.35px,#dad 0 5.8px,#f66 0 7.25px,#fcc 0 8.7px,#f00 0 10.15px,#f88 0 11.6px,#f77 0 13.05px,#f44 0 14.5px,#f66 0 15.95px,#f44 0 17.4px,#b6a 0 18.85px,#f11 0 20.3px,#829 0 21.75px,#f33 0 23.2px,#f66 0 24.65px,#f33 0 26.1px,#f44 0 29px,#f00 0 30.45px,#f88 0 31.9px,#f66 0 33.35px,#f44 0 34.8px,#faa 0 36.25px,#f00 0 37.7px,#f66 0 39.15px,#c48 0 40.6px,#f22 0 42.05px,#f00 0 46.4px,#f33 0 49.3px,#f66 0 50.75px,#f55 0 52.2px,#f22 0 53.65px,#ddf 0 55.1px,#f88 0 56.55px,#fbb 0 58px,#f33 0 59.45px,#f44 0 60.9px,#f22 0 62.35px,#f33 0 63.8px,#f66 0 65.25px,#87e 0 66.7px,#f77 0 68.15px,#f00 0 69.6px,#d8a 0 71.05px,#f11 0 72.5px,#f22 0 73.95px,#f33 0 76.85px,#f55 0 78.3px,#f88 0 79.75px,#f66 0 81.2px,#f00 0 82.65px,#f88 0 84.1px,#f66 0 85.55px,#f00 0 87px,#f66 0 88.45px,#f55 0 89.9px,#f00 0 90px)"></div>
<div class="h" style="left:785px;top:709.06px;width:232.5px;height:19.14px;background:linear-gradient(90deg,#fbb 0 1.45px,#93a 0 2.9px,#c7a 0 4.35px,#f77 0 5.8px,#44f 0 7.25px,#f55 0 8.7px,#88f 0 10.15px,#939 0 11.6px,#88f 0 13.05px,#f11 0 14.5px,#c8b 0 15.95px,#f00 0 17.4px,#f66 0 18.85px,#fee 0 20.3px,#66f 0 21.75px,#cad 0 23.2px,#99f 0 24.65px,#44f 0 26.1px,#55f 0 27.55px,#66f 0 29px,#fdd 0 30.45px,#e9a 0 31.9px,#f77 0 33.35px,#f11 0 34.8px,#77f 0 36.25px,#86d 0 37.7px,#94a 0 39.15px,#bbf 0 40.6px,#55f 0 42.05px,#00f 0 43.5px,#86d 0 44.95px,#a5a 0 46.4px,#818 0 47.85px,#87f 0 49.3px,#e78 0 50.75px,#d8a 0 52.2px,#86d 0 53.65px,#77f 0 55.1px,#00f 0 56.55px,#f55 0 58px,#f22 0 59.45px,#938 0 60.9px,#77f 0 62.35px,#fff 0 63.8px,#44f 0 65.25px,#818 0 66.7px,#d58 0 68.15px,#b6a 0 69.6px,#77f 0 72.5px,#22f 0 73.95px,#00f 0 75.4px,#bbf 0 76.85px,#22f 0 78.3px,#55f 0 81.2px,#bbf 0 82.65px,#f99 0 84.1px,#83a 0 85.55px,#44f 0 87px,#f66 0 88.45px,#85c 0 89.9px,#88f 0 91.35px,#99f 0 92.8px,#77f 0 94.25px,#f00 0 95.7px,#11f 0 97.15px,#f88 0 98.6px,#f77 0 100.05px,#b49 0 101.5px,#99f 0 102.95px,#11f 0 104.4px,#eef 0 105.85px,#00f 0 107.3px,#55f 0 108.75px,#00f 0 110.2px,#b8c 0 111.65px,#77f 0 113.1px,#83a 0 114.55px,#55f 0 116px,#99f 0 117.45px,#aaf 0 118.9px,#22f 0 120.35px,#84b 0 121.8px,#84c 0 123.25px,#84b 0 124.7px,#bbf 0 126.15px,#d79 0 127.6px,#77f 0 129.05px,#66f 0 130.5px,#44f 0 131.95px,#f55 0 133.4px,#c48 0 134.85px,#f88 0 136.3px,#55f 0 137.75px,#22f 0 139.2px,#f00 0 140.65px,#00f 0 142.1px,#11f 0 143.55px,#aaf 0 145px,#f77 0 146.45px,#928 0 147.9px,#00f 0 149.35px,#a38 0 150.8px,#fef 0 152.25px,#83a 0 153.7px,#c68 0 155.15px,#11f 0 156.6px,#a28 0 158.05px,#66f 0 159.5px,#22f 0 160.95px,#a7c 0 162.4px,#f66 0 163.85px,#bbf 0 165.3px,#77f 0 166.75px,#99f 0 168.2px,#86d 0 169.65px,#a6b 0 171.1px,#66f 0 172.55px,#b48 0 174px,#818 0 175.45px,#88f 0 176.9px,#83a 0 178.35px,#f33 0 179.8px,#829 0 181.25px,#77f 0 182.7px,#44f 0 184.15px,#aaf 0 185.6px,#f00 0 187.05px,#55f 0 188.5px,#dbd 0 189.95px,#22f 0 191.4px,#44f 0 192.85px,#fee 0 194.3px,#77f 0 195.75px,#fee 0 197.2px,#11f 0 198.65px,#ccf 0 200.1px,#d79 0 201.55px,#99f 0 203px,#d9b 0 204.45px,#33f 0 205.9px,#84b 0 207.35px,#00f 0 208.8px,#fdd 0 210.25px,#98e 0 211.7px,#b38 0 213.15px,#55f 0 214.6px,#a28 0 216.05px,#c48 0 217.5px,#77f 0 218.95px,#f77 0 220.4px,#928 0 221.85px,#fdd 0 223.3px,#808 0 224.75px,#88f 0 226.2px,#99f 0 227.65px,#d68 0 229.1px,#44f 0 230.55px,#55f 0 232px,#a49 0 232.5px)"></div>
<div class="h" style="left:1021px;top:709.06px;width:90px;height:19.14px;background:linear-gradient(90deg,#f00 0 1.45px,#f44 0 2.9px,#f88 0 4.35px,#e78 0 5.8px,#f33 0 7.25px,#f44 0 8.7px,#faa 0 10.15px,#f00 0 11.6px,#f11 0 13.05px,#fbb 0 14.5px,#f33 0 15.95px,#f55 0 17.4px,#fcc 0 18.85px,#f11 0 20.3px,#f00 0 24.65px,#fdd 0 26.1px,#f55 0 27.55px,#86d 0 29px,#f88 0 30.45px,#f77 0 31.9px,#f22 0 33.35px,#f00 0 34.8px,#f55 0 36.25px,#f11 0 37.7px,#f55 0 39.15px,#33f 0 40.6px,#fff 0 42.05px,#f33 0 43.5px,#fdd 0 44.95px,#f11 0 46.4px,#f22 0 47.85px,#f66 0 50.75px,#f33 0 52.2px,#f88 0 53.65px,#f11 0 55.1px,#f55 0 56.55px,#f66 0 59.45px,#f22 0 60.9px,#a8d 0 62.35px,#f33 0 63.8px,#f00 0 65.25px,#f22 0 66.7px,#f66 0 68.15px,#f00 0 69.6px,#22f 0 71.05px,#f44 0 72.5px,#f00 0 73.95px,#f44 0 75.4px,#f99 0 76.85px,#f55 0 78.3px,#f00 0 79.75px,#f77 0 81.2px,#e68 0 82.65px,#f00 0 84.1px,#f88 0 85.55px,#f44 0 87px,#f99 0 88.45px,#f00 0 89.9px,#f44 0 90px)"></div>
<div class="h" style="left:785px;top:728.15px;width:232.5px;height:19.14px;background:linear-gradient(90deg,#f22 0 1.45px,#a28 0 2.9px,#fcc 0 4.35px,#00f 0 5.8px,#d68 0 7.25px,#f44 0 8.7px,#77f 0 10.15px,#83a 0 11.6px,#22f 0 13.05px,#84a 0 14.5px,#66f 0 15.95px,#f55 0 17.4px,#d8a 0 18.85px,#b38 0 20.3px,#44f 0 21.75px,#f88 0 23.2px,#99f 0 24.65px,#88f 0 26.1px,#66f 0 27.55px,#aaf 0 29px,#a5b 0 30.45px,#00f 0 31.9px,#55f 0 33.35px,#f33 0 34.8px,#99f 0 36.25px,#f88 0 37.7px,#f99 0 39.15px,#ecd 0 40.6px,#99f 0 42.05px,#808 0 43.5px,#88f 0 44.95px,#99f 0 46.4px,#ccf 0 47.85px,#44f 0 49.3px,#fee 0 50.75px,#e78 0 52.2px,#55f 0 53.65px,#818 0 55.1px,#66f 0 56.55px,#96c 0 58px,#66f 0 59.45px,#55f 0 60.9px,#66f 0 62.35px,#a28 0 63.8px,#a49 0 65.25px,#84c 0 66.7px,#11f 0 68.15px,#918 0 69.6px,#77f 0 71.05px,#33f 0 72.5px,#d7a 0 73.95px,#85c 0 75.4px,#88f 0 76.85px,#c58 0 78.3px,#b6a 0 79.75px,#d79 0 81.2px,#b48 0 82.65px,#a28 0 84.1px,#f77 0 85.55px,#00f 0 87px,#88f 0 88.45px,#eef 0 89.9px,#82a 0 91.35px,#00f 0 92.8px,#44f 0 95.7px,#f44 0 97.15px,#eef 0 98.6px,#f55 0 100.05px,#22f 0 101.5px,#55f 0 102.95px,#11f 0 104.4px,#33f 0 105.85px,#dbd 0 107.3px,#c9c 0 108.75px,#f88 0 110.2px,#fdd 0 111.65px,#aaf 0 113.1px,#ccf 0 114.55px,#f22 0 116px,#ccf 0 117.45px,#83a 0 118.9px,#f66 0 120.35px,#928 0 121.8px,#11f 0 123.25px,#f11 0 124.7px,#a9e 0 126.15px,#82a 0 127.6px,#88f 0 129.05px,#55f 0 130.5px,#f22 0 131.95px,#f77 0 133.4px,#55f 0 134.85px,#88f 0 136.3px,#99f 0 137.75px,#00f 0 139.2px,#cae 0 140.65px,#66f 0 142.1px,#55f 0 143.55px,#f77 0 145px,#d68 0 146.45px,#88f 0 147.9px,#66f 0 149.35px,#f44 0 150.8px,#c48 0 152.25px,#33f 0 153.7px,#f33 0 155.15px,#e89 0 156.6px,#44f 0 158.05px,#33f 0 159.5px,#66f 0 160.95px,#44f 0 162.4px,#f88 0 163.85px,#b7b 0 165.3px,#f33 0 166.75px,#66f 0 168.2px,#f66 0 169.65px,#fff 0 171.1px,#55f 0 172.55px,#33f 0 174px,#66f 0 175.45px,#fcc 0 176.9px,#d68 0 178.35px,#a6b 0 179.8px,#88f 0 181.25px,#f99 0 182.7px,#818 0 184.15px,#99f 0 185.6px,#55f 0 187.05px,#b8c 0 188.5px,#22f 0 189.95px,#aaf 0 191.4px,#a38 0 192.85px,#44f 0 195.75px,#aaf 0 197.2px,#ddf 0 198.65px,#bbf 0 200.1px,#918 0 201.55px,#66f 0 203px,#77f 0 204.45px,#22f 0 205.9px,#f55 0 207.35px,#f22 0 208.8px,#83b 0 210.25px,#87e 0 211.7px,#b7b 0 213.15px,#d8a 0 214.6px,#f88 0 216.05px,#fdd 0 217.5px,#66f 0 218.95px,#bae 0 220.4px,#98d 0 221.85px,#b9e 0 223.3px,#d78 0 224.75px,#88f 0 226.2px,#819 0 227.65px,#aaf 0 229.1px,#66f 0 230.55px,#aaf 0 232px,#00f 0 232.5px)"></div>
<div class="h" style="left:1021px;top:728.15px;width:90px;height:19.14px;background:linear-gradient(90deg,#f55 0 1.45px,#f00 0 4.35px,#f33 0 5.8px,#f00 0 7.25px,#fee 0 8.7px,#fdd 0 10.15px,#f00 0 11.6px,#f55 0 13.05px,#f33 0 14.5px,#f44 0 15.95px,#f00 0 17.4px,#95b 0 18.85px,#f55 0 20.3px,#f66 0 21.75px,#f44 0 23.2px,#aaf 0 24.65px,#f33 0 27.55px,#f77 0 29px,#94a 0 30.45px,#f44 0 31.9px,#e88 0 33.35px,#f55 0 34.8px,#98e 0 36.25px,#f33 0 37.7px,#f00 0 39.15px,#f88 0 40.6px,#939 0 42.05px,#f00 0 46.4px,#85d 0 47.85px,#ddf 0 49.3px,#f22 0 50.75px,#f00 0 52.2px,#f66 0 53.65px,#f44 0 56.55px,#f00 0 59.45px,#f11 0 62.35px,#f00 0 65.25px,#e89 0 66.7px,#fcc 0 68.15px,#f33 0 69.6px,#f44 0 71.05px,#f11 0 73.95px,#f00 0 75.4px,#f77 0 76.85px,#f33 0 78.3px,#f55 0 79.75px,#f88 0 81.2px,#f00 0 82.65px,#f33 0 84.1px,#faa 0 85.55px,#f55 0 87px,#faa 0 88.45px,#f00 0 89.9px,#f77 0 90px)"></div>
<div class="h" style="left:785px;top:747.24px;width:232.5px;height:19.14px;background:linear-gradient(90deg,#f33 0 1.45px,#55f 0 2.9px,#f77 0 4.35px,#aaf 0 5.8px,#83a 0 7.25px,#fff 0 8.7px,#00f 0 10.15px,#ccf 0 11.6px,#918 0 13.05px,#faa 0 14.5px,#818 0 15.95px,#a38 0 17.4px,#66f 0 18.85px,#fff 0 20.3px,#66f 0 21.75px,#819 0 23.2px,#66f 0 24.65px,#819 0 26.1px,#55f 0 27.55px,#77f 0 29px,#ccf 0 30.45px,#fee 0 31.9px,#ddf 0 33.35px,#99f 0 34.8px,#808 0 36.25px,#a6b 0 37.7px,#f66 0 39.15px,#eef 0 40.6px,#55f 0 42.05px,#cad 0 43.5px,#33f 0 44.95px,#66f 0 46.4px,#829 0 47.85px,#00f 0 49.3px,#f99 0 50.75px,#bbf 0 52.2px,#00f 0 53.65px,#66f 0 55.1px,#cad 0 56.55px,#86d 0 58px,#55f 0 59.45px,#f66 0 60.9px,#fee 0 62.35px,#33f 0 63.8px,#77f 0 65.25px,#99f 0 66.7px,#66f 0 68.15px,#f55 0 69.6px,#f66 0 71.05px,#55f 0 72.5px,#f99 0 73.95px,#c48 0 75.4px,#66f 0 76.85px,#c69 0 78.3px,#c7a 0 79.75px,#55f 0 81.2px,#aaf 0 82.65px,#ddf 0 84.1px,#00f 0 85.55px,#94a 0 87px,#88f 0 88.45px,#f99 0 89.9px,#00f 0 91.35px,#44f 0 92.8px,#b8c 0 94.25px,#f99 0 95.7px,#ccf 0 98.6px,#d9b 0 100.05px,#939 0 101.5px,#99f 0 102.95px,#98e 0 104.4px,#88f 0 105.85px,#dde 0 107.3px,#a6b 0 108.75px,#edf 0 110.2px,#f55 0 111.65px,#84b 0 113.1px,#88f 0 114.55px,#84b 0 116px,#f66 0 117.45px,#939 0 118.9px,#88f 0 120.35px,#b7c 0 121.8px,#83a 0 123.25px,#66f 0 124.7px,#86d 0 126.15px,#55f 0 127.6px,#77f 0 129.05px,#cad 0 130.5px,#11f 0 131.95px,#a38 0 133.4px,#fdd 0 134.85px,#66f 0 136.3px,#cad 0 137.75px,#f55 0 139.2px,#b8c 0 140.65px,#b38 0 142.1px,#a49 0 143.55px,#77f 0 145px,#ccf 0 146.45px,#00f 0 147.9px,#f11 0 149.35px,#829 0 150.8px,#fee 0 152.25px,#f55 0 153.7px,#eef 0 155.15px,#fff 0 156.6px,#ccf 0 158.05px,#c7a 0 160.95px,#33f 0 163.85px,#77f 0 165.3px,#f88 0 166.75px,#f99 0 168.2px,#85d 0 169.65px,#33f 0 171.1px,#aaf 0 172.55px,#b8c 0 174px,#66f 0 175.45px,#88f 0 176.9px,#33f 0 178.35px,#bbf 0 179.8px,#aaf 0 181.25px,#dac 0 182.7px,#b6a 0 184.15px,#cad 0 185.6px,#84c 0 187.05px,#66f 0 188.5px,#f22 0 189.95px,#77f 0 191.4px,#22f 0 192.85px,#55f 0 194.3px,#b8c 0 195.75px,#55f 0 197.2px,#88f 0 198.65px,#f66 0 200.1px,#00f 0 201.55px,#f77 0 203px,#f44 0 204.45px,#f00 0 205.9px,#faa 0 207.35px,#33f 0 208.8px,#66f 0 210.25px,#55f 0 211.7px,#00f 0 214.6px,#44f 0 216.05px,#99f 0 217.5px,#aaf 0 218.95px,#66f 0 220.4px,#f44 0 221.85px,#d8a 0 223.3px,#a6b 0 224.75px,#44f 0 226.2px,#c58 0 227.65px,#f00 0 229.1px,#98e 0 230.55px,#a6b 0 232px,#faa 0 232.5px)"></div>
<div class="h" style="left:1021px;top:747.24px;width:90px;height:19.14px;background:linear-gradient(90deg,#f22 0 1.45px,#f55 0 2.9px,#f77 0 4.35px,#f11 0 5.8px,#808 0 7.25px,#f66 0 8.7px,#f77 0 10.15px,#f22 0 11.6px,#938 0 13.05px,#808 0 14.5px,#fff 0 15.95px,#f77 0 17.4px,#f22 0 18.85px,#faa 0 20.3px,#f11 0 21.75px,#f77 0 23.2px,#f55 0 24.65px,#fcc 0 26.1px,#f00 0 27.55px,#f33 0 29px,#f00 0 30.45px,#f44 0 31.9px,#f77 0 33.35px,#f00 0 34.8px,#84c 0 36.25px,#f66 0 39.15px,#f44 0 40.6px,#f33 0 42.05px,#f88 0 43.5px,#f22 0 44.95px,#f11 0 46.4px,#f22 0 47.85px,#f11 0 49.3px,#f44 0 50.75px,#f11 0 52.2px,#f33 0 53.65px,#faa 0 55.1px,#f22 0 56.55px,#f00 0 58px,#f44 0 59.45px,#f55 0 60.9px,#f66 0 62.35px,#f22 0 63.8px,#f33 0 65.25px,#f66 0 66.7px,#85d 0 68.15px,#f78 0 69.6px,#f33 0 71.05px,#f44 0 72.5px,#00f 0 73.95px,#f44 0 75.4px,#44f 0 76.85px,#f44 0 78.3px,#f88 0 79.75px,#f33 0 81.2px,#f00 0 82.65px,#f88 0 84.1px,#f66 0 85.55px,#f44 0 87px,#f22 0 88.45px,#faa 0 89.9px,#f88 0 90px)"></div>
<div class="h" style="left:785px;top:766.33px;width:232.5px;height:19.14px;background:linear-gradient(90deg,#b7b 0 1.45px,#f99 0 2.9px,#96c 0 4.35px,#f66 0 5.8px,#22f 0 7.25px,#f44 0 8.7px,#00f 0 10.15px,#66f 0 11.6px,#95b 0 13.05px,#66f 0 14.5px,#a7d 0 15.95px,#f99 0 17.4px,#f33 0 18.85px,#00f 0 20.3px,#c58 0 21.75px,#a8d 0 23.2px,#b7b 0 24.65px,#00f 0 26.1px,#f33 0 27.55px,#88f 0 29px,#44f 0 30.45px,#808 0 31.9px,#00f 0 33.35px,#aaf 0 34.8px,#88f 0 36.25px,#66f 0 37.7px,#88f 0 39.15px,#bbf 0 40.6px,#33f 0 42.05px,#b48 0 43.5px,#84b 0 44.95px,#fcc 0 46.4px,#a9e 0 47.85px,#829 0 49.3px,#66f 0 50.75px,#97c 0 52.2px,#c58 0 53.65px,#c8b 0 55.1px,#77f 0 56.55px,#d79 0 58px,#55f 0 59.45px,#f33 0 60.9px,#f00 0 62.35px,#c7a 0 63.8px,#82a 0 65.25px,#88f 0 66.7px,#f00 0 68.15px,#55f 0 69.6px,#88f 0 71.05px,#22f 0 72.5px,#ccf 0 73.95px,#44f 0 75.4px,#a6a 0 76.85px,#dcf 0 78.3px,#a7c 0 79.75px,#bad 0 81.2px,#a48 0 82.65px,#33f 0 84.1px,#66f 0 85.55px,#ccf 0 87px,#11f 0 88.45px,#88f 0 89.9px,#00f 0 91.35px,#66f 0 92.8px,#77f 0 95.7px,#88f 0 97.15px,#cbf 0 98.6px,#fdd 0 100.05px,#808 0 101.5px,#a28 0 102.95px,#88f 0 104.4px,#bbf 0 105.85px,#a38 0 107.3px,#44f 0 110.2px,#ccf 0 111.65px,#88f 0 113.1px,#a7c 0 114.55px,#86d 0 116px,#83b 0 118.9px,#22f 0 120.35px,#bbf 0 121.8px,#f22 0 123.25px,#c58 0 124.7px,#82a 0 126.15px,#99f 0 127.6px,#aaf 0 129.05px,#55f 0 130.5px,#f66 0 131.95px,#a5a 0 133.4px,#f66 0 134.85px,#66f 0 136.3px,#00f 0 137.75px,#f22 0 139.2px,#83a 0 140.65px,#44f 0 142.1px,#cce 0 143.55px,#66f 0 145px,#77f 0 146.45px,#c58 0 147.9px,#77f 0 149.35px,#f77 0 150.8px,#b6b 0 152.25px,#f33 0 153.7px,#00f 0 155.15px,#dbd 0 156.6px,#829 0 158.05px,#818 0 159.5px,#b9d 0 160.95px,#c58 0 162.4px,#44f 0 163.85px,#c7a 0 165.3px,#eef 0 166.75px,#55f 0 168.2px,#22f 0 169.65px,#66f 0 171.1px,#44f 0 172.55px,#aaf 0 174px,#88f 0 175.45px,#f00 0 176.9px,#eab 0 178.35px,#f00 0 179.8px,#f44 0 181.25px,#44f 0 182.7px,#66f 0 184.15px,#55f 0 185.6px,#86d 0 187.05px,#bbf 0 188.5px,#a48 0 189.95px,#77f 0 191.4px,#55f 0 192.85px,#e9a 0 194.3px,#f00 0 195.75px,#66f 0 197.2px,#bbf 0 198.65px,#cbe 0 200.1px,#fcc 0 201.55px,#88f 0 203px,#66f 0 204.45px,#819 0 205.9px,#c7a 0 207.35px,#66f 0 208.8px,#88f 0 210.25px,#bbf 0 211.7px,#44f 0 213.15px,#99f 0 214.6px,#33f 0 216.05px,#77f 0 217.5px,#f44 0 218.95px,#808 0 220.4px,#fee 0 221.85px,#55f 0 223.3px,#99f 0 224.75px,#55f 0 226.2px,#86d 0 227.65px,#f00 0 229.1px,#88f 0 230.55px,#f88 0 232px,#00f 0 232.5px)"></div>
<div class="h" style="left:1021px;top:766.33px;width:90px;height:19.14px;background:linear-gradient(90deg,#faa 0 1.45px,#f33 0 2.9px,#f55 0 4.35px,#f33 0 5.8px,#f00 0 7.25px,#f44 0 8.7px,#b6a 0 10.15px,#f66 0 11.6px,#f00 0 13.05px,#f44 0 14.5px,#f22 0 15.95px,#f33 0 17.4px,#928 0 18.85px,#f55 0 20.3px,#f66 0 21.75px,#f33 0 23.2px,#f55 0 26.1px,#c7a 0 27.55px,#83a 0 29px,#f44 0 30.45px,#fdd 0 31.9px,#f00 0 33.35px,#f22 0 36.25px,#f00 0 37.7px,#faa 0 39.15px,#fbb 0 40.6px,#f00 0 42.05px,#f11 0 43.5px,#f33 0 44.95px,#f77 0 46.4px,#f22 0 47.85px,#fbb 0 49.3px,#f33 0 50.75px,#f88 0 52.2px,#faa 0 53.65px,#f44 0 55.1px,#f88 0 56.55px,#f33 0 58px,#f99 0 59.45px,#83a 0 60.9px,#86d 0 62.35px,#f22 0 65.25px,#f66 0 66.7px,#a7c 0 68.15px,#f66 0 69.6px,#f99 0 71.05px,#f22 0 72.5px,#f66 0 73.95px,#f77 0 75.4px,#f00 0 78.3px,#a28 0 79.75px,#f11 0 81.2px,#00f 0 82.65px,#f66 0 84.1px,#f00 0 85.55px,#e68 0 87px,#f55 0 88.45px,#f77 0 89.9px,#f00 0 90px)"></div>
<div class="h" style="left:785px;top:785.42px;width:232.5px;height:19.14px;background:linear-gradient(90deg,#f00 0 1.45px,#fbb 0 2.9px,#66f 0 4.35px,#11f 0 5.8px,#f66 0 7.25px,#ccf 0 8.7px,#e79 0 10.15px,#b5a 0 11.6px,#55f 0 13.05px,#f00 0 14.5px,#33f 0 15.95px,#f88 0 17.4px,#77f 0 21.75px,#f66 0 23.2px,#b59 0 24.65px,#77f 0 26.1px,#f88 0 27.55px,#f22 0 29px,#44f 0 30.45px,#f88 0 31.9px,#faa 0 33.35px,#ecd 0 34.8px,#f77 0 36.25px,#f88 0 37.7px,#22f 0 39.15px,#c48 0 40.6px,#88f 0 42.05px,#fbb 0 43.5px,#c69 0 44.95px,#97d 0 46.4px,#22f 0 47.85px,#bbf 0 49.3px,#55f 0 50.75px,#f55 0 52.2px,#96d 0 53.65px,#dce 0 55.1px,#66f 0 58px,#82a 0 59.45px,#f33 0 60.9px,#22f 0 62.35px,#99f 0 63.8px,#22f 0 65.25px,#f22 0 66.7px,#f00 0 69.6px,#99f 0 71.05px,#11f 0 72.5px,#84c 0 73.95px,#a8d 0 75.4px,#a5a 0 76.85px,#55f 0 78.3px,#f55 0 79.75px,#33f 0 81.2px,#fcc 0 82.65px,#44f 0 84.1px,#83b 0 85.55px,#dac 0 87px,#f33 0 88.45px,#918 0 89.9px,#eab 0 91.35px,#66f 0 92.8px,#94a 0 94.25px,#77f 0 95.7px,#e79 0 97.15px,#66f 0 98.6px,#a4a 0 100.05px,#22f 0 101.5px,#95b 0 102.95px,#44f 0 104.4px,#aaf 0 105.85px,#00f 0 107.3px,#fbb 0 108.75px,#66f 0 110.2px,#11f 0 111.65px,#96c 0 113.1px,#d58 0 114.55px,#33f 0 116px,#44f 0 117.45px,#83a 0 118.9px,#11f 0 120.35px,#66f 0 121.8px,#87e 0 123.25px,#22f 0 124.7px,#b48 0 126.15px,#33f 0 127.6px,#b8c 0 129.05px,#f00 0 130.5px,#77f 0 131.95px,#928 0 133.4px,#44f 0 134.85px,#77f 0 136.3px,#f55 0 137.75px,#f44 0 139.2px,#bbf 0 140.65px,#b7b 0 142.1px,#faa 0 143.55px,#dde 0 145px,#aaf 0 146.45px,#55f 0 147.9px,#e9a 0 149.35px,#83a 0 150.8px,#f55 0 152.25px,#f88 0 153.7px,#77f 0 155.15px,#faa 0 156.6px,#55f 0 158.05px,#bbf 0 159.5px,#a9e 0 160.95px,#928 0 162.4px,#c58 0 163.85px,#99f 0 165.3px,#bbf 0 166.75px,#808 0 168.2px,#33f 0 169.65px,#22f 0 171.1px,#33f 0 172.55px,#bad 0 174px,#ccf 0 175.45px,#a7d 0 176.9px,#f77 0 178.35px,#faa 0 179.8px,#f99 0 181.25px,#a6b 0 182.7px,#86e 0 184.15px,#94a 0 185.6px,#fdd 0 187.05px,#c69 0 188.5px,#22f 0 189.95px,#84c 0 191.4px,#a38 0 192.85px,#66f 0 194.3px,#f99 0 195.75px,#f55 0 197.2px,#55f 0 198.65px,#85c 0 200.1px,#88f 0 201.55px,#f00 0 203px,#dab 0 204.45px,#77f 0 205.9px,#fde 0 207.35px,#aaf 0 208.8px,#44f 0 210.25px,#99f 0 211.7px,#00f 0 213.15px,#fbb 0 214.6px,#88e 0 216.05px,#84b 0 217.5px,#77f 0 218.95px,#edd 0 220.4px,#aaf 0 221.85px,#a48 0 223.3px,#55f 0 224.75px,#33f 0 226.2px,#88f 0 227.65px,#44f 0 229.1px,#11f 0 230.55px,#88f 0 232px,#55f 0 232.5px)"></div>
<div class="h" style="left:1021px;top:785.42px;width:90px;height:19.14px;background:linear-gradient(90deg,#f11 0 1.45px,#f99 0 2.9px,#e78 0 4.35px,#f00 0 5.8px,#fdd 0 7.25px,#f44 0 8.7px,#f22 0 10.15px,#f44 0 11.6px,#f55 0 13.05px,#f88 0 14.5px,#fbb 0 15.95px,#f77 0 17.4px,#f55 0 18.85px,#faa 0 20.3px,#f00 0 21.75px,#fde 0 23.2px,#85c 0 24.65px,#f11 0 26.1px,#e68 0 27.55px,#f00 0 29px,#f11 0 30.45px,#f88 0 33.35px,#e78 0 34.8px,#f99 0 36.25px,#f77 0 37.7px,#fbb 0 39.15px,#f44 0 40.6px,#f88 0 42.05px,#f66 0 43.5px,#f33 0 44.95px,#faa 0 46.4px,#f00 0 47.85px,#f66 0 49.3px,#66f 0 50.75px,#f33 0 53.65px,#f66 0 55.1px,#f11 0 56.55px,#f44 0 58px,#f77 0 59.45px,#f55 0 60.9px,#f00 0 62.35px,#f66 0 63.8px,#faa 0 65.25px,#f55 0 66.7px,#c7a 0 68.15px,#f22 0 69.6px,#f44 0 71.05px,#f22 0 72.5px,#918 0 73.95px,#f44 0 76.85px,#f00 0 78.3px,#f33 0 79.75px,#fff 0 81.2px,#f22 0 82.65px,#f11 0 85.55px,#f22 0 87px,#f44 0 88.45px,#f33 0 89.9px,#f99 0 90px)"></div>
<div class="h" style="left:785px;top:804.51px;width:232.5px;height:19.14px;background:linear-gradient(90deg,#918 0 1.45px,#88f 0 2.9px,#99f 0 4.35px,#66f 0 5.8px,#bbf 0 7.25px,#f66 0 8.7px,#b69 0 10.15px,#66f 0 11.6px,#a6b 0 13.05px,#44f 0 14.5px,#55f 0 15.95px,#99f 0 17.4px,#66f 0 18.85px,#55f 0 20.3px,#88f 0 21.75px,#b69 0 23.2px,#f66 0 24.65px,#33f 0 26.1px,#a38 0 27.55px,#f55 0 29px,#44f 0 30.45px,#f33 0 31.9px,#b6b 0 33.35px,#88f 0 34.8px,#66f 0 36.25px,#33f 0 37.7px,#f33 0 39.15px,#b38 0 40.6px,#a7c 0 42.05px,#83a 0 43.5px,#00f 0 44.95px,#44f 0 46.4px,#83a 0 47.85px,#dce 0 49.3px,#bbf 0 52.2px,#f44 0 53.65px,#a7c 0 55.1px,#86c 0 56.55px,#f66 0 58px,#ccf 0 59.45px,#b59 0 60.9px,#55f 0 62.35px,#f00 0 63.8px,#11f 0 65.25px,#fbb 0 66.7px,#cad 0 68.15px,#44f 0 69.6px,#bbf 0 71.05px,#f00 0 73.95px,#77f 0 75.4px,#aaf 0 76.85px,#88f 0 78.3px,#f33 0 79.75px,#cad 0 81.2px,#d8a 0 82.65px,#a48 0 84.1px,#00f 0 85.55px,#77f 0 88.45px,#22f 0 89.9px,#d9b 0 91.35px,#77f 0 92.8px,#83b 0 94.25px,#a59 0 95.7px,#33f 0 97.15px,#aaf 0 98.6px,#c58 0 100.05px,#44f 0 101.5px,#e9a 0 102.95px,#55f 0 104.4px,#dce 0 105.85px,#f33 0 108.75px,#00f 0 110.2px,#44f 0 111.65px,#00f 0 113.1px,#84c 0 114.55px,#66f 0 116px,#b7b 0 117.45px,#bbf 0 120.35px,#b8b 0 121.8px,#f66 0 123.25px,#99f 0 124.7px,#f88 0 126.15px,#84b 0 127.6px,#b5a 0 129.05px,#66f 0 130.5px,#d79 0 131.95px,#829 0 133.4px,#83a 0 134.85px,#b7b 0 136.3px,#839 0 137.75px,#44f 0 139.2px,#b48 0 140.65px,#f00 0 142.1px,#88f 0 143.55px,#f88 0 145px,#b59 0 146.45px,#aaf 0 147.9px,#c8b 0 149.35px,#f22 0 150.8px,#86d 0 152.25px,#66f 0 153.7px,#918 0 155.15px,#55f 0 156.6px,#819 0 158.05px,#ccf 0 159.5px,#55f 0 160.95px,#f88 0 162.4px,#818 0 163.85px,#819 0 165.3px,#c8b 0 166.75px,#f44 0 168.2px,#84b 0 169.65px,#ccf 0 171.1px,#99f 0 172.55px,#00f 0 175.45px,#aaf 0 176.9px,#fcc 0 178.35px,#97d 0 179.8px,#f99 0 181.25px,#f44 0 182.7px,#33f 0 184.15px,#d9a 0 185.6px,#44f 0 187.05px,#f99 0 188.5px,#55f 0 189.95px,#a6b 0 191.4px,#aaf 0 192.85px,#33f 0 194.3px,#f22 0 195.75px,#f55 0 197.2px,#33f 0 198.65px,#a49 0 200.1px,#c48 0 201.55px,#77f 0 203px,#b7b 0 204.45px,#55f 0 205.9px,#f33 0 207.35px,#88f 0 208.8px,#f99 0 210.25px,#77f 0 211.7px,#fcc 0 213.15px,#f44 0 214.6px,#cad 0 216.05px,#77f 0 217.5px,#b9d 0 218.95px,#11f 0 220.4px,#87f 0 221.85px,#33f 0 223.3px,#55f 0 224.75px,#22f 0 226.2px,#33f 0 227.65px,#77f 0 229.1px,#55f 0 230.55px,#b8c 0 232px,#55f 0 232.5px)"></div>
<div class="h" style="left:1021px;top:804.51px;width:90px;height:19.14px;background:linear-gradient(90deg,#f88 0 1.45px,#f77 0 2.9px,#f00 0 4.35px,#f11 0 5.8px,#f99 0 7.25px,#f55 0 8.7px,#f11 0 10.15px,#f33 0 11.6px,#f66 0 13.05px,#f55 0 14.5px,#f00 0 15.95px,#f22 0 17.4px,#f33 0 18.85px,#f66 0 20.3px,#f33 0 21.75px,#c58 0 23.2px,#f44 0 24.65px,#f55 0 26.1px,#f00 0 27.55px,#f66 0 29px,#f44 0 30.45px,#f66 0 31.9px,#f55 0 33.35px,#f33 0 34.8px,#f00 0 36.25px,#f66 0 37.7px,#f88 0 39.15px,#97d 0 40.6px,#f44 0 42.05px,#fff 0 43.5px,#f11 0 44.95px,#f44 0 46.4px,#f00 0 47.85px,#fbb 0 49.3px,#f00 0 50.75px,#f22 0 52.2px,#99f 0 53.65px,#f33 0 55.1px,#f55 0 56.55px,#f22 0 58px,#f44 0 59.45px,#f11 0 60.9px,#fcc 0 62.35px,#f22 0 63.8px,#f44 0 65.25px,#a28 0 66.7px,#f44 0 68.15px,#f66 0 69.6px,#f33 0 72.5px,#f44 0 73.95px,#f22 0 75.4px,#faa 0 76.85px,#f66 0 78.3px,#f44 0 79.75px,#f33 0 81.2px,#f00 0 84.1px,#f55 0 85.55px,#fcc 0 87px,#f33 0 88.45px,#f44 0 89.9px,#f88 0 90px)"></div>
<div class="h" style="left:785px;top:823.6px;width:232.5px;height:19.14px;background:linear-gradient(90deg,#77f 0 1.45px,#faa 0 2.9px,#c8a 0 4.35px,#818 0 5.8px,#f66 0 7.25px,#a49 0 8.7px,#55f 0 10.15px,#f33 0 11.6px,#f44 0 13.05px,#84b 0 14.5px,#66f 0 15.95px,#f33 0 17.4px,#11f 0 18.85px,#faa 0 20.3px,#22f 0 21.75px,#aaf 0 23.2px,#fff 0 24.65px,#c8b 0 26.1px,#94b 0 27.55px,#00f 0 29px,#f22 0 30.45px,#f44 0 31.9px,#f77 0 33.35px,#b8c 0 34.8px,#818 0 36.25px,#f33 0 37.7px,#96c 0 39.15px,#fff 0 42.05px,#44f 0 43.5px,#e78 0 44.95px,#c8b 0 46.4px,#00f 0 47.85px,#dac 0 49.3px,#f11 0 50.75px,#faa 0 52.2px,#918 0 53.65px,#83a 0 55.1px,#f11 0 56.55px,#fee 0 58px,#fbb 0 59.45px,#f77 0 60.9px,#f44 0 62.35px,#83a 0 63.8px,#f88 0 65.25px,#f44 0 66.7px,#bbf 0 68.15px,#f11 0 69.6px,#f99 0 71.05px,#f22 0 72.5px,#faa 0 73.95px,#a5a 0 75.4px,#f77 0 76.85px,#f99 0 78.3px,#bbf 0 79.75px,#f33 0 81.2px,#808 0 82.65px,#66f 0 84.1px,#e78 0 85.55px,#f99 0 87px,#d9b 0 88.45px,#33f 0 89.9px,#faa 0 91.35px,#aaf 0 92.8px,#f33 0 94.25px,#87f 0 95.7px,#f55 0 97.15px,#a5a 0 98.6px,#d58 0 100.05px,#f44 0 101.5px,#f77 0 102.95px,#a38 0 104.4px,#00f 0 105.85px,#87e 0 107.3px,#f55 0 108.75px,#a8c 0 110.2px,#f88 0 111.65px,#d8a 0 113.1px,#f55 0 114.55px,#b48 0 116px,#a5a 0 117.45px,#fdd 0 118.9px,#a7c 0 120.35px,#fbb 0 121.8px,#f22 0 123.25px,#f00 0 124.7px,#f88 0 126.15px,#f77 0 127.6px,#f33 0 129.05px,#f00 0 130.5px,#96c 0 131.95px,#f00 0 133.4px,#f77 0 134.85px,#d79 0 136.3px,#84c 0 137.75px,#f99 0 139.2px,#00f 0 140.65px,#f11 0 142.1px,#22f 0 143.55px,#eab 0 145px,#c8b 0 146.45px,#f66 0 147.9px,#c58 0 149.35px,#f99 0 150.8px,#66f 0 152.25px,#f88 0 153.7px,#55f 0 155.15px,#a6b 0 156.6px,#f44 0 158.05px,#55f 0 159.5px,#82a 0 160.95px,#77f 0 162.4px,#a5b 0 163.85px,#f77 0 165.3px,#83a 0 166.75px,#33f 0 168.2px,#86d 0 169.65px,#e78 0 171.1px,#ebc 0 172.55px,#a5a 0 174px,#88f 0 175.45px,#66f 0 178.35px,#faa 0 179.8px,#aaf 0 181.25px,#f77 0 182.7px,#f11 0 184.15px,#22f 0 185.6px,#a38 0 187.05px,#f99 0 188.5px,#96b 0 189.95px,#44f 0 191.4px,#f44 0 192.85px,#86d 0 194.3px,#00f 0 195.75px,#f99 0 197.2px,#fcc 0 198.65px,#f99 0 200.1px,#f55 0 201.55px,#c58 0 203px,#99f 0 204.45px,#f44 0 205.9px,#77f 0 207.35px,#f66 0 208.8px,#cad 0 210.25px,#77f 0 211.7px,#f66 0 213.15px,#33f 0 214.6px,#f00 0 216.05px,#fdd 0 217.5px,#fbb 0 218.95px,#f11 0 220.4px,#f33 0 221.85px,#66f 0 223.3px,#f77 0 224.75px,#22f 0 226.2px,#faa 0 227.65px,#aaf 0 229.1px,#84c 0 230.55px,#829 0 232px,#b48 0 232.5px)"></div>
<div class="h" style="left:1021px;top:823.6px;width:90px;height:19.14px;background:linear-gradient(90deg,#77f 0 1.45px,#22f 0 4.35px,#55f 0 5.8px,#33f 0 7.25px,#aaf 0 8.7px,#b38 0 10.15px,#84c 0 11.6px,#77f 0 13.05px,#99f 0 14.5px,#44f 0 15.95px,#00f 0 17.4px,#22f 0 18.85px,#00f 0 21.75px,#829 0 23.2px,#88f 0 24.65px,#77f 0 26.1px,#33f 0 27.55px,#66f 0 29px,#00f 0 30.45px,#a7c 0 31.9px,#00f 0 33.35px,#66f 0 34.8px,#aaf 0 36.25px,#22f 0 37.7px,#88f 0 39.15px,#44f 0 42.05px,#33f 0 43.5px,#f00 0 44.95px,#11f 0 46.4px,#bbf 0 47.85px,#55f 0 49.3px,#88f 0 50.75px,#f99 0 52.2px,#f11 0 53.65px,#00f 0 55.1px,#f11 0 56.55px,#c58 0 58px,#44f 0 59.45px,#f00 0 60.9px,#44f 0 62.35px,#33f 0 63.8px,#44f 0 65.25px,#b59 0 66.7px,#f55 0 68.15px,#66f 0 69.6px,#818 0 71.05px,#f00 0 72.5px,#11f 0 73.95px,#a59 0 75.4px,#55f 0 76.85px,#88f 0 78.3px,#c7b 0 79.75px,#33f 0 81.2px,#44f 0 82.65px,#a7c 0 84.1px,#00f 0 85.55px,#f55 0 87px,#33f 0 88.45px,#00f 0 89.9px,#88f 0 90px)"></div>
<div class="h" style="left:785px;top:842.69px;width:232.5px;height:19.14px;background:linear-gradient(90deg,#a7c 0 1.45px,#85d 0 2.9px,#dbc 0 4.35px,#bbf 0 5.8px,#f99 0 8.7px,#808 0 10.15px,#f55 0 11.6px,#83b 0 13.05px,#77f 0 14.5px,#66f 0 15.95px,#f88 0 17.4px,#00f 0 18.85px,#f55 0 20.3px,#33f 0 21.75px,#f66 0 23.2px,#cad 0 24.65px,#aaf 0 26.1px,#fee 0 27.55px,#fbc 0 29px,#818 0 30.45px,#ecd 0 31.9px,#a28 0 33.35px,#faa 0 34.8px,#55f 0 36.25px,#fee 0 37.7px,#f77 0 39.15px,#fcc 0 40.6px,#f55 0 42.05px,#77f 0 43.5px,#00f 0 44.95px,#f66 0 46.4px,#33f 0 47.85px,#808 0 49.3px,#fbb 0 50.75px,#b48 0 52.2px,#f88 0 53.65px,#f33 0 55.1px,#928 0 56.55px,#f22 0 58px,#c58 0 59.45px,#98e 0 60.9px,#f77 0 62.35px,#fdd 0 63.8px,#f00 0 65.25px,#f88 0 66.7px,#85c 0 68.15px,#918 0 69.6px,#818 0 71.05px,#f11 0 72.5px,#f78 0 73.95px,#97d 0 75.4px,#88f 0 76.85px,#faa 0 78.3px,#fbb 0 79.75px,#f22 0 81.2px,#f55 0 82.65px,#c48 0 84.1px,#fdd 0 85.55px,#aaf 0 87px,#b59 0 88.45px,#f66 0 89.9px,#85b 0 91.35px,#faa 0 92.8px,#b59 0 94.25px,#99f 0 95.7px,#928 0 97.15px,#f66 0 98.6px,#c48 0 100.05px,#ccf 0 101.5px,#f99 0 102.95px,#88f 0 104.4px,#f99 0 105.85px,#77f 0 107.3px,#939 0 108.75px,#f88 0 110.2px,#44f 0 111.65px,#ddf 0 113.1px,#95b 0 114.55px,#f99 0 116px,#819 0 117.45px,#f88 0 118.9px,#a38 0 120.35px,#33f 0 121.8px,#99f 0 123.25px,#f77 0 124.7px,#f66 0 126.15px,#33f 0 127.6px,#faa 0 129.05px,#dbd 0 130.5px,#f66 0 131.95px,#bbf 0 133.4px,#a5b 0 134.85px,#808 0 136.3px,#66f 0 137.75px,#f55 0 139.2px,#77f 0 140.65px,#fcc 0 142.1px,#f99 0 143.55px,#fcc 0 145px,#f88 0 146.45px,#f00 0 147.9px,#cbd 0 149.35px,#f44 0 150.8px,#88f 0 152.25px,#f88 0 153.7px,#a38 0 155.15px,#86d 0 156.6px,#949 0 158.05px,#a5a 0 159.5px,#f00 0 160.95px,#f88 0 162.4px,#c79 0 163.85px,#84b 0 165.3px,#95b 0 166.75px,#f22 0 168.2px,#f55 0 169.65px,#918 0 171.1px,#f66 0 172.55px,#b9d 0 174px,#f33 0 175.45px,#f11 0 176.9px,#f77 0 178.35px,#f33 0 179.8px,#88f 0 181.25px,#33f 0 182.7px,#f33 0 184.15px,#fee 0 185.6px,#f44 0 187.05px,#918 0 188.5px,#00f 0 189.95px,#f00 0 192.85px,#00f 0 194.3px,#44f 0 195.75px,#ccf 0 197.2px,#949 0 198.65px,#ccf 0 200.1px,#f77 0 201.55px,#ccf 0 203px,#f77 0 204.45px,#f00 0 205.9px,#66f 0 207.35px,#f33 0 208.8px,#99f 0 210.25px,#f77 0 211.7px,#fcc 0 213.15px,#97c 0 214.6px,#f00 0 216.05px,#f88 0 217.5px,#f77 0 218.95px,#928 0 220.4px,#fff 0 221.85px,#808 0 223.3px,#818 0 224.75px,#f44 0 226.2px,#f88 0 227.65px,#f55 0 229.1px,#a6c 0 230.55px,#f66 0 232px,#f89 0 232.5px)"></div>
<div class="h" style="left:1021px;top:842.69px;width:90px;height:19.14px;background:linear-gradient(90deg,#11f 0 1.45px,#33f 0 2.9px,#22f 0 4.35px,#bbf 0 5.8px,#55f 0 7.25px,#ddf 0 8.7px,#88f 0 10.15px,#55f 0 11.6px,#99f 0 13.05px,#22f 0 14.5px,#11f 0 15.95px,#00f 0 17.4px,#77f 0 18.85px,#22f 0 20.3px,#66f 0 21.75px,#82a 0 23.2px,#00f 0 24.65px,#33f 0 29px,#66f 0 30.45px,#44f 0 31.9px,#88f 0 33.35px,#a9e 0 34.8px,#44f 0 36.25px,#33f 0 37.7px,#77f 0 39.15px,#83a 0 40.6px,#00f 0 43.5px,#bbf 0 44.95px,#00f 0 46.4px,#11f 0 47.85px,#55f 0 49.3px,#66f 0 50.75px,#00f 0 52.2px,#55f 0 53.65px,#aaf 0 56.55px,#66f 0 58px,#aaf 0 59.45px,#44f 0 60.9px,#88f 0 62.35px,#b8d 0 63.8px,#66f 0 65.25px,#33f 0 68.15px,#11f 0 69.6px,#33f 0 72.5px,#55f 0 73.95px,#22f 0 75.4px,#55f 0 76.85px,#00f 0 78.3px,#11f 0 79.75px,#a6b 0 81.2px,#22f 0 82.65px,#55f 0 84.1px,#85c 0 85.55px,#77f 0 87px,#33f 0 88.45px,#55f 0 89.9px,#44f 0 90px)"></div>
<div class="h" style="left:785px;top:861.78px;width:232.5px;height:19.14px;background:linear-gradient(90deg,#eab 0 1.45px,#99f 0 2.9px,#f11 0 4.35px,#f66 0 5.8px,#fbb 0 7.25px,#44f 0 8.7px,#818 0 10.15px,#f44 0 11.6px,#d68 0 13.05px,#aaf 0 14.5px,#f44 0 15.95px,#55f 0 17.4px,#f55 0 18.85px,#f33 0 20.3px,#66f 0 21.75px,#33f 0 23.2px,#f00 0 24.65px,#808 0 26.1px,#f44 0 27.55px,#33f 0 29px,#d8a 0 30.45px,#bbf 0 31.9px,#f77 0 33.35px,#44f 0 34.8px,#85c 0 36.25px,#f66 0 37.7px,#b59 0 39.15px,#99f 0 40.6px,#77f 0 42.05px,#82a 0 43.5px,#f77 0 44.95px,#77f 0 46.4px,#808 0 47.85px,#99f 0 49.3px,#cbe 0 50.75px,#faa 0 52.2px,#f33 0 53.65px,#f99 0 55.1px,#f11 0 56.55px,#f77 0 58px,#f55 0 59.45px,#f77 0 60.9px,#f33 0 62.35px,#f22 0 63.8px,#f88 0 65.25px,#939 0 66.7px,#b38 0 68.15px,#11f 0 69.6px,#f77 0 71.05px,#f44 0 72.5px,#818 0 73.95px,#fbb 0 75.4px,#faa 0 76.85px,#f88 0 78.3px,#00f 0 79.75px,#33f 0 81.2px,#b9d 0 82.65px,#f11 0 84.1px,#dac 0 85.55px,#808 0 87px,#f00 0 88.45px,#66f 0 89.9px,#818 0 91.35px,#66f 0 92.8px,#f00 0 94.25px,#66f 0 95.7px,#fbb 0 97.15px,#f66 0 98.6px,#66f 0 100.05px,#e68 0 101.5px,#f66 0 102.95px,#ccf 0 104.4px,#f66 0 105.85px,#dac 0 107.3px,#ecd 0 108.75px,#f00 0 110.2px,#f55 0 111.65px,#f44 0 113.1px,#87e 0 114.55px,#f66 0 116px,#83a 0 117.45px,#fdd 0 118.9px,#f33 0 120.35px,#ddf 0 121.8px,#c58 0 123.25px,#b9e 0 124.7px,#f33 0 126.15px,#c8b 0 127.6px,#e88 0 129.05px,#f99 0 130.5px,#eaa 0 131.95px,#84b 0 133.4px,#fcc 0 134.85px,#77f 0 136.3px,#f55 0 139.2px,#f11 0 140.65px,#939 0 142.1px,#f11 0 143.55px,#99f 0 145px,#edf 0 146.45px,#22f 0 147.9px,#f88 0 149.35px,#aaf 0 150.8px,#f00 0 152.25px,#dac 0 153.7px,#f78 0 155.15px,#b48 0 156.6px,#c8b 0 158.05px,#f44 0 159.5px,#83a 0 160.95px,#f22 0 162.4px,#f44 0 163.85px,#b59 0 165.3px,#77f 0 166.75px,#f33 0 168.2px,#94a 0 169.65px,#f22 0 172.55px,#f11 0 174px,#ecd 0 175.45px,#a5a 0 176.9px,#88f 0 178.35px,#00f 0 179.8px,#ebb 0 181.25px,#44f 0 182.7px,#77f 0 184.15px,#a7c 0 185.6px,#f88 0 187.05px,#f00 0 188.5px,#f22 0 189.95px,#f00 0 191.4px,#fdd 0 192.85px,#f00 0 194.3px,#b6a 0 195.75px,#ccf 0 197.2px,#96c 0 198.65px,#83a 0 200.1px,#faa 0 201.55px,#ede 0 203px,#00f 0 204.45px,#f33 0 205.9px,#f88 0 207.35px,#808 0 208.8px,#c48 0 210.25px,#99f 0 211.7px,#f55 0 213.15px,#55f 0 214.6px,#a7c 0 216.05px,#f22 0 217.5px,#f66 0 218.95px,#99f 0 220.4px,#a7d 0 221.85px,#f99 0 223.3px,#66f 0 224.75px,#ddf 0 226.2px,#faa 0 227.65px,#939 0 229.1px,#f33 0 230.55px,#f99 0 232px,#84c 0 232.5px)"></div>
<div class="h" style="left:1021px;top:861.78px;width:90px;height:19.14px;background:linear-gradient(90deg,#33f 0 1.45px,#88f 0 2.9px,#33f 0 4.35px,#44f 0 5.8px,#ccf 0 7.25px,#22f 0 8.7px,#99f 0 10.15px,#a9e 0 11.6px,#66f 0 13.05px,#33f 0 14.5px,#11f 0 15.95px,#22f 0 17.4px,#55f 0 18.85px,#11f 0 20.3px,#33f 0 21.75px,#11f 0 23.2px,#77f 0 24.65px,#aaf 0 26.1px,#11f 0 27.55px,#00f 0 30.45px,#44f 0 31.9px,#77f 0 33.35px,#66f 0 34.8px,#88f 0 36.25px,#55f 0 37.7px,#33f 0 39.15px,#829 0 40.6px,#44f 0 42.05px,#aaf 0 43.5px,#87e 0 44.95px,#22f 0 46.4px,#33f 0 47.85px,#88f 0 49.3px,#00f 0 50.75px,#11f 0 53.65px,#33f 0 55.1px,#11f 0 56.55px,#77f 0 58px,#44f 0 59.45px,#55f 0 60.9px,#44f 0 65.25px,#66f 0 66.7px,#00f 0 68.15px,#11f 0 69.6px,#22f 0 71.05px,#fdd 0 72.5px,#88f 0 73.95px,#99f 0 75.4px,#44f 0 76.85px,#aaf 0 78.3px,#ccf 0 79.75px,#fef 0 81.2px,#93a 0 82.65px,#00f 0 84.1px,#33f 0 85.55px,#aaf 0 87px,#66f 0 88.45px,#44f 0 89.9px,#66f 0 90px)"></div>
<div class="h" style="left:785px;top:880.87px;width:232.5px;height:19.14px;background:linear-gradient(90deg,#87e 0 1.45px,#f00 0 2.9px,#85d 0 4.35px,#22f 0 5.8px,#918 0 7.25px,#f88 0 10.15px,#f55 0 13.05px,#f88 0 14.5px,#e89 0 15.95px,#faa 0 17.4px,#f99 0 18.85px,#faa 0 20.3px,#fcc 0 21.75px,#77f 0 23.2px,#808 0 24.65px,#85c 0 26.1px,#98e 0 27.55px,#c48 0 29px,#a8e 0 30.45px,#88f 0 31.9px,#99f 0 33.35px,#84b 0 34.8px,#c58 0 37.7px,#c48 0 39.15px,#c8c 0 40.6px,#faa 0 42.05px,#f55 0 43.5px,#a7c 0 44.95px,#94b 0 46.4px,#f00 0 47.85px,#22f 0 49.3px,#77f 0 50.75px,#d79 0 52.2px,#faa 0 53.65px,#dac 0 55.1px,#a5a 0 56.55px,#a7c 0 58px,#f22 0 59.45px,#fcc 0 60.9px,#f66 0 62.35px,#c69 0 63.8px,#f77 0 65.25px,#f00 0 66.7px,#66f 0 68.15px,#faa 0 69.6px,#c7a 0 71.05px,#b38 0 72.5px,#f55 0 73.95px,#a5a 0 75.4px,#f44 0 76.85px,#f11 0 78.3px,#928 0 79.75px,#f44 0 81.2px,#939 0 82.65px,#a5a 0 84.1px,#22f 0 85.55px,#b48 0 87px,#e9a 0 88.45px,#dbd 0 89.9px,#99f 0 91.35px,#85b 0 92.8px,#97d 0 94.25px,#f77 0 95.7px,#faa 0 97.15px,#f78 0 98.6px,#88f 0 100.05px,#f44 0 101.5px,#f99 0 102.95px,#f22 0 104.4px,#f99 0 105.85px,#f77 0 107.3px,#87f 0 108.75px,#f66 0 110.2px,#f44 0 111.65px,#f22 0 113.1px,#c48 0 114.55px,#11f 0 116px,#77f 0 117.45px,#cbe 0 118.9px,#f88 0 120.35px,#e9a 0 121.8px,#f33 0 123.25px,#b48 0 124.7px,#f44 0 126.15px,#f88 0 127.6px,#808 0 129.05px,#f55 0 130.5px,#33f 0 131.95px,#88e 0 133.4px,#f00 0 134.85px,#11f 0 136.3px,#77f 0 137.75px,#a6b 0 139.2px,#dcf 0 140.65px,#dad 0 142.1px,#faa 0 143.55px,#f66 0 145px,#77f 0 146.45px,#f77 0 147.9px,#00f 0 149.35px,#f66 0 152.25px,#c69 0 153.7px,#ebd 0 155.15px,#b8b 0 156.6px,#fcc 0 158.05px,#ccf 0 159.5px,#f00 0 160.95px,#f33 0 162.4px,#c9c 0 163.85px,#f77 0 165.3px,#f22 0 166.75px,#f33 0 168.2px,#84b 0 169.65px,#faa 0 171.1px,#ccf 0 172.55px,#33f 0 174px,#99f 0 175.45px,#85c 0 176.9px,#939 0 178.35px,#f44 0 179.8px,#f33 0 181.25px,#f77 0 184.15px,#aaf 0 185.6px,#f99 0 187.05px,#88f 0 188.5px,#b48 0 189.95px,#aaf 0 191.4px,#fbb 0 192.85px,#f77 0 194.3px,#a6b 0 195.75px,#b7b 0 197.2px,#95b 0 198.65px,#77f 0 200.1px,#d68 0 201.55px,#f22 0 203px,#ebc 0 204.45px,#b59 0 205.9px,#00f 0 207.35px,#829 0 208.8px,#94a 0 210.25px,#f55 0 211.7px,#f66 0 213.15px,#b38 0 214.6px,#aaf 0 216.05px,#eef 0 217.5px,#f00 0 218.95px,#f33 0 220.4px,#f66 0 221.85px,#808 0 223.3px,#f88 0 224.75px,#f55 0 226.2px,#f22 0 227.65px,#f33 0 229.1px,#f44 0 230.55px,#77f 0 232px,#f00 0 232.5px)"></div>
<div class="h" style="left:1021px;top:880.87px;width:90px;height:19.14px;background:linear-gradient(90deg,#44f 0 1.45px,#22f 0 2.9px,#11f 0 4.35px,#00f 0 5.8px,#22f 0 7.25px,#11f 0 8.7px,#808 0 10.15px,#88f 0 11.6px,#b38 0 13.05px,#11f 0 14.5px,#99f 0 15.95px,#22f 0 17.4px,#55f 0 18.85px,#44f 0 20.3px,#d8b 0 21.75px,#88e 0 23.2px,#fcc 0 24.65px,#00f 0 27.55px,#22f 0 29px,#66f 0 30.45px,#88f 0 31.9px,#ccf 0 33.35px,#bbf 0 34.8px,#33f 0 39.15px,#f44 0 40.6px,#98d 0 42.05px,#bbf 0 43.5px,#11f 0 44.95px,#99f 0 46.4px,#22f 0 47.85px,#aaf 0 49.3px,#33f 0 50.75px,#00f 0 52.2px,#66f 0 53.65px,#77f 0 55.1px,#11f 0 56.55px,#00f 0 58px,#99f 0 59.45px,#77f 0 60.9px,#bbf 0 62.35px,#77f 0 63.8px,#11f 0 65.25px,#55f 0 66.7px,#33f 0 68.15px,#22f 0 69.6px,#bbf 0 71.05px,#11f 0 72.5px,#66f 0 73.95px,#33f 0 75.4px,#44f 0 76.85px,#00f 0 78.3px,#33f 0 79.75px,#66f 0 81.2px,#ddf 0 82.65px,#33f 0 84.1px,#eef 0 85.55px,#22f 0 87px,#33f 0 88.45px,#66f 0 89.9px,#77f 0 90px)"></div>
<div class="h" style="left:785px;top:899.96px;width:232.5px;height:19.14px;background:linear-gradient(90deg,#b59 0 1.45px,#99f 0 2.9px,#c8b 0 4.35px,#f99 0 5.8px,#c48 0 7.25px,#98d 0 8.7px,#f11 0 10.15px,#99f 0 11.6px,#f00 0 13.05px,#66f 0 14.5px,#ecd 0 15.95px,#96b 0 17.4px,#b48 0 18.85px,#a28 0 20.3px,#00f 0 21.75px,#f66 0 23.2px,#55f 0 24.65px,#b9d 0 26.1px,#f44 0 27.55px,#f00 0 29px,#55f 0 30.45px,#83a 0 31.9px,#faa 0 33.35px,#818 0 34.8px,#83a 0 36.25px,#f55 0 37.7px,#f00 0 40.6px,#e68 0 42.05px,#88f 0 43.5px,#f33 0 44.95px,#c48 0 46.4px,#f11 0 47.85px,#97d 0 49.3px,#b58 0 50.75px,#f55 0 52.2px,#99f 0 53.65px,#cad 0 55.1px,#bae 0 56.55px,#77f 0 58px,#87e 0 59.45px,#f44 0 60.9px,#66f 0 62.35px,#f88 0 63.8px,#f22 0 65.25px,#88f 0 66.7px,#dbd 0 68.15px,#b48 0 69.6px,#f77 0 71.05px,#e89 0 72.5px,#fdd 0 73.95px,#808 0 75.4px,#f88 0 76.85px,#f55 0 78.3px,#faa 0 79.75px,#f11 0 81.2px,#f66 0 84.1px,#d9b 0 85.55px,#f55 0 87px,#b6a 0 88.45px,#85b 0 89.9px,#f88 0 91.35px,#f00 0 92.8px,#808 0 94.25px,#22f 0 95.7px,#f44 0 97.15px,#f55 0 98.6px,#aaf 0 100.05px,#f00 0 101.5px,#f33 0 102.95px,#f00 0 104.4px,#b7b 0 105.85px,#808 0 107.3px,#f78 0 108.75px,#66f 0 110.2px,#83a 0 111.65px,#f88 0 113.1px,#bbf 0 114.55px,#f66 0 116px,#b9d 0 117.45px,#ccf 0 118.9px,#f33 0 120.35px,#f77 0 121.8px,#faa 0 123.25px,#f66 0 124.7px,#f44 0 126.15px,#f55 0 127.6px,#77f 0 129.05px,#f44 0 130.5px,#f55 0 131.95px,#44f 0 133.4px,#938 0 134.85px,#96c 0 136.3px,#f44 0 137.75px,#f99 0 139.2px,#829 0 140.65px,#fbb 0 142.1px,#d58 0 143.55px,#f66 0 145px,#f44 0 146.45px,#86e 0 147.9px,#fee 0 149.35px,#f77 0 150.8px,#44f 0 152.25px,#f88 0 153.7px,#33f 0 155.15px,#11f 0 156.6px,#f00 0 158.05px,#77f 0 159.5px,#83a 0 160.95px,#88f 0 162.4px,#c58 0 163.85px,#f44 0 165.3px,#a4a 0 166.75px,#b6a 0 168.2px,#f00 0 169.65px,#f66 0 171.1px,#fff 0 172.55px,#a7c 0 174px,#f88 0 175.45px,#c9c 0 176.9px,#f33 0 178.35px,#f11 0 179.8px,#a5a 0 181.25px,#f33 0 182.7px,#aaf 0 184.15px,#55f 0 185.6px,#82a 0 187.05px,#44f 0 188.5px,#f44 0 189.95px,#ddf 0 191.4px,#84c 0 192.85px,#99f 0 194.3px,#84a 0 195.75px,#b7b 0 197.2px,#c58 0 198.65px,#33f 0 200.1px,#b48 0 201.55px,#939 0 204.45px,#66f 0 205.9px,#dac 0 207.35px,#f55 0 208.8px,#f99 0 210.25px,#77f 0 211.7px,#88f 0 213.15px,#00f 0 214.6px,#33f 0 216.05px,#f22 0 217.5px,#c7a 0 218.95px,#f66 0 220.4px,#f11 0 221.85px,#ebc 0 223.3px,#33f 0 224.75px,#f99 0 226.2px,#fcc 0 227.65px,#fab 0 229.1px,#a48 0 230.55px,#f44 0 232px,#f00 0 232.5px)"></div>
<div class="h" style="left:1021px;top:899.96px;width:90px;height:19.14px;background:linear-gradient(90deg,#00f 0 2.9px,#44f 0 4.35px,#66f 0 5.8px,#99f 0 7.25px,#808 0 8.7px,#22f 0 10.15px,#77f 0 11.6px,#33f 0 13.05px,#00f 0 14.5px,#44f 0 18.85px,#dce 0 20.3px,#55f 0 21.75px,#00f 0 23.2px,#77f 0 24.65px,#bbf 0 26.1px,#77f 0 27.55px,#22f 0 29px,#33f 0 30.45px,#22f 0 31.9px,#66f 0 33.35px,#11f 0 34.8px,#88f 0 36.25px,#22f 0 37.7px,#86d 0 39.15px,#77f 0 40.6px,#11f 0 42.05px,#55f 0 43.5px,#00f 0 44.95px,#55f 0 46.4px,#a28 0 47.85px,#99f 0 49.3px,#44f 0 50.75px,#33f 0 52.2px,#44f 0 53.65px,#66f 0 55.1px,#44f 0 56.55px,#00f 0 58px,#55f 0 59.45px,#11f 0 60.9px,#55f 0 62.35px,#fef 0 63.8px,#928 0 65.25px,#33f 0 66.7px,#77f 0 68.15px,#00f 0 69.6px,#55f 0 71.05px,#99f 0 72.5px,#55f 0 73.95px,#ccf 0 75.4px,#86d 0 76.85px,#33f 0 79.75px,#44f 0 81.2px,#aaf 0 82.65px,#55f 0 85.55px,#33f 0 87px,#00f 0 88.45px,#dce 0 89.9px,#44f 0 90px)"></div>
<div class="h" style="left:785px;top:919.05px;width:232.5px;height:19.14px;background:linear-gradient(90deg,#f66 0 1.45px,#87e 0 2.9px,#faa 0 4.35px,#818 0 5.8px,#a7b 0 7.25px,#d9b 0 8.7px,#66f 0 10.15px,#f77 0 11.6px,#95a 0 13.05px,#f55 0 14.5px,#f77 0 15.95px,#96c 0 17.4px,#fdd 0 18.85px,#f99 0 20.3px,#11f 0 21.75px,#44f 0 23.2px,#f88 0 26.1px,#f66 0 27.55px,#11f 0 29px,#87f 0 30.45px,#a38 0 31.9px,#f66 0 33.35px,#83a 0 34.8px,#fcc 0 36.25px,#808 0 37.7px,#f33 0 39.15px,#a49 0 40.6px,#fdd 0 42.05px,#f77 0 43.5px,#f22 0 44.95px,#f99 0 46.4px,#f11 0 47.85px,#66f 0 49.3px,#83a 0 50.75px,#faa 0 52.2px,#f88 0 53.65px,#f55 0 55.1px,#d9b 0 56.55px,#87e 0 58px,#808 0 59.45px,#a8c 0 60.9px,#f33 0 62.35px,#f88 0 65.25px,#f77 0 66.7px,#f00 0 68.15px,#f77 0 71.05px,#99f 0 72.5px,#d68 0 73.95px,#f66 0 75.4px,#f88 0 76.85px,#f77 0 78.3px,#fff 0 79.75px,#85c 0 81.2px,#fdd 0 82.65px,#bbf 0 84.1px,#f55 0 85.55px,#f88 0 87px,#f11 0 88.45px,#f66 0 89.9px,#f22 0 91.35px,#faa 0 92.8px,#83a 0 94.25px,#928 0 95.7px,#b38 0 97.15px,#f88 0 98.6px,#a7c 0 100.05px,#eab 0 101.5px,#f33 0 102.95px,#aaf 0 104.4px,#a7c 0 105.85px,#d58 0 107.3px,#fcc 0 108.75px,#f77 0 110.2px,#44f 0 111.65px,#f00 0 113.1px,#f66 0 114.55px,#88f 0 116px,#95b 0 117.45px,#f55 0 118.9px,#99f 0 120.35px,#00f 0 121.8px,#f44 0 123.25px,#f33 0 124.7px,#bbf 0 126.15px,#55f 0 127.6px,#f55 0 129.05px,#f77 0 130.5px,#44f 0 131.95px,#f66 0 134.85px,#93a 0 136.3px,#00f 0 137.75px,#22f 0 139.2px,#f00 0 140.65px,#f88 0 142.1px,#d7a 0 143.55px,#f66 0 145px,#aaf 0 146.45px,#f44 0 147.9px,#fbb 0 149.35px,#44f 0 150.8px,#fee 0 152.25px,#a5a 0 153.7px,#fbb 0 155.15px,#f55 0 156.6px,#f88 0 158.05px,#55f 0 159.5px,#86d 0 160.95px,#faa 0 162.4px,#b9d 0 163.85px,#44f 0 165.3px,#a8d 0 166.75px,#c9c 0 168.2px,#918 0 169.65px,#f55 0 171.1px,#55f 0 172.55px,#818 0 174px,#f44 0 175.45px,#fbb 0 176.9px,#f99 0 178.35px,#22f 0 181.25px,#f55 0 182.7px,#818 0 184.15px,#a28 0 185.6px,#77f 0 187.05px,#aaf 0 188.5px,#94a 0 189.95px,#a49 0 191.4px,#a9e 0 192.85px,#f11 0 194.3px,#f44 0 195.75px,#33f 0 197.2px,#c48 0 198.65px,#f22 0 200.1px,#faa 0 201.55px,#f55 0 203px,#f00 0 204.45px,#dac 0 205.9px,#83b 0 207.35px,#44f 0 208.8px,#dbd 0 210.25px,#808 0 211.7px,#99f 0 213.15px,#f99 0 214.6px,#55f 0 216.05px,#77f 0 217.5px,#f88 0 218.95px,#f99 0 220.4px,#e9a 0 221.85px,#fdd 0 223.3px,#f99 0 224.75px,#f11 0 226.2px,#b58 0 227.65px,#f00 0 229.1px,#f99 0 230.55px,#808 0 232px,#f77 0 232.5px)"></div>
<div class="h" style="left:1021px;top:919.05px;width:90px;height:19.14px;background:linear-gradient(90deg,#44f 0 1.45px,#bbf 0 2.9px,#55f 0 4.35px,#33f 0 5.8px,#55f 0 7.25px,#22f 0 8.7px,#88f 0 10.15px,#22f 0 11.6px,#00f 0 13.05px,#44f 0 15.95px,#66f 0 17.4px,#55f 0 18.85px,#bbf 0 20.3px,#00f 0 21.75px,#faa 0 23.2px,#ccf 0 24.65px,#00f 0 26.1px,#bbf 0 29px,#77f 0 30.45px,#66f 0 33.35px,#22f 0 34.8px,#bbf 0 36.25px,#55f 0 37.7px,#22f 0 39.15px,#33f 0 40.6px,#44f 0 42.05px,#00f 0 43.5px,#22f 0 44.95px,#66f 0 46.4px,#55f 0 47.85px,#11f 0 49.3px,#66f 0 50.75px,#00f 0 52.2px,#66f 0 53.65px,#55f 0 55.1px,#87f 0 56.55px,#86d 0 58px,#87e 0 59.45px,#88f 0 60.9px,#33f 0 62.35px,#22f 0 63.8px,#b48 0 65.25px,#55f 0 66.7px,#22f 0 68.15px,#00f 0 69.6px,#95b 0 71.05px,#22f 0 72.5px,#00f 0 73.95px,#11f 0 75.4px,#77f 0 76.85px,#00f 0 78.3px,#66f 0 79.75px,#77f 0 81.2px,#00f 0 82.65px,#22f 0 84.1px,#11f 0 85.55px,#ccf 0 87px,#11f 0 88.45px,#ddf 0 89.9px,#33f 0 90px)"></div>
<div class="h" style="left:785px;top:938.14px;width:232.5px;height:19.14px;background:linear-gradient(90deg,#cac 0 1.45px,#77f 0 2.9px,#d89 0 4.35px,#f77 0 5.8px,#d78 0 7.25px,#85c 0 8.7px,#77f 0 10.15px,#f99 0 11.6px,#fbb 0 13.05px,#a6b 0 14.5px,#f11 0 15.95px,#33f 0 17.4px,#b6a 0 18.85px,#44f 0 20.3px,#dac 0 21.75px,#f44 0 23.2px,#86d 0 24.65px,#f22 0 26.1px,#f66 0 27.55px,#f55 0 29px,#44f 0 30.45px,#fcc 0 31.9px,#f55 0 33.35px,#918 0 34.8px,#f55 0 36.25px,#fbb 0 37.7px,#b48 0 39.15px,#f77 0 40.6px,#d68 0 42.05px,#fcc 0 43.5px,#f88 0 44.95px,#33f 0 46.4px,#f33 0 47.85px,#918 0 49.3px,#f66 0 50.75px,#f00 0 52.2px,#839 0 53.65px,#a5a 0 55.1px,#fbb 0 56.55px,#f00 0 58px,#f44 0 59.45px,#d8a 0 60.9px,#f44 0 62.35px,#d7a 0 63.8px,#f55 0 65.25px,#99f 0 66.7px,#88f 0 68.15px,#faa 0 69.6px,#f33 0 71.05px,#00f 0 72.5px,#dbd 0 73.95px,#99f 0 75.4px,#77f 0 76.85px,#c7a 0 78.3px,#f66 0 79.75px,#f99 0 81.2px,#eef 0 82.65px,#f00 0 84.1px,#ddf 0 85.55px,#808 0 87px,#bbf 0 88.45px,#b59 0 89.9px,#85c 0 91.35px,#f44 0 92.8px,#f66 0 94.25px,#44f 0 95.7px,#f88 0 97.15px,#00f 0 98.6px,#f66 0 100.05px,#c7a 0 101.5px,#f89 0 102.95px,#c7a 0 104.4px,#55f 0 105.85px,#fbb 0 107.3px,#f33 0 108.75px,#f99 0 110.2px,#88f 0 111.65px,#f88 0 113.1px,#e9a 0 114.55px,#f44 0 116px,#88f 0 117.45px,#f99 0 118.9px,#94b 0 120.35px,#22f 0 121.8px,#77f 0 123.25px,#faa 0 124.7px,#ddf 0 126.15px,#d68 0 127.6px,#22f 0 129.05px,#f55 0 130.5px,#f99 0 131.95px,#83a 0 133.4px,#faa 0 134.85px,#f00 0 136.3px,#88f 0 137.75px,#c58 0 139.2px,#11f 0 140.65px,#f00 0 142.1px,#f55 0 143.55px,#c69 0 145px,#22f 0 146.45px,#f00 0 147.9px,#f55 0 149.35px,#b7b 0 150.8px,#a5b 0 152.25px,#55f 0 153.7px,#ccf 0 155.15px,#f00 0 156.6px,#f55 0 158.05px,#808 0 159.5px,#faa 0 160.95px,#f77 0 162.4px,#f66 0 163.85px,#f77 0 165.3px,#918 0 166.75px,#00f 0 168.2px,#f77 0 169.65px,#88f 0 171.1px,#f55 0 172.55px,#fbb 0 174px,#f44 0 175.45px,#77f 0 176.9px,#fee 0 178.35px,#f11 0 179.8px,#fbb 0 181.25px,#e78 0 182.7px,#f22 0 184.15px,#96c 0 185.6px,#f33 0 187.05px,#55f 0 188.5px,#f55 0 189.95px,#a6a 0 191.4px,#819 0 192.85px,#f44 0 194.3px,#b69 0 195.75px,#f77 0 198.65px,#a8d 0 200.1px,#66f 0 201.55px,#f99 0 203px,#86e 0 204.45px,#f99 0 205.9px,#e78 0 207.35px,#f22 0 208.8px,#808 0 210.25px,#95b 0 211.7px,#f55 0 213.15px,#e9a 0 214.6px,#88f 0 216.05px,#f00 0 217.5px,#f66 0 218.95px,#b9d 0 220.4px,#f88 0 221.85px,#f99 0 223.3px,#f88 0 224.75px,#f33 0 226.2px,#dac 0 227.65px,#829 0 229.1px,#f11 0 230.55px,#faa 0 232px,#66f 0 232.5px)"></div>
<div class="h" style="left:1021px;top:938.14px;width:90px;height:19.14px;background:linear-gradient(90deg,#77f 0 1.45px,#22f 0 2.9px,#88f 0 4.35px,#33f 0 7.25px,#55f 0 8.7px,#11f 0 10.15px,#e78 0 11.6px,#00f 0 13.05px,#22f 0 14.5px,#00f 0 17.4px,#55f 0 18.85px,#44f 0 20.3px,#88f 0 21.75px,#44f 0 23.2px,#66f 0 24.65px,#88f 0 26.1px,#33f 0 27.55px,#66f 0 29px,#55f 0 30.45px,#00f 0 31.9px,#88f 0 33.35px,#77f 0 34.8px,#11f 0 36.25px,#ddf 0 37.7px,#bbf 0 39.15px,#f44 0 40.6px,#fff 0 42.05px,#00f 0 43.5px,#22f 0 44.95px,#66f 0 46.4px,#44f 0 47.85px,#33f 0 49.3px,#44f 0 50.75px,#00f 0 53.65px,#918 0 55.1px,#66f 0 56.55px,#f33 0 58px,#55f 0 59.45px,#66f 0 60.9px,#829 0 62.35px,#22f 0 65.25px,#99f 0 66.7px,#00f 0 68.15px,#55f 0 69.6px,#88f 0 71.05px,#77f 0 72.5px,#00f 0 73.95px,#11f 0 75.4px,#55f 0 76.85px,#44f 0 78.3px,#22f 0 79.75px,#88f 0 81.2px,#00f 0 82.65px,#22f 0 85.55px,#00f 0 87px,#55f 0 89.9px,#33f 0 90px)"></div>
<div class="h" style="left:785px;top:957.23px;width:232.5px;height:19.14px;background:linear-gradient(90deg,#f55 0 1.45px,#f99 0 2.9px,#55f 0 4.35px,#eac 0 5.8px,#a5a 0 7.25px,#a49 0 8.7px,#bbf 0 10.15px,#f44 0 11.6px,#77f 0 13.05px,#f66 0 14.5px,#e78 0 15.95px,#eef 0 17.4px,#f33 0 18.85px,#f99 0 20.3px,#a6b 0 21.75px,#f33 0 23.2px,#aaf 0 24.65px,#f44 0 26.1px,#fbb 0 27.55px,#d58 0 29px,#f66 0 30.45px,#b48 0 31.9px,#55f 0 33.35px,#f66 0 34.8px,#a28 0 36.25px,#a49 0 37.7px,#a7c 0 39.15px,#f11 0 40.6px,#f33 0 42.05px,#c58 0 43.5px,#f44 0 44.95px,#83a 0 46.4px,#f88 0 47.85px,#97d 0 49.3px,#918 0 50.75px,#a49 0 52.2px,#bbf 0 53.65px,#f00 0 55.1px,#fff 0 56.55px,#f00 0 58px,#55f 0 59.45px,#22f 0 60.9px,#939 0 62.35px,#f99 0 63.8px,#ebc 0 65.25px,#d68 0 66.7px,#f00 0 68.15px,#f66 0 69.6px,#f88 0 72.5px,#f33 0 73.95px,#d9a 0 75.4px,#f33 0 76.85px,#f00 0 78.3px,#c9c 0 79.75px,#f00 0 81.2px,#f55 0 82.65px,#d79 0 84.1px,#f77 0 85.55px,#f00 0 87px,#f11 0 88.45px,#f78 0 89.9px,#c58 0 91.35px,#33f 0 92.8px,#99f 0 94.25px,#f99 0 95.7px,#bae 0 97.15px,#85c 0 98.6px,#83a 0 100.05px,#f77 0 101.5px,#f33 0 102.95px,#f66 0 104.4px,#22f 0 105.85px,#eab 0 107.3px,#eef 0 108.75px,#fff 0 110.2px,#f55 0 111.65px,#818 0 113.1px,#b59 0 114.55px,#808 0 116px,#11f 0 117.45px,#f33 0 118.9px,#ddf 0 120.35px,#88f 0 121.8px,#f44 0 123.25px,#99f 0 124.7px,#f11 0 126.15px,#98f 0 127.6px,#f66 0 129.05px,#66f 0 130.5px,#f11 0 131.95px,#f55 0 133.4px,#f44 0 134.85px,#f77 0 136.3px,#a28 0 137.75px,#97d 0 139.2px,#f55 0 140.65px,#d8a 0 142.1px,#eef 0 143.55px,#f55 0 145px,#d9b 0 146.45px,#86e 0 147.9px,#96c 0 149.35px,#88f 0 150.8px,#d9b 0 152.25px,#928 0 153.7px,#77f 0 155.15px,#cbe 0 156.6px,#f88 0 158.05px,#22f 0 159.5px,#11f 0 160.95px,#f33 0 162.4px,#99f 0 163.85px,#b59 0 165.3px,#dcf 0 166.75px,#22f 0 168.2px,#99f 0 169.65px,#94a 0 171.1px,#fbb 0 172.55px,#dce 0 174px,#f11 0 175.45px,#87e 0 176.9px,#55f 0 178.35px,#c58 0 179.8px,#f22 0 181.25px,#f77 0 182.7px,#88f 0 184.15px,#85c 0 185.6px,#f00 0 187.05px,#77f 0 188.5px,#88f 0 189.95px,#33f 0 191.4px,#f22 0 192.85px,#ddf 0 194.3px,#f33 0 195.75px,#f55 0 197.2px,#a8e 0 198.65px,#f88 0 200.1px,#fbb 0 201.55px,#33f 0 203px,#808 0 204.45px,#f77 0 205.9px,#faa 0 207.35px,#b38 0 208.8px,#f55 0 210.25px,#f44 0 211.7px,#ddf 0 213.15px,#928 0 214.6px,#22f 0 216.05px,#f00 0 217.5px,#b48 0 218.95px,#a39 0 220.4px,#f00 0 221.85px,#fcc 0 223.3px,#f88 0 226.2px,#f33 0 227.65px,#f99 0 229.1px,#f22 0 230.55px,#bbf 0 232px,#d68 0 232.5px)"></div>
<div class="h" style="left:1021px;top:957.23px;width:90px;height:19.14px;background:linear-gradient(90deg,#11f 0 1.45px,#44f 0 2.9px,#99f 0 4.35px,#33f 0 5.8px,#44f 0 7.25px,#818 0 8.7px,#00f 0 10.15px,#33f 0 11.6px,#11f 0 13.05px,#88f 0 15.95px,#b38 0 17.4px,#66f 0 18.85px,#00f 0 20.3px,#82a 0 21.75px,#00f 0 23.2px,#aaf 0 24.65px,#77f 0 26.1px,#fee 0 27.55px,#66f 0 29px,#11f 0 30.45px,#00f 0 31.9px,#22f 0 33.35px,#33f 0 34.8px,#77f 0 37.7px,#44f 0 39.15px,#22f 0 40.6px,#66f 0 43.5px,#55f 0 44.95px,#85c 0 46.4px,#66f 0 47.85px,#bbf 0 49.3px,#44f 0 50.75px,#33f 0 52.2px,#ddf 0 53.65px,#11f 0 55.1px,#55f 0 56.55px,#ccf 0 58px,#11f 0 59.45px,#88f 0 60.9px,#77f 0 62.35px,#fdd 0 63.8px,#22f 0 66.7px,#33f 0 68.15px,#00f 0 69.6px,#d79 0 71.05px,#aaf 0 72.5px,#00f 0 73.95px,#33f 0 75.4px,#d8a 0 76.85px,#bbf 0 78.3px,#77f 0 79.75px,#66f 0 81.2px,#b7b 0 82.65px,#66f 0 84.1px,#44f 0 85.55px,#66f 0 87px,#33f 0 88.45px,#11f 0 89.9px,#aaf 0 90px)"></div>
<div class="h" style="left:785px;top:976.32px;width:232.5px;height:19.14px;background:linear-gradient(90deg,#44f 0 2.9px,#f66 0 4.35px,#fdd 0 5.8px,#f00 0 7.25px,#33f 0 8.7px,#83a 0 10.15px,#f99 0 11.6px,#c9c 0 13.05px,#c59 0 14.5px,#ecd 0 15.95px,#a49 0 17.4px,#f66 0 18.85px,#b59 0 20.3px,#77f 0 21.75px,#c9c 0 23.2px,#bbf 0 24.65px,#e89 0 26.1px,#f66 0 27.55px,#f77 0 30.45px,#77f 0 31.9px,#edd 0 33.35px,#f55 0 34.8px,#87f 0 36.25px,#f00 0 37.7px,#b48 0 39.15px,#a8e 0 40.6px,#f77 0 42.05px,#a38 0 43.5px,#33f 0 44.95px,#00f 0 46.4px,#f77 0 47.85px,#d68 0 49.3px,#f55 0 50.75px,#b6a 0 52.2px,#d68 0 53.65px,#fcc 0 55.1px,#b8d 0 56.55px,#11f 0 58px,#ccf 0 59.45px,#f44 0 60.9px,#77f 0 62.35px,#bbf 0 63.8px,#f00 0 65.25px,#77f 0 66.7px,#66f 0 68.15px,#faa 0 71.05px,#85d 0 72.5px,#e9a 0 73.95px,#f88 0 75.4px,#fbb 0 76.85px,#f44 0 78.3px,#f66 0 79.75px,#f44 0 81.2px,#f99 0 82.65px,#bbf 0 84.1px,#c9c 0 85.55px,#66f 0 87px,#f99 0 88.45px,#f33 0 89.9px,#f66 0 91.35px,#f44 0 92.8px,#c9b 0 94.25px,#f22 0 95.7px,#f55 0 97.15px,#f33 0 98.6px,#55f 0 100.05px,#a59 0 101.5px,#c69 0 102.95px,#b38 0 104.4px,#66f 0 105.85px,#f88 0 107.3px,#fbb 0 108.75px,#f66 0 110.2px,#f33 0 111.65px,#f99 0 113.1px,#f44 0 114.55px,#f55 0 116px,#eab 0 117.45px,#f44 0 118.9px,#fcc 0 120.35px,#44f 0 121.8px,#f77 0 123.25px,#f44 0 124.7px,#f00 0 126.15px,#fff 0 127.6px,#f33 0 129.05px,#f66 0 130.5px,#f77 0 131.95px,#88f 0 133.4px,#b7b 0 134.85px,#818 0 136.3px,#f88 0 137.75px,#a5a 0 139.2px,#bbf 0 140.65px,#e78 0 142.1px,#a38 0 143.55px,#b9e 0 145px,#b7a 0 146.45px,#faa 0 147.9px,#00f 0 149.35px,#f66 0 150.8px,#c7b 0 152.25px,#fde 0 153.7px,#ece 0 155.15px,#c9c 0 156.6px,#22f 0 158.05px,#77f 0 159.5px,#fbb 0 160.95px,#faa 0 162.4px,#f77 0 163.85px,#f88 0 165.3px,#f11 0 166.75px,#f33 0 168.2px,#a8d 0 169.65px,#f88 0 171.1px,#f77 0 174px,#f00 0 175.45px,#00f 0 176.9px,#f00 0 178.35px,#c79 0 179.8px,#b59 0 181.25px,#829 0 182.7px,#f66 0 184.15px,#00f 0 185.6px,#f22 0 187.05px,#a7c 0 188.5px,#b6a 0 189.95px,#55f 0 191.4px,#33f 0 192.85px,#f99 0 194.3px,#f66 0 195.75px,#fcc 0 197.2px,#fdd 0 198.65px,#a7c 0 200.1px,#77f 0 201.55px,#a28 0 203px,#96c 0 204.45px,#c69 0 205.9px,#aaf 0 207.35px,#85c 0 208.8px,#44f 0 210.25px,#f22 0 211.7px,#c58 0 213.15px,#a6b 0 214.6px,#44f 0 216.05px,#928 0 217.5px,#f77 0 218.95px,#e89 0 220.4px,#aaf 0 221.85px,#808 0 223.3px,#faa 0 224.75px,#f33 0 226.2px,#f77 0 227.65px,#fff 0 229.1px,#f88 0 230.55px,#f55 0 232px,#33f 0 232.5px)"></div>
<div class="h" style="left:1021px;top:976.32px;width:90px;height:19.14px;background:linear-gradient(90deg,#22f 0 1.45px,#00f 0 2.9px,#55f 0 4.35px,#44f 0 5.8px,#85c 0 7.25px,#55f 0 8.7px,#77f 0 10.15px,#55f 0 11.6px,#00f 0 13.05px,#66f 0 14.5px,#86e 0 15.95px,#00f 0 17.4px,#55f 0 18.85px,#22f 0 20.3px,#00f 0 21.75px,#44f 0 23.2px,#66f 0 24.65px,#44f 0 26.1px,#55f 0 29px,#11f 0 30.45px,#00f 0 33.35px,#55f 0 34.8px,#ddf 0 36.25px,#e89 0 37.7px,#00f 0 39.15px,#77f 0 40.6px,#55f 0 42.05px,#44f 0 43.5px,#77f 0 44.95px,#66f 0 47.85px,#aaf 0 49.3px,#44f 0 50.75px,#33f 0 52.2px,#77f 0 53.65px,#fee 0 55.1px,#44f 0 56.55px,#77f 0 59.45px,#66f 0 60.9px,#00f 0 62.35px,#77f 0 65.25px,#00f 0 66.7px,#a9e 0 68.15px,#66f 0 69.6px,#44f 0 71.05px,#00f 0 72.5px,#55f 0 73.95px,#22f 0 75.4px,#99f 0 76.85px,#77f 0 78.3px,#88f 0 79.75px,#11f 0 81.2px,#99f 0 82.65px,#22f 0 84.1px,#44f 0 85.55px,#33f 0 87px,#819 0 88.45px,#88f 0 89.9px,#00f 0 90px)"></div>
<div class="h" style="left:785px;top:995.41px;width:232.5px;height:19.14px;background:linear-gradient(90deg,#f00 0 1.45px,#95b 0 2.9px,#d8a 0 4.35px,#f66 0 5.8px,#99f 0 7.25px,#818 0 8.7px,#b8c 0 10.15px,#f66 0 11.6px,#fdd 0 13.05px,#66f 0 14.5px,#f88 0 15.95px,#f11 0 17.4px,#d79 0 18.85px,#f22 0 20.3px,#829 0 21.75px,#99f 0 23.2px,#77f 0 24.65px,#f55 0 26.1px,#f33 0 27.55px,#f55 0 29px,#f99 0 30.45px,#bbf 0 31.9px,#85d 0 33.35px,#f99 0 34.8px,#f22 0 36.25px,#66f 0 37.7px,#f66 0 39.15px,#f99 0 40.6px,#f22 0 42.05px,#77f 0 43.5px,#86d 0 44.95px,#f55 0 46.4px,#f88 0 47.85px,#11f 0 49.3px,#a8d 0 50.75px,#ddf 0 52.2px,#fbc 0 53.65px,#918 0 55.1px,#00f 0 56.55px,#f99 0 58px,#f78 0 59.45px,#f33 0 60.9px,#96b 0 62.35px,#85c 0 63.8px,#f22 0 65.25px,#33f 0 66.7px,#fdd 0 68.15px,#f55 0 69.6px,#94a 0 71.05px,#f33 0 72.5px,#f11 0 73.95px,#faa 0 75.4px,#f22 0 76.85px,#f99 0 78.3px,#f00 0 79.75px,#f44 0 81.2px,#86d 0 82.65px,#fcc 0 84.1px,#aaf 0 85.55px,#f00 0 87px,#f33 0 88.45px,#819 0 89.9px,#f00 0 91.35px,#97d 0 92.8px,#c9c 0 94.25px,#00f 0 95.7px,#f44 0 97.15px,#ddf 0 98.6px,#f44 0 100.05px,#85c 0 101.5px,#b5a 0 102.95px,#dac 0 104.4px,#83b 0 105.85px,#66f 0 107.3px,#e68 0 108.75px,#94a 0 110.2px,#f66 0 111.65px,#44f 0 113.1px,#829 0 114.55px,#dad 0 116px,#f55 0 117.45px,#d9b 0 118.9px,#eac 0 120.35px,#55f 0 121.8px,#a38 0 123.25px,#c58 0 124.7px,#44f 0 126.15px,#f99 0 127.6px,#f88 0 129.05px,#fdd 0 130.5px,#55f 0 131.95px,#f66 0 133.4px,#ede 0 134.85px,#f99 0 136.3px,#f77 0 137.75px,#f33 0 139.2px,#22f 0 140.65px,#f66 0 142.1px,#00f 0 143.55px,#55f 0 145px,#f99 0 146.45px,#f88 0 147.9px,#b48 0 149.35px,#aaf 0 150.8px,#55f 0 152.25px,#fdd 0 153.7px,#f77 0 155.15px,#eab 0 156.6px,#f77 0 158.05px,#c58 0 159.5px,#938 0 160.95px,#faa 0 162.4px,#83a 0 163.85px,#f77 0 165.3px,#f00 0 166.75px,#f66 0 168.2px,#77f 0 169.65px,#f22 0 171.1px,#83a 0 172.55px,#808 0 174px,#f88 0 175.45px,#00f 0 176.9px,#b8c 0 178.35px,#f99 0 179.8px,#d58 0 181.25px,#85d 0 182.7px,#aaf 0 184.15px,#f77 0 185.6px,#00f 0 188.5px,#a38 0 189.95px,#f33 0 191.4px,#98e 0 192.85px,#a38 0 194.3px,#f99 0 195.75px,#a7c 0 197.2px,#00f 0 198.65px,#f66 0 200.1px,#d89 0 201.55px,#77f 0 203px,#818 0 204.45px,#f55 0 205.9px,#a38 0 207.35px,#808 0 208.8px,#33f 0 210.25px,#829 0 211.7px,#44f 0 213.15px,#a6b 0 214.6px,#bbf 0 217.5px,#c58 0 218.95px,#e68 0 220.4px,#fbb 0 221.85px,#f55 0 224.75px,#77f 0 226.2px,#44f 0 227.65px,#ccf 0 229.1px,#f77 0 230.55px,#f00 0 232px,#f55 0 232.5px)"></div>
<div class="h" style="left:1021px;top:995.41px;width:90px;height:19.14px;background:linear-gradient(90deg,#44f 0 2.9px,#33f 0 4.35px,#00f 0 5.8px,#99f 0 7.25px,#66f 0 8.7px,#44f 0 10.15px,#33f 0 11.6px,#66f 0 13.05px,#55f 0 14.5px,#b48 0 15.95px,#88f 0 17.4px,#66f 0 18.85px,#55f 0 20.3px,#66f 0 21.75px,#aaf 0 23.2px,#22f 0 24.65px,#ccf 0 26.1px,#88f 0 29px,#f22 0 30.45px,#11f 0 31.9px,#33f 0 33.35px,#11f 0 34.8px,#c58 0 36.25px,#22f 0 37.7px,#77f 0 39.15px,#00f 0 40.6px,#66f 0 42.05px,#33f 0 43.5px,#44f 0 44.95px,#77f 0 46.4px,#22f 0 47.85px,#55f 0 49.3px,#00f 0 50.75px,#33f 0 52.2px,#11f 0 53.65px,#44f 0 55.1px,#11f 0 56.55px,#819 0 58px,#66f 0 59.45px,#33f 0 60.9px,#808 0 62.35px,#33f 0 63.8px,#88f 0 65.25px,#86d 0 66.7px,#808 0 68.15px,#44f 0 69.6px,#00f 0 71.05px,#33f 0 72.5px,#88f 0 73.95px,#22f 0 75.4px,#11f 0 78.3px,#c48 0 79.75px,#bbf 0 81.2px,#a38 0 82.65px,#00f 0 84.1px,#33f 0 85.55px,#88f 0 87px,#00f 0 88.45px,#88f 0 89.9px,#33f 0 90px)"></div>
<svg width="1418" height="2078" viewBox="0 0 1418 2078" font-family="'Liberation Sans', sans-serif">
<text x="5.2" y="42.3" font-size="42.5" font-weight="bold">A</text>
<text x="631" y="43" font-size="42.5" font-weight="bold">B</text>
<text x="5" y="651.5" font-size="42.5" font-weight="bold">C</text>
<text x="667.6" y="648.8" font-size="42.5" font-weight="bold">D</text>
<text x="8.2" y="1060.1" font-size="42.5" font-weight="bold">E</text>
<text x="669.5" y="1056.8" font-size="42.5" font-weight="bold">F</text>
<text x="10.5" y="1574" font-size="42.5" font-weight="bold">G</text>
<text x="672" y="1571.5" font-size="42.5" font-weight="bold">H</text>
<text x="284" y="20.5" font-size="19.5" text-anchor="middle" font-weight="bold">consensus matrix k=2</text>
<path d="M227 22.5L456.5 22.5M227 22.5L227 105.5M80 105.5L372.5 105.5M80 105.5L80 143M372.5 105.5L372.5 143M456.5 22.5L456.5 96.4M428.5 96.4L484.5 96.4M428.5 96.4L428.5 124.4M375 124.4L481.7 124.4M375 124.4L375 143M481.7 124.4L481.7 143M484.5 96.4L484.5 143M78 143L490 143" fill="none" stroke="#000" stroke-width="1.3"/>
<path d="M78.5 125 L79.5 125 L79.5 143 L78.5 143Z M79 134h3v9h-3z" fill="#000"/>
<rect x="78.6" y="124.5" width="1.6" height="12" fill="#fff" stroke="#000" stroke-width="0.6"/>
<rect x="370.5" y="128" width="4.5" height="15" fill="#000"/>
<rect x="374.5" y="137.5" width="2.5" height="5.5" fill="#000"/>
<line x1="484.5" y1="96.4" x2="484.5" y2="112" stroke="#000" stroke-width="1.3"/>
<rect x="483.2" y="111.5" width="3.4" height="9" fill="#fff" stroke="#000" stroke-width="0.9"/>
<rect x="480.2" y="121" width="8.2" height="22" fill="#000"/>
<rect x="487.5" y="130" width="2.3" height="13" fill="#000"/>
<rect x="486.6" y="130.5" width="1.4" height="2.5" fill="#fff"/>
<rect x="78" y="146.5" width="294.5" height="17" fill="#A6CEE3"/>
<rect x="372.5" y="146.5" width="116.5" height="17" fill="#1F78B4"/>
<rect x="372.5" y="178" width="110.5" height="109" fill="#0000FF"/>
<rect x="78" y="287" width="294.5" height="294" fill="#0000FF"/>
<rect x="78" y="178" width="1.2" height="109" fill="#c8c8ff"/>
<rect x="371.5" y="178" width="1.5" height="109" fill="#aaaaff"/>
<rect x="78" y="286" width="294.5" height="1.5" fill="#4d4dff"/>
<rect x="372.5" y="287" width="1.5" height="294" fill="#8080ff"/>
<rect x="372.5" y="579.8" width="110.5" height="1.2" fill="#c8c8ff"/>
<rect x="536.4" y="84.3" width="56.2" height="57.6" fill="#fff" stroke="#000" stroke-width="1.3"/>
<rect x="549.5" y="97.5" width="12.7" height="10.9" fill="#A6CEE3" stroke="#000" stroke-width="1.3"/>
<rect x="549.5" y="117.2" width="12.7" height="10.5" fill="#1F78B4" stroke="#000" stroke-width="1.3"/>
<text x="575.5" y="110.3" font-size="16">1</text>
<text x="575.5" y="128.6" font-size="16">2</text>
<line x1="768.6" y1="17.5" x2="768.6" y2="381.6" stroke="#000" stroke-width="2.4"/>
<line x1="767.4" y1="380.4" x2="1393.5" y2="380.4" stroke="#000" stroke-width="2.4"/>
<line x1="764" y1="362.2" x2="768.6" y2="362.2" stroke="#000" stroke-width="2.2"/>
<text x="760" y="368.4" font-size="18" text-anchor="end">0.00</text>
<line x1="764" y1="280.1" x2="768.6" y2="280.1" stroke="#000" stroke-width="2.2"/>
<text x="760" y="286.3" font-size="18" text-anchor="end">0.25</text>
<line x1="764" y1="198" x2="768.6" y2="198" stroke="#000" stroke-width="2.2"/>
<text x="760" y="204.2" font-size="18" text-anchor="end">0.50</text>
<line x1="764" y1="115.9" x2="768.6" y2="115.9" stroke="#000" stroke-width="2.2"/>
<text x="760" y="122.1" font-size="18" text-anchor="end">0.75</text>
<line x1="764" y1="33.8" x2="768.6" y2="33.8" stroke="#000" stroke-width="2.2"/>
<text x="760" y="40" font-size="18" text-anchor="end">1.00</text>
<line x1="796.8" y1="380.4" x2="796.8" y2="385.5" stroke="#000" stroke-width="2.2"/>
<text x="796.8" y="402" font-size="18" text-anchor="middle">0</text>
<line x1="887.6" y1="380.4" x2="887.6" y2="385.5" stroke="#000" stroke-width="2.2"/>
<text x="887.6" y="402" font-size="18" text-anchor="middle">2</text>
<line x1="978.4" y1="380.4" x2="978.4" y2="385.5" stroke="#000" stroke-width="2.2"/>
<text x="978.4" y="402" font-size="18" text-anchor="middle">4</text>
<line x1="1069.2" y1="380.4" x2="1069.2" y2="385.5" stroke="#000" stroke-width="2.2"/>
<text x="1069.2" y="402" font-size="18" text-anchor="middle">6</text>
<line x1="1160" y1="380.4" x2="1160" y2="385.5" stroke="#000" stroke-width="2.2"/>
<text x="1160" y="402" font-size="18" text-anchor="middle">8</text>
<line x1="1250.8" y1="380.4" x2="1250.8" y2="385.5" stroke="#000" stroke-width="2.2"/>
<text x="1250.8" y="402" font-size="18" text-anchor="middle">10</text>
<line x1="1341.6" y1="380.4" x2="1341.6" y2="385.5" stroke="#000" stroke-width="2.2"/>
<text x="1341.6" y="402" font-size="18" text-anchor="middle">12</text>
<text x="1080.8" y="424.8" font-size="21.4" text-anchor="middle">Time(years)</text>
<text x="714.8" y="198.2" font-size="21.2" text-anchor="middle" transform="rotate(-90 714.8 198.2)">Survival probability</text>
<line x1="796.8" y1="198.7" x2="1152" y2="198.7" stroke="#000" stroke-width="2.8" stroke-dasharray="9.7 8.8"/>
<line x1="957.3" y1="363.8" x2="957.3" y2="198.7" stroke="#000" stroke-width="2.8" stroke-dasharray="9.7 8.8"/>
<line x1="1151.8" y1="363.8" x2="1151.8" y2="198.7" stroke="#000" stroke-width="2.8" stroke-dasharray="9.7 8.8"/>
<path d="M796.8 33.8L805.28 33.8L805.28 35.17L806.88 35.17L806.88 36.54L806.9 36.54L806.9 37.9L807.63 37.9L807.63 39.27L809.36 39.27L809.36 40.64L809.64 40.64L809.64 42.01L810.42 42.01L810.57 42.01L810.57 43.24L810.75 43.24L810.75 44.47L811.7 44.47L811.7 45.7L812.88 45.7L812.88 46.94L813.22 46.94L813.22 48.17L815.7 48.17L815.7 49.4L815.74 49.4L815.74 50.63L816.59 50.63L816.59 51.86L816.93 51.86L816.93 53.09L817.79 53.09L817.79 54.33L820.65 54.33L820.65 55.56L821.13 55.56L821.13 56.79L821.77 56.79L821.81 56.79L821.81 58.05L824.36 58.05L824.36 59.31L824.61 59.31L824.61 60.57L825.03 60.57L825.03 61.83L825.95 61.83L825.95 63.1L826.05 63.1L826.05 64.36L826.17 64.36L826.17 65.62L827.48 65.62L827.48 66.88L827.68 66.88L827.68 68.14L832.79 68.14L832.79 69.41L834.38 69.41L834.38 70.67L835.62 70.67L835.62 71.93L837.41 71.93L837.41 73.19L838.06 73.19L838.06 74.45L839.57 74.45L839.57 75.71L839.59 75.71L839.59 76.98L840.49 76.98L840.49 78.24L841.41 78.24L841.41 79.5L841.84 79.5L841.84 80.76L842.2 80.76L842.24 80.76L842.24 82.07L843 82.07L843 83.39L843.99 83.39L843.99 84.7L844.23 84.7L844.23 86.02L845.86 86.02L845.86 87.33L845.89 87.33L845.89 88.64L846.63 88.64L846.63 89.96L849.59 89.96L849.59 91.27L850.51 91.27L850.51 92.58L850.67 92.58L850.67 93.9L853.16 93.9L853.16 95.21L853.73 95.21L853.73 96.52L854.05 96.52L854.05 97.84L854.46 97.84L854.79 97.84L854.79 99.13L854.88 99.13L854.88 100.41L855.52 100.41L855.52 101.7L860.23 101.7L860.23 102.99L860.34 102.99L860.34 104.28L860.75 104.28L860.75 105.57L863.41 105.57L863.41 106.86L863.42 106.86L863.42 108.14L867.57 108.14L867.57 109.43L868.41 109.43L868.41 110.72L869.69 110.72L869.69 112.01L870.18 112.01L870.18 113.3L872.61 113.3L872.61 114.59L873.07 114.59L873.18 114.59L873.18 115.87L873.64 115.87L873.64 117.15L875.29 117.15L875.29 118.44L875.48 118.44L875.48 119.72L877.56 119.72L877.56 121.01L880.16 121.01L880.16 122.29L882.34 122.29L882.34 123.57L882.73 123.57L882.73 124.86L884.47 124.86L884.47 126.14L884.62 126.14L884.62 127.42L884.78 127.42L884.78 128.71L885.33 128.71L887.34 128.71L887.34 130.02L891.74 130.02L891.74 131.33L891.93 131.33L891.93 132.65L895.1 132.65L895.1 133.96L899.26 133.96L899.26 135.28L899.77 135.28L899.77 136.59L900.17 136.59L900.17 137.9L903.94 137.9L904.51 137.9L904.51 139.22L905.35 139.22L905.35 140.53L909.2 140.53L909.2 141.84L913.37 141.84L913.37 143.16L917.21 143.16L917.21 144.47L918.54 144.47L918.54 145.78L919.38 145.78L922.2 145.78L922.2 147.1L924.34 147.1L924.34 148.41L924.41 148.41L924.41 149.73L924.78 149.73L924.78 151.04L928.04 151.04L928.04 152.35L933.97 152.35L933.97 153.67L934.07 153.67L934.07 154.98L935.27 154.98L935.87 154.98L935.87 156.24L936.23 156.24L936.23 157.5L937.09 157.5L937.09 158.76L937.25 158.76L937.25 160.02L943.72 160.02L943.72 161.27L947.49 161.27L947.49 162.53L947.53 162.53L957.46 162.53L957.46 164.17L965.89 164.17L965.89 165.82L966.14 165.82L969.81 165.82L969.81 167.13L972.41 167.13L972.41 168.44L973.18 168.44L973.18 169.76L975.31 169.76L975.31 171.07L978.9 171.07L978.9 172.38L981.58 172.38L985.22 172.38L985.22 173.37L990.2 173.37L991.07 173.37L991.07 174.68L991.67 174.68L991.67 176L993.64 176L993.64 177.31L1003.2 177.31L1003.2 178.62L1012.28 178.62L1012.28 179.94L1014.33 179.94L1014.33 181.25L1016.54 181.25L1041.72 181.25L1041.72 182.78L1045.77 182.78L1045.77 184.32L1054.48 184.32L1054.48 185.85L1056.49 185.85L1060.17 185.85L1060.17 187.16L1071.48 187.16L1071.48 188.48L1083.68 188.48L1083.68 189.79L1090.99 189.79L1098.17 189.79L1098.17 190.45L1139.12 190.45L1140.86 190.45L1140.86 191.76L1141.79 191.76L1141.79 193.07L1144.1 193.07L1144.1 194.39L1144.15 194.39L1144.15 195.7L1144.88 195.7L1144.88 197.01L1145.01 197.01L1145.01 198.33L1145.02 198.33L1159.23 198.33L1159.23 200.13L1160.31 200.13L1160.31 201.94L1176.34 201.94L1179.91 201.94L1179.91 203.34L1181.29 203.34L1181.29 204.73L1182.22 204.73L1182.22 206.13L1185.29 206.13L1185.29 207.52L1188.6 207.52L1191.73 207.52L1191.73 208.51L1209.94 208.51L1222.43 208.51L1222.43 210.81L1243.08 210.81L1253.85 210.81L1253.85 213.11L1253.98 213.11L1276.87 213.11L1276.87 214.64L1282.73 214.64L1282.73 216.17L1297.99 216.17L1297.99 217.7L1299.83 217.7L1392.9 217.7" fill="none" stroke="#0066FF" stroke-width="4.5" stroke-linejoin="round"/>
<path d="M804.57 26.8V35.8M806.8 28.17V37.17M817.1 46.09V55.09M820.54 47.33V56.33M821.94 51.05V60.05M832.43 61.14V70.14M883.52 117.86V126.86M916.45 136.16V145.16M926.97 144.04V153.04M928.79 145.35V154.35M934.38 147.98V156.98M936.74 150.5V159.5M938.11 153.02V162.02M938.93 153.02V162.02M940.68 153.02V162.02M959.74 157.17V166.17M972.57 161.44V170.44M984.5 165.38V174.38M990.72 166.37V175.37M991.55 167.68V176.68M992.98 169V178M996.79 170.31V179.31M1001.87 170.31V179.31M1009.31 171.62V180.62M1017.49 174.25V183.25M1017.84 174.25V183.25M1021.44 174.25V183.25M1025.73 174.25V183.25M1028.46 174.25V183.25M1029.21 174.25V183.25M1031.69 174.25V183.25M1032.05 174.25V183.25M1042.57 175.78V184.78M1050.31 177.32V186.32M1053.38 177.32V186.32M1054.75 178.85V187.85M1064 180.16V189.16M1067.28 180.16V189.16M1075.53 181.48V190.48M1082.8 181.48V190.48M1085.54 182.79V191.79M1087.61 182.79V191.79M1091.13 182.79V191.79M1093.31 182.79V191.79M1093.99 182.79V191.79M1095.39 182.79V191.79M1101.85 183.45V192.45M1102.02 183.45V192.45M1102.21 183.45V192.45M1106.01 183.45V192.45M1107.28 183.45V192.45M1110.23 183.45V192.45M1112.69 183.45V192.45M1114.31 183.45V192.45M1137.1 183.45V192.45M1137.94 183.45V192.45M1139.99 183.45V192.45M1140.87 184.76V193.76M1144.73 188.7V197.7M1145.98 191.33V200.33M1147.68 191.33V200.33M1152.98 191.33V200.33M1154.47 191.33V200.33M1157.63 191.33V200.33M1166.68 194.94V203.94M1167.1 194.94V203.94M1167.34 194.94V203.94M1168.34 194.94V203.94M1173.93 194.94V203.94M1177.62 194.94V203.94M1178.67 194.94V203.94M1180.22 196.34V205.34M1180.97 196.34V205.34M1183.35 199.13V208.13M1183.51 199.13V208.13M1188.13 200.52V209.52M1196.86 201.51V210.51M1208.8 201.51V210.51M1213.92 201.51V210.51M1226.33 203.81V212.81M1226.4 203.81V212.81M1227.72 203.81V212.81M1240.77 203.81V212.81M1246.53 203.81V212.81M1248.57 203.81V212.81M1259.65 206.11V215.11M1263.38 206.11V215.11M1269.96 206.11V215.11M1271.3 206.11V215.11M1272.12 206.11V215.11M1274.38 206.11V215.11M1274.95 206.11V215.11M1276.81 206.11V215.11M1289.41 209.17V218.17M1290.96 209.17V218.17M1291 209.17V218.17M1291.17 209.17V218.17M1291.89 209.17V218.17M1297.8 209.17V218.17M1299.54 210.7V219.7M1300.86 210.7V219.7M1301.25 210.7V219.7M1316.7 210.7V219.7M1318.83 210.7V219.7M1319.73 210.7V219.7M1319.97 210.7V219.7M1320.19 210.7V219.7M1320.9 210.7V219.7M1325.26 210.7V219.7M1325.89 210.7V219.7M1326.05 210.7V219.7M1328.65 210.7V219.7M1329.76 210.7V219.7M1353.09 210.7V219.7M1353.6 210.7V219.7M1356.5 210.7V219.7M1362.24 210.7V219.7M1364.27 210.7V219.7M1381.23 210.7V219.7M1383.74 210.7V219.7M1384.81 210.7V219.7M1386.85 210.7V219.7M1386.99 210.7V219.7M1389.1 210.7V219.7M1390.2 210.7V219.7" fill="none" stroke="#0066FF" stroke-width="1.8"/>
<path d="M796.8 33.8L798.85 33.8L798.85 36.54L801.21 36.54L801.21 39.27L805.67 39.27L805.67 42.01L810.42 42.01L810.85 42.01L810.85 44.47L811.08 44.47L811.08 46.94L811.24 46.94L811.24 49.4L814.57 49.4L814.57 51.86L816.18 51.86L816.18 54.33L816.5 54.33L816.5 56.79L821.77 56.79L822.31 56.79L822.31 59.52L822.47 59.52L822.47 62.26L825.12 62.26L825.12 65L829.49 65L830.11 65L830.11 67.44L830.6 67.44L830.6 69.88L831.61 69.88L831.61 72.32L832.37 72.32L832.37 74.76L832.62 74.76L832.62 77.2L833.62 77.2L833.62 79.64L834.22 79.64L834.22 82.07L834.48 82.07L834.76 82.07L834.76 84.41L835.18 84.41L835.18 86.74L835.33 86.74L835.33 89.07L835.55 89.07L835.55 91.4L836.19 91.4L836.19 93.73L836.3 93.73L836.3 96.06L836.82 96.06L836.82 98.4L839.3 98.4L839.3 100.73L839.55 100.73L839.55 103.06L840.24 103.06L840.24 105.39L840.38 105.39L845.63 105.39L845.63 108.02L848.57 108.02L848.57 110.65L849.38 110.65L849.38 113.27L854.46 113.27L855.19 113.27L855.19 115.48L855.23 115.48L855.23 117.68L856.98 117.68L856.98 119.89L858.31 119.89L858.31 122.09L859.7 122.09L859.7 124.3L861.17 124.3L861.17 126.5L862.8 126.5L862.8 128.71L866.72 128.71L872.04 128.71L872.04 131.03L872.99 131.03L872.99 133.36L873.25 133.36L873.25 135.69L876.59 135.69L876.59 138.01L878.16 138.01L878.16 140.34L879.23 140.34L879.23 142.66L879.48 142.66L879.48 144.99L881.95 144.99L881.95 147.32L882.61 147.32L882.61 149.64L884.03 149.64L884.03 151.97L885.79 151.97L885.79 154.3L888.08 154.3L888.08 156.62L888.51 156.62L888.88 156.62L888.88 158.83L889.63 158.83L889.63 161.03L889.96 161.03L889.96 163.24L892.49 163.24L892.49 165.44L893.17 165.44L893.17 167.65L894.88 167.65L894.88 169.85L895.73 169.85L895.73 172.06L898.04 172.06L905.85 172.06L905.85 174.36L908.46 174.36L908.46 176.65L911.66 176.65L919.07 176.65L919.07 179.28L928.08 179.28L928.08 181.91L932.33 181.91L932.33 184.54L935.27 184.54L942.31 184.54L942.31 187.24L944.22 187.24L944.22 189.95L944.44 189.95L944.44 192.66L948.24 192.66L948.24 195.37L950.71 195.37L951.17 195.37L951.17 198.08L954.37 198.08L954.37 200.79L955.83 200.79L955.83 203.5L958 203.5L958 206.21L958.42 206.21L974.67 206.21L974.67 209.17L981.58 209.17L986.57 209.17L986.57 212.29L989.24 212.29L989.24 215.41L989.3 215.41L1019.26 215.41L1019.52 215.41L1019.52 218.53L1020.01 218.53L1020.01 221.64L1020.17 221.64L1026.47 221.64L1026.47 224.6L1036.51 224.6L1046.83 224.6L1046.83 228.54L1051.95 228.54L1052.41 228.54L1052.41 230.84L1061.38 230.84L1061.38 233.14L1072.38 233.14L1073.48 233.14L1073.48 235.55L1074.56 235.55L1074.56 237.96L1075.51 237.96L1075.51 240.36L1090.99 240.36L1094.98 240.36L1094.98 243.32L1114.71 243.32L1114.71 246.27L1121.86 246.27L1134.57 246.27L1134.57 249.56L1173.17 249.56L1224.47 249.56L1224.58 249.56L1224.58 252.3L1225 252.3L1225 255.03L1225.65 255.03L1225.65 257.77L1225.83 257.77L1365.21 257.77" fill="none" stroke="#FF9900" stroke-width="4.5" stroke-linejoin="round"/>
<path d="M805.86 35.01V44.01M825.48 58V67M837.01 91.4V100.4M860.14 117.3V126.3M884.68 144.97V153.97M886.37 147.3V156.3M886.7 147.3V156.3M932.07 174.91V183.91M936.16 177.54V186.54M939.79 177.54V186.54M1013.84 208.41V217.41M1021.05 214.64V223.64M1041.6 217.6V226.6M1048.94 221.54V230.54M1060.51 223.84V232.84M1062.36 226.14V235.14M1073.8 228.55V237.55M1096.78 236.32V245.32M1105.19 236.32V245.32M1120.53 239.27V248.27M1133.17 239.27V248.27M1133.92 239.27V248.27M1150.03 242.56V251.56M1160.18 242.56V251.56M1162.13 242.56V251.56M1162.31 242.56V251.56M1173.24 242.56V251.56M1176.72 242.56V251.56M1183.64 242.56V251.56M1195.13 242.56V251.56M1201.96 242.56V251.56M1215.79 242.56V251.56M1218.53 242.56V251.56M1227.32 250.77V259.77M1230.53 250.77V259.77M1245.47 250.77V259.77M1256.97 250.77V259.77M1257.53 250.77V259.77M1258.32 250.77V259.77M1259.65 250.77V259.77M1277.99 250.77V259.77M1281.12 250.77V259.77M1286.48 250.77V259.77M1288.43 250.77V259.77M1292.29 250.77V259.77M1294.95 250.77V259.77M1297.3 250.77V259.77M1302.09 250.77V259.77M1306.87 250.77V259.77M1319.65 250.77V259.77M1325.89 250.77V259.77M1340.3 250.77V259.77M1350.87 250.77V259.77" fill="none" stroke="#FF9900" stroke-width="1.8"/>
<path d="M798.34 36.27L804.34 42.27M798.34 42.27L804.34 36.27M802.88 39.01L808.88 45.01M802.88 45.01L808.88 39.01M807.42 39.01L813.42 45.01M807.42 45.01L813.42 39.01M811.96 48.86L817.96 54.86M811.96 54.86L817.96 48.86M816.5 53.79L822.5 59.79M816.5 59.79L822.5 53.79M821.95 59.26L827.95 65.26M821.95 65.26L827.95 59.26M825.58 62L831.58 68M825.58 68L831.58 62M827.85 66.88L833.85 72.88M827.85 72.88L833.85 66.88M830.12 74.2L836.12 80.2M830.12 80.2L836.12 74.2M832.39 86.07L838.39 92.07M832.39 92.07L838.39 86.07" fill="none" stroke="#FF9900" stroke-width="1.6"/>
<text x="1230" y="65.5" font-size="15.5">NETs-cluster</text>
<line x1="1232" y1="87.5" x2="1253" y2="87.5" stroke="#0066FF" stroke-width="4.2"/>
<line x1="1242.5" y1="81.5" x2="1242.5" y2="90" stroke="#0066FF" stroke-width="1.8"/>
<text x="1263.5" y="93" font-size="15.5">A</text>
<line x1="1232" y1="114" x2="1253" y2="114" stroke="#FF9900" stroke-width="4.2"/>
<line x1="1242.5" y1="108" x2="1242.5" y2="116.5" stroke="#FF9900" stroke-width="1.8"/>
<text x="1263.5" y="119.5" font-size="15.5">B</text>
<text x="809" y="306.5" font-size="26.2">p=0.003</text>
<text x="768.5" y="465.5" font-size="24.4">Number at risk</text>
<line x1="768.6" y1="481" x2="768.6" y2="524.7" stroke="#000" stroke-width="2.4"/>
<line x1="767.4" y1="523.6" x2="1393.5" y2="523.6" stroke="#000" stroke-width="2.4"/>
<line x1="764" y1="492.5" x2="768.6" y2="492.5" stroke="#000" stroke-width="2.2"/>
<line x1="764" y1="511.5" x2="768.6" y2="511.5" stroke="#000" stroke-width="2.2"/>
<text x="760" y="498.5" font-size="18" text-anchor="end" fill="#0066FF">A</text>
<text x="760" y="518" font-size="18" text-anchor="end" fill="#FF9900">B</text>
<text x="796.8" y="499" font-size="19" text-anchor="middle">577</text>
<text x="796.8" y="518.5" font-size="19" text-anchor="middle">227</text>
<line x1="796.8" y1="523.5" x2="796.8" y2="528.5" stroke="#000" stroke-width="2.2"/>
<text x="796.8" y="545.3" font-size="18" text-anchor="middle">0</text>
<text x="887.6" y="499" font-size="19" text-anchor="middle">320</text>
<text x="887.6" y="518.5" font-size="19" text-anchor="middle">106</text>
<line x1="887.6" y1="523.5" x2="887.6" y2="528.5" stroke="#000" stroke-width="2.2"/>
<text x="887.6" y="545.3" font-size="18" text-anchor="middle">2</text>
<text x="978.4" y="499" font-size="19" text-anchor="middle">205</text>
<text x="978.4" y="518.5" font-size="19" text-anchor="middle">65</text>
<line x1="978.4" y1="523.5" x2="978.4" y2="528.5" stroke="#000" stroke-width="2.2"/>
<text x="978.4" y="545.3" font-size="18" text-anchor="middle">4</text>
<text x="1069.2" y="499" font-size="19" text-anchor="middle">163</text>
<text x="1069.2" y="518.5" font-size="19" text-anchor="middle">50</text>
<line x1="1069.2" y1="523.5" x2="1069.2" y2="528.5" stroke="#000" stroke-width="2.2"/>
<text x="1069.2" y="545.3" font-size="18" text-anchor="middle">6</text>
<text x="1160" y="499" font-size="19" text-anchor="middle">123</text>
<text x="1160" y="518.5" font-size="19" text-anchor="middle">38</text>
<line x1="1160" y1="523.5" x2="1160" y2="528.5" stroke="#000" stroke-width="2.2"/>
<text x="1160" y="545.3" font-size="18" text-anchor="middle">8</text>
<text x="1250.8" y="499" font-size="19" text-anchor="middle">67</text>
<text x="1250.8" y="518.5" font-size="19" text-anchor="middle">21</text>
<line x1="1250.8" y1="523.5" x2="1250.8" y2="528.5" stroke="#000" stroke-width="2.2"/>
<text x="1250.8" y="545.3" font-size="18" text-anchor="middle">10</text>
<text x="1341.6" y="499" font-size="19" text-anchor="middle">10</text>
<text x="1341.6" y="518.5" font-size="19" text-anchor="middle">4</text>
<line x1="1341.6" y1="523.5" x2="1341.6" y2="528.5" stroke="#000" stroke-width="2.2"/>
<text x="1341.6" y="545.3" font-size="18" text-anchor="middle">12</text>
<text x="1080.8" y="567" font-size="21.4" text-anchor="middle">Time(years)</text>
<text x="716.7" y="494.2" font-size="21.5" text-anchor="middle" transform="rotate(-90 716.7 494.2)">NETs-cluster</text>
<rect x="120.7" y="649.1" width="139.3" height="6.6" fill="#1ECF9E"/>
<rect x="260" y="649.1" width="160.5" height="6.6" fill="#F7857A"/>
<rect x="420.5" y="649.1" width="54" height="6.6" fill="#1ECF9E"/>
<rect x="474.5" y="649.1" width="62.5" height="6.6" fill="#F7857A"/>
<rect x="120.7" y="658.2" width="299.8" height="6.6" fill="#0066FF"/>
<rect x="420.5" y="658.2" width="116.5" height="6.6" fill="#FF9900"/>
<text x="540.5" y="618.7" font-size="6.9" font-weight="bold">N</text>
<text x="540.5" y="627.6" font-size="6.9" font-weight="bold">T</text>
<text x="540.5" y="636.7" font-size="6.9" font-weight="bold">Gender</text>
<text x="540.5" y="645.8" font-size="6.9" font-weight="bold">Age</text>
<text x="540.5" y="654.7" font-size="6.9" font-weight="bold">Project</text>
<text x="540.5" y="663.8" font-size="6.9" font-weight="bold">NETs cluster</text>
<text x="541" y="676.89" font-size="7.1" fill="#222">RGS5</text>
<text x="541" y="689.46" font-size="7.1" fill="#222">IGFN1</text>
<text x="541" y="702.03" font-size="7.1" fill="#222">RGS2</text>
<text x="541" y="714.61" font-size="7.1" fill="#222">SCUBE2</text>
<text x="541" y="727.18" font-size="7.1" fill="#222">MAMDC2</text>
<text x="541" y="739.76" font-size="7.1" fill="#222">PDE2A</text>
<text x="541" y="752.33" font-size="7.1" fill="#222">PLP1</text>
<text x="541" y="764.9" font-size="7.1" fill="#222">FLNC</text>
<text x="541" y="777.48" font-size="7.1" fill="#222">MYLK</text>
<text x="541" y="790.05" font-size="7.1" fill="#222">GGT5</text>
<text x="541" y="802.63" font-size="7.1" fill="#222">SERPINE1</text>
<text x="541" y="815.2" font-size="7.1" fill="#222">STC1</text>
<text x="541" y="827.78" font-size="7.1" fill="#222">THSD4</text>
<text x="541" y="840.35" font-size="7.1" fill="#222">CUBN</text>
<text x="541" y="852.92" font-size="7.1" fill="#222">KRT81</text>
<text x="541" y="865.5" font-size="7.1" fill="#222">PAEP</text>
<text x="541" y="878.07" font-size="7.1" fill="#222">TM4SF1</text>
<text x="541" y="890.64" font-size="7.1" fill="#222">LAMC2</text>
<text x="541" y="903.22" font-size="7.1" fill="#222">RAB3B</text>
<text x="541" y="915.79" font-size="7.1" fill="#222">ESM1</text>
<text x="541" y="928.37" font-size="7.1" fill="#222">PTPRO</text>
<text x="541" y="940.94" font-size="7.1" fill="#222">IL2RG</text>
<text x="541" y="953.52" font-size="7.1" fill="#222">LCK</text>
<text x="541" y="966.09" font-size="7.1" fill="#222">IL21R</text>
<text x="541" y="978.66" font-size="7.1" fill="#222">APOBEC3H</text>
<text x="541" y="991.24" font-size="7.1" fill="#222">CD274</text>
<text x="541" y="1003.81" font-size="7.1" fill="#222">GZMB</text>
<path d="M120.7 724.68H92.09V737.26H120.7M120.7 762.4H100.17V774.98H120.7M120.7 749.83H89.06V768.69H100.17M92.09 730.97H87.37V759.26H89.06M120.7 712.11H82.83V745.12H87.37M120.7 699.53H77.78V728.61H82.83M120.7 686.96H72.73V714.07H77.78M120.7 674.39H71.55V700.52H72.73M120.7 800.13H85.86V812.7H120.7M120.7 787.55H78.96V806.41H85.86M120.7 825.28H76.94V837.85H120.7M78.96 796.98H70.54V831.56H76.94M71.55 687.45H66.33V814.27H70.54M120.7 850.42H74.41V863H120.7M120.7 875.57H81.65V888.14H120.7M74.41 856.71H71.04V881.86H81.65M120.7 900.72H73.23V913.29H120.7M71.04 869.28H70.2V907.01H73.23M120.7 963.59H92.09V976.16H120.7M120.7 988.74H89.9V1001.31H120.7M92.09 969.88H84.51V995.02H89.9M120.7 951.02H78.96V982.45H84.51M120.7 938.44H75.59V966.73H78.96M120.7 925.87H69.87V952.59H75.59M70.2 888.14H62.12V939.23H69.87M66.33 750.86H60.94V913.69H62.12" fill="none" stroke="#000" stroke-width="1.7" stroke-linejoin="miter"/>
<defs><linearGradient id="kc" x1="0" y1="0" x2="0" y2="1"><stop offset="0" stop-color="#FF0000"/><stop offset="0.41" stop-color="#FF0000"/><stop offset="0.5" stop-color="#FFFFFF"/><stop offset="0.58" stop-color="#0000FF"/><stop offset="1" stop-color="#0000FF"/></linearGradient></defs>
<rect x="586" y="611.8" width="11" height="169.3" fill="url(#kc)"/>
<text x="601.5" y="640.8" font-size="7" fill="#222">10</text>
<text x="601.5" y="670.15" font-size="7" fill="#222">5</text>
<text x="601.5" y="699.5" font-size="7" fill="#222">0</text>
<text x="601.5" y="728.85" font-size="7" fill="#222">−5</text>
<text x="601.5" y="758.2" font-size="7" fill="#222">−10</text>
<text x="614.6" y="616.9" font-size="6.9" font-weight="bold">N</text>
<rect x="614.6" y="619.2" width="9.6" height="9.8" fill="#1CCFF2"/>
<text x="626.4" y="626.5" font-size="6.9" fill="#333">N0</text>
<rect x="614.6" y="628.94" width="9.6" height="9.8" fill="#A3A3F2"/>
<text x="626.4" y="636.24" font-size="6.9" fill="#333">N1</text>
<rect x="614.6" y="638.68" width="9.6" height="9.8" fill="#F57DF2"/>
<text x="626.4" y="645.98" font-size="6.9" fill="#333">N2</text>
<rect x="614.6" y="648.42" width="9.6" height="9.8" fill="#F27DD8"/>
<text x="626.4" y="655.72" font-size="6.9" fill="#333">N3</text>
<rect x="614.6" y="658.16" width="9.6" height="9.8" fill="#47C447"/>
<text x="626.4" y="665.46" font-size="6.9" fill="#333">unknow</text>
<text x="614.6" y="680.5" font-size="6.9" font-weight="bold">T</text>
<rect x="614.6" y="682.5" width="9.6" height="9.8" fill="#2BCFC4"/>
<text x="626.4" y="689.8" font-size="6.9" fill="#333">T1</text>
<rect x="614.6" y="692.24" width="9.6" height="9.8" fill="#ABB51E"/>
<text x="626.4" y="699.54" font-size="6.9" fill="#333">T2</text>
<rect x="614.6" y="701.98" width="9.6" height="9.8" fill="#F57DA8"/>
<text x="626.4" y="709.28" font-size="6.9" fill="#333">T3</text>
<rect x="614.6" y="711.72" width="9.6" height="9.8" fill="#F2A41A"/>
<text x="626.4" y="719.02" font-size="6.9" fill="#333">T4</text>
<rect x="614.6" y="721.46" width="9.6" height="9.8" fill="#C79CF0"/>
<text x="626.4" y="728.76" font-size="6.9" fill="#333">unknow</text>
<text x="614.6" y="743.6" font-size="6.9" font-weight="bold">Gender</text>
<rect x="614.6" y="746" width="9.6" height="9.8" fill="#1ECF7A"/>
<text x="626.4" y="753.3" font-size="6.9" fill="#333">FEMALE</text>
<rect x="614.6" y="755.74" width="9.6" height="9.8" fill="#F07DF0"/>
<text x="626.4" y="763.04" font-size="6.9" fill="#333">MALE</text>
<text x="614.6" y="777.9" font-size="6.9" font-weight="bold">Age</text>
<rect x="614.6" y="780.4" width="9.6" height="9.8" fill="#D1AE1E"/>
<text x="626.4" y="787.7" font-size="6.9" fill="#333">&lt;=65</text>
<rect x="614.6" y="790.14" width="9.6" height="9.8" fill="#1ED1E8"/>
<text x="626.4" y="797.44" font-size="6.9" fill="#333">&gt;65</text>
<rect x="614.6" y="799.88" width="9.6" height="9.8" fill="#3DB6F5"/>
<text x="626.4" y="807.18" font-size="6.9" fill="#333">unknow</text>
<text x="614.6" y="821.9" font-size="6.9" font-weight="bold">Project</text>
<rect x="614.6" y="824" width="9.6" height="9.8" fill="#F7857A"/>
<text x="626.4" y="831.3" font-size="6.9" fill="#333">GSE84437</text>
<rect x="614.6" y="833.74" width="9.6" height="9.8" fill="#1ECF9E"/>
<text x="626.4" y="841.04" font-size="6.9" fill="#333">TCGA</text>
<text x="614.6" y="855.8" font-size="6.9" font-weight="bold">NETs cluster</text>
<rect x="614.6" y="858" width="9.6" height="9.8" fill="#0066FF"/>
<text x="626.4" y="865.3" font-size="6.9" fill="#333">A</text>
<rect x="614.6" y="867.74" width="9.6" height="9.8" fill="#FF9900"/>
<text x="626.4" y="875.04" font-size="6.9" fill="#333">B</text>
<rect x="785" y="612.7" width="232.5" height="7.2" fill="#0066FF"/>
<rect x="1021" y="612.7" width="90" height="7.2" fill="#FF9900"/>
<rect x="785" y="622.6" width="107.5" height="7.2" fill="#F8877E"/>
<rect x="892.5" y="622.6" width="125" height="7.2" fill="#8CC51E"/>
<rect x="1021" y="622.6" width="41.5" height="7.2" fill="#F8877E"/>
<rect x="1062.5" y="622.6" width="48.5" height="7.2" fill="#8CC51E"/>
<text x="1118" y="619.5" font-size="7.8" font-weight="bold">NETs-cluster</text>
<text x="1118" y="629.3" font-size="7.8" font-weight="bold">Project</text>
<text x="1118" y="644.45" font-size="5.7" fill="#222">KEGG_TGF_BETA_SIGNALING_PATHWAY</text>
<text x="1118" y="663.54" font-size="5.7" fill="#222">KEGG_MELANOGENESIS</text>
<text x="1118" y="682.63" font-size="5.7" fill="#222">KEGG_VASCULAR_SMOOTH_MUSCLE_CONTRACTION</text>
<text x="1118" y="701.72" font-size="5.7" fill="#222">KEGG_CALCIUM_SIGNALING_PATHWAY</text>
<text x="1118" y="720.81" font-size="5.7" fill="#222">KEGG_MAPK_SIGNALING_PATHWAY</text>
<text x="1118" y="739.9" font-size="5.7" fill="#222">KEGG_FOCAL_ADHESION</text>
<text x="1118" y="758.99" font-size="5.7" fill="#222">KEGG_ECM_RECEPTOR_INTERACTION</text>
<text x="1118" y="778.08" font-size="5.7" fill="#222">KEGG_ARRHYTHMOGENIC_RIGHT_VENTRICULAR_CARDIOMYOPATHY_ARVC</text>
<text x="1118" y="797.17" font-size="5.7" fill="#222">KEGG_DILATED_CARDIOMYOPATHY</text>
<text x="1118" y="816.26" font-size="5.7" fill="#222">KEGG_HYPERTROPHIC_CARDIOMYOPATHY_HCM</text>
<text x="1118" y="835.35" font-size="5.7" fill="#222">KEGG_ALANINE_ASPARTATE_AND_GLUTAMATE_METABOLISM</text>
<text x="1118" y="854.44" font-size="5.7" fill="#222">KEGG_PROTEASOME</text>
<text x="1118" y="873.53" font-size="5.7" fill="#222">KEGG_HOMOLOGOUS_RECOMBINATION</text>
<text x="1118" y="892.62" font-size="5.7" fill="#222">KEGG_DNA_REPLICATION</text>
<text x="1118" y="911.71" font-size="5.7" fill="#222">KEGG_MISMATCH_REPAIR</text>
<text x="1118" y="930.8" font-size="5.7" fill="#222">KEGG_CELL_CYCLE</text>
<text x="1118" y="949.89" font-size="5.7" fill="#222">KEGG_BASE_EXCISION_REPAIR</text>
<text x="1118" y="968.98" font-size="5.7" fill="#222">KEGG_PYRIMIDINE_METABOLISM</text>
<text x="1118" y="988.07" font-size="5.7" fill="#222">KEGG_AMINOACYL_TRNA_BIOSYNTHESIS</text>
<text x="1118" y="1007.16" font-size="5.7" fill="#222">KEGG_ONE_CARBON_POOL_BY_FOLATE</text>
<path d="M785 680.43H770.77V699.52H785M785 661.34H763.79V689.97H770.77M785 737.7H775.22V756.79H785M785 794.97H778.64V814.06H785M785 775.88H774.33V804.51H778.64M775.22 747.24H767.22V790.19H774.33M785 718.61H763.16V768.72H767.22M763.79 675.65H761.25V743.66H763.16M785 642.25H756.56V709.66H761.25M785 890.41H774.33V909.51H785M785 871.33H769.5V899.96H774.33M785 947.69H770.52V966.78H785M785 928.6H767.98V957.23H770.52M785 985.87H766.97V1004.96H785M767.98 942.91H765.44V995.41H766.97M769.5 885.64H763.79V969.16H765.44M785 852.24H759.98V927.4H763.79M785 833.14H755.29V889.82H759.98M756.56 675.95H735.23V861.48H755.29" fill="none" stroke="#000" stroke-width="1.6" stroke-linejoin="miter"/>
<defs><linearGradient id="kd" x1="0" y1="0" x2="0" y2="1"><stop offset="0" stop-color="#FF0000"/><stop offset="0.27" stop-color="#FF0000"/><stop offset="0.5" stop-color="#FFFFFF"/><stop offset="0.75" stop-color="#0000FF"/><stop offset="1" stop-color="#0000FF"/></linearGradient></defs>
<rect x="1338.8" y="611.7" width="9.7" height="143" fill="url(#kd)"/>
<text x="1352" y="635.2" font-size="7.7" fill="#222">2</text>
<text x="1352" y="660.7" font-size="7.7" fill="#222">1</text>
<text x="1352" y="686.2" font-size="7.7" fill="#222">0</text>
<text x="1352" y="711.7" font-size="7.7" fill="#222">−1</text>
<text x="1352" y="737.2" font-size="7.7" fill="#222">−2</text>
<text x="1362" y="617.3" font-size="7.7" font-weight="bold">NETs-cluster</text>
<rect x="1362" y="620.2" width="10.5" height="10.6" fill="#0066FF"/>
<rect x="1362" y="630.8" width="10.5" height="10.6" fill="#FF9900"/>
<text x="1374.7" y="628.5" font-size="7.7" fill="#333">A</text>
<text x="1374.7" y="639" font-size="7.7" fill="#333">B</text>
<text x="1362" y="655.9" font-size="7.7" font-weight="bold">Project</text>
<rect x="1362" y="658.8" width="10.5" height="10.4" fill="#8CC51E"/>
<rect x="1362" y="669.2" width="10.5" height="10.4" fill="#F8877E"/>
<text x="1374.7" y="667.3" font-size="7.7" fill="#333">GSE84437</text>
<text x="1374.7" y="677.7" font-size="7.7" fill="#333">TCGA</text>
<path d="M186 1053V1452M273.7 1053V1452M361.5 1053V1452M448.8 1053V1452M536.6 1053V1452M624.4 1053V1452" fill="none" stroke="#EBEBEB" stroke-width="1.1"/>
<line x1="98" y1="1052.5" x2="98" y2="1453" stroke="#000" stroke-width="1.9"/>
<line x1="97" y1="1452" x2="643.3" y2="1452" stroke="#000" stroke-width="1.9"/>
<line x1="95.3" y1="1053.34" x2="98" y2="1053.34" stroke="#000" stroke-width="1.2"/>
<text x="93.8" y="1055.94" font-size="7.4" text-anchor="end" fill="#4D4D4D">0.8</text>
<line x1="95.3" y1="1101.42" x2="98" y2="1101.42" stroke="#000" stroke-width="1.2"/>
<text x="93.8" y="1104.02" font-size="7.4" text-anchor="end" fill="#4D4D4D">0.4</text>
<line x1="95.3" y1="1149.5" x2="98" y2="1149.5" stroke="#000" stroke-width="1.2"/>
<text x="93.8" y="1152.1" font-size="7.4" text-anchor="end" fill="#4D4D4D">0.0</text>
<line x1="95.3" y1="1197.58" x2="98" y2="1197.58" stroke="#000" stroke-width="1.2"/>
<text x="93.8" y="1200.18" font-size="7.4" text-anchor="end" fill="#4D4D4D">−0.4</text>
<line x1="95.3" y1="1245.66" x2="98" y2="1245.66" stroke="#000" stroke-width="1.2"/>
<text x="93.8" y="1248.26" font-size="7.4" text-anchor="end" fill="#4D4D4D">−0.8</text>
<line x1="95.3" y1="1335.34" x2="98" y2="1335.34" stroke="#000" stroke-width="1.2"/>
<text x="93.8" y="1337.94" font-size="7.4" text-anchor="end" fill="#4D4D4D">0.8</text>
<line x1="95.3" y1="1374.22" x2="98" y2="1374.22" stroke="#000" stroke-width="1.2"/>
<text x="93.8" y="1376.82" font-size="7.4" text-anchor="end" fill="#4D4D4D">0.4</text>
<line x1="95.3" y1="1413.1" x2="98" y2="1413.1" stroke="#000" stroke-width="1.2"/>
<text x="93.8" y="1415.7" font-size="7.4" text-anchor="end" fill="#4D4D4D">0.0</text>
<line x1="95.3" y1="1451.98" x2="98" y2="1451.98" stroke="#000" stroke-width="1.2"/>
<text x="93.8" y="1454.58" font-size="7.4" text-anchor="end" fill="#4D4D4D">−0.4</text>
<line x1="273.7" y1="1452" x2="273.7" y2="1454.8" stroke="#000" stroke-width="1.2"/>
<text x="273.7" y="1463.5" font-size="7.4" text-anchor="middle" fill="#4D4D4D">5000</text>
<line x1="449" y1="1452" x2="449" y2="1454.8" stroke="#000" stroke-width="1.2"/>
<text x="449" y="1463.5" font-size="7.4" text-anchor="middle" fill="#4D4D4D">10000</text>
<line x1="624.5" y1="1452" x2="624.5" y2="1454.8" stroke="#000" stroke-width="1.2"/>
<text x="624.5" y="1463.5" font-size="7.4" text-anchor="middle" fill="#4D4D4D">15000</text>
<text x="370.4" y="1474.6" font-size="10.2" text-anchor="middle">Rank in Ordered Dataset</text>
<text x="74.3" y="1153.5" font-size="10.15" text-anchor="middle" transform="rotate(-90 74.3 1153.5)">Running Enrichment Score</text>
<text x="73.6" y="1390.6" font-size="10.3" text-anchor="middle" transform="rotate(-90 73.6 1390.6)">Ranked List Metric</text>
<text x="97.5" y="1045.2" font-size="12.8">Enriched in Cluster B</text>
<path d="M98.3 1413.1L98.3 1337.28L99 1354.78L100 1366.44L101 1371.3L103 1376.16L106 1380.05L110 1382.97L120 1387.83L130 1391.72L145 1395.12L160 1398.03L180 1400.95L200 1403.38L230 1405.81L260 1407.75L300 1409.7L340 1411.35L370 1412.61L400 1413.1L450 1414.27L500 1415.53L540 1416.99L580 1418.93L610 1421.36L625 1423.79L635 1427.68L639 1432.54L641 1438.37L642.6 1448.09L642.6 1413.1Z" fill="#BEBEBE"/>
<path d="M98.5 1252.8V1267.6M101.5 1252.8V1267.6M102.5 1252.8V1267.6M103.5 1252.8V1267.6M104.5 1252.8V1267.6M106.5 1252.8V1267.6M107.5 1252.8V1267.6M109.5 1252.8V1267.6M111.5 1252.8V1267.6M112.5 1252.8V1267.6M114.5 1252.8V1267.6M117.5 1252.8V1267.6M118.5 1252.8V1267.6M119.5 1252.8V1267.6M121.5 1252.8V1267.6M122.5 1252.8V1267.6M123.5 1252.8V1267.6M124.5 1252.8V1267.6M125.5 1252.8V1267.6M126.5 1252.8V1267.6M127.5 1252.8V1267.6M128.5 1252.8V1267.6M129.5 1252.8V1267.6M130.5 1252.8V1267.6M131.5 1252.8V1267.6M132.5 1252.8V1267.6M133.5 1252.8V1267.6M135.5 1252.8V1267.6M136.5 1252.8V1267.6M137.5 1252.8V1267.6M140.5 1252.8V1267.6M141.5 1252.8V1267.6M145.5 1252.8V1267.6M148.5 1252.8V1267.6M149.5 1252.8V1267.6M152.5 1252.8V1267.6M153.5 1252.8V1267.6M154.5 1252.8V1267.6M155.5 1252.8V1267.6M157.5 1252.8V1267.6M158.5 1252.8V1267.6M159.5 1252.8V1267.6M162.5 1252.8V1267.6M163.5 1252.8V1267.6M164.5 1252.8V1267.6M166.5 1252.8V1267.6M167.5 1252.8V1267.6M168.5 1252.8V1267.6M169.5 1252.8V1267.6M170.5 1252.8V1267.6M173.5 1252.8V1267.6M174.5 1252.8V1267.6M175.5 1252.8V1267.6M176.5 1252.8V1267.6M179.5 1252.8V1267.6M181.5 1252.8V1267.6M182.5 1252.8V1267.6M184.5 1252.8V1267.6M185.5 1252.8V1267.6M186.5 1252.8V1267.6M187.5 1252.8V1267.6M189.5 1252.8V1267.6M195.5 1252.8V1267.6M196.5 1252.8V1267.6M197.5 1252.8V1267.6M198.5 1252.8V1267.6M200.5 1252.8V1267.6M201.5 1252.8V1267.6M202.5 1252.8V1267.6M203.5 1252.8V1267.6M204.5 1252.8V1267.6M205.5 1252.8V1267.6M206.5 1252.8V1267.6M207.5 1252.8V1267.6M208.5 1252.8V1267.6M209.5 1252.8V1267.6M210.5 1252.8V1267.6M211.5 1252.8V1267.6M212.5 1252.8V1267.6M213.5 1252.8V1267.6M218.5 1252.8V1267.6M221.5 1252.8V1267.6M222.5 1252.8V1267.6M223.5 1252.8V1267.6M225.5 1252.8V1267.6M226.5 1252.8V1267.6M227.5 1252.8V1267.6M228.5 1252.8V1267.6M229.5 1252.8V1267.6M230.5 1252.8V1267.6M231.5 1252.8V1267.6M232.5 1252.8V1267.6M233.5 1252.8V1267.6M235.5 1252.8V1267.6M236.5 1252.8V1267.6M237.5 1252.8V1267.6M238.5 1252.8V1267.6M239.5 1252.8V1267.6M240.5 1252.8V1267.6M241.5 1252.8V1267.6M242.5 1252.8V1267.6M244.5 1252.8V1267.6M245.5 1252.8V1267.6M246.5 1252.8V1267.6M248.5 1252.8V1267.6M249.5 1252.8V1267.6M250.5 1252.8V1267.6M252.5 1252.8V1267.6M255.5 1252.8V1267.6M256.5 1252.8V1267.6M259.5 1252.8V1267.6M260.5 1252.8V1267.6M261.5 1252.8V1267.6M266.5 1252.8V1267.6M277.5 1252.8V1267.6M279.5 1252.8V1267.6M294.5 1252.8V1267.6M301.5 1252.8V1267.6M318.5 1252.8V1267.6M334.5 1252.8V1267.6M335.5 1252.8V1267.6M336.5 1252.8V1267.6M346.5 1252.8V1267.6M355.5 1252.8V1267.6M357.5 1252.8V1267.6M358.5 1252.8V1267.6M360.5 1252.8V1267.6M364.5 1252.8V1267.6M368.5 1252.8V1267.6M376.5 1252.8V1267.6M378.5 1252.8V1267.6M379.5 1252.8V1267.6M385.5 1252.8V1267.6M389.5 1252.8V1267.6M400.5 1252.8V1267.6M419.5 1252.8V1267.6M421.5 1252.8V1267.6M423.5 1252.8V1267.6M424.5 1252.8V1267.6M433.5 1252.8V1267.6M440.5 1252.8V1267.6M447.5 1252.8V1267.6M461.5 1252.8V1267.6M471.5 1252.8V1267.6M475.5 1252.8V1267.6M478.5 1252.8V1267.6M485.5 1252.8V1267.6M502.5 1252.8V1267.6M503.5 1252.8V1267.6M525.5 1252.8V1267.6M532.5 1252.8V1267.6M552.5 1252.8V1267.6M555.5 1252.8V1267.6M558.5 1252.8V1267.6M562.5 1252.8V1267.6M565.5 1252.8V1267.6M586.5 1252.8V1267.6M588.5 1252.8V1267.6M601.5 1252.8V1267.6M612.5 1252.8V1267.6M629.5 1252.8V1267.6" fill="none" stroke="#F8766D" stroke-width="2"/>
<path d="M100.5 1268.2V1283M101.5 1268.2V1283M102.5 1268.2V1283M103.5 1268.2V1283M104.5 1268.2V1283M105.5 1268.2V1283M106.5 1268.2V1283M107.5 1268.2V1283M108.5 1268.2V1283M109.5 1268.2V1283M110.5 1268.2V1283M111.5 1268.2V1283M112.5 1268.2V1283M118.5 1268.2V1283M119.5 1268.2V1283M127.5 1268.2V1283M129.5 1268.2V1283M143.5 1268.2V1283M163.5 1268.2V1283M179.5 1268.2V1283M185.5 1268.2V1283M190.5 1268.2V1283M198.5 1268.2V1283M202.5 1268.2V1283M204.5 1268.2V1283M206.5 1268.2V1283M209.5 1268.2V1283M213.5 1268.2V1283M215.5 1268.2V1283M216.5 1268.2V1283M220.5 1268.2V1283M222.5 1268.2V1283M234.5 1268.2V1283M237.5 1268.2V1283M241.5 1268.2V1283M246.5 1268.2V1283M248.5 1268.2V1283M249.5 1268.2V1283M250.5 1268.2V1283M251.5 1268.2V1283M252.5 1268.2V1283M268.5 1268.2V1283M269.5 1268.2V1283M271.5 1268.2V1283M274.5 1268.2V1283M289.5 1268.2V1283M293.5 1268.2V1283M302.5 1268.2V1283M304.5 1268.2V1283M308.5 1268.2V1283M314.5 1268.2V1283M318.5 1268.2V1283M328.5 1268.2V1283M333.5 1268.2V1283M357.5 1268.2V1283M362.5 1268.2V1283M363.5 1268.2V1283M374.5 1268.2V1283M378.5 1268.2V1283M391.5 1268.2V1283M414.5 1268.2V1283M420.5 1268.2V1283M426.5 1268.2V1283M442.5 1268.2V1283M443.5 1268.2V1283M453.5 1268.2V1283M454.5 1268.2V1283M468.5 1268.2V1283M481.5 1268.2V1283M489.5 1268.2V1283M502.5 1268.2V1283M507.5 1268.2V1283M518.5 1268.2V1283M621.5 1268.2V1283" fill="none" stroke="#00BF7D" stroke-width="2"/>
<path d="M98.5 1283.8V1298.8M99.5 1283.8V1298.8M100.5 1283.8V1298.8M101.5 1283.8V1298.8M102.5 1283.8V1298.8M103.5 1283.8V1298.8M104.5 1283.8V1298.8M106.5 1283.8V1298.8M107.5 1283.8V1298.8M109.5 1283.8V1298.8M111.5 1283.8V1298.8M112.5 1283.8V1298.8M113.5 1283.8V1298.8M114.5 1283.8V1298.8M116.5 1283.8V1298.8M118.5 1283.8V1298.8M119.5 1283.8V1298.8M121.5 1283.8V1298.8M122.5 1283.8V1298.8M123.5 1283.8V1298.8M125.5 1283.8V1298.8M126.5 1283.8V1298.8M128.5 1283.8V1298.8M130.5 1283.8V1298.8M132.5 1283.8V1298.8M135.5 1283.8V1298.8M136.5 1283.8V1298.8M137.5 1283.8V1298.8M139.5 1283.8V1298.8M140.5 1283.8V1298.8M141.5 1283.8V1298.8M142.5 1283.8V1298.8M143.5 1283.8V1298.8M144.5 1283.8V1298.8M145.5 1283.8V1298.8M146.5 1283.8V1298.8M148.5 1283.8V1298.8M152.5 1283.8V1298.8M153.5 1283.8V1298.8M157.5 1283.8V1298.8M158.5 1283.8V1298.8M159.5 1283.8V1298.8M161.5 1283.8V1298.8M162.5 1283.8V1298.8M163.5 1283.8V1298.8M166.5 1283.8V1298.8M168.5 1283.8V1298.8M169.5 1283.8V1298.8M170.5 1283.8V1298.8M173.5 1283.8V1298.8M174.5 1283.8V1298.8M175.5 1283.8V1298.8M176.5 1283.8V1298.8M177.5 1283.8V1298.8M180.5 1283.8V1298.8M182.5 1283.8V1298.8M183.5 1283.8V1298.8M184.5 1283.8V1298.8M185.5 1283.8V1298.8M186.5 1283.8V1298.8M187.5 1283.8V1298.8M188.5 1283.8V1298.8M189.5 1283.8V1298.8M190.5 1283.8V1298.8M206.5 1283.8V1298.8M211.5 1283.8V1298.8M214.5 1283.8V1298.8M217.5 1283.8V1298.8M224.5 1283.8V1298.8M225.5 1283.8V1298.8M228.5 1283.8V1298.8M239.5 1283.8V1298.8M249.5 1283.8V1298.8M255.5 1283.8V1298.8M261.5 1283.8V1298.8M272.5 1283.8V1298.8M281.5 1283.8V1298.8M282.5 1283.8V1298.8M297.5 1283.8V1298.8M301.5 1283.8V1298.8M308.5 1283.8V1298.8M331.5 1283.8V1298.8M334.5 1283.8V1298.8M341.5 1283.8V1298.8M342.5 1283.8V1298.8M343.5 1283.8V1298.8M344.5 1283.8V1298.8M345.5 1283.8V1298.8M348.5 1283.8V1298.8M358.5 1283.8V1298.8M362.5 1283.8V1298.8M380.5 1283.8V1298.8M390.5 1283.8V1298.8M398.5 1283.8V1298.8M400.5 1283.8V1298.8M401.5 1283.8V1298.8M403.5 1283.8V1298.8M404.5 1283.8V1298.8M405.5 1283.8V1298.8M408.5 1283.8V1298.8M410.5 1283.8V1298.8M417.5 1283.8V1298.8M421.5 1283.8V1298.8M424.5 1283.8V1298.8M438.5 1283.8V1298.8M443.5 1283.8V1298.8M451.5 1283.8V1298.8M452.5 1283.8V1298.8M473.5 1283.8V1298.8M480.5 1283.8V1298.8M513.5 1283.8V1298.8M514.5 1283.8V1298.8M520.5 1283.8V1298.8M529.5 1283.8V1298.8M532.5 1283.8V1298.8M535.5 1283.8V1298.8M549.5 1283.8V1298.8M561.5 1283.8V1298.8M563.5 1283.8V1298.8M572.5 1283.8V1298.8M581.5 1283.8V1298.8M592.5 1283.8V1298.8M594.5 1283.8V1298.8M595.5 1283.8V1298.8M605.5 1283.8V1298.8M613.5 1283.8V1298.8M628.5 1283.8V1298.8M636.5 1283.8V1298.8" fill="none" stroke="#E76BF3" stroke-width="2"/>
<path d="M178.5 1298.8V1314M193.5 1298.8V1314M275.5 1298.8V1314M277.5 1298.8V1314M302.5 1298.8V1314M337.5 1298.8V1314M419.5 1298.8V1314M486.5 1298.8V1314M547.5 1298.8V1314M551.5 1298.8V1314M553.5 1298.8V1314M563.5 1298.8V1314M574.5 1298.8V1314M586.5 1298.8V1314M592.5 1298.8V1314M595.5 1298.8V1314M601.5 1298.8V1314M608.5 1298.8V1314M610.5 1298.8V1314M611.5 1298.8V1314M614.5 1298.8V1314M616.5 1298.8V1314M618.5 1298.8V1314M620.5 1298.8V1314M621.5 1298.8V1314M622.5 1298.8V1314M623.5 1298.8V1314M624.5 1298.8V1314M626.5 1298.8V1314M627.5 1298.8V1314M629.5 1298.8V1314M630.5 1298.8V1314M635.5 1298.8V1314M640.5 1298.8V1314M641.5 1298.8V1314" fill="none" stroke="#00B0F6" stroke-width="2"/>
<path d="M104.5 1314.4V1328.3M109.5 1314.4V1328.3M114.5 1314.4V1328.3M121.5 1314.4V1328.3M123.5 1314.4V1328.3M124.5 1314.4V1328.3M143.5 1314.4V1328.3M146.5 1314.4V1328.3M155.5 1314.4V1328.3M157.5 1314.4V1328.3M160.5 1314.4V1328.3M164.5 1314.4V1328.3M165.5 1314.4V1328.3M176.5 1314.4V1328.3M180.5 1314.4V1328.3M182.5 1314.4V1328.3M192.5 1314.4V1328.3M197.5 1314.4V1328.3M206.5 1314.4V1328.3M208.5 1314.4V1328.3M211.5 1314.4V1328.3M216.5 1314.4V1328.3M238.5 1314.4V1328.3M258.5 1314.4V1328.3M294.5 1314.4V1328.3M301.5 1314.4V1328.3M304.5 1314.4V1328.3M305.5 1314.4V1328.3M309.5 1314.4V1328.3M316.5 1314.4V1328.3M320.5 1314.4V1328.3M323.5 1314.4V1328.3M325.5 1314.4V1328.3M343.5 1314.4V1328.3M344.5 1314.4V1328.3M368.5 1314.4V1328.3M374.5 1314.4V1328.3M389.5 1314.4V1328.3M400.5 1314.4V1328.3M406.5 1314.4V1328.3M420.5 1314.4V1328.3M435.5 1314.4V1328.3M440.5 1314.4V1328.3M445.5 1314.4V1328.3M451.5 1314.4V1328.3M459.5 1314.4V1328.3M460.5 1314.4V1328.3M462.5 1314.4V1328.3M463.5 1314.4V1328.3M467.5 1314.4V1328.3M474.5 1314.4V1328.3M487.5 1314.4V1328.3M494.5 1314.4V1328.3M496.5 1314.4V1328.3M497.5 1314.4V1328.3M504.5 1314.4V1328.3M506.5 1314.4V1328.3M511.5 1314.4V1328.3M515.5 1314.4V1328.3M523.5 1314.4V1328.3M534.5 1314.4V1328.3M535.5 1314.4V1328.3M537.5 1314.4V1328.3M541.5 1314.4V1328.3M547.5 1314.4V1328.3M548.5 1314.4V1328.3M549.5 1314.4V1328.3M553.5 1314.4V1328.3M554.5 1314.4V1328.3M555.5 1314.4V1328.3M556.5 1314.4V1328.3M558.5 1314.4V1328.3M560.5 1314.4V1328.3M568.5 1314.4V1328.3M573.5 1314.4V1328.3M574.5 1314.4V1328.3M575.5 1314.4V1328.3M576.5 1314.4V1328.3M577.5 1314.4V1328.3M586.5 1314.4V1328.3M587.5 1314.4V1328.3M593.5 1314.4V1328.3M594.5 1314.4V1328.3M597.5 1314.4V1328.3M602.5 1314.4V1328.3M603.5 1314.4V1328.3M607.5 1314.4V1328.3M608.5 1314.4V1328.3M609.5 1314.4V1328.3M611.5 1314.4V1328.3M612.5 1314.4V1328.3M615.5 1314.4V1328.3M616.5 1314.4V1328.3M618.5 1314.4V1328.3M620.5 1314.4V1328.3M621.5 1314.4V1328.3M622.5 1314.4V1328.3M623.5 1314.4V1328.3M624.5 1314.4V1328.3M625.5 1314.4V1328.3M627.5 1314.4V1328.3M629.5 1314.4V1328.3M630.5 1314.4V1328.3M631.5 1314.4V1328.3M632.5 1314.4V1328.3M633.5 1314.4V1328.3M634.5 1314.4V1328.3M638.5 1314.4V1328.3M639.5 1314.4V1328.3M641.5 1314.4V1328.3" fill="none" stroke="#A3A500" stroke-width="2"/>
<path d="M98.3 1140.63L99.6 1135.54L100.9 1129.65L102.2 1123.33L103.5 1118.8L104.8 1115.63L106.1 1112.71L107.4 1109.73L108.7 1106.45L110 1104.25L111.3 1102.92L112.6 1100.39L113.9 1099.2L115.2 1097.19L116.5 1096.39L117.8 1095.41L119.1 1093.99L120.4 1093.83L121.7 1092.91L123 1091.17L124.3 1090.5L125.6 1090.48L126.9 1090.35L128.2 1089.26L129.5 1088.56L130.8 1088.23L132.1 1087.31L133.4 1086.97L134.7 1086.67L136 1086.22L137.3 1085.46L138.6 1084.95L139.9 1084.44L141.2 1084.17L142.5 1083.5L143.8 1082.73L145.1 1083.05L146.4 1082.28L147.7 1081.88L149 1080.94L150.3 1081.26L151.6 1080.63L152.9 1079.41L154.2 1079.13L155.5 1079.06L156.8 1078.63L158.1 1078.43L159.4 1077.5L160.7 1077.48L162 1076.9L163.3 1076.11L164.6 1075.98L165.9 1075.88L167.2 1075.77L168.5 1075.35L169.8 1075.36L171.1 1074.73L172.4 1074.86L173.7 1075.34L175 1074.89L176.3 1074.57L177.6 1074.87L178.9 1074.95L180.2 1074.85L181.5 1074.48L182.8 1074.47L184.1 1074.46L185.4 1074.65L186.7 1074.32L188 1074.11L189.3 1074.12L190.6 1073.58L191.9 1073.51L193.2 1074.09L194.5 1074.29L195.8 1073.82L197.1 1073.54L198.4 1073.24L199.7 1073.49L201 1073.89L202.3 1073.59L203.6 1073.28L204.9 1073.52L206.2 1072.81L207.5 1073.01L208.8 1073.37L210.1 1072.91L211.4 1072.71L212.7 1072.44L214 1072.64L215.3 1072.97L216.6 1071.94L217.9 1072.63L219.2 1072.7L220.5 1072.96L221.8 1073.01L223.1 1073.27L224.4 1073.17L225.7 1073.41L227 1073.47L228.3 1073.3L229.6 1074.31L230.9 1074.2L232.2 1074.03L233.5 1074.53L234.8 1074.7L236.1 1074.77L237.4 1074.95L238.7 1075.34L240 1075.62L241.3 1075.81L242.6 1075.85L243.9 1075.61L245.2 1076.01L246.5 1076.15L247.8 1076.75L249.1 1077.22L250.4 1077.36L251.7 1077.55L253 1077.77L254.3 1077.4L255.6 1078.18L256.9 1078.21L258.2 1077.81L259.5 1077.94L260.8 1078.18L262.1 1079.18L263.4 1078.94L264.7 1079.06L266 1079.84L267.3 1079.83L268.6 1079.82L269.9 1080.17L271.2 1080.8L272.5 1080.71L273.8 1081.07L275.1 1081.78L276.4 1081.78L277.7 1081.92L279 1082.33L280.3 1082.14L281.6 1082.77L282.9 1083.07L284.2 1083.1L285.5 1083.29L286.8 1084.34L288.1 1084.21L289.4 1084.18L290.7 1084.84L292 1085.31L293.3 1084.78L294.6 1085.04L295.9 1085.43L297.2 1086.27L298.5 1085.98L299.8 1086.78L301.1 1087.02L302.4 1087.15L303.7 1087.09L305 1088.11L306.3 1088.2L307.6 1088.18L308.9 1088.15L310.2 1088.84L311.5 1088.85L312.8 1089.29L314.1 1089.3L315.4 1089.88L316.7 1089.57L318 1090.07L319.3 1091.01L320.6 1091.18L321.9 1090.87L323.2 1091.69L324.5 1091.4L325.8 1092.3L327.1 1092.37L328.4 1092.3L329.7 1092.4L331 1092.42L332.3 1093.56L333.6 1092.98L334.9 1094.02L336.2 1094.43L337.5 1094.3L338.8 1094.17L340.1 1095.13L341.4 1095.5L342.7 1095.49L344 1095.56L345.3 1095.69L346.6 1095.93L347.9 1096.05L349.2 1096.78L350.5 1096.8L351.8 1096.83L353.1 1097L354.4 1097.83L355.7 1097.72L357 1098.19L358.3 1098.28L359.6 1099.09L360.9 1099.41L362.2 1098.84L363.5 1099.33L364.8 1099.77L366.1 1100.74L367.4 1100.84L368.7 1100.71L370 1100.89L371.3 1101.66L372.6 1102.13L373.9 1102.54L375.2 1102.26L376.5 1103.1L377.8 1103.22L379.1 1103.32L380.4 1104.13L381.7 1103.69L383 1104.49L384.3 1104.16L385.6 1104.55L386.9 1105.6L388.2 1105.21L389.5 1106.07L390.8 1106.22L392.1 1106.77L393.4 1106.6L394.7 1106.89L396 1107.15L397.3 1108.03L398.6 1108.08L399.9 1108.74L401.2 1108.98L402.5 1108.53L403.8 1109.26L405.1 1109.12L406.4 1109.36L407.7 1109.71L409 1110.81L410.3 1111.04L411.6 1111.39L412.9 1111.21L414.2 1111.79L415.5 1112.27L416.8 1112.17L418.1 1112.68L419.4 1112.64L420.7 1112.8L422 1113.3L423.3 1114.23L424.6 1114.21L425.9 1114.88L427.2 1114.73L428.5 1114.85L429.8 1115.67L431.1 1116.02L432.4 1115.52L433.7 1116.48L435 1116.21L436.3 1116.54L437.6 1117.62L438.9 1117.09L440.2 1117.6L441.5 1118.65L442.8 1118.4L444.1 1118.4L445.4 1118.76L446.7 1119.14L448 1119.95L449.3 1119.6L450.6 1120.66L451.9 1120.37L453.2 1121.22L454.5 1121.41L455.8 1121.04L457.1 1121.25L458.4 1121.72L459.7 1121.6L461 1122.4L462.3 1122.04L463.6 1122.26L464.9 1123.48L466.2 1123.04L467.5 1123.6L468.8 1123.7L470.1 1123.81L471.4 1123.81L472.7 1124.91L474 1125.22L475.3 1125.47L476.6 1124.86L477.9 1125.22L479.2 1125.87L480.5 1126.48L481.8 1126.29L483.1 1126.69L484.4 1126.91L485.7 1126.76L487 1127.29L488.3 1127.31L489.6 1127.5L490.9 1127.58L492.2 1128.03L493.5 1128.99L494.8 1128.7L496.1 1129.16L497.4 1129.4L498.7 1129.95L500 1129.65L501.3 1129.81L502.6 1130.08L503.9 1130.32L505.2 1131.1L506.5 1131.4L507.8 1131.06L509.1 1131.34L510.4 1131.8L511.7 1132.09L513 1132.35L514.3 1132.25L515.6 1132.28L516.9 1132.75L518.2 1132.83L519.5 1133.56L520.8 1133.33L522.1 1133.58L523.4 1134.39L524.7 1134.3L526 1135.05L527.3 1135L528.6 1135.62L529.9 1135.16L531.2 1135.76L532.5 1136.31L533.8 1135.84L535.1 1136.96L536.4 1136.43L537.7 1137.21L539 1137.57L540.3 1137.57L541.6 1137.22L542.9 1137.17L544.2 1137.73L545.5 1138.29L546.8 1137.82L548.1 1138.58L549.4 1137.99L550.7 1138.91L552 1138.19L553.3 1138.63L554.6 1139.38L555.9 1139.43L557.2 1139.69L558.5 1139.78L559.8 1139.85L561.1 1139.95L562.4 1139.59L563.7 1140L565 1139.89L566.3 1140.6L567.6 1140.71L568.9 1140.45L570.2 1140.42L571.5 1141.48L572.8 1141.48L574.1 1141.38L575.4 1141.53L576.7 1141.99L578 1141.75L579.3 1141.85L580.6 1141.95L581.9 1142.03L583.2 1141.95L584.5 1142.73L585.8 1142.66L587.1 1142.97L588.4 1142.62L589.7 1143.07L591 1143.01L592.3 1143.15L593.6 1143.44L594.9 1144.17L596.2 1143.89L597.5 1144.05L598.8 1144.42L600.1 1144.2L601.4 1144.13L602.7 1144.81L604 1144.94L605.3 1145.24L606.6 1145.19L607.9 1145.59L609.2 1145.8L610.5 1145.46L611.8 1145.87L613.1 1146.01L614.4 1145.92L615.7 1146.26L617 1146.57L618.3 1147.07L619.6 1147.24L620.9 1146.75L622.2 1147.28L623.5 1146.84L624.8 1147.02L626.1 1147.62L627.4 1148.15L628.7 1147.59L630 1148.36L631.3 1148.64L632.6 1148.22L633.9 1148.77L635.2 1149.08L636.5 1148.77L637.8 1149.26L639.1 1149.45L640.4 1149.47L641.4 1149.5" fill="none" stroke="#F8766D" stroke-width="4.3" stroke-linejoin="round"/>
<path d="M98.3 1149.96L99.6 1149.69L100.9 1148.53L102.2 1148.3L103.5 1148.79L104.8 1148.42L106.1 1148.09L107.4 1147.47L108.7 1147.51L110 1147.57L111.3 1147.62L112.6 1147.26L113.9 1147.6L115.2 1147.63L116.5 1148.03L117.8 1148.36L119.1 1148.39L120.4 1148.05L121.7 1148.02L123 1147.91L124.3 1147.74L125.6 1147.8L126.9 1148.3L128.2 1148.23L129.5 1148.35L130.8 1148.78L132.1 1148.22L133.4 1148.07L134.7 1147.56L136 1147.16L137.3 1147.28L138.6 1146.9L139.9 1147.09L141.2 1147.39L142.5 1146.88L143.8 1146.2L145.1 1146.88L146.4 1147L147.7 1147.16L149 1147.55L150.3 1147.63L151.6 1147.87L152.9 1147.66L154.2 1148.5L155.5 1148.7L156.8 1148.12L158.1 1148.93L159.4 1149.11L160.7 1149.03L162 1149.24L163.3 1149.33L164.6 1149.9L165.9 1149.61L167.2 1150.08L168.5 1149.74L169.8 1150.4L171.1 1150.55L172.4 1150.25L173.7 1150.49L175 1150.98L176.3 1150.92L177.6 1150.82L178.9 1150.69L180.2 1150.93L181.5 1151.44L182.8 1151.04L184.1 1151.91L185.4 1151.37L186.7 1152.01L188 1151.41L189.3 1152.06L190.6 1151.81L191.9 1151.6L193.2 1151.62L194.5 1151.75L195.8 1151.69L197.1 1151.41L198.4 1151.31L199.7 1151.61L201 1152.03L202.3 1151.72L203.6 1151.18L204.9 1151.92L206.2 1151.83L207.5 1152.01L208.8 1151.45L210.1 1152.25L211.4 1151.82L212.7 1152.66L214 1152.53L215.3 1152.74L216.6 1153.64L217.9 1153.12L219.2 1153.79L220.5 1154.37L221.8 1154.01L223.1 1154.23L224.4 1155.15L225.7 1154.94L227 1155.49L228.3 1155.06L229.6 1155.64L230.9 1155.7L232.2 1156.45L233.5 1156.11L234.8 1157.24L236.1 1156.56L237.4 1157.51L238.7 1157.06L240 1157.54L241.3 1158.35L242.6 1157.95L243.9 1158.22L245.2 1158.98L246.5 1158.93L247.8 1158.84L249.1 1160.03L250.4 1159.45L251.7 1159.58L253 1160.14L254.3 1160.67L255.6 1161.04L256.9 1160.67L258.2 1161.14L259.5 1161.09L260.8 1161.76L262.1 1162.32L263.4 1162.55L264.7 1162.96L266 1163.07L267.3 1163.43L268.6 1163.52L269.9 1163.54L271.2 1163.54L272.5 1164.23L273.8 1164.14L275.1 1164.18L276.4 1164.78L277.7 1165.46L279 1164.97L280.3 1165.69L281.6 1165.75L282.9 1166.13L284.2 1166.01L285.5 1167.08L286.8 1166.64L288.1 1167.24L289.4 1167.31L290.7 1167.17L292 1167.96L293.3 1167.8L294.6 1167.97L295.9 1168.21L297.2 1168.59L298.5 1168.78L299.8 1169.58L301.1 1169.71L302.4 1170.44L303.7 1170.64L305 1170.96L306.3 1170.45L307.6 1170.92L308.9 1170.98L310.2 1171.58L311.5 1171.87L312.8 1172.3L314.1 1172.47L315.4 1172.27L316.7 1172.69L318 1173.05L319.3 1172.79L320.6 1173.07L321.9 1173.7L323.2 1173.66L324.5 1174.53L325.8 1174.3L327.1 1174.42L328.4 1174.76L329.7 1175.06L331 1175.3L332.3 1175.86L333.6 1176.06L334.9 1176.17L336.2 1176.75L337.5 1176.58L338.8 1177.53L340.1 1177.84L341.4 1177.86L342.7 1177.83L344 1178.16L345.3 1178.49L346.6 1178.21L347.9 1178.83L349.2 1179.2L350.5 1179.11L351.8 1179.28L353.1 1180.24L354.4 1180.06L355.7 1180.47L357 1181.13L358.3 1181.08L359.6 1181.01L360.9 1181.98L362.2 1181.64L363.5 1181.57L364.8 1182.51L366.1 1182.21L367.4 1182.69L368.7 1183.5L370 1183.61L371.3 1183.23L372.6 1183.95L373.9 1184.18L375.2 1184.54L376.5 1184.54L377.8 1185.2L379.1 1184.96L380.4 1185.45L381.7 1185.82L383 1186.66L384.3 1186.08L385.6 1187.03L386.9 1186.75L388.2 1187.41L389.5 1187.5L390.8 1187.85L392.1 1188.42L393.4 1188.34L394.7 1188.35L396 1188.62L397.3 1188.86L398.6 1189.91L399.9 1189.98L401.2 1190.57L402.5 1190.59L403.8 1190.2L405.1 1191.11L406.4 1191.51L407.7 1191.73L409 1191.78L410.3 1191.92L411.6 1192.3L412.9 1192.92L414.2 1192.67L415.5 1193.2L416.8 1193.43L418.1 1194.19L419.4 1194.31L420.7 1194.72L422 1194.9L423.3 1194.64L424.6 1194.85L425.9 1195.39L427.2 1195.44L428.5 1195.88L429.8 1196.41L431.1 1196.93L432.4 1196.88L433.7 1197.39L435 1196.94L436.3 1197.48L437.6 1198.4L438.9 1197.83L440.2 1198.38L441.5 1198.3L442.8 1198.6L444.1 1199.69L445.4 1200.06L446.7 1200L448 1199.76L449.3 1200.16L450.6 1200.27L451.9 1200.88L453.2 1201.07L454.5 1201L455.8 1201.26L457.1 1201.02L458.4 1201.62L459.7 1202.2L461 1202.18L462.3 1201.7L463.6 1202.29L464.9 1202.66L466.2 1202.38L467.5 1203.19L468.8 1202.93L470.1 1203.34L471.4 1203.22L472.7 1203.98L474 1203.94L475.3 1203.9L476.6 1203.65L477.9 1204.12L479.2 1203.88L480.5 1204.62L481.8 1205.08L483.1 1204.55L484.4 1205.05L485.7 1205.2L487 1205.3L488.3 1205.77L489.6 1206.17L490.9 1206.12L492.2 1206.06L493.5 1206.72L494.8 1206.26L496.1 1206.85L497.4 1206.93L498.7 1207.21L500 1207.47L501.3 1207.02L502.6 1207.59L503.9 1207.55L505.2 1207.98L506.5 1208.47L507.8 1208.3L509.1 1207.85L510.4 1208.47L511.7 1208.89L513 1209.24L514.3 1209.18L515.6 1209.52L516.9 1208.89L518.2 1209.99L519.5 1209.95L520.8 1210L522.1 1210.47L523.4 1210.63L524.7 1210.01L526 1210.9L527.3 1211.03L528.6 1210.63L529.9 1211.35L531.2 1211.37L532.5 1211.15L533.8 1211.93L535.1 1211.44L536.4 1212.09L537.7 1212.05L539 1212L540.3 1212.45L541.6 1212.49L542.9 1212.36L544.2 1213.26L545.5 1212.5L546.8 1212.57L548.1 1213.19L549.4 1213.67L550.7 1213.63L552 1213.86L553.3 1213.73L554.6 1214.05L555.9 1213.85L557.2 1213.92L558.5 1214.29L559.8 1213.95L561.1 1214.14L562.4 1214.95L563.7 1214.5L565 1215.22L566.3 1215.39L567.6 1215.14L568.9 1215.55L570.2 1215.8L571.5 1216.01L572.8 1215.41L574.1 1215.58L575.4 1215.93L576.7 1216.15L578 1216.12L579.3 1215.97L580.6 1216.65L581.9 1217.2L583.2 1216.73L584.5 1217.04L585.8 1217.02L587.1 1217.04L588.4 1217.26L589.7 1216.5L591 1216.64L592.3 1216.28L593.6 1216.13L594.9 1216.31L596.2 1215.27L597.5 1215.82L598.8 1215.1L600.1 1215.24L601.4 1215.19L602.7 1214.85L604 1214.39L605.3 1214.63L606.6 1213.69L607.9 1214.03L609.2 1213.58L610.5 1213.52L611.8 1213.64L613.1 1213.39L614.4 1213.02L615.7 1212.5L617 1212.23L618.3 1212.25L619.6 1211.82L620.9 1211.31L622.2 1211.12L623.5 1209.4L624.8 1209.24L626.1 1207.93L627.4 1207.05L628.7 1206.13L630 1205.02L631.3 1204.53L632.6 1203.37L633.9 1199.39L635.2 1193.98L636.5 1189.32L637.8 1184.09L639.1 1178.35L640.4 1163.96L641.6 1149.5" fill="none" stroke="#A3A500" stroke-width="4.3" stroke-linejoin="round"/>
<path d="M98.3 1139.74L99.6 1124.75L100.9 1115.37L102.2 1109.1L103.5 1102.63L104.8 1097.17L106.1 1093.21L107.4 1090.14L108.7 1086.73L110 1084.8L111.3 1083.65L112.6 1081.21L113.9 1079.8L115.2 1077.71L116.5 1076.14L117.8 1073.92L119.1 1073.33L120.4 1072.62L121.7 1071.33L123 1070.6L124.3 1069.79L125.6 1068.56L126.9 1068.64L128.2 1067.85L129.5 1066.94L130.8 1066.05L132.1 1066.27L133.4 1065.26L134.7 1065.13L136 1065.13L137.3 1064.8L138.6 1064.85L139.9 1064.16L141.2 1064.4L142.5 1063.88L143.8 1064.21L145.1 1063.99L146.4 1063.05L147.7 1062.92L149 1062.84L150.3 1063.45L151.6 1062.86L152.9 1062.98L154.2 1062.59L155.5 1062.73L156.8 1062.55L158.1 1062.45L159.4 1062.62L160.7 1062.55L162 1062.8L163.3 1062.52L164.6 1062.7L165.9 1062.56L167.2 1062.63L168.5 1062.25L169.8 1061.67L171.1 1062.34L172.4 1062.42L173.7 1062.33L175 1061.97L176.3 1062.09L177.6 1061.56L178.9 1062.15L180.2 1061.87L181.5 1061.55L182.8 1061.3L184.1 1062.07L185.4 1062.3L186.7 1061.64L188 1062.6L189.3 1062.45L190.6 1062.44L191.9 1062.82L193.2 1063.54L194.5 1063.89L195.8 1063.3L197.1 1064.12L198.4 1063.79L199.7 1064.71L201 1064.56L202.3 1065.36L203.6 1065.7L204.9 1065.47L206.2 1066.2L207.5 1065.76L208.8 1065.77L210.1 1066.54L211.4 1066.21L212.7 1066.62L214 1067.07L215.3 1067.52L216.6 1067.31L217.9 1067.44L219.2 1068.51L220.5 1068.2L221.8 1069.09L223.1 1069.27L224.4 1068.99L225.7 1069.32L227 1069.62L228.3 1069.99L229.6 1070.18L230.9 1070.39L232.2 1070.69L233.5 1071.26L234.8 1071.07L236.1 1071.24L237.4 1071.77L238.7 1071.53L240 1071.84L241.3 1072.76L242.6 1072.54L243.9 1072.81L245.2 1072.52L246.5 1073.17L247.8 1073.57L249.1 1073.26L250.4 1074.1L251.7 1074.36L253 1074.03L254.3 1074.84L255.6 1074.92L256.9 1075.38L258.2 1075.29L259.5 1075.89L260.8 1076.17L262.1 1075.69L263.4 1075.98L264.7 1076.83L266 1077.37L267.3 1076.9L268.6 1077.34L269.9 1077.72L271.2 1077.7L272.5 1077.98L273.8 1078.17L275.1 1078.47L276.4 1078.94L277.7 1078.89L279 1079.21L280.3 1079.85L281.6 1079.35L282.9 1080.14L284.2 1080.54L285.5 1080.36L286.8 1080.52L288.1 1081.34L289.4 1081.02L290.7 1081.21L292 1081.7L293.3 1082.21L294.6 1081.86L295.9 1082.32L297.2 1082.58L298.5 1083.32L299.8 1083.17L301.1 1083.83L302.4 1083.39L303.7 1083.8L305 1084.35L306.3 1084.83L307.6 1084.64L308.9 1084.66L310.2 1084.8L311.5 1085.45L312.8 1085.35L314.1 1086.21L315.4 1086.49L316.7 1086.08L318 1086.42L319.3 1087.19L320.6 1087.27L321.9 1087.67L323.2 1087.46L324.5 1087.48L325.8 1087.89L327.1 1088.63L328.4 1088.36L329.7 1088.67L331 1088.99L332.3 1089.23L333.6 1089.47L334.9 1090.22L336.2 1089.7L337.5 1089.79L338.8 1090.97L340.1 1091.15L341.4 1091.5L342.7 1091.2L344 1091.95L345.3 1092.18L346.6 1091.71L347.9 1092.48L349.2 1092.81L350.5 1092.88L351.8 1092.98L353.1 1093L354.4 1093.29L355.7 1093.42L357 1093.51L358.3 1094.27L359.6 1094.21L360.9 1095.04L362.2 1094.6L363.5 1095.78L364.8 1095.89L366.1 1096.45L367.4 1096.75L368.7 1097.07L370 1097.08L371.3 1096.84L372.6 1097.9L373.9 1097.65L375.2 1098.1L376.5 1098.79L377.8 1098.97L379.1 1099.19L380.4 1100.04L381.7 1100.04L383 1100.09L384.3 1100.33L385.6 1101.26L386.9 1101.2L388.2 1101.83L389.5 1101.73L390.8 1101.9L392.1 1102.56L393.4 1103.17L394.7 1102.85L396 1103.79L397.3 1104.25L398.6 1104.46L399.9 1104.8L401.2 1104.31L402.5 1105.25L403.8 1105.81L405.1 1105.32L406.4 1105.87L407.7 1106.19L409 1106.78L410.3 1107L411.6 1107.37L412.9 1108L414.2 1107.55L415.5 1107.93L416.8 1108.33L418.1 1108.65L419.4 1108.92L420.7 1110.15L422 1110.35L423.3 1109.91L424.6 1110.65L425.9 1110.79L427.2 1111.11L428.5 1111.48L429.8 1112.1L431.1 1112.36L432.4 1112.46L433.7 1112.62L435 1113.08L436.3 1113.2L437.6 1113.96L438.9 1114.44L440.2 1114.43L441.5 1114.45L442.8 1114.88L444.1 1115.4L445.4 1115.95L446.7 1116.46L448 1116.38L449.3 1117.1L450.6 1117.17L451.9 1117.23L453.2 1117.42L454.5 1117.8L455.8 1118.26L457.1 1118.23L458.4 1118.75L459.7 1118.77L461 1118.81L462.3 1119.35L463.6 1119.76L464.9 1119.39L466.2 1119.99L467.5 1120.25L468.8 1120.95L470.1 1121.26L471.4 1120.95L472.7 1121.73L474 1121.87L475.3 1121.59L476.6 1122.05L477.9 1121.96L479.2 1122.9L480.5 1123L481.8 1123.48L483.1 1123.63L484.4 1123.76L485.7 1124.08L487 1124.16L488.3 1123.95L489.6 1124.69L490.9 1124.36L492.2 1124.75L493.5 1125.63L494.8 1125.15L496.1 1125.45L497.4 1125.71L498.7 1126.74L500 1126.29L501.3 1126.39L502.6 1127.46L503.9 1126.99L505.2 1127.96L506.5 1128.05L507.8 1128.46L509.1 1128.83L510.4 1128.71L511.7 1129.18L513 1128.67L514.3 1129.65L515.6 1129.65L516.9 1130.1L518.2 1129.74L519.5 1130.64L520.8 1131.08L522.1 1130.45L523.4 1130.97L524.7 1131.46L526 1131.98L527.3 1131.64L528.6 1131.83L529.9 1132.15L531.2 1132.77L532.5 1133.16L533.8 1133.05L535.1 1133.28L536.4 1133.56L537.7 1133.7L539 1133.94L540.3 1133.77L541.6 1134.36L542.9 1135.01L544.2 1134.62L545.5 1135.12L546.8 1134.71L548.1 1135.41L549.4 1135.65L550.7 1135.74L552 1135.75L553.3 1135.89L554.6 1136.22L555.9 1136.65L557.2 1136.07L558.5 1136.19L559.8 1137.01L561.1 1137.35L562.4 1137.13L563.7 1137.22L565 1137.67L566.3 1137.31L567.6 1137.56L568.9 1137.67L570.2 1138.22L571.5 1138.13L572.8 1138.21L574.1 1138.85L575.4 1139.28L576.7 1138.79L578 1139.38L579.3 1139.25L580.6 1139.87L581.9 1139.77L583.2 1139.62L584.5 1139.75L585.8 1139.72L587.1 1140.35L588.4 1140.43L589.7 1140.39L591 1140.75L592.3 1140.88L593.6 1141.5L594.9 1141.05L596.2 1142.07L597.5 1141.73L598.8 1142.02L600.1 1142.06L601.4 1142.6L602.7 1142.75L604 1142.66L605.3 1142.76L606.6 1143.17L607.9 1143.48L609.2 1143.19L610.5 1143.7L611.8 1144.1L613.1 1143.77L614.4 1143.71L615.7 1143.89L617 1144.54L618.3 1144.67L619.6 1145.12L620.9 1145.19L622.2 1144.75L623.5 1144.87L624.8 1145.16L626.1 1145.41L627.4 1146.25L628.7 1146.72L630 1147.08L631.3 1146.76L632.6 1147.69L633.9 1147.46L635.2 1147.89L636.5 1148.52L637.8 1148.2L639.1 1148.52L640.4 1149.59L641.4 1149.5" fill="none" stroke="#00BF7D" stroke-width="4.3" stroke-linejoin="round"/>
<path d="M98.3 1149.24L99.6 1149.39L100.9 1149.97L102.2 1150.01L103.5 1150.21L104.8 1150.83L106.1 1151.64L107.4 1151.81L108.7 1152.06L110 1151.8L111.3 1152.4L112.6 1152.43L113.9 1152.61L115.2 1152.83L116.5 1153.22L117.8 1154.22L119.1 1154.41L120.4 1154.68L121.7 1154.96L123 1154.63L124.3 1155.04L125.6 1155.64L126.9 1156.03L128.2 1156.44L129.5 1156.75L130.8 1156.25L132.1 1157.05L133.4 1157.4L134.7 1157.52L136 1157.48L137.3 1158.07L138.6 1157.97L139.9 1159.1L141.2 1159.32L142.5 1159.28L143.8 1159.32L145.1 1160.22L146.4 1160.17L147.7 1160.77L149 1161.02L150.3 1160.96L151.6 1161.16L152.9 1161.63L154.2 1161.75L155.5 1161.76L156.8 1162.19L158.1 1162.99L159.4 1162.5L160.7 1162.79L162 1163.66L163.3 1163.6L164.6 1164.14L165.9 1164.36L167.2 1164.52L168.5 1165.46L169.8 1164.95L171.1 1165.45L172.4 1165.53L173.7 1166.24L175 1166.17L176.3 1166.54L177.6 1167.22L178.9 1167.08L180.2 1167.6L181.5 1168.23L182.8 1167.72L184.1 1167.96L185.4 1168.41L186.7 1169.21L188 1169.32L189.3 1169.21L190.6 1169.56L191.9 1169.67L193.2 1170.21L194.5 1170.06L195.8 1170.98L197.1 1171.44L198.4 1171.76L199.7 1171.8L201 1172.29L202.3 1171.61L203.6 1172.14L204.9 1173.08L206.2 1173.15L207.5 1173.05L208.8 1173.85L210.1 1173.79L211.4 1174.25L212.7 1173.98L214 1174.14L215.3 1174.66L216.6 1174.61L217.9 1175.12L219.2 1175.96L220.5 1175.6L221.8 1175.54L223.1 1175.83L224.4 1176.22L225.7 1177.1L227 1176.94L228.3 1177.13L229.6 1177.2L230.9 1178.34L232.2 1178.05L233.5 1178.1L234.8 1178.21L236.1 1178.47L237.4 1178.84L238.7 1179.61L240 1179.35L241.3 1179.5L242.6 1180.21L243.9 1180.24L245.2 1181.25L246.5 1180.63L247.8 1181.3L249.1 1181.81L250.4 1181.71L251.7 1182.55L253 1182.3L254.3 1182.33L255.6 1182.76L256.9 1182.65L258.2 1183.29L259.5 1183.38L260.8 1184.29L262.1 1184.49L263.4 1184.42L264.7 1184.22L266 1184.7L267.3 1184.95L268.6 1185.18L269.9 1185.46L271.2 1186.37L272.5 1185.9L273.8 1186.07L275.1 1187.22L276.4 1187.13L277.7 1187.82L279 1187.51L280.3 1188.28L281.6 1188.3L282.9 1188.71L284.2 1188.93L285.5 1188.96L286.8 1188.83L288.1 1189.21L289.4 1190.15L290.7 1190.45L292 1190.74L293.3 1190.42L294.6 1191.02L295.9 1191.43L297.2 1191.54L298.5 1191.99L299.8 1191.97L301.1 1192.37L302.4 1192.67L303.7 1192.53L305 1193.45L306.3 1193.76L307.6 1193.15L308.9 1194.31L310.2 1194.57L311.5 1194.55L312.8 1194.2L314.1 1195.33L315.4 1194.83L316.7 1195.94L318 1195.91L319.3 1195.57L320.6 1195.95L321.9 1196.69L323.2 1196.89L324.5 1197.34L325.8 1197.79L327.1 1197.36L328.4 1197.41L329.7 1198.6L331 1197.96L332.3 1199.1L333.6 1198.61L334.9 1199.57L336.2 1199.82L337.5 1200.18L338.8 1200.13L340.1 1200.73L341.4 1200.32L342.7 1201.06L344 1200.99L345.3 1201.83L346.6 1201.98L347.9 1201.95L349.2 1202.27L350.5 1202.04L351.8 1202.32L353.1 1203.16L354.4 1203.32L355.7 1203.97L357 1203.98L358.3 1203.78L359.6 1204.28L360.9 1204.98L362.2 1205.05L363.5 1204.85L364.8 1205.98L366.1 1206.28L367.4 1205.85L368.7 1206.62L370 1206.77L371.3 1207.49L372.6 1207.32L373.9 1207.55L375.2 1208.12L376.5 1208.91L377.8 1208.34L379.1 1208.67L380.4 1209.49L381.7 1210.07L383 1210L384.3 1210.24L385.6 1210.97L386.9 1211.2L388.2 1210.8L389.5 1211.92L390.8 1211.55L392.1 1211.97L393.4 1212.81L394.7 1212.71L396 1213.39L397.3 1213.07L398.6 1214.09L399.9 1213.7L401.2 1213.99L402.5 1214.64L403.8 1214.8L405.1 1215.31L406.4 1215.98L407.7 1216.1L409 1215.7L410.3 1216.32L411.6 1216.86L412.9 1217.12L414.2 1217.66L415.5 1217.73L416.8 1217.64L418.1 1218.12L419.4 1219.03L420.7 1218.85L422 1219.57L423.3 1220.1L424.6 1220.05L425.9 1220.41L427.2 1220.65L428.5 1220.67L429.8 1221.58L431.1 1221.44L432.4 1222.2L433.7 1221.9L435 1222.77L436.3 1223L437.6 1223.14L438.9 1223.28L440.2 1223.29L441.5 1224.23L442.8 1224.13L444.1 1224.74L445.4 1224.52L446.7 1224.78L448 1225.15L449.3 1226.09L450.6 1225.67L451.9 1226.61L453.2 1226.29L454.5 1226.7L455.8 1226.69L457.1 1227.17L458.4 1226.86L459.7 1227.38L461 1228.12L462.3 1227.58L463.6 1228.27L464.9 1228.15L466.2 1228.34L467.5 1228.27L468.8 1228.48L470.1 1229.62L471.4 1229.71L472.7 1229.9L474 1230.11L475.3 1230.47L476.6 1229.89L477.9 1230.53L479.2 1230.65L480.5 1230.94L481.8 1231.52L483.1 1231.55L484.4 1231.97L485.7 1231.33L487 1232.08L488.3 1232.31L489.6 1232.59L490.9 1232.68L492.2 1233.1L493.5 1232.79L494.8 1233.62L496.1 1233.31L497.4 1233.72L498.7 1234.23L500 1234.25L501.3 1234.07L502.6 1234.2L503.9 1234.51L505.2 1235.02L506.5 1235.6L507.8 1235.71L509.1 1235.43L510.4 1235.64L511.7 1236.27L513 1235.95L514.3 1236.29L515.6 1236.1L516.9 1236.48L518.2 1237.05L519.5 1237.42L520.8 1237.55L522.1 1237.51L523.4 1238.31L524.7 1238.19L526 1237.94L527.3 1238.06L528.6 1239.18L529.9 1239.4L531.2 1239.55L532.5 1239.44L533.8 1239.36L535.1 1239.36L536.4 1239.73L537.7 1239.91L539 1240.83L540.3 1241L541.6 1241.1L542.9 1240.68L544.2 1240.99L545.5 1241.26L546.8 1242.12L548.1 1241.55L549.4 1242.39L550.7 1242.49L552 1242.57L553.3 1243.11L554.6 1242.5L555.9 1242.84L557.2 1242.56L558.5 1242.58L559.8 1242.6L561.1 1242.97L562.4 1242.86L563.7 1242.88L565 1243.89L566.3 1243.27L567.6 1243.96L568.9 1243.85L570.2 1243.96L571.5 1243.97L572.8 1244.35L574.1 1244.36L575.4 1244.29L576.7 1244.21L578 1244.43L579.3 1244.54L580.6 1244.45L581.9 1244.48L583.2 1244.22L584.5 1244.99L585.8 1244.56L587.1 1243.81L588.4 1243.59L589.7 1243.97L591 1243.02L592.3 1242.83L593.6 1242.79L594.9 1242.65L596.2 1241.78L597.5 1241.52L598.8 1241.23L600.1 1240.5L601.4 1240.97L602.7 1239.73L604 1240.29L605.3 1239.1L606.6 1238.72L607.9 1239.03L609.2 1238.62L610.5 1237.65L611.8 1237.59L613.1 1237.13L614.4 1236.99L615.7 1236.07L617 1233.84L618.3 1230.39L619.6 1226.48L620.9 1223.11L622.2 1219.58L623.5 1215.47L624.8 1212.39L626.1 1208.83L627.4 1205.04L628.7 1201.01L630 1196.69L631.3 1192.15L632.6 1186.72L633.9 1182.23L635.2 1177.36L636.5 1170.35L637.8 1163.06L639.1 1156.94L640.3 1150.6" fill="none" stroke="#00B0F6" stroke-width="4.3" stroke-linejoin="round"/>
<path d="M98.3 1139.12L99.6 1137.11L100.9 1135.03L102.2 1133.04L103.5 1130.7L104.8 1128.75L106.1 1126.28L107.4 1125.24L108.7 1124.23L110 1122.46L111.3 1121.23L112.6 1118.97L113.9 1117.96L115.2 1116.43L116.5 1115.41L117.8 1114.13L119.1 1112.26L120.4 1111.15L121.7 1109.9L123 1109.22L124.3 1107.49L125.6 1105.13L126.9 1104.01L128.2 1101.6L129.5 1100.32L130.8 1098.07L132.1 1096.17L133.4 1095.27L134.7 1092.84L136 1091.08L137.3 1090.12L138.6 1088.44L139.9 1086.28L141.2 1085.38L142.5 1083.38L143.8 1081.95L145.1 1080.27L146.4 1080.41L147.7 1079.56L149 1079.24L150.3 1078.56L151.6 1077.37L152.9 1076.83L154.2 1076.04L155.5 1075.53L156.8 1075.13L158.1 1075.06L159.4 1075.04L160.7 1074.13L162 1074.49L163.3 1073.84L164.6 1073.5L165.9 1073.71L167.2 1073.23L168.5 1072.92L169.8 1072.94L171.1 1073.02L172.4 1072.24L173.7 1073.01L175 1071.92L176.3 1072.5L177.6 1072.45L178.9 1071.49L180.2 1072.11L181.5 1071.55L182.8 1071.62L184.1 1070.91L185.4 1070.83L186.7 1070.89L188 1071.6L189.3 1070.77L190.6 1071.26L191.9 1071.36L193.2 1071.3L194.5 1070.64L195.8 1070.58L197.1 1070.68L198.4 1070.86L199.7 1070.12L201 1070.8L202.3 1070.91L203.6 1071.04L204.9 1070.28L206.2 1071.26L207.5 1070.47L208.8 1070.78L210.1 1071.12L211.4 1071.49L212.7 1070.97L214 1071.62L215.3 1071.31L216.6 1071.14L217.9 1071.21L219.2 1071.14L220.5 1071.18L221.8 1071.5L223.1 1072.29L224.4 1072.85L225.7 1072.27L227 1072.41L228.3 1073.61L229.6 1073.41L230.9 1073.53L232.2 1073.62L233.5 1074.23L234.8 1074.71L236.1 1074.6L237.4 1074.81L238.7 1074.7L240 1075.82L241.3 1075.19L242.6 1075.9L243.9 1076.5L245.2 1076.04L246.5 1076.9L247.8 1077.37L249.1 1077.3L250.4 1077.72L251.7 1077.29L253 1077.87L254.3 1077.84L255.6 1078.79L256.9 1078.49L258.2 1078.9L259.5 1079.7L260.8 1079.81L262.1 1080.19L263.4 1079.92L264.7 1080.2L266 1080.7L267.3 1080.7L268.6 1080.77L269.9 1081.13L271.2 1081.13L272.5 1081.61L273.8 1082.48L275.1 1082.7L276.4 1082.62L277.7 1082.75L279 1082.84L280.3 1082.85L281.6 1083.28L282.9 1084.05L284.2 1084.39L285.5 1084.13L286.8 1084.81L288.1 1085.05L289.4 1085.23L290.7 1085.45L292 1085.8L293.3 1085.66L294.6 1086.25L295.9 1086.08L297.2 1086.54L298.5 1087.08L299.8 1087.25L301.1 1087.11L302.4 1088.01L303.7 1087.97L305 1088.16L306.3 1087.84L307.6 1088.63L308.9 1088.59L310.2 1089.26L311.5 1089.31L312.8 1089.91L314.1 1090L315.4 1090.4L316.7 1090.2L318 1090.75L319.3 1091.1L320.6 1091.45L321.9 1091.22L323.2 1091.97L324.5 1092.25L325.8 1092.32L327.1 1092.86L328.4 1093.09L329.7 1092.91L331 1093.17L332.3 1093.06L333.6 1093.99L334.9 1094.34L336.2 1094.14L337.5 1094.6L338.8 1094.89L340.1 1095.15L341.4 1094.84L342.7 1095.71L344 1095.76L345.3 1096.1L346.6 1096.11L347.9 1096.56L349.2 1096.97L350.5 1097.08L351.8 1097.42L353.1 1096.98L354.4 1097.37L355.7 1097.9L357 1098.37L358.3 1098.19L359.6 1098.91L360.9 1099.14L362.2 1098.86L363.5 1099.6L364.8 1099.67L366.1 1099.8L367.4 1100.19L368.7 1100.68L370 1100.86L371.3 1101.18L372.6 1101.33L373.9 1102.07L375.2 1102.29L376.5 1102.83L377.8 1103.12L379.1 1103.08L380.4 1104.05L381.7 1103.46L383 1104.17L384.3 1104.35L385.6 1104.79L386.9 1104.81L388.2 1105.83L389.5 1105.68L390.8 1105.65L392.1 1106.54L393.4 1106.33L394.7 1107.09L396 1107.19L397.3 1107.74L398.6 1108.43L399.9 1108.6L401.2 1108.51L402.5 1109.21L403.8 1109.35L405.1 1109.39L406.4 1109.47L407.7 1110.23L409 1110.51L410.3 1111.21L411.6 1111.53L412.9 1111.48L414.2 1111.53L415.5 1112.38L416.8 1111.8L418.1 1112.21L419.4 1112.98L420.7 1113.34L422 1113.17L423.3 1113.97L424.6 1114.54L425.9 1114.33L427.2 1114.7L428.5 1114.8L429.8 1115.18L431.1 1116.17L432.4 1115.88L433.7 1116.77L435 1117.03L436.3 1117.03L437.6 1117L438.9 1118.03L440.2 1117.85L441.5 1118.08L442.8 1118.29L444.1 1119.27L445.4 1119.08L446.7 1119.19L448 1119.69L449.3 1119.62L450.6 1120.37L451.9 1120.44L453.2 1120.54L454.5 1121.28L455.8 1121.57L457.1 1121.01L458.4 1121.78L459.7 1121.77L461 1122.68L462.3 1122.78L463.6 1122.49L464.9 1122.77L466.2 1122.9L467.5 1123.99L468.8 1123.54L470.1 1124.11L471.4 1124.22L472.7 1124.65L474 1124.85L475.3 1125.24L476.6 1124.87L477.9 1125.76L479.2 1125.55L480.5 1126.04L481.8 1126.09L483.1 1126.3L484.4 1126.78L485.7 1126.97L487 1127.11L488.3 1127.75L489.6 1127.84L490.9 1127.54L492.2 1128.01L493.5 1128.46L494.8 1129.17L496.1 1129.39L497.4 1129.3L498.7 1129.02L500 1130.03L501.3 1129.93L502.6 1130.33L503.9 1130.71L505.2 1130.89L506.5 1130.99L507.8 1131.67L509.1 1131.39L510.4 1131.65L511.7 1132.36L513 1131.95L514.3 1132.3L515.6 1133.09L516.9 1132.57L518.2 1133.59L519.5 1133.7L520.8 1133.69L522.1 1133.8L523.4 1134.54L524.7 1134.92L526 1134.4L527.3 1134.99L528.6 1135.31L529.9 1135.51L531.2 1135.59L532.5 1135.66L533.8 1136.35L535.1 1136.82L536.4 1136.33L537.7 1136.66L539 1137.41L540.3 1137.54L541.6 1137.57L542.9 1137.09L544.2 1137.94L545.5 1138.35L546.8 1138.53L548.1 1138.39L549.4 1137.89L550.7 1138.84L552 1138.38L553.3 1138.96L554.6 1139.43L555.9 1139.34L557.2 1138.92L558.5 1139.24L559.8 1140.02L561.1 1139.41L562.4 1140.03L563.7 1139.99L565 1139.89L566.3 1140.51L567.6 1140.09L568.9 1140.31L570.2 1140.74L571.5 1140.59L572.8 1140.73L574.1 1141.4L575.4 1141.73L576.7 1142.02L578 1141.43L579.3 1141.89L580.6 1141.93L581.9 1142.37L583.2 1142.42L584.5 1143.02L585.8 1142.61L587.1 1142.45L588.4 1143.25L589.7 1142.86L591 1143.5L592.3 1143.53L593.6 1144.09L594.9 1143.89L596.2 1144.12L597.5 1143.92L598.8 1144.36L600.1 1144.22L601.4 1144.87L602.7 1144.8L604 1144.57L605.3 1144.83L606.6 1145.12L607.9 1145.64L609.2 1145.24L610.5 1145.94L611.8 1146.03L613.1 1145.62L614.4 1146.36L615.7 1145.94L617 1146.13L618.3 1146.76L619.6 1146.56L620.9 1147.35L622.2 1147.11L623.5 1147.11L624.8 1147.75L626.1 1147.14L627.4 1148L628.7 1147.48L630 1147.74L631.3 1148.7L632.6 1148.59L633.9 1148.3L635.2 1148.35L636.5 1149.37L637.8 1149.22L639.1 1149.54L640.4 1149.02L641.4 1149.5" fill="none" stroke="#E76BF3" stroke-width="4.3" stroke-linejoin="round"/>
<line x1="451" y1="1051.8" x2="467.9" y2="1051.8" stroke="#F8766D" stroke-width="4.3"/>
<text x="475.3" y="1054.5" font-size="7.5" fill="#1a1a1a">KEGG_CALCIUM_SIGNALING_PATHWAY</text>
<line x1="451" y1="1073.7" x2="467.9" y2="1073.7" stroke="#A3A500" stroke-width="4.3"/>
<text x="475.3" y="1076.4" font-size="7.5" fill="#1a1a1a">KEGG_CELL_CYCLE</text>
<line x1="451" y1="1095.6" x2="467.9" y2="1095.6" stroke="#00BF7D" stroke-width="4.3"/>
<text x="475.3" y="1098.3" font-size="7.5" fill="#1a1a1a">KEGG_DILATED_CARDIOMYOPATHY</text>
<line x1="451" y1="1117.5" x2="467.9" y2="1117.5" stroke="#00B0F6" stroke-width="4.3"/>
<text x="475.3" y="1120.2" font-size="7.5" fill="#1a1a1a">KEGG_DNA_REPLICATION</text>
<line x1="451" y1="1139.4" x2="467.9" y2="1139.4" stroke="#E76BF3" stroke-width="4.3"/>
<text x="475.3" y="1142.1" font-size="7.5" fill="#1a1a1a">KEGG_FOCAL_ADHESION</text>
<path d="M800.7 1170.38V1247.59M800.7 1303.22V1345.13" fill="none" stroke="#0066FF" stroke-width="2"/>
<rect x="795.8" y="1247.59" width="9.8" height="55.63" fill="#fff" stroke="#0066FF" stroke-width="2"/>
<line x1="795.8" y1="1281.63" x2="805.6" y2="1281.63" stroke="#0066FF" stroke-width="4"/>
<circle cx="800.7" cy="1092.4" r="3" fill="#0066FF"/>
<circle cx="800.7" cy="1114.75" r="3" fill="#0066FF"/>
<circle cx="800.7" cy="1124.91" r="3" fill="#0066FF"/>
<circle cx="800.7" cy="1130.5" r="3" fill="#0066FF"/>
<circle cx="800.7" cy="1135.58" r="3" fill="#0066FF"/>
<circle cx="800.7" cy="1140.66" r="3" fill="#0066FF"/>
<circle cx="800.7" cy="1145.74" r="3" fill="#0066FF"/>
<circle cx="800.7" cy="1150.82" r="3" fill="#0066FF"/>
<circle cx="800.7" cy="1155.14" r="3" fill="#0066FF"/>
<path d="M811.3 1152.34V1232.35M811.3 1288.74V1330.4" fill="none" stroke="#FF9900" stroke-width="2"/>
<rect x="806.4" y="1232.35" width="9.8" height="56.39" fill="#fff" stroke="#FF9900" stroke-width="2"/>
<line x1="806.4" y1="1260.55" x2="816.2" y2="1260.55" stroke="#FF9900" stroke-width="4"/>
<circle cx="811.3" cy="1108.91" r="3" fill="#FF9900"/>
<circle cx="811.3" cy="1121.61" r="3" fill="#FF9900"/>
<circle cx="811.3" cy="1138.37" r="3" fill="#FF9900"/>
<path d="M827.05 1132.79V1167.08M827.05 1191.21V1226" fill="none" stroke="#0066FF" stroke-width="2"/>
<rect x="822.15" y="1167.08" width="9.8" height="24.13" fill="#fff" stroke="#0066FF" stroke-width="2"/>
<line x1="822.15" y1="1179.78" x2="831.95" y2="1179.78" stroke="#0066FF" stroke-width="4"/>
<circle cx="827.05" cy="1125.42" r="3" fill="#0066FF"/>
<circle cx="827.05" cy="1127.96" r="3" fill="#0066FF"/>
<circle cx="827.05" cy="1228.8" r="3" fill="#0066FF"/>
<path d="M837.65 1152.34V1181.05M837.65 1211.53V1254.71" fill="none" stroke="#FF9900" stroke-width="2"/>
<rect x="832.75" y="1181.05" width="9.8" height="30.48" fill="#fff" stroke="#FF9900" stroke-width="2"/>
<line x1="832.75" y1="1194.51" x2="842.55" y2="1194.51" stroke="#FF9900" stroke-width="4"/>
<circle cx="837.65" cy="1273.5" r="3" fill="#FF9900"/>
<path d="M853.4 1100.27V1148.03M853.4 1191.21V1226" fill="none" stroke="#0066FF" stroke-width="2"/>
<rect x="848.5" y="1148.03" width="9.8" height="43.18" fill="#fff" stroke="#0066FF" stroke-width="2"/>
<line x1="848.5" y1="1168.85" x2="858.3" y2="1168.85" stroke="#0066FF" stroke-width="4"/>
<path d="M864 1111.2V1154.38M864 1188.41V1226" fill="none" stroke="#FF9900" stroke-width="2"/>
<rect x="859.1" y="1154.38" width="9.8" height="34.04" fill="#fff" stroke="#FF9900" stroke-width="2"/>
<line x1="859.1" y1="1171.9" x2="868.9" y2="1171.9" stroke="#FF9900" stroke-width="4"/>
<path d="M879.75 1152.34V1175.2M879.75 1190.44V1215.84" fill="none" stroke="#0066FF" stroke-width="2"/>
<rect x="874.85" y="1175.2" width="9.8" height="15.24" fill="#fff" stroke="#0066FF" stroke-width="2"/>
<line x1="874.85" y1="1182.57" x2="884.65" y2="1182.57" stroke="#0066FF" stroke-width="4"/>
<circle cx="879.75" cy="1216.86" r="3" fill="#0066FF"/>
<circle cx="879.75" cy="1219.4" r="3" fill="#0066FF"/>
<circle cx="879.75" cy="1221.94" r="3" fill="#0066FF"/>
<circle cx="879.75" cy="1224.48" r="3" fill="#0066FF"/>
<path d="M890.35 1154.38V1176.73M890.35 1192.73V1214.32" fill="none" stroke="#FF9900" stroke-width="2"/>
<rect x="885.45" y="1176.73" width="9.8" height="16" fill="#fff" stroke="#FF9900" stroke-width="2"/>
<line x1="885.45" y1="1184.86" x2="895.25" y2="1184.86" stroke="#FF9900" stroke-width="4"/>
<circle cx="890.35" cy="1218.13" r="3" fill="#FF9900"/>
<path d="M906.1 1157.93V1173.68M906.1 1184.86V1197.81" fill="none" stroke="#0066FF" stroke-width="2"/>
<rect x="901.2" y="1173.68" width="9.8" height="11.18" fill="#fff" stroke="#0066FF" stroke-width="2"/>
<line x1="901.2" y1="1179.78" x2="911" y2="1179.78" stroke="#0066FF" stroke-width="4"/>
<circle cx="906.1" cy="1146.5" r="3" fill="#0066FF"/>
<circle cx="906.1" cy="1149.55" r="3" fill="#0066FF"/>
<circle cx="906.1" cy="1152.09" r="3" fill="#0066FF"/>
<circle cx="906.1" cy="1154.63" r="3" fill="#0066FF"/>
<circle cx="906.1" cy="1203.4" r="3" fill="#0066FF"/>
<circle cx="906.1" cy="1212.29" r="3" fill="#0066FF"/>
<path d="M916.7 1166.06V1176.22M916.7 1185.62V1198.57" fill="none" stroke="#FF9900" stroke-width="2"/>
<rect x="911.8" y="1176.22" width="9.8" height="9.4" fill="#fff" stroke="#FF9900" stroke-width="2"/>
<line x1="911.8" y1="1180.54" x2="921.6" y2="1180.54" stroke="#FF9900" stroke-width="4"/>
<circle cx="916.7" cy="1160.73" r="3" fill="#FF9900"/>
<circle cx="916.7" cy="1200.6" r="3" fill="#FF9900"/>
<circle cx="916.7" cy="1207.21" r="3" fill="#FF9900"/>
<path d="M932.45 1119.07V1132.79M932.45 1142.95V1155.14" fill="none" stroke="#0066FF" stroke-width="2"/>
<rect x="927.55" y="1132.79" width="9.8" height="10.16" fill="#fff" stroke="#0066FF" stroke-width="2"/>
<line x1="927.55" y1="1137.87" x2="937.35" y2="1137.87" stroke="#0066FF" stroke-width="4"/>
<circle cx="932.45" cy="1155.9" r="3" fill="#0066FF"/>
<circle cx="932.45" cy="1159.71" r="3" fill="#0066FF"/>
<circle cx="932.45" cy="1163.52" r="3" fill="#0066FF"/>
<circle cx="932.45" cy="1166.06" r="3" fill="#0066FF"/>
<path d="M943.05 1121.1V1135.07M943.05 1148.79V1169.62" fill="none" stroke="#FF9900" stroke-width="2"/>
<rect x="938.15" y="1135.07" width="9.8" height="13.72" fill="#fff" stroke="#FF9900" stroke-width="2"/>
<line x1="938.15" y1="1141.42" x2="947.95" y2="1141.42" stroke="#FF9900" stroke-width="4"/>
<circle cx="943.05" cy="1171.14" r="3" fill="#FF9900"/>
<circle cx="943.05" cy="1174.95" r="3" fill="#FF9900"/>
<path d="M958.8 1231.08V1258.52M958.8 1278.58V1302.46" fill="none" stroke="#0066FF" stroke-width="2"/>
<rect x="953.9" y="1258.52" width="9.8" height="20.07" fill="#fff" stroke="#0066FF" stroke-width="2"/>
<line x1="953.9" y1="1268.42" x2="963.7" y2="1268.42" stroke="#0066FF" stroke-width="4"/>
<path d="M969.4 1229.56V1254.71M969.4 1275.03V1300.93" fill="none" stroke="#FF9900" stroke-width="2"/>
<rect x="964.5" y="1254.71" width="9.8" height="20.32" fill="#fff" stroke="#FF9900" stroke-width="2"/>
<line x1="964.5" y1="1264.87" x2="974.3" y2="1264.87" stroke="#FF9900" stroke-width="4"/>
<circle cx="969.4" cy="1221.69" r="3" fill="#FF9900"/>
<circle cx="969.4" cy="1307.28" r="3" fill="#FF9900"/>
<path d="M985.15 1148.03V1168.85M985.15 1182.57V1202.89" fill="none" stroke="#0066FF" stroke-width="2"/>
<rect x="980.25" y="1168.85" width="9.8" height="13.72" fill="#fff" stroke="#0066FF" stroke-width="2"/>
<line x1="980.25" y1="1176.22" x2="990.05" y2="1176.22" stroke="#0066FF" stroke-width="4"/>
<circle cx="985.15" cy="1144.22" r="3" fill="#0066FF"/>
<circle cx="985.15" cy="1206.45" r="3" fill="#0066FF"/>
<path d="M995.75 1157.93V1171.9M995.75 1184.86V1202.89" fill="none" stroke="#FF9900" stroke-width="2"/>
<rect x="990.85" y="1171.9" width="9.8" height="12.95" fill="#fff" stroke="#FF9900" stroke-width="2"/>
<line x1="990.85" y1="1178.25" x2="1000.65" y2="1178.25" stroke="#FF9900" stroke-width="4"/>
<circle cx="995.75" cy="1144.98" r="3" fill="#FF9900"/>
<circle cx="995.75" cy="1149.55" r="3" fill="#FF9900"/>
<circle cx="995.75" cy="1153.61" r="3" fill="#FF9900"/>
<circle cx="995.75" cy="1203.4" r="3" fill="#FF9900"/>
<path d="M1011.5 1162.5V1218.64M1011.5 1257.5V1312.62" fill="none" stroke="#0066FF" stroke-width="2"/>
<rect x="1006.6" y="1218.64" width="9.8" height="38.86" fill="#fff" stroke="#0066FF" stroke-width="2"/>
<line x1="1006.6" y1="1240.23" x2="1016.4" y2="1240.23" stroke="#0066FF" stroke-width="4"/>
<circle cx="1011.5" cy="1110.43" r="3" fill="#0066FF"/>
<circle cx="1011.5" cy="1116.78" r="3" fill="#0066FF"/>
<circle cx="1011.5" cy="1134.31" r="3" fill="#0066FF"/>
<circle cx="1011.5" cy="1142.18" r="3" fill="#0066FF"/>
<circle cx="1011.5" cy="1145.74" r="3" fill="#0066FF"/>
<circle cx="1011.5" cy="1149.55" r="3" fill="#0066FF"/>
<circle cx="1011.5" cy="1153.36" r="3" fill="#0066FF"/>
<circle cx="1011.5" cy="1157.17" r="3" fill="#0066FF"/>
<circle cx="1011.5" cy="1159.71" r="3" fill="#0066FF"/>
<path d="M1022.1 1171.14V1217.11M1022.1 1248.36V1290.77" fill="none" stroke="#FF9900" stroke-width="2"/>
<rect x="1017.2" y="1217.11" width="9.8" height="31.24" fill="#fff" stroke="#FF9900" stroke-width="2"/>
<line x1="1017.2" y1="1233.12" x2="1027" y2="1233.12" stroke="#FF9900" stroke-width="4"/>
<circle cx="1022.1" cy="1120.59" r="3" fill="#FF9900"/>
<circle cx="1022.1" cy="1141.68" r="3" fill="#FF9900"/>
<circle cx="1022.1" cy="1156.66" r="3" fill="#FF9900"/>
<circle cx="1022.1" cy="1159.71" r="3" fill="#FF9900"/>
<circle cx="1022.1" cy="1162.5" r="3" fill="#FF9900"/>
<circle cx="1022.1" cy="1169.62" r="3" fill="#FF9900"/>
<path d="M1037.85 1141.93V1158.69M1037.85 1170.38V1185.62" fill="none" stroke="#0066FF" stroke-width="2"/>
<rect x="1032.95" y="1158.69" width="9.8" height="11.68" fill="#fff" stroke="#0066FF" stroke-width="2"/>
<line x1="1032.95" y1="1164.54" x2="1042.75" y2="1164.54" stroke="#0066FF" stroke-width="4"/>
<circle cx="1037.85" cy="1133.55" r="3" fill="#0066FF"/>
<circle cx="1037.85" cy="1136.85" r="3" fill="#0066FF"/>
<circle cx="1037.85" cy="1139.39" r="3" fill="#0066FF"/>
<circle cx="1037.85" cy="1141.42" r="3" fill="#0066FF"/>
<circle cx="1037.85" cy="1187.9" r="3" fill="#0066FF"/>
<circle cx="1037.85" cy="1191.46" r="3" fill="#0066FF"/>
<circle cx="1037.85" cy="1193.49" r="3" fill="#0066FF"/>
<path d="M1048.45 1142.44V1157.93M1048.45 1168.85V1183.33" fill="none" stroke="#FF9900" stroke-width="2"/>
<rect x="1043.55" y="1157.93" width="9.8" height="10.92" fill="#fff" stroke="#FF9900" stroke-width="2"/>
<line x1="1043.55" y1="1163.01" x2="1053.35" y2="1163.01" stroke="#FF9900" stroke-width="4"/>
<circle cx="1048.45" cy="1135.58" r="3" fill="#FF9900"/>
<circle cx="1048.45" cy="1138.12" r="3" fill="#FF9900"/>
<circle cx="1048.45" cy="1193.49" r="3" fill="#FF9900"/>
<path d="M1064.2 1093.67V1138.63M1064.2 1177.49V1233.88" fill="none" stroke="#0066FF" stroke-width="2"/>
<rect x="1059.3" y="1138.63" width="9.8" height="38.86" fill="#fff" stroke="#0066FF" stroke-width="2"/>
<line x1="1059.3" y1="1158.69" x2="1069.1" y2="1158.69" stroke="#0066FF" stroke-width="4"/>
<path d="M1074.8 1097.48V1134.31M1074.8 1171.14V1224.48" fill="none" stroke="#FF9900" stroke-width="2"/>
<rect x="1069.9" y="1134.31" width="9.8" height="36.83" fill="#fff" stroke="#FF9900" stroke-width="2"/>
<line x1="1069.9" y1="1150.06" x2="1079.7" y2="1150.06" stroke="#FF9900" stroke-width="4"/>
<circle cx="1074.8" cy="1226.51" r="3" fill="#FF9900"/>
<path d="M1090.55 1174.95V1208.48M1090.55 1231.08V1260.55" fill="none" stroke="#0066FF" stroke-width="2"/>
<rect x="1085.65" y="1208.48" width="9.8" height="22.61" fill="#fff" stroke="#0066FF" stroke-width="2"/>
<line x1="1085.65" y1="1219.4" x2="1095.45" y2="1219.4" stroke="#0066FF" stroke-width="4"/>
<circle cx="1090.55" cy="1166.06" r="3" fill="#0066FF"/>
<circle cx="1090.55" cy="1169.87" r="3" fill="#0066FF"/>
<circle cx="1090.55" cy="1173.93" r="3" fill="#0066FF"/>
<path d="M1101.15 1177.49V1206.45M1101.15 1225.24V1254.71" fill="none" stroke="#FF9900" stroke-width="2"/>
<rect x="1096.25" y="1206.45" width="9.8" height="18.8" fill="#fff" stroke="#FF9900" stroke-width="2"/>
<line x1="1096.25" y1="1217.11" x2="1106.05" y2="1217.11" stroke="#FF9900" stroke-width="4"/>
<circle cx="1101.15" cy="1175.46" r="3" fill="#FF9900"/>
<circle cx="1101.15" cy="1257.5" r="3" fill="#FF9900"/>
<circle cx="1101.15" cy="1260.04" r="3" fill="#FF9900"/>
<path d="M1116.9 1165.55V1210M1116.9 1238.96V1277.82" fill="none" stroke="#0066FF" stroke-width="2"/>
<rect x="1112" y="1210" width="9.8" height="28.96" fill="#fff" stroke="#0066FF" stroke-width="2"/>
<line x1="1112" y1="1225.24" x2="1121.8" y2="1225.24" stroke="#0066FF" stroke-width="4"/>
<circle cx="1116.9" cy="1150.06" r="3" fill="#0066FF"/>
<circle cx="1116.9" cy="1164.54" r="3" fill="#0066FF"/>
<path d="M1127.5 1154.63V1194M1127.5 1218.64V1254.71" fill="none" stroke="#FF9900" stroke-width="2"/>
<rect x="1122.6" y="1194" width="9.8" height="24.64" fill="#fff" stroke="#FF9900" stroke-width="2"/>
<line x1="1122.6" y1="1206.45" x2="1132.4" y2="1206.45" stroke="#FF9900" stroke-width="4"/>
<circle cx="1127.5" cy="1134.31" r="3" fill="#FF9900"/>
<circle cx="1127.5" cy="1145.74" r="3" fill="#FF9900"/>
<circle cx="1127.5" cy="1153.61" r="3" fill="#FF9900"/>
<circle cx="1127.5" cy="1257.5" r="3" fill="#FF9900"/>
<circle cx="1127.5" cy="1262.58" r="3" fill="#FF9900"/>
<circle cx="1127.5" cy="1266.39" r="3" fill="#FF9900"/>
<circle cx="1127.5" cy="1270.71" r="3" fill="#FF9900"/>
<path d="M1143.25 1127.96V1139.39M1143.25 1148.03V1160.98" fill="none" stroke="#0066FF" stroke-width="2"/>
<rect x="1138.35" y="1139.39" width="9.8" height="8.64" fill="#fff" stroke="#0066FF" stroke-width="2"/>
<line x1="1138.35" y1="1143.71" x2="1148.15" y2="1143.71" stroke="#0066FF" stroke-width="4"/>
<circle cx="1143.25" cy="1113.23" r="3" fill="#0066FF"/>
<circle cx="1143.25" cy="1116.53" r="3" fill="#0066FF"/>
<circle cx="1143.25" cy="1120.34" r="3" fill="#0066FF"/>
<circle cx="1143.25" cy="1124.15" r="3" fill="#0066FF"/>
<circle cx="1143.25" cy="1127.71" r="3" fill="#0066FF"/>
<circle cx="1143.25" cy="1163.77" r="3" fill="#0066FF"/>
<path d="M1153.85 1128.47V1140.66M1153.85 1149.3V1158.69" fill="none" stroke="#FF9900" stroke-width="2"/>
<rect x="1148.95" y="1140.66" width="9.8" height="8.64" fill="#fff" stroke="#FF9900" stroke-width="2"/>
<line x1="1148.95" y1="1144.98" x2="1158.75" y2="1144.98" stroke="#FF9900" stroke-width="4"/>
<circle cx="1153.85" cy="1166.82" r="3" fill="#FF9900"/>
<circle cx="1153.85" cy="1163.52" r="3" fill="#FF9900"/>
<path d="M1169.6 1183.08V1204.92M1169.6 1219.4V1239.72" fill="none" stroke="#0066FF" stroke-width="2"/>
<rect x="1164.7" y="1204.92" width="9.8" height="14.48" fill="#fff" stroke="#0066FF" stroke-width="2"/>
<line x1="1164.7" y1="1212.29" x2="1174.5" y2="1212.29" stroke="#0066FF" stroke-width="4"/>
<circle cx="1169.6" cy="1181.05" r="3" fill="#0066FF"/>
<circle cx="1169.6" cy="1239.72" r="3" fill="#0066FF"/>
<circle cx="1169.6" cy="1242.26" r="3" fill="#0066FF"/>
<circle cx="1169.6" cy="1244.8" r="3" fill="#0066FF"/>
<circle cx="1169.6" cy="1247.34" r="3" fill="#0066FF"/>
<path d="M1180.2 1185.62V1201.37M1180.2 1214.32V1230.32" fill="none" stroke="#FF9900" stroke-width="2"/>
<rect x="1175.3" y="1201.37" width="9.8" height="12.95" fill="#fff" stroke="#FF9900" stroke-width="2"/>
<line x1="1175.3" y1="1207.72" x2="1185.1" y2="1207.72" stroke="#FF9900" stroke-width="4"/>
<circle cx="1180.2" cy="1232.1" r="3" fill="#FF9900"/>
<circle cx="1180.2" cy="1234.64" r="3" fill="#FF9900"/>
<circle cx="1180.2" cy="1237.18" r="3" fill="#FF9900"/>
<path d="M1195.95 1148.53V1169.36M1195.95 1184.09V1204.16" fill="none" stroke="#0066FF" stroke-width="2"/>
<rect x="1191.05" y="1169.36" width="9.8" height="14.73" fill="#fff" stroke="#0066FF" stroke-width="2"/>
<line x1="1191.05" y1="1176.73" x2="1200.85" y2="1176.73" stroke="#0066FF" stroke-width="4"/>
<circle cx="1195.95" cy="1138.63" r="3" fill="#0066FF"/>
<circle cx="1195.95" cy="1206.45" r="3" fill="#0066FF"/>
<circle cx="1195.95" cy="1210.51" r="3" fill="#0066FF"/>
<circle cx="1195.95" cy="1214.32" r="3" fill="#0066FF"/>
<circle cx="1195.95" cy="1219.4" r="3" fill="#0066FF"/>
<path d="M1206.55 1154.38V1165.04M1206.55 1174.19V1185.62" fill="none" stroke="#FF9900" stroke-width="2"/>
<rect x="1201.65" y="1165.04" width="9.8" height="9.14" fill="#fff" stroke="#FF9900" stroke-width="2"/>
<line x1="1201.65" y1="1169.62" x2="1211.45" y2="1169.62" stroke="#FF9900" stroke-width="4"/>
<circle cx="1206.55" cy="1187.9" r="3" fill="#FF9900"/>
<circle cx="1206.55" cy="1191.46" r="3" fill="#FF9900"/>
<circle cx="1206.55" cy="1194" r="3" fill="#FF9900"/>
<circle cx="1206.55" cy="1196.54" r="3" fill="#FF9900"/>
<path d="M1222.3 1228.8V1273.5M1222.3 1302.46V1345.64" fill="none" stroke="#0066FF" stroke-width="2"/>
<rect x="1217.4" y="1273.5" width="9.8" height="28.96" fill="#fff" stroke="#0066FF" stroke-width="2"/>
<line x1="1217.4" y1="1287.98" x2="1227.2" y2="1287.98" stroke="#0066FF" stroke-width="4"/>
<circle cx="1222.3" cy="1182.06" r="3" fill="#0066FF"/>
<circle cx="1222.3" cy="1189.43" r="3" fill="#0066FF"/>
<circle cx="1222.3" cy="1198.83" r="3" fill="#0066FF"/>
<circle cx="1222.3" cy="1219.4" r="3" fill="#0066FF"/>
<circle cx="1222.3" cy="1221.94" r="3" fill="#0066FF"/>
<circle cx="1222.3" cy="1224.48" r="3" fill="#0066FF"/>
<circle cx="1222.3" cy="1227.02" r="3" fill="#0066FF"/>
<path d="M1232.9 1249.12V1288.74M1232.9 1314.65V1342.84" fill="none" stroke="#FF9900" stroke-width="2"/>
<rect x="1228" y="1288.74" width="9.8" height="25.91" fill="#fff" stroke="#FF9900" stroke-width="2"/>
<line x1="1228" y1="1303.22" x2="1237.8" y2="1303.22" stroke="#FF9900" stroke-width="4"/>
<circle cx="1232.9" cy="1212.29" r="3" fill="#FF9900"/>
<circle cx="1232.9" cy="1219.4" r="3" fill="#FF9900"/>
<circle cx="1232.9" cy="1232.35" r="3" fill="#FF9900"/>
<circle cx="1232.9" cy="1235.91" r="3" fill="#FF9900"/>
<circle cx="1232.9" cy="1238.2" r="3" fill="#FF9900"/>
<path d="M1248.65 1132.28V1146.5M1248.65 1156.66V1165.3" fill="none" stroke="#0066FF" stroke-width="2"/>
<rect x="1243.75" y="1146.5" width="9.8" height="10.16" fill="#fff" stroke="#0066FF" stroke-width="2"/>
<line x1="1243.75" y1="1151.58" x2="1253.55" y2="1151.58" stroke="#0066FF" stroke-width="4"/>
<circle cx="1248.65" cy="1123.39" r="3" fill="#0066FF"/>
<circle cx="1248.65" cy="1168.6" r="3" fill="#0066FF"/>
<circle cx="1248.65" cy="1171.14" r="3" fill="#0066FF"/>
<circle cx="1248.65" cy="1173.68" r="3" fill="#0066FF"/>
<circle cx="1248.65" cy="1176.22" r="3" fill="#0066FF"/>
<path d="M1259.25 1131.26V1142.95M1259.25 1151.58V1162.5" fill="none" stroke="#FF9900" stroke-width="2"/>
<rect x="1254.35" y="1142.95" width="9.8" height="8.64" fill="#fff" stroke="#FF9900" stroke-width="2"/>
<line x1="1254.35" y1="1148.03" x2="1264.15" y2="1148.03" stroke="#FF9900" stroke-width="4"/>
<circle cx="1259.25" cy="1122.88" r="3" fill="#FF9900"/>
<circle cx="1259.25" cy="1125.42" r="3" fill="#FF9900"/>
<circle cx="1259.25" cy="1127.96" r="3" fill="#FF9900"/>
<circle cx="1259.25" cy="1166.06" r="3" fill="#FF9900"/>
<path d="M1275 1137.87V1181.3M1275 1212.8V1254.71" fill="none" stroke="#0066FF" stroke-width="2"/>
<rect x="1270.1" y="1181.3" width="9.8" height="31.5" fill="#fff" stroke="#0066FF" stroke-width="2"/>
<line x1="1270.1" y1="1196.79" x2="1279.9" y2="1196.79" stroke="#0066FF" stroke-width="4"/>
<path d="M1285.6 1144.22V1178.51M1285.6 1202.89V1238.2" fill="none" stroke="#FF9900" stroke-width="2"/>
<rect x="1280.7" y="1178.51" width="9.8" height="24.38" fill="#fff" stroke="#FF9900" stroke-width="2"/>
<line x1="1280.7" y1="1191.21" x2="1290.5" y2="1191.21" stroke="#FF9900" stroke-width="4"/>
<circle cx="1285.6" cy="1137.36" r="3" fill="#FF9900"/>
<circle cx="1285.6" cy="1251.15" r="3" fill="#FF9900"/>
<path d="M1301.35 1171.14V1197.81M1301.35 1214.32V1237.43" fill="none" stroke="#0066FF" stroke-width="2"/>
<rect x="1296.45" y="1197.81" width="9.8" height="16.51" fill="#fff" stroke="#0066FF" stroke-width="2"/>
<line x1="1296.45" y1="1206.45" x2="1306.25" y2="1206.45" stroke="#0066FF" stroke-width="4"/>
<circle cx="1301.35" cy="1162" r="3" fill="#0066FF"/>
<circle cx="1301.35" cy="1168.6" r="3" fill="#0066FF"/>
<circle cx="1301.35" cy="1169.87" r="3" fill="#0066FF"/>
<path d="M1311.95 1177.49V1194.51M1311.95 1208.99V1225.24" fill="none" stroke="#FF9900" stroke-width="2"/>
<rect x="1307.05" y="1194.51" width="9.8" height="14.48" fill="#fff" stroke="#FF9900" stroke-width="2"/>
<line x1="1307.05" y1="1202.13" x2="1316.85" y2="1202.13" stroke="#FF9900" stroke-width="4"/>
<circle cx="1311.95" cy="1229.56" r="3" fill="#FF9900"/>
<circle cx="1311.95" cy="1232.1" r="3" fill="#FF9900"/>
<path d="M1327.7 1167.58V1192.48M1327.7 1209.24V1231.59" fill="none" stroke="#0066FF" stroke-width="2"/>
<rect x="1322.8" y="1192.48" width="9.8" height="16.76" fill="#fff" stroke="#0066FF" stroke-width="2"/>
<line x1="1322.8" y1="1200.6" x2="1332.6" y2="1200.6" stroke="#0066FF" stroke-width="4"/>
<circle cx="1327.7" cy="1166.06" r="3" fill="#0066FF"/>
<circle cx="1327.7" cy="1234.64" r="3" fill="#0066FF"/>
<circle cx="1327.7" cy="1237.18" r="3" fill="#0066FF"/>
<circle cx="1327.7" cy="1239.72" r="3" fill="#0066FF"/>
<path d="M1338.3 1170.38V1186.13M1338.3 1201.62V1220.16" fill="none" stroke="#FF9900" stroke-width="2"/>
<rect x="1333.4" y="1186.13" width="9.8" height="15.49" fill="#fff" stroke="#FF9900" stroke-width="2"/>
<line x1="1333.4" y1="1194.51" x2="1343.2" y2="1194.51" stroke="#FF9900" stroke-width="4"/>
<circle cx="1338.3" cy="1227.53" r="3" fill="#FF9900"/>
<circle cx="1338.3" cy="1236.93" r="3" fill="#FF9900"/>
<path d="M1354.05 1211.78V1233.62M1354.05 1247.59V1264.87" fill="none" stroke="#0066FF" stroke-width="2"/>
<rect x="1349.15" y="1233.62" width="9.8" height="13.97" fill="#fff" stroke="#0066FF" stroke-width="2"/>
<line x1="1349.15" y1="1240.23" x2="1358.95" y2="1240.23" stroke="#0066FF" stroke-width="4"/>
<circle cx="1354.05" cy="1200.6" r="3" fill="#0066FF"/>
<circle cx="1354.05" cy="1206.7" r="3" fill="#0066FF"/>
<circle cx="1354.05" cy="1209.24" r="3" fill="#0066FF"/>
<circle cx="1354.05" cy="1267.66" r="3" fill="#0066FF"/>
<circle cx="1354.05" cy="1270.2" r="3" fill="#0066FF"/>
<circle cx="1354.05" cy="1272.74" r="3" fill="#0066FF"/>
<circle cx="1354.05" cy="1281.63" r="3" fill="#0066FF"/>
<path d="M1364.65 1220.16V1239.72M1364.65 1253.44V1272.23" fill="none" stroke="#FF9900" stroke-width="2"/>
<rect x="1359.75" y="1239.72" width="9.8" height="13.72" fill="#fff" stroke="#FF9900" stroke-width="2"/>
<line x1="1359.75" y1="1246.07" x2="1369.55" y2="1246.07" stroke="#FF9900" stroke-width="4"/>
<circle cx="1364.65" cy="1218.13" r="3" fill="#FF9900"/>
<circle cx="1364.65" cy="1282.9" r="3" fill="#FF9900"/>
<path d="M1380.4 1176.22V1201.37M1380.4 1217.11V1240.23" fill="none" stroke="#0066FF" stroke-width="2"/>
<rect x="1375.5" y="1201.37" width="9.8" height="15.75" fill="#fff" stroke="#0066FF" stroke-width="2"/>
<line x1="1375.5" y1="1208.48" x2="1385.3" y2="1208.48" stroke="#0066FF" stroke-width="4"/>
<circle cx="1380.4" cy="1173.93" r="3" fill="#0066FF"/>
<circle cx="1380.4" cy="1244.04" r="3" fill="#0066FF"/>
<path d="M1391 1190.44V1204.92M1391 1217.11V1233.88" fill="none" stroke="#FF9900" stroke-width="2"/>
<rect x="1386.1" y="1204.92" width="9.8" height="12.19" fill="#fff" stroke="#FF9900" stroke-width="2"/>
<line x1="1386.1" y1="1211.53" x2="1395.9" y2="1211.53" stroke="#FF9900" stroke-width="4"/>
<circle cx="1391" cy="1178.76" r="3" fill="#FF9900"/>
<circle cx="1391" cy="1181.3" r="3" fill="#FF9900"/>
<circle cx="1391" cy="1237.18" r="3" fill="#FF9900"/>
<circle cx="1391" cy="1239.72" r="3" fill="#FF9900"/>
<line x1="790.3" y1="1080.5" x2="790.3" y2="1359.7" stroke="#000" stroke-width="2.2"/>
<line x1="789.2" y1="1358.6" x2="1402" y2="1358.6" stroke="#000" stroke-width="2.2"/>
<line x1="786.3" y1="1346.4" x2="790.3" y2="1346.4" stroke="#000" stroke-width="2"/>
<text x="784" y="1351.4" font-size="14" text-anchor="end" fill="#1a1a1a">0.00</text>
<line x1="786.3" y1="1282.9" x2="790.3" y2="1282.9" stroke="#000" stroke-width="2"/>
<text x="784" y="1287.9" font-size="14" text-anchor="end" fill="#1a1a1a">0.25</text>
<line x1="786.3" y1="1219.4" x2="790.3" y2="1219.4" stroke="#000" stroke-width="2"/>
<text x="784" y="1224.4" font-size="14" text-anchor="end" fill="#1a1a1a">0.50</text>
<line x1="786.3" y1="1155.9" x2="790.3" y2="1155.9" stroke="#000" stroke-width="2"/>
<text x="784" y="1160.9" font-size="14" text-anchor="end" fill="#1a1a1a">0.75</text>
<line x1="786.3" y1="1092.4" x2="790.3" y2="1092.4" stroke="#000" stroke-width="2"/>
<text x="784" y="1097.4" font-size="14" text-anchor="end" fill="#1a1a1a">1.00</text>
<text x="750.9" y="1219.3" font-size="14" text-anchor="middle" transform="rotate(-90 750.9 1219.3)">Immune infiltration</text>
<line x1="806" y1="1358.6" x2="806" y2="1362.9" stroke="#000" stroke-width="2"/>
<text x="814.6" y="1372" font-size="14.4" text-anchor="end" fill="#1a1a1a" transform="rotate(-50 814.6 1372)">Activated.B.cell</text>
<text x="806" y="1091.6" font-size="12" text-anchor="middle">***</text>
<line x1="832.35" y1="1358.6" x2="832.35" y2="1362.9" stroke="#000" stroke-width="2"/>
<text x="840.95" y="1372" font-size="14.4" text-anchor="end" fill="#1a1a1a" transform="rotate(-50 840.95 1372)">Activated.CD4.T.cell</text>
<text x="832.35" y="1091.6" font-size="12" text-anchor="middle">***</text>
<line x1="858.7" y1="1358.6" x2="858.7" y2="1362.9" stroke="#000" stroke-width="2"/>
<text x="867.3" y="1372" font-size="14.4" text-anchor="end" fill="#1a1a1a" transform="rotate(-50 867.3 1372)">Activated.CD8.T.cell</text>
<line x1="885.05" y1="1358.6" x2="885.05" y2="1362.9" stroke="#000" stroke-width="2"/>
<text x="893.65" y="1372" font-size="14.4" text-anchor="end" fill="#1a1a1a" transform="rotate(-50 893.65 1372)">Activated.dendritic.cell</text>
<line x1="911.4" y1="1358.6" x2="911.4" y2="1362.9" stroke="#000" stroke-width="2"/>
<text x="920" y="1372" font-size="14.4" text-anchor="end" fill="#1a1a1a" transform="rotate(-50 920 1372)">CD56bright.natural.killer.cell</text>
<text x="911.4" y="1091.6" font-size="12" text-anchor="middle">**</text>
<line x1="937.75" y1="1358.6" x2="937.75" y2="1362.9" stroke="#000" stroke-width="2"/>
<text x="946.35" y="1372" font-size="14.4" text-anchor="end" fill="#1a1a1a" transform="rotate(-50 946.35 1372)">CD56dim.natural.killer.cell</text>
<text x="937.75" y="1091.6" font-size="12" text-anchor="middle">***</text>
<line x1="964.1" y1="1358.6" x2="964.1" y2="1362.9" stroke="#000" stroke-width="2"/>
<text x="972.7" y="1372" font-size="14.4" text-anchor="end" fill="#1a1a1a" transform="rotate(-50 972.7 1372)">Eosinophil</text>
<text x="964.1" y="1091.6" font-size="12" text-anchor="middle">**</text>
<line x1="990.45" y1="1358.6" x2="990.45" y2="1362.9" stroke="#000" stroke-width="2"/>
<text x="999.05" y="1372" font-size="14.4" text-anchor="end" fill="#1a1a1a" transform="rotate(-50 999.05 1372)">Gamma.delta.T.cell</text>
<text x="990.45" y="1091.6" font-size="12" text-anchor="middle">**</text>
<line x1="1016.8" y1="1358.6" x2="1016.8" y2="1362.9" stroke="#000" stroke-width="2"/>
<text x="1025.4" y="1372" font-size="14.4" text-anchor="end" fill="#1a1a1a" transform="rotate(-50 1025.4 1372)">Immature.B.cell</text>
<text x="1016.8" y="1091.6" font-size="12" text-anchor="middle">**</text>
<line x1="1043.15" y1="1358.6" x2="1043.15" y2="1362.9" stroke="#000" stroke-width="2"/>
<text x="1051.75" y="1372" font-size="14.4" text-anchor="end" fill="#1a1a1a" transform="rotate(-50 1051.75 1372)">Immature.dendritic.cell</text>
<text x="1043.15" y="1091.6" font-size="12" text-anchor="middle">**</text>
<line x1="1069.5" y1="1358.6" x2="1069.5" y2="1362.9" stroke="#000" stroke-width="2"/>
<text x="1078.1" y="1372" font-size="14.4" text-anchor="end" fill="#1a1a1a" transform="rotate(-50 1078.1 1372)">MDSC</text>
<text x="1069.5" y="1091.6" font-size="12" text-anchor="middle">*</text>
<line x1="1095.85" y1="1358.6" x2="1095.85" y2="1362.9" stroke="#000" stroke-width="2"/>
<text x="1104.45" y="1372" font-size="14.4" text-anchor="end" fill="#1a1a1a" transform="rotate(-50 1104.45 1372)">Macrophage</text>
<text x="1095.85" y="1091.6" font-size="12" text-anchor="middle">*</text>
<line x1="1122.2" y1="1358.6" x2="1122.2" y2="1362.9" stroke="#000" stroke-width="2"/>
<text x="1130.8" y="1372" font-size="14.4" text-anchor="end" fill="#1a1a1a" transform="rotate(-50 1130.8 1372)">Mast.cell</text>
<text x="1122.2" y="1091.6" font-size="12" text-anchor="middle">***</text>
<line x1="1148.55" y1="1358.6" x2="1148.55" y2="1362.9" stroke="#000" stroke-width="2"/>
<text x="1157.15" y="1372" font-size="14.4" text-anchor="end" fill="#1a1a1a" transform="rotate(-50 1157.15 1372)">Monocyte</text>
<line x1="1174.9" y1="1358.6" x2="1174.9" y2="1362.9" stroke="#000" stroke-width="2"/>
<text x="1183.5" y="1372" font-size="14.4" text-anchor="end" fill="#1a1a1a" transform="rotate(-50 1183.5 1372)">Natural.killer.T.cell</text>
<text x="1174.9" y="1091.6" font-size="12" text-anchor="middle">***</text>
<line x1="1201.25" y1="1358.6" x2="1201.25" y2="1362.9" stroke="#000" stroke-width="2"/>
<text x="1209.85" y="1372" font-size="14.4" text-anchor="end" fill="#1a1a1a" transform="rotate(-50 1209.85 1372)">Natural.killer.cell</text>
<text x="1201.25" y="1091.6" font-size="12" text-anchor="middle">***</text>
<line x1="1227.6" y1="1358.6" x2="1227.6" y2="1362.9" stroke="#000" stroke-width="2"/>
<text x="1236.2" y="1372" font-size="14.4" text-anchor="end" fill="#1a1a1a" transform="rotate(-50 1236.2 1372)">Neutrophil</text>
<text x="1227.6" y="1091.6" font-size="12" text-anchor="middle">***</text>
<line x1="1253.95" y1="1358.6" x2="1253.95" y2="1362.9" stroke="#000" stroke-width="2"/>
<text x="1262.55" y="1372" font-size="14.4" text-anchor="end" fill="#1a1a1a" transform="rotate(-50 1262.55 1372)">Plasmacytoid.dendritic.cell</text>
<text x="1253.95" y="1091.6" font-size="12" text-anchor="middle">***</text>
<line x1="1280.3" y1="1358.6" x2="1280.3" y2="1362.9" stroke="#000" stroke-width="2"/>
<text x="1288.9" y="1372" font-size="14.4" text-anchor="end" fill="#1a1a1a" transform="rotate(-50 1288.9 1372)">Regulatory.T.cell</text>
<text x="1280.3" y="1091.6" font-size="12" text-anchor="middle">**</text>
<line x1="1306.65" y1="1358.6" x2="1306.65" y2="1362.9" stroke="#000" stroke-width="2"/>
<text x="1315.25" y="1372" font-size="14.4" text-anchor="end" fill="#1a1a1a" transform="rotate(-50 1315.25 1372)">T.follicular.helper.cell</text>
<text x="1306.65" y="1091.6" font-size="12" text-anchor="middle">***</text>
<line x1="1333" y1="1358.6" x2="1333" y2="1362.9" stroke="#000" stroke-width="2"/>
<text x="1341.6" y="1372" font-size="14.4" text-anchor="end" fill="#1a1a1a" transform="rotate(-50 1341.6 1372)">Type.1.T.helper.cell</text>
<text x="1333" y="1091.6" font-size="12" text-anchor="middle">***</text>
<line x1="1359.35" y1="1358.6" x2="1359.35" y2="1362.9" stroke="#000" stroke-width="2"/>
<text x="1367.95" y="1372" font-size="14.4" text-anchor="end" fill="#1a1a1a" transform="rotate(-50 1367.95 1372)">Type.17.T.helper.cell</text>
<text x="1359.35" y="1091.6" font-size="12" text-anchor="middle">***</text>
<line x1="1385.7" y1="1358.6" x2="1385.7" y2="1362.9" stroke="#000" stroke-width="2"/>
<text x="1394.3" y="1372" font-size="14.4" text-anchor="end" fill="#1a1a1a" transform="rotate(-50 1394.3 1372)">Type.2.T.helper.cell</text>
<text x="1385.7" y="1091.6" font-size="12" text-anchor="middle">*</text>
<text x="1003.4" y="1054.2" font-size="13.7">NETs</text>
<text x="1050.5" y="1054.2" font-size="13.7">cluster</text>
<line x1="1107.5" y1="1041.5" x2="1107.5" y2="1057.5" stroke="#0066FF" stroke-width="1.8"/>
<rect x="1100" y="1044.5" width="15" height="10" fill="#fff" stroke="#0066FF" stroke-width="1.8"/>
<line x1="1100" y1="1049.5" x2="1115" y2="1049.5" stroke="#0066FF" stroke-width="2.6"/>
<text x="1124" y="1053.8" font-size="11.5">A</text>
<line x1="1148.5" y1="1041.5" x2="1148.5" y2="1057.5" stroke="#FF9900" stroke-width="1.8"/>
<rect x="1141" y="1044.5" width="15" height="10" fill="#fff" stroke="#FF9900" stroke-width="1.8"/>
<line x1="1141" y1="1049.5" x2="1156" y2="1049.5" stroke="#FF9900" stroke-width="2.6"/>
<text x="1165" y="1053.8" font-size="11.5">B</text>
<path d="M139 1586.5C242 1586.5 242 1586.5 345 1586.5L345 1686.5C242 1686.5 242 1686.5 139 1686.5Z" fill="#1A73FF" fill-opacity="0.55"/>
<path d="M139 1686.5C242 1686.5 242 1787.5 345 1787.5L345 1998.5C242 1998.5 242 1897.5 139 1897.5Z" fill="#1A73FF" fill-opacity="0.55"/>
<path d="M139 1897.5C242 1897.5 242 1686.5 345 1686.5L345 1787.5C242 1787.5 242 1998 139 1998Z" fill="#FF9900" fill-opacity="0.5"/>
<path d="M139 1998C242 1998 242 1998 345 1998L345 2018.5C242 2018.5 242 2018.5 139 2018.5Z" fill="#FF9900" fill-opacity="0.5"/>
<path d="M396.5 1586.5C499.5 1586.5 499.5 1586.5 602.5 1586.5L602.5 1679C499.5 1679 499.5 1679 396.5 1679Z" fill="#FF0000" fill-opacity="0.5"/>
<path d="M396.5 1679C499.5 1679 499.5 1828.5 602.5 1828.5L602.5 1937C499.5 1937 499.5 1787.5 396.5 1787.5Z" fill="#FF0000" fill-opacity="0.5"/>
<path d="M396.5 1787.5C499.5 1787.5 499.5 1679 602.5 1679L602.5 1828.5C499.5 1828.5 499.5 1937 396.5 1937Z" fill="#009A50" fill-opacity="0.5"/>
<path d="M396.5 1937C499.5 1937 499.5 1937 602.5 1937L602.5 2018.5C499.5 2018.5 499.5 2018.5 396.5 2018.5Z" fill="#009A50" fill-opacity="0.5"/>
<rect x="89" y="1586.5" width="50" height="311" fill="#1A73FF" stroke="#000" stroke-width="2.2"/>
<rect x="89" y="1897.5" width="50" height="121" fill="#FF9A00" stroke="#000" stroke-width="2.2"/>
<rect x="345" y="1586.5" width="51.5" height="201" fill="#FF1A1A" stroke="#000" stroke-width="2.2"/>
<rect x="345" y="1787.5" width="51.5" height="231" fill="#1E9B5B" stroke="#000" stroke-width="2.2"/>
<rect x="602.5" y="1586.5" width="50" height="242" fill="#7B6799" stroke="#000" stroke-width="2.2"/>
<rect x="602.5" y="1828.5" width="50" height="190" fill="#E2488A" stroke="#000" stroke-width="2.2"/>
<text x="114" y="1746.3" font-size="12" text-anchor="middle" fill="#1a1a1a">A</text>
<text x="114" y="1962.3" font-size="12" text-anchor="middle" fill="#1a1a1a">B</text>
<text x="370.75" y="1691.3" font-size="12" text-anchor="middle" fill="#1a1a1a">high</text>
<text x="370.75" y="1907.3" font-size="12" text-anchor="middle" fill="#1a1a1a">low</text>
<text x="627.5" y="1711.8" font-size="12" text-anchor="middle" fill="#1a1a1a">Alive</text>
<text x="627.5" y="1927.8" font-size="12" text-anchor="middle" fill="#1a1a1a">Dead</text>
<text x="114.7" y="2055.5" font-size="13.2" text-anchor="middle" fill="#4D4D4D">NETs-cluster</text>
<text x="375.9" y="2056.5" font-size="13.2" text-anchor="middle" fill="#4D4D4D">NETs-Score</text>
<text x="627.5" y="2056.5" font-size="13.2" text-anchor="middle" fill="#4D4D4D">Fustat</text>
<line x1="981.3" y1="1963.73" x2="981.3" y2="1978.09" stroke="#0066FF" stroke-width="2.2"/>
<line x1="981.3" y1="1993.95" x2="981.3" y2="2005.62" stroke="#0066FF" stroke-width="2.2"/>
<rect x="889.8" y="1978.09" width="183" height="15.86" fill="#fff" stroke="#0066FF" stroke-width="2.5"/>
<line x1="889.8" y1="1986.17" x2="1072.8" y2="1986.17" stroke="#0066FF" stroke-width="3.8"/>
<line x1="1244.3" y1="1924.83" x2="1244.3" y2="1955.95" stroke="#FF9900" stroke-width="2.2"/>
<line x1="1244.3" y1="1976.59" x2="1244.3" y2="1998.14" stroke="#FF9900" stroke-width="2.2"/>
<rect x="1152.8" y="1955.95" width="183" height="20.64" fill="#fff" stroke="#FF9900" stroke-width="2.5"/>
<line x1="1152.8" y1="1966.72" x2="1335.8" y2="1966.72" stroke="#FF9900" stroke-width="3.8"/>
<g fill="#0066FF"><circle cx="942.54" cy="1995.69" r="3.75"/><circle cx="975.95" cy="1969.63" r="3.75"/><circle cx="938.25" cy="1992.86" r="3.75"/><circle cx="928.52" cy="1991.51" r="3.75"/><circle cx="952.55" cy="1970.86" r="3.75"/><circle cx="968.71" cy="1995.75" r="3.75"/><circle cx="931.38" cy="1995.81" r="3.75"/><circle cx="980.86" cy="1993.81" r="3.75"/><circle cx="951.49" cy="1989.12" r="3.75"/><circle cx="930.58" cy="1968.12" r="3.75"/><circle cx="996.38" cy="1978.86" r="3.75"/><circle cx="963.57" cy="1967.92" r="3.75"/><circle cx="1027.56" cy="1995.34" r="3.75"/><circle cx="999.35" cy="1995.58" r="3.75"/><circle cx="1021.84" cy="1970.22" r="3.75"/><circle cx="990.73" cy="1997.26" r="3.75"/><circle cx="1012.82" cy="1989.95" r="3.75"/><circle cx="986.47" cy="1972.68" r="3.75"/><circle cx="968.02" cy="1990.31" r="3.75"/><circle cx="1010.81" cy="1987.4" r="3.75"/><circle cx="980.21" cy="1984.96" r="3.75"/><circle cx="946.36" cy="1985.57" r="3.75"/><circle cx="1009.98" cy="1982.02" r="3.75"/><circle cx="952.91" cy="1981.87" r="3.75"/><circle cx="989.55" cy="1989.1" r="3.75"/><circle cx="986.39" cy="1972.1" r="3.75"/><circle cx="987.8" cy="1989.5" r="3.75"/><circle cx="1020.52" cy="1986.34" r="3.75"/><circle cx="981.8" cy="1988.5" r="3.75"/><circle cx="964.98" cy="1986.04" r="3.75"/><circle cx="993.22" cy="1988.87" r="3.75"/><circle cx="952.64" cy="1999.02" r="3.75"/><circle cx="1019.57" cy="1934.55" r="3.75"/><circle cx="1014.84" cy="2004.83" r="3.75"/><circle cx="999.65" cy="1992.84" r="3.75"/><circle cx="994.53" cy="1991.03" r="3.75"/><circle cx="945.22" cy="1987.43" r="3.75"/><circle cx="957.23" cy="1979.42" r="3.75"/><circle cx="962.43" cy="1988.57" r="3.75"/><circle cx="969.28" cy="1989.84" r="3.75"/><circle cx="939.83" cy="1966.15" r="3.75"/><circle cx="950.46" cy="1974.11" r="3.75"/><circle cx="930.51" cy="1982.56" r="3.75"/><circle cx="1002.99" cy="1979.33" r="3.75"/><circle cx="951.68" cy="1987.66" r="3.75"/><circle cx="997.04" cy="1992.33" r="3.75"/><circle cx="962.35" cy="1985.27" r="3.75"/><circle cx="959.95" cy="2003.79" r="3.75"/><circle cx="961.2" cy="1990.1" r="3.75"/><circle cx="929.2" cy="1986.4" r="3.75"/><circle cx="1020.28" cy="1987.79" r="3.75"/><circle cx="965.07" cy="2000.24" r="3.75"/><circle cx="974.19" cy="1993.73" r="3.75"/><circle cx="998.89" cy="1994.66" r="3.75"/><circle cx="962.79" cy="1978.37" r="3.75"/><circle cx="950.88" cy="1955.61" r="3.75"/><circle cx="1027.11" cy="2003.53" r="3.75"/><circle cx="1001.13" cy="2001.67" r="3.75"/><circle cx="953.17" cy="1982.89" r="3.75"/><circle cx="946.29" cy="1975.74" r="3.75"/><circle cx="1008.77" cy="1972.46" r="3.75"/><circle cx="967.32" cy="1991.97" r="3.75"/><circle cx="1020.25" cy="1986.95" r="3.75"/><circle cx="932.45" cy="1994.74" r="3.75"/><circle cx="1011.18" cy="1992.88" r="3.75"/><circle cx="952.01" cy="1996.74" r="3.75"/><circle cx="1022.72" cy="1964.51" r="3.75"/><circle cx="976.82" cy="2001.47" r="3.75"/><circle cx="1016.04" cy="1989.7" r="3.75"/><circle cx="946.04" cy="2001.18" r="3.75"/><circle cx="939.2" cy="1971.51" r="3.75"/><circle cx="1031.15" cy="1974.04" r="3.75"/><circle cx="955.16" cy="1988.54" r="3.75"/><circle cx="997.42" cy="1970.71" r="3.75"/><circle cx="991.54" cy="1989.41" r="3.75"/><circle cx="934.97" cy="1998.69" r="3.75"/><circle cx="1032.18" cy="1985.3" r="3.75"/><circle cx="998.45" cy="1996.19" r="3.75"/><circle cx="960.88" cy="1992.76" r="3.75"/><circle cx="958.06" cy="1963.92" r="3.75"/><circle cx="997.41" cy="1990.88" r="3.75"/><circle cx="962.99" cy="2002.65" r="3.75"/><circle cx="1023.01" cy="1993.06" r="3.75"/><circle cx="985.99" cy="1984.05" r="3.75"/><circle cx="954.28" cy="2000.68" r="3.75"/><circle cx="935.82" cy="2002.4" r="3.75"/><circle cx="959.13" cy="1974.13" r="3.75"/><circle cx="1019.74" cy="1998.15" r="3.75"/><circle cx="1012.57" cy="1991.6" r="3.75"/><circle cx="982.82" cy="1973.62" r="3.75"/><circle cx="1023.04" cy="1998.05" r="3.75"/><circle cx="1024.03" cy="1942.13" r="3.75"/><circle cx="1001.4" cy="1996.7" r="3.75"/><circle cx="945.04" cy="1971.96" r="3.75"/><circle cx="955.07" cy="1970.75" r="3.75"/><circle cx="985.69" cy="1972.09" r="3.75"/><circle cx="970.25" cy="1991.85" r="3.75"/><circle cx="930.89" cy="1982.78" r="3.75"/><circle cx="988.78" cy="1997.98" r="3.75"/><circle cx="942.96" cy="1995.95" r="3.75"/><circle cx="1016.17" cy="1991.09" r="3.75"/><circle cx="993.22" cy="1986.95" r="3.75"/><circle cx="997.08" cy="1991.52" r="3.75"/><circle cx="1005.83" cy="1996.1" r="3.75"/><circle cx="979.06" cy="1995.46" r="3.75"/><circle cx="987.7" cy="1997.5" r="3.75"/><circle cx="933.41" cy="2000" r="3.75"/><circle cx="1021.31" cy="1974.73" r="3.75"/><circle cx="1001.71" cy="1974.77" r="3.75"/><circle cx="1002.64" cy="1973.94" r="3.75"/><circle cx="1019.07" cy="1986.36" r="3.75"/><circle cx="954.86" cy="1997.73" r="3.75"/><circle cx="1008.62" cy="1980.81" r="3.75"/><circle cx="982.9" cy="2002.95" r="3.75"/><circle cx="932.62" cy="1984.49" r="3.75"/><circle cx="1025.06" cy="1975.42" r="3.75"/><circle cx="975.48" cy="1997.05" r="3.75"/><circle cx="974.19" cy="1995.83" r="3.75"/><circle cx="941.69" cy="2000.69" r="3.75"/><circle cx="971.57" cy="1996.4" r="3.75"/><circle cx="954.61" cy="1996.53" r="3.75"/><circle cx="930.53" cy="1981.05" r="3.75"/><circle cx="1016.85" cy="1994.69" r="3.75"/><circle cx="985.79" cy="1996.46" r="3.75"/><circle cx="954.89" cy="1963.81" r="3.75"/><circle cx="1014.02" cy="1989.24" r="3.75"/><circle cx="1009.82" cy="1985.79" r="3.75"/><circle cx="958.41" cy="1944.9" r="3.75"/><circle cx="1008.97" cy="1988.05" r="3.75"/><circle cx="961.29" cy="1987.97" r="3.75"/><circle cx="984.31" cy="1989.4" r="3.75"/><circle cx="970.64" cy="1963.2" r="3.75"/><circle cx="980.48" cy="1983.1" r="3.75"/><circle cx="949.91" cy="1965.66" r="3.75"/><circle cx="1016.22" cy="1965.11" r="3.75"/><circle cx="977.23" cy="1974.45" r="3.75"/><circle cx="1007.23" cy="1970.15" r="3.75"/><circle cx="946.35" cy="1982.67" r="3.75"/><circle cx="966.4" cy="1999.38" r="3.75"/><circle cx="973.44" cy="1998.03" r="3.75"/><circle cx="990.25" cy="1976.65" r="3.75"/><circle cx="1007.35" cy="1979.12" r="3.75"/><circle cx="995.05" cy="1992.37" r="3.75"/><circle cx="995.48" cy="1966.77" r="3.75"/><circle cx="965.34" cy="1999.31" r="3.75"/><circle cx="1020.94" cy="1987.05" r="3.75"/><circle cx="1016.6" cy="1988.61" r="3.75"/><circle cx="933.11" cy="1987.29" r="3.75"/><circle cx="973.1" cy="1994.85" r="3.75"/><circle cx="930.39" cy="1985.4" r="3.75"/><circle cx="1001.49" cy="1993.35" r="3.75"/><circle cx="992.43" cy="1994.1" r="3.75"/><circle cx="1022.22" cy="1992.35" r="3.75"/><circle cx="1016.35" cy="1987.36" r="3.75"/><circle cx="982.52" cy="1981.99" r="3.75"/><circle cx="997.53" cy="1951.93" r="3.75"/><circle cx="956.89" cy="1985.19" r="3.75"/><circle cx="987.77" cy="1975.02" r="3.75"/><circle cx="951.87" cy="1956.37" r="3.75"/><circle cx="961.85" cy="1992.91" r="3.75"/><circle cx="1011.55" cy="1999.54" r="3.75"/><circle cx="945.86" cy="1964.89" r="3.75"/><circle cx="1025.09" cy="1974.04" r="3.75"/><circle cx="956.07" cy="1987.47" r="3.75"/><circle cx="942.94" cy="1980.7" r="3.75"/><circle cx="1007.95" cy="2000.4" r="3.75"/><circle cx="1004.46" cy="1991.85" r="3.75"/><circle cx="970.38" cy="1988.22" r="3.75"/><circle cx="948.1" cy="2001.94" r="3.75"/><circle cx="1022.52" cy="1954.38" r="3.75"/><circle cx="1030.5" cy="1984.56" r="3.75"/><circle cx="1017.11" cy="2002.96" r="3.75"/><circle cx="938.39" cy="1991.55" r="3.75"/><circle cx="968.36" cy="1994.98" r="3.75"/><circle cx="1015.24" cy="1989.7" r="3.75"/><circle cx="950.76" cy="1981.12" r="3.75"/><circle cx="991.22" cy="1975.65" r="3.75"/><circle cx="968.91" cy="1959.36" r="3.75"/><circle cx="970.69" cy="1984.5" r="3.75"/><circle cx="968.53" cy="1998.09" r="3.75"/><circle cx="1017.34" cy="1997.43" r="3.75"/><circle cx="940.75" cy="1975.27" r="3.75"/><circle cx="1001.1" cy="1957.79" r="3.75"/><circle cx="969.61" cy="1984.23" r="3.75"/><circle cx="934.68" cy="1956.16" r="3.75"/><circle cx="965.36" cy="1983.05" r="3.75"/><circle cx="983.65" cy="1997.99" r="3.75"/><circle cx="972.04" cy="1991.97" r="3.75"/><circle cx="1003.94" cy="1964.04" r="3.75"/><circle cx="1008.03" cy="1973.73" r="3.75"/><circle cx="967.55" cy="1986.97" r="3.75"/><circle cx="941.89" cy="1993.97" r="3.75"/><circle cx="1021.83" cy="2001.09" r="3.75"/><circle cx="937.88" cy="1980.92" r="3.75"/><circle cx="931.92" cy="1995" r="3.75"/><circle cx="961.5" cy="1993.72" r="3.75"/><circle cx="954.31" cy="1986.39" r="3.75"/><circle cx="964.2" cy="1986.21" r="3.75"/><circle cx="997.47" cy="1942.94" r="3.75"/><circle cx="1002.64" cy="1980.51" r="3.75"/><circle cx="1016.45" cy="1992.32" r="3.75"/><circle cx="967.56" cy="1987.62" r="3.75"/><circle cx="964.91" cy="1986.53" r="3.75"/><circle cx="1014.68" cy="1983.49" r="3.75"/><circle cx="959.92" cy="1991.86" r="3.75"/><circle cx="1007.64" cy="1988.02" r="3.75"/><circle cx="944.07" cy="1972.97" r="3.75"/><circle cx="963.02" cy="1992.1" r="3.75"/><circle cx="1026.63" cy="1980.43" r="3.75"/><circle cx="983.81" cy="1960.73" r="3.75"/><circle cx="1007.44" cy="1983.03" r="3.75"/><circle cx="977.54" cy="1994.42" r="3.75"/><circle cx="1001.15" cy="1971.09" r="3.75"/><circle cx="947.87" cy="1993.52" r="3.75"/><circle cx="933.61" cy="2000.04" r="3.75"/><circle cx="956.47" cy="1996.28" r="3.75"/><circle cx="995.31" cy="1987.51" r="3.75"/><circle cx="936.02" cy="1959.61" r="3.75"/><circle cx="946.68" cy="1999.89" r="3.75"/><circle cx="1003.59" cy="1969.23" r="3.75"/><circle cx="1022.94" cy="1992.05" r="3.75"/><circle cx="986.01" cy="1948.95" r="3.75"/><circle cx="1034.1" cy="1993.19" r="3.75"/><circle cx="1007.46" cy="1974.73" r="3.75"/><circle cx="979.93" cy="1999.46" r="3.75"/><circle cx="1012.7" cy="1986.33" r="3.75"/><circle cx="1018.52" cy="1989.02" r="3.75"/><circle cx="960.03" cy="1996.43" r="3.75"/><circle cx="1022.34" cy="1986.08" r="3.75"/><circle cx="986.75" cy="1986.98" r="3.75"/><circle cx="1015.07" cy="1967.94" r="3.75"/><circle cx="995.08" cy="1992.75" r="3.75"/><circle cx="981.97" cy="1984.13" r="3.75"/><circle cx="1031.82" cy="2000.46" r="3.75"/><circle cx="1033.72" cy="1975.11" r="3.75"/><circle cx="967.35" cy="2004.81" r="3.75"/><circle cx="1023.21" cy="1924.83" r="3.75"/><circle cx="1026.37" cy="1974.58" r="3.75"/><circle cx="977.52" cy="1977.17" r="3.75"/><circle cx="1007.73" cy="1988.59" r="3.75"/><circle cx="976.65" cy="1997.02" r="3.75"/><circle cx="972.31" cy="1985.55" r="3.75"/><circle cx="1034.06" cy="1995.85" r="3.75"/><circle cx="1006.69" cy="1980.7" r="3.75"/><circle cx="1010.66" cy="1988.99" r="3.75"/><circle cx="980.39" cy="1994.86" r="3.75"/><circle cx="970.61" cy="1941.74" r="3.75"/><circle cx="937.75" cy="1985.95" r="3.75"/><circle cx="965.05" cy="2000.09" r="3.75"/><circle cx="972.78" cy="1984.06" r="3.75"/><circle cx="956.43" cy="1994.9" r="3.75"/><circle cx="1012.39" cy="1984.09" r="3.75"/><circle cx="969.61" cy="1983.06" r="3.75"/><circle cx="982.13" cy="2002.66" r="3.75"/><circle cx="949.63" cy="1987.38" r="3.75"/><circle cx="1022.42" cy="1989.39" r="3.75"/><circle cx="986.05" cy="2002.56" r="3.75"/><circle cx="964.03" cy="1988.33" r="3.75"/><circle cx="1033.13" cy="1972.17" r="3.75"/><circle cx="985.6" cy="1992.34" r="3.75"/><circle cx="1017.59" cy="1994.19" r="3.75"/><circle cx="1003.16" cy="1989.91" r="3.75"/><circle cx="949" cy="1985" r="3.75"/><circle cx="1030.07" cy="1986.42" r="3.75"/><circle cx="944.08" cy="1990.23" r="3.75"/><circle cx="1002.01" cy="1993.07" r="3.75"/><circle cx="967.27" cy="1988.89" r="3.75"/><circle cx="992.51" cy="1978.65" r="3.75"/><circle cx="934.47" cy="1996.63" r="3.75"/><circle cx="996.68" cy="1994.06" r="3.75"/><circle cx="963.28" cy="1995" r="3.75"/><circle cx="955.49" cy="2000.15" r="3.75"/><circle cx="1002.81" cy="1983.94" r="3.75"/><circle cx="952.28" cy="1998.16" r="3.75"/><circle cx="1022.03" cy="1998.12" r="3.75"/><circle cx="993.53" cy="1996.32" r="3.75"/><circle cx="1000.45" cy="1968.99" r="3.75"/><circle cx="992.02" cy="1987.7" r="3.75"/><circle cx="963.26" cy="1995.63" r="3.75"/><circle cx="1009.92" cy="1984.19" r="3.75"/><circle cx="936.5" cy="1982.79" r="3.75"/><circle cx="961.9" cy="1992.25" r="3.75"/><circle cx="931.6" cy="1997.1" r="3.75"/><circle cx="1027.27" cy="1984.33" r="3.75"/><circle cx="1000.34" cy="1995.45" r="3.75"/><circle cx="962.41" cy="1970.45" r="3.75"/><circle cx="1013.48" cy="1962.93" r="3.75"/><circle cx="992.55" cy="1972.72" r="3.75"/><circle cx="1000.27" cy="1982.68" r="3.75"/><circle cx="988.13" cy="1986.92" r="3.75"/><circle cx="1023.52" cy="1981.76" r="3.75"/><circle cx="934.02" cy="1987.87" r="3.75"/><circle cx="951.09" cy="1990.64" r="3.75"/><circle cx="954.84" cy="1995.71" r="3.75"/><circle cx="978.46" cy="1990.03" r="3.75"/><circle cx="967.89" cy="1980.67" r="3.75"/><circle cx="986.04" cy="1947.53" r="3.75"/><circle cx="1000.87" cy="1997.98" r="3.75"/><circle cx="1000.64" cy="1975.69" r="3.75"/><circle cx="1022.49" cy="1991.75" r="3.75"/><circle cx="940.79" cy="1985.29" r="3.75"/><circle cx="998.99" cy="1968.32" r="3.75"/><circle cx="929.17" cy="1983.26" r="3.75"/><circle cx="987.86" cy="1969.94" r="3.75"/><circle cx="1010.9" cy="1984.59" r="3.75"/><circle cx="1027.25" cy="1992.08" r="3.75"/><circle cx="933.95" cy="1988.63" r="3.75"/><circle cx="1002.94" cy="1995.25" r="3.75"/><circle cx="982.16" cy="1991.52" r="3.75"/><circle cx="1032.56" cy="1950.41" r="3.75"/><circle cx="1013.32" cy="1978.48" r="3.75"/><circle cx="1013.98" cy="1997.03" r="3.75"/><circle cx="966.22" cy="1973.22" r="3.75"/><circle cx="1021.55" cy="1995.21" r="3.75"/><circle cx="1033.85" cy="1989.96" r="3.75"/><circle cx="959.46" cy="1974.47" r="3.75"/><circle cx="1002.42" cy="1982.09" r="3.75"/><circle cx="934.24" cy="1926.57" r="3.75"/><circle cx="946.55" cy="1982.14" r="3.75"/><circle cx="964.44" cy="1998.24" r="3.75"/><circle cx="946.82" cy="1983.03" r="3.75"/><circle cx="963.87" cy="1975.57" r="3.75"/><circle cx="978.24" cy="1988.67" r="3.75"/><circle cx="1004.96" cy="1996.46" r="3.75"/><circle cx="985.75" cy="1959.92" r="3.75"/><circle cx="1017.31" cy="1996.63" r="3.75"/><circle cx="939.85" cy="2003.71" r="3.75"/><circle cx="999.03" cy="1978.61" r="3.75"/><circle cx="944.78" cy="1992.86" r="3.75"/><circle cx="1006.32" cy="1963.26" r="3.75"/><circle cx="969.72" cy="1982.88" r="3.75"/><circle cx="953.65" cy="1984.49" r="3.75"/><circle cx="973.61" cy="1968.53" r="3.75"/><circle cx="1001.51" cy="1980.85" r="3.75"/><circle cx="954.58" cy="1981.2" r="3.75"/><circle cx="996.55" cy="1992.47" r="3.75"/><circle cx="996.29" cy="2000.77" r="3.75"/><circle cx="953.65" cy="1992.52" r="3.75"/><circle cx="972.35" cy="1981.52" r="3.75"/><circle cx="984.98" cy="1989.94" r="3.75"/><circle cx="972.57" cy="1996.49" r="3.75"/><circle cx="969.54" cy="1991" r="3.75"/><circle cx="988.39" cy="1977.67" r="3.75"/><circle cx="963.93" cy="1995.61" r="3.75"/><circle cx="965.33" cy="1994.76" r="3.75"/><circle cx="944.1" cy="1995.81" r="3.75"/><circle cx="949.13" cy="1971.77" r="3.75"/><circle cx="949.33" cy="1996.53" r="3.75"/><circle cx="989.53" cy="1986.32" r="3.75"/><circle cx="949.06" cy="1985.34" r="3.75"/><circle cx="1011.64" cy="1994.13" r="3.75"/><circle cx="990.95" cy="1999.29" r="3.75"/><circle cx="936.16" cy="1994.81" r="3.75"/><circle cx="958.58" cy="2000.09" r="3.75"/><circle cx="952.16" cy="1981.11" r="3.75"/><circle cx="985.05" cy="1996.4" r="3.75"/><circle cx="959.07" cy="1968.11" r="3.75"/><circle cx="993.51" cy="1980.59" r="3.75"/><circle cx="934.47" cy="1976.94" r="3.75"/><circle cx="1014.4" cy="1984.46" r="3.75"/><circle cx="950.33" cy="1987.9" r="3.75"/><circle cx="1024.34" cy="1952.1" r="3.75"/><circle cx="968.98" cy="1981.86" r="3.75"/><circle cx="928.68" cy="1995.55" r="3.75"/><circle cx="1009.21" cy="1992.13" r="3.75"/><circle cx="993.34" cy="1997.58" r="3.75"/><circle cx="999.49" cy="1964.98" r="3.75"/><circle cx="1018.96" cy="1990.03" r="3.75"/><circle cx="938.66" cy="1979.62" r="3.75"/><circle cx="987.61" cy="1988.96" r="3.75"/><circle cx="951.02" cy="1970.22" r="3.75"/><circle cx="1026.29" cy="1984.25" r="3.75"/><circle cx="973.1" cy="2003.68" r="3.75"/><circle cx="991.4" cy="1997.46" r="3.75"/><circle cx="983.61" cy="1995.53" r="3.75"/><circle cx="1021.31" cy="1992.37" r="3.75"/><circle cx="947.04" cy="1991.96" r="3.75"/><circle cx="981.41" cy="1983.01" r="3.75"/><circle cx="1024.31" cy="1995.22" r="3.75"/><circle cx="986.83" cy="1967.32" r="3.75"/><circle cx="973.54" cy="1985.47" r="3.75"/><circle cx="944.14" cy="1973.44" r="3.75"/><circle cx="957.74" cy="1977.18" r="3.75"/><circle cx="1034.17" cy="1970.7" r="3.75"/><circle cx="940.33" cy="1986.6" r="3.75"/><circle cx="1023.93" cy="1992.49" r="3.75"/><circle cx="986.69" cy="1980.9" r="3.75"/><circle cx="979.7" cy="1963.79" r="3.75"/><circle cx="975.6" cy="1988.06" r="3.75"/><circle cx="928.66" cy="1995.91" r="3.75"/><circle cx="950.98" cy="1977.36" r="3.75"/><circle cx="939.74" cy="1994.16" r="3.75"/><circle cx="1015.38" cy="1985.82" r="3.75"/><circle cx="935.03" cy="1969.34" r="3.75"/><circle cx="956.44" cy="1984.09" r="3.75"/><circle cx="936.24" cy="1992.42" r="3.75"/><circle cx="958.24" cy="1981.46" r="3.75"/><circle cx="950.62" cy="1994.95" r="3.75"/><circle cx="1006.48" cy="2004.97" r="3.75"/><circle cx="1031.74" cy="1978.72" r="3.75"/><circle cx="975.18" cy="1996.36" r="3.75"/><circle cx="931.34" cy="1998.61" r="3.75"/><circle cx="1022.31" cy="1945.14" r="3.75"/><circle cx="973.31" cy="1986.11" r="3.75"/><circle cx="956.56" cy="1970.37" r="3.75"/><circle cx="1030.49" cy="1981.96" r="3.75"/><circle cx="1027.15" cy="1997.4" r="3.75"/><circle cx="986.81" cy="2000.97" r="3.75"/><circle cx="950.5" cy="1994.75" r="3.75"/><circle cx="967.67" cy="1993.29" r="3.75"/><circle cx="949" cy="2001.17" r="3.75"/><circle cx="959.78" cy="1968.35" r="3.75"/><circle cx="978.55" cy="2001.55" r="3.75"/><circle cx="998.74" cy="1966.86" r="3.75"/><circle cx="1003.31" cy="1991.06" r="3.75"/><circle cx="972.84" cy="1957.6" r="3.75"/><circle cx="1029.21" cy="1968.12" r="3.75"/><circle cx="986.64" cy="1988.02" r="3.75"/><circle cx="1000.43" cy="1975.52" r="3.75"/><circle cx="976.01" cy="1991.11" r="3.75"/><circle cx="999.92" cy="1986.98" r="3.75"/><circle cx="1013.7" cy="1985.15" r="3.75"/><circle cx="961.19" cy="1985.89" r="3.75"/><circle cx="976.8" cy="1976.08" r="3.75"/><circle cx="975.38" cy="1975.67" r="3.75"/><circle cx="968.99" cy="1991.16" r="3.75"/><circle cx="966.07" cy="1959.95" r="3.75"/><circle cx="960.78" cy="1998.57" r="3.75"/><circle cx="990.75" cy="1993.38" r="3.75"/><circle cx="941.01" cy="2002.67" r="3.75"/><circle cx="1030" cy="1985.25" r="3.75"/><circle cx="1030.31" cy="1982.91" r="3.75"/><circle cx="1009.52" cy="1987.88" r="3.75"/><circle cx="967.07" cy="1993.93" r="3.75"/><circle cx="984.1" cy="1992.95" r="3.75"/><circle cx="936.17" cy="1982.06" r="3.75"/><circle cx="995.05" cy="1994.88" r="3.75"/><circle cx="950.58" cy="1994.33" r="3.75"/><circle cx="999.88" cy="1998.69" r="3.75"/><circle cx="987.01" cy="1967.84" r="3.75"/><circle cx="961.96" cy="1982.83" r="3.75"/><circle cx="959.28" cy="1986.77" r="3.75"/><circle cx="929.5" cy="1991.68" r="3.75"/><circle cx="980.44" cy="1987.9" r="3.75"/><circle cx="1007.58" cy="1994.21" r="3.75"/><circle cx="952.74" cy="1999.45" r="3.75"/><circle cx="982.5" cy="1928.05" r="3.75"/><circle cx="935.31" cy="1994.9" r="3.75"/><circle cx="986.67" cy="1993.48" r="3.75"/><circle cx="950.64" cy="1976.14" r="3.75"/><circle cx="987.16" cy="1989.37" r="3.75"/><circle cx="971.42" cy="1973.8" r="3.75"/><circle cx="951.45" cy="1977.96" r="3.75"/><circle cx="1016.6" cy="1993.5" r="3.75"/><circle cx="990.79" cy="1992.79" r="3.75"/><circle cx="998.77" cy="1995.58" r="3.75"/><circle cx="1007.39" cy="1979.12" r="3.75"/><circle cx="958.63" cy="1994.95" r="3.75"/><circle cx="954.66" cy="1997.38" r="3.75"/><circle cx="948.95" cy="1992.74" r="3.75"/><circle cx="1020.98" cy="1978.71" r="3.75"/><circle cx="1019.94" cy="1991.53" r="3.75"/><circle cx="954.22" cy="1957.17" r="3.75"/><circle cx="940.37" cy="1965.86" r="3.75"/><circle cx="1025.9" cy="1992.18" r="3.75"/><circle cx="965.6" cy="1991.51" r="3.75"/><circle cx="930.11" cy="1995.2" r="3.75"/><circle cx="988.38" cy="1945.13" r="3.75"/><circle cx="944.15" cy="1990.12" r="3.75"/><circle cx="942.63" cy="2001.77" r="3.75"/><circle cx="953.26" cy="1984.5" r="3.75"/><circle cx="1019.03" cy="1993.6" r="3.75"/><circle cx="986.6" cy="1954.79" r="3.75"/><circle cx="935.63" cy="1997.92" r="3.75"/><circle cx="1032.72" cy="1982.11" r="3.75"/><circle cx="966.04" cy="1961.4" r="3.75"/><circle cx="1020.55" cy="1979.62" r="3.75"/><circle cx="964.56" cy="1997.56" r="3.75"/><circle cx="993.37" cy="1992.97" r="3.75"/><circle cx="966.43" cy="2002.62" r="3.75"/><circle cx="943.23" cy="1994.48" r="3.75"/><circle cx="982.43" cy="1964.1" r="3.75"/><circle cx="1024.08" cy="1986.62" r="3.75"/><circle cx="1020.68" cy="1984.95" r="3.75"/><circle cx="982.62" cy="1992.43" r="3.75"/><circle cx="936.16" cy="2002.97" r="3.75"/><circle cx="942.46" cy="1993.83" r="3.75"/><circle cx="966.77" cy="1998.26" r="3.75"/><circle cx="992.93" cy="1942.17" r="3.75"/><circle cx="937.53" cy="1984.41" r="3.75"/><circle cx="964.6" cy="1977.4" r="3.75"/><circle cx="999.38" cy="1993.91" r="3.75"/><circle cx="932.14" cy="1998.29" r="3.75"/><circle cx="987.57" cy="1998.22" r="3.75"/><circle cx="988.42" cy="1962.42" r="3.75"/><circle cx="979.28" cy="1989.73" r="3.75"/><circle cx="934.97" cy="1953.31" r="3.75"/><circle cx="930.32" cy="1995.56" r="3.75"/><circle cx="961.49" cy="1977.85" r="3.75"/><circle cx="960.76" cy="1992.4" r="3.75"/><circle cx="959.52" cy="1985.24" r="3.75"/><circle cx="974.03" cy="1975.05" r="3.75"/><circle cx="966.08" cy="1980.27" r="3.75"/><circle cx="989.36" cy="1980.78" r="3.75"/><circle cx="962.5" cy="1992.3" r="3.75"/><circle cx="983.67" cy="1975.47" r="3.75"/><circle cx="970.26" cy="1993.17" r="3.75"/><circle cx="1031.23" cy="2000.69" r="3.75"/><circle cx="954.55" cy="1987.75" r="3.75"/><circle cx="1002.46" cy="1985.56" r="3.75"/><circle cx="929.7" cy="1985.67" r="3.75"/><circle cx="1006.96" cy="1999.39" r="3.75"/><circle cx="933.77" cy="1946.26" r="3.75"/><circle cx="974.7" cy="1974.76" r="3.75"/><circle cx="960.48" cy="1991.09" r="3.75"/><circle cx="975.17" cy="1997.56" r="3.75"/><circle cx="929.19" cy="1967.88" r="3.75"/><circle cx="1033.62" cy="1996" r="3.75"/><circle cx="1033.39" cy="1991.69" r="3.75"/><circle cx="1024.95" cy="1984.62" r="3.75"/><circle cx="987.06" cy="1990.47" r="3.75"/><circle cx="986.83" cy="1999.83" r="3.75"/><circle cx="1029.55" cy="1978.23" r="3.75"/><circle cx="958.25" cy="1993.82" r="3.75"/><circle cx="1006.17" cy="1983.7" r="3.75"/><circle cx="1014.68" cy="1993.85" r="3.75"/><circle cx="934.03" cy="1982.9" r="3.75"/><circle cx="969.38" cy="1989.34" r="3.75"/><circle cx="975.89" cy="1989.57" r="3.75"/><circle cx="1025.04" cy="1980.8" r="3.75"/><circle cx="991.68" cy="2004.14" r="3.75"/><circle cx="987.28" cy="1974.76" r="3.75"/><circle cx="1018.38" cy="1996.19" r="3.75"/><circle cx="939.07" cy="1999.64" r="3.75"/><circle cx="1026.93" cy="1989.36" r="3.75"/><circle cx="945.7" cy="1986.66" r="3.75"/><circle cx="1022.42" cy="1977.46" r="3.75"/><circle cx="944.09" cy="1985.18" r="3.75"/><circle cx="1014.26" cy="1996.12" r="3.75"/><circle cx="1021.28" cy="1991.32" r="3.75"/><circle cx="957.99" cy="2000.63" r="3.75"/><circle cx="975.51" cy="1980.5" r="3.75"/><circle cx="989.91" cy="1998.81" r="3.75"/><circle cx="946.76" cy="1988.43" r="3.75"/><circle cx="976.93" cy="1986.45" r="3.75"/><circle cx="961.83" cy="1984.78" r="3.75"/><circle cx="1005.01" cy="1995.12" r="3.75"/><circle cx="977.33" cy="1988.55" r="3.75"/><circle cx="985.14" cy="1994.15" r="3.75"/><circle cx="949.52" cy="1985.56" r="3.75"/><circle cx="1011.05" cy="1992.27" r="3.75"/><circle cx="991.4" cy="1982.3" r="3.75"/><circle cx="1011.69" cy="1976.46" r="3.75"/><circle cx="952.11" cy="1993.71" r="3.75"/><circle cx="999.3" cy="1996.26" r="3.75"/><circle cx="1023.9" cy="1993.08" r="3.75"/><circle cx="993.1" cy="1994.53" r="3.75"/><circle cx="959.43" cy="1993.77" r="3.75"/><circle cx="938.18" cy="1990.04" r="3.75"/><circle cx="984.86" cy="1981.72" r="3.75"/><circle cx="947.3" cy="1775.23" r="3.75"/><circle cx="957.3" cy="1829.09" r="3.75"/><circle cx="976.3" cy="1788.7" r="3.75"/><circle cx="986.3" cy="1812.63" r="3.75"/><circle cx="946.3" cy="1891.92" r="3.75"/><circle cx="959.3" cy="1908.38" r="3.75"/><circle cx="961.3" cy="1912.86" r="3.75"/><circle cx="1020.3" cy="1923.34" r="3.75"/><circle cx="970.3" cy="1930.82" r="3.75"/><circle cx="1004.3" cy="1929.32" r="3.75"/><circle cx="944.3" cy="1942.78" r="3.75"/></g>
<g fill="#FF9900"><circle cx="1292.64" cy="1961.29" r="3.75"/><circle cx="1200.3" cy="1967.77" r="3.75"/><circle cx="1279.86" cy="1968.08" r="3.75"/><circle cx="1223.96" cy="1988.3" r="3.75"/><circle cx="1255.53" cy="1981.58" r="3.75"/><circle cx="1208.09" cy="1978.39" r="3.75"/><circle cx="1236.95" cy="1984.93" r="3.75"/><circle cx="1296.75" cy="1951.26" r="3.75"/><circle cx="1291.94" cy="1981.73" r="3.75"/><circle cx="1219.73" cy="1970.57" r="3.75"/><circle cx="1195.11" cy="1949.64" r="3.75"/><circle cx="1225.06" cy="1963.25" r="3.75"/><circle cx="1231.58" cy="1951.91" r="3.75"/><circle cx="1250.71" cy="1977.61" r="3.75"/><circle cx="1216.33" cy="1953" r="3.75"/><circle cx="1205.79" cy="1964.14" r="3.75"/><circle cx="1245.38" cy="1943.71" r="3.75"/><circle cx="1210.58" cy="1966.31" r="3.75"/><circle cx="1286.02" cy="1959.07" r="3.75"/><circle cx="1287.4" cy="1989.44" r="3.75"/><circle cx="1272.17" cy="1962.67" r="3.75"/><circle cx="1295.28" cy="1979.67" r="3.75"/><circle cx="1293.26" cy="1952.85" r="3.75"/><circle cx="1267.11" cy="1944.87" r="3.75"/><circle cx="1240.21" cy="1983.17" r="3.75"/><circle cx="1289.33" cy="1969.41" r="3.75"/><circle cx="1244.39" cy="1959.27" r="3.75"/><circle cx="1284.88" cy="1978.31" r="3.75"/><circle cx="1286.67" cy="1984.92" r="3.75"/><circle cx="1288.86" cy="1961.42" r="3.75"/><circle cx="1268.02" cy="1976.68" r="3.75"/><circle cx="1225.71" cy="1965.23" r="3.75"/><circle cx="1265.45" cy="1949.68" r="3.75"/><circle cx="1219.72" cy="1937.89" r="3.75"/><circle cx="1287.91" cy="1979.86" r="3.75"/><circle cx="1266.16" cy="1931.14" r="3.75"/><circle cx="1244.75" cy="1987.71" r="3.75"/><circle cx="1253.62" cy="1968.54" r="3.75"/><circle cx="1224.36" cy="1961.43" r="3.75"/><circle cx="1290.32" cy="1948.83" r="3.75"/><circle cx="1257.37" cy="1941.45" r="3.75"/><circle cx="1268.25" cy="1953.48" r="3.75"/><circle cx="1287.51" cy="1957.22" r="3.75"/><circle cx="1197.53" cy="1943.05" r="3.75"/><circle cx="1260.51" cy="1967.67" r="3.75"/><circle cx="1284.1" cy="1955.51" r="3.75"/><circle cx="1202.56" cy="1995.18" r="3.75"/><circle cx="1217.25" cy="1970.23" r="3.75"/><circle cx="1213.61" cy="1954.65" r="3.75"/><circle cx="1267.3" cy="1976.82" r="3.75"/><circle cx="1194.68" cy="1972.08" r="3.75"/><circle cx="1262.61" cy="1959.13" r="3.75"/><circle cx="1200.09" cy="1962.87" r="3.75"/><circle cx="1268.62" cy="1967.08" r="3.75"/><circle cx="1193.54" cy="1967.1" r="3.75"/><circle cx="1207.95" cy="1938.73" r="3.75"/><circle cx="1210.78" cy="1971.43" r="3.75"/><circle cx="1195.88" cy="1979.9" r="3.75"/><circle cx="1296.24" cy="1963.76" r="3.75"/><circle cx="1227.79" cy="1962.81" r="3.75"/><circle cx="1256.52" cy="1966.47" r="3.75"/><circle cx="1227.04" cy="1973.44" r="3.75"/><circle cx="1194.57" cy="1990.3" r="3.75"/><circle cx="1269.73" cy="1958.04" r="3.75"/><circle cx="1286.91" cy="1965.06" r="3.75"/><circle cx="1266.07" cy="1995.9" r="3.75"/><circle cx="1241.41" cy="1962.75" r="3.75"/><circle cx="1224.83" cy="1944.38" r="3.75"/><circle cx="1202.12" cy="1994.99" r="3.75"/><circle cx="1204.82" cy="1956.3" r="3.75"/><circle cx="1253.31" cy="1980.19" r="3.75"/><circle cx="1206.55" cy="1954.91" r="3.75"/><circle cx="1293.03" cy="1967.29" r="3.75"/><circle cx="1235.79" cy="1945.73" r="3.75"/><circle cx="1193.21" cy="1973.82" r="3.75"/><circle cx="1197.32" cy="1969.05" r="3.75"/><circle cx="1194.86" cy="1962.56" r="3.75"/><circle cx="1258.62" cy="1960.42" r="3.75"/><circle cx="1245.18" cy="1931.42" r="3.75"/><circle cx="1296.72" cy="1969.74" r="3.75"/><circle cx="1215.94" cy="1976.81" r="3.75"/><circle cx="1253.97" cy="1962.25" r="3.75"/><circle cx="1257.46" cy="1958.82" r="3.75"/><circle cx="1218.5" cy="1988.48" r="3.75"/><circle cx="1236.14" cy="1967.57" r="3.75"/><circle cx="1195.06" cy="1966.36" r="3.75"/><circle cx="1234.63" cy="1947.75" r="3.75"/><circle cx="1216.83" cy="1950.69" r="3.75"/><circle cx="1201.88" cy="1961.61" r="3.75"/><circle cx="1214.34" cy="1956.25" r="3.75"/><circle cx="1246.5" cy="1978.68" r="3.75"/><circle cx="1259.33" cy="1963.26" r="3.75"/><circle cx="1213.82" cy="1934.12" r="3.75"/><circle cx="1268.57" cy="1987.41" r="3.75"/><circle cx="1237.28" cy="1985.8" r="3.75"/><circle cx="1196.73" cy="1967.55" r="3.75"/><circle cx="1235.61" cy="1975.46" r="3.75"/><circle cx="1201.24" cy="1967.61" r="3.75"/><circle cx="1276.38" cy="1978.2" r="3.75"/><circle cx="1288.97" cy="1952.63" r="3.75"/><circle cx="1256.01" cy="1976.67" r="3.75"/><circle cx="1230.76" cy="1924.57" r="3.75"/><circle cx="1193.32" cy="1968.85" r="3.75"/><circle cx="1223.73" cy="1972.47" r="3.75"/><circle cx="1280.4" cy="1967.37" r="3.75"/><circle cx="1239.15" cy="1968.48" r="3.75"/><circle cx="1234.83" cy="1976.3" r="3.75"/><circle cx="1253.71" cy="1965.21" r="3.75"/><circle cx="1199.12" cy="1969.22" r="3.75"/><circle cx="1290.44" cy="1952" r="3.75"/><circle cx="1199.41" cy="1965.82" r="3.75"/><circle cx="1251.88" cy="1975.9" r="3.75"/><circle cx="1232.83" cy="1990.5" r="3.75"/><circle cx="1233.17" cy="1960.39" r="3.75"/><circle cx="1204.2" cy="1961.7" r="3.75"/><circle cx="1281.41" cy="1961.88" r="3.75"/><circle cx="1259.25" cy="1943.88" r="3.75"/><circle cx="1193.91" cy="1971.88" r="3.75"/><circle cx="1261.17" cy="1962.04" r="3.75"/><circle cx="1244.08" cy="1989.76" r="3.75"/><circle cx="1229.2" cy="1991.94" r="3.75"/><circle cx="1219.81" cy="1958.98" r="3.75"/><circle cx="1247.09" cy="1998.14" r="3.75"/><circle cx="1276.56" cy="1960.89" r="3.75"/><circle cx="1290.1" cy="1959.66" r="3.75"/><circle cx="1215.85" cy="1976.89" r="3.75"/><circle cx="1243.11" cy="1967.06" r="3.75"/><circle cx="1263.29" cy="1950.35" r="3.75"/><circle cx="1288.67" cy="1989.81" r="3.75"/><circle cx="1201.47" cy="1980.31" r="3.75"/><circle cx="1229.04" cy="1957.7" r="3.75"/><circle cx="1235.48" cy="1966.24" r="3.75"/><circle cx="1198.38" cy="1938.87" r="3.75"/><circle cx="1296.1" cy="1949.74" r="3.75"/><circle cx="1260" cy="1957.45" r="3.75"/><circle cx="1215.86" cy="1957.06" r="3.75"/><circle cx="1262.4" cy="1972.87" r="3.75"/><circle cx="1246.84" cy="1980.72" r="3.75"/><circle cx="1203.18" cy="1998.14" r="3.75"/><circle cx="1271.41" cy="1975.43" r="3.75"/><circle cx="1201.49" cy="1989.71" r="3.75"/><circle cx="1218.57" cy="1968.58" r="3.75"/><circle cx="1286.16" cy="1988.74" r="3.75"/><circle cx="1234.14" cy="1960.46" r="3.75"/><circle cx="1296.78" cy="1962.12" r="3.75"/><circle cx="1206.65" cy="1985.24" r="3.75"/><circle cx="1238.07" cy="1946.34" r="3.75"/><circle cx="1284.77" cy="1962.43" r="3.75"/><circle cx="1210.42" cy="1983.26" r="3.75"/><circle cx="1234.22" cy="1967.22" r="3.75"/><circle cx="1266.61" cy="1944.56" r="3.75"/><circle cx="1241.38" cy="1975.18" r="3.75"/><circle cx="1293.27" cy="1978.15" r="3.75"/><circle cx="1261.1" cy="1944.48" r="3.75"/><circle cx="1272.03" cy="1959.73" r="3.75"/><circle cx="1257.15" cy="1974.68" r="3.75"/><circle cx="1233.99" cy="1986.63" r="3.75"/><circle cx="1258.59" cy="1998.14" r="3.75"/><circle cx="1192.53" cy="1989.13" r="3.75"/><circle cx="1284.92" cy="1960.91" r="3.75"/><circle cx="1260.21" cy="1965" r="3.75"/><circle cx="1291.28" cy="1968.67" r="3.75"/><circle cx="1268.62" cy="1991.61" r="3.75"/><circle cx="1285.08" cy="1986.26" r="3.75"/><circle cx="1201.95" cy="1955.89" r="3.75"/><circle cx="1212.45" cy="1989.52" r="3.75"/><circle cx="1270.19" cy="1974.48" r="3.75"/><circle cx="1276.54" cy="1971.15" r="3.75"/><circle cx="1205.91" cy="1978.28" r="3.75"/><circle cx="1218.19" cy="1976.48" r="3.75"/><circle cx="1251.31" cy="1976.04" r="3.75"/><circle cx="1293.78" cy="1964.04" r="3.75"/><circle cx="1199.02" cy="1948.88" r="3.75"/><circle cx="1280.04" cy="1965.79" r="3.75"/><circle cx="1261.09" cy="1965.62" r="3.75"/><circle cx="1262.83" cy="1983.35" r="3.75"/><circle cx="1226.8" cy="1968" r="3.75"/><circle cx="1194.22" cy="1948.53" r="3.75"/><circle cx="1199.76" cy="1965.89" r="3.75"/><circle cx="1270.83" cy="1975.36" r="3.75"/><circle cx="1274.44" cy="1984.63" r="3.75"/><circle cx="1274.77" cy="1953.46" r="3.75"/><circle cx="1282.89" cy="1960.22" r="3.75"/><circle cx="1231.76" cy="1959.44" r="3.75"/><circle cx="1240.55" cy="1966.72" r="3.75"/><circle cx="1250.39" cy="1964.04" r="3.75"/><circle cx="1293.79" cy="1978.54" r="3.75"/><circle cx="1231.83" cy="1952.29" r="3.75"/><circle cx="1238.24" cy="1957.3" r="3.75"/><circle cx="1260.1" cy="1975.46" r="3.75"/><circle cx="1242.58" cy="1998.14" r="3.75"/><circle cx="1199.43" cy="1974.09" r="3.75"/><circle cx="1278.68" cy="1973.32" r="3.75"/><circle cx="1275.66" cy="1945.79" r="3.75"/><circle cx="1260.56" cy="1988.55" r="3.75"/><circle cx="1201.15" cy="1948.26" r="3.75"/><circle cx="1258.43" cy="1980.38" r="3.75"/><circle cx="1281.5" cy="1954.5" r="3.75"/><circle cx="1275.87" cy="1974.98" r="3.75"/><circle cx="1215.99" cy="1975.42" r="3.75"/><circle cx="1239.8" cy="1964.77" r="3.75"/><circle cx="1292.82" cy="1954.14" r="3.75"/><circle cx="1203.17" cy="1960.02" r="3.75"/><circle cx="1229.95" cy="1979.39" r="3.75"/><circle cx="1225.05" cy="1951.5" r="3.75"/><circle cx="1208.95" cy="1958.39" r="3.75"/><circle cx="1238.15" cy="1974.4" r="3.75"/><circle cx="1289" cy="1935.49" r="3.75"/><circle cx="1238.15" cy="1988.16" r="3.75"/><circle cx="1225.88" cy="1992.63" r="3.75"/><circle cx="1201.85" cy="1965.38" r="3.75"/><circle cx="1263.22" cy="1956.45" r="3.75"/><circle cx="1230.92" cy="1982.59" r="3.75"/><circle cx="1216.02" cy="1945.19" r="3.75"/><circle cx="1277" cy="1976.27" r="3.75"/><circle cx="1278.59" cy="1977.34" r="3.75"/><circle cx="1227.58" cy="1941.45" r="3.75"/><circle cx="1244.58" cy="1989.71" r="3.75"/><circle cx="1264.44" cy="1942.74" r="3.75"/><circle cx="1270.91" cy="1973.92" r="3.75"/><circle cx="1283.45" cy="1943.11" r="3.75"/><circle cx="1295.08" cy="1975.98" r="3.75"/><circle cx="1222.21" cy="1982.13" r="3.75"/><circle cx="1230.25" cy="1981.64" r="3.75"/><circle cx="1233.19" cy="1948.99" r="3.75"/><circle cx="1228.82" cy="1932.62" r="3.75"/><circle cx="1241.82" cy="1958.58" r="3.75"/><circle cx="1293.13" cy="1972.08" r="3.75"/><circle cx="1204.77" cy="1952.43" r="3.75"/><circle cx="1229.37" cy="1963.69" r="3.75"/><circle cx="1288.57" cy="1947.31" r="3.75"/><circle cx="1237.56" cy="1983.09" r="3.75"/><circle cx="1248.82" cy="1963.77" r="3.75"/><circle cx="1232.63" cy="1937.89" r="3.75"/><circle cx="1221.47" cy="1971.66" r="3.75"/><circle cx="1224.83" cy="1972.63" r="3.75"/><circle cx="1289.47" cy="1959.27" r="3.75"/><circle cx="1212.96" cy="1961.46" r="3.75"/><circle cx="1217.9" cy="1976.08" r="3.75"/><circle cx="1227.63" cy="1960.68" r="3.75"/><circle cx="1217.43" cy="1964.84" r="3.75"/><circle cx="1226.96" cy="1945.61" r="3.75"/><circle cx="1230.82" cy="1965.53" r="3.75"/><circle cx="1206.57" cy="1971.43" r="3.75"/><circle cx="1281.49" cy="1989.62" r="3.75"/><circle cx="1205.38" cy="1955.02" r="3.75"/><circle cx="1246.74" cy="1958.46" r="3.75"/><circle cx="1272.73" cy="1977.34" r="3.75"/><circle cx="1256" cy="1998.14" r="3.75"/><circle cx="1232.88" cy="1934.43" r="3.75"/><circle cx="1259.3" cy="1652.56" r="3.75"/><circle cx="1227.3" cy="1896.41" r="3.75"/><circle cx="1221.3" cy="1906.88" r="3.75"/><circle cx="1204.3" cy="1909.87" r="3.75"/><circle cx="1286.3" cy="1915.86" r="3.75"/><circle cx="1194.3" cy="1924.83" r="3.75"/><circle cx="1198.3" cy="1929.32" r="3.75"/><circle cx="1292.3" cy="1924.83" r="3.75"/><circle cx="1248.3" cy="1929.32" r="3.75"/><circle cx="1264.3" cy="1933.81" r="3.75"/><circle cx="1242.3" cy="1996.64" r="3.75"/><circle cx="1264.3" cy="1998.14" r="3.75"/></g>
<line x1="824.2" y1="1617" x2="824.2" y2="2025.1" stroke="#000" stroke-width="2.5"/>
<line x1="823" y1="2023.9" x2="1400.4" y2="2023.9" stroke="#000" stroke-width="2.5"/>
<line x1="819.3" y1="2011.6" x2="824.2" y2="2011.6" stroke="#000" stroke-width="2.3"/>
<text x="815.5" y="2018.8" font-size="20" text-anchor="end" fill="#1a1a1a">0.0</text>
<line x1="819.3" y1="1936.8" x2="824.2" y2="1936.8" stroke="#000" stroke-width="2.3"/>
<text x="815.5" y="1944" font-size="20" text-anchor="end" fill="#1a1a1a">2.5</text>
<line x1="819.3" y1="1862" x2="824.2" y2="1862" stroke="#000" stroke-width="2.3"/>
<text x="815.5" y="1869.2" font-size="20" text-anchor="end" fill="#1a1a1a">5.0</text>
<line x1="819.3" y1="1787.2" x2="824.2" y2="1787.2" stroke="#000" stroke-width="2.3"/>
<text x="815.5" y="1794.4" font-size="20" text-anchor="end" fill="#1a1a1a">7.5</text>
<line x1="819.3" y1="1712.4" x2="824.2" y2="1712.4" stroke="#000" stroke-width="2.3"/>
<text x="815.5" y="1719.6" font-size="20" text-anchor="end" fill="#1a1a1a">10.0</text>
<line x1="819.3" y1="1637.6" x2="824.2" y2="1637.6" stroke="#000" stroke-width="2.3"/>
<text x="815.5" y="1644.8" font-size="20" text-anchor="end" fill="#1a1a1a">12.5</text>
<line x1="981.3" y1="2023.9" x2="981.3" y2="2029.1" stroke="#000" stroke-width="2.3"/>
<text x="981.3" y="2048.5" font-size="20" text-anchor="middle" fill="#1a1a1a">A</text>
<line x1="1244.3" y1="2023.9" x2="1244.3" y2="2029.1" stroke="#000" stroke-width="2.3"/>
<text x="1244.3" y="2048.5" font-size="20" text-anchor="middle" fill="#1a1a1a">B</text>
<text x="1119.7" y="2071.5" font-size="21" text-anchor="middle">NETs-cluster</text>
<text x="766.2" y="1812.7" font-size="21" text-anchor="middle" transform="rotate(-90 766.2 1812.7)">NETs-Score</text>
<path d="M981.3 1647.1V1636.6H1244.3V1647.1" fill="none" stroke="#000" stroke-width="1.4"/>
<text x="1112.8" y="1631.3" font-size="18.6" text-anchor="middle">p &lt; 2.22e−16</text>
<text x="987" y="1580.1" font-size="20.5">NETs-cluster</text>
<line x1="1128.7" y1="1560.5" x2="1128.7" y2="1585.2" stroke="#0066FF" stroke-width="1.9"/>
<rect x="1117" y="1565.2" width="23.4" height="15" fill="#fff" stroke="#0066FF" stroke-width="1.9"/>
<line x1="1117" y1="1572.7" x2="1140.4" y2="1572.7" stroke="#0066FF" stroke-width="2.4"/>
<circle cx="1128.7" cy="1572.7" r="3.6" fill="#0066FF"/>
<text x="1153.7" y="1579.6" font-size="15.5">A</text>
<line x1="1189.6" y1="1560.5" x2="1189.6" y2="1585.2" stroke="#FF9900" stroke-width="1.9"/>
<rect x="1177.9" y="1565.2" width="23.4" height="15" fill="#fff" stroke="#FF9900" stroke-width="1.9"/>
<line x1="1177.9" y1="1572.7" x2="1201.3" y2="1572.7" stroke="#FF9900" stroke-width="2.4"/>
<circle cx="1189.6" cy="1572.7" r="3.6" fill="#FF9900"/>
<text x="1215.6" y="1579.6" font-size="15.5">B</text>
</svg>
</body></html>
